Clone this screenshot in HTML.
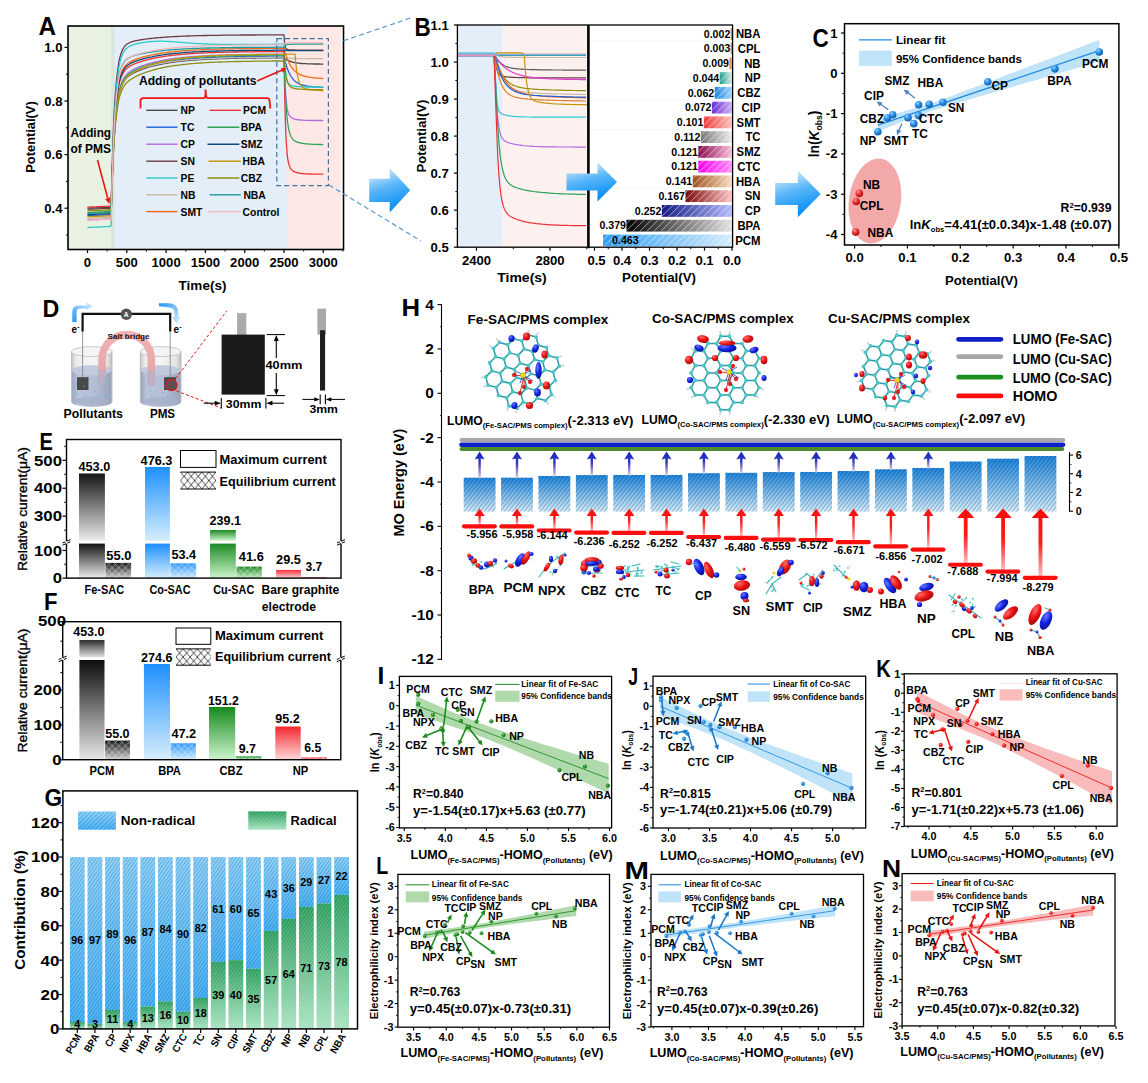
<!DOCTYPE html>
<html><head><meta charset="utf-8"><title>Figure</title>
<style>html,body{margin:0;padding:0;background:#fff}svg{display:block}</style></head><body>
<svg width="1148" height="1083" viewBox="0 0 1148 1083" font-family="'Liberation Sans', sans-serif">
<defs>
<linearGradient id="gArrow" x1="0.2" y1="0" x2="0.5" y2="1"><stop offset="0" stop-color="#e4f4fe"/><stop offset="0.45" stop-color="#5ab6f8"/><stop offset="1" stop-color="#008cf6"/></linearGradient>
<pattern id="hatchW" width="5" height="5" patternUnits="userSpaceOnUse" patternTransform="rotate(-45)"><line x1="0" y1="2.5" x2="5" y2="2.5" stroke="#fff" stroke-width="0.7" stroke-opacity="0.75"/></pattern>
<radialGradient id="sphB" cx="0.35" cy="0.3" r="0.7"><stop offset="0" stop-color="#8fd0ff"/><stop offset="0.5" stop-color="#2a8fe6"/><stop offset="1" stop-color="#0f5fb0"/></radialGradient>
<radialGradient id="sphR" cx="0.35" cy="0.3" r="0.7"><stop offset="0" stop-color="#ff9a9a"/><stop offset="0.5" stop-color="#ee3030"/><stop offset="1" stop-color="#b01010"/></radialGradient>
<radialGradient id="sphG" cx="0.35" cy="0.3" r="0.7"><stop offset="0" stop-color="#9fe09f"/><stop offset="0.5" stop-color="#2f9a2f"/><stop offset="1" stop-color="#0f600f"/></radialGradient>
<linearGradient id="gGlass" x1="0" y1="0" x2="1" y2="0"><stop offset="0" stop-color="#c4c4c4"/><stop offset="0.12" stop-color="#ececec"/><stop offset="0.5" stop-color="#f6f6f6"/><stop offset="0.88" stop-color="#e4e4e4"/><stop offset="1" stop-color="#bdbdbd"/></linearGradient>
<linearGradient id="gLiq" x1="0" y1="0" x2="1" y2="0"><stop offset="0" stop-color="#9aa5c0"/><stop offset="0.15" stop-color="#bcc5da"/><stop offset="0.6" stop-color="#b4bdd4"/><stop offset="1" stop-color="#98a3bd"/></linearGradient>
<linearGradient id="gSalt" x1="0" y1="0" x2="0" y2="1"><stop offset="0" stop-color="#f0b4b4"/><stop offset="0.7" stop-color="#e8a6a8"/><stop offset="1" stop-color="#d4a0ac" stop-opacity="0.7"/></linearGradient>
<linearGradient id="gEarL" x1="0" y1="1" x2="1" y2="0"><stop offset="0" stop-color="#1f94f5"/><stop offset="1" stop-color="#dff1fe"/></linearGradient>
<linearGradient id="gEarR" x1="0" y1="0" x2="1" y2="1"><stop offset="0" stop-color="#1f94f5"/><stop offset="1" stop-color="#dff1fe"/></linearGradient>
<pattern id="xhW" width="6.6" height="6.6" patternUnits="userSpaceOnUse"><path d="M0,0 L6.6,6.6 M6.6,0 L0,6.6" stroke="#fff" stroke-width="0.7" stroke-opacity="0.55"/></pattern>
<linearGradient id="gNR" x1="0" y1="0" x2="0" y2="1"><stop offset="0" stop-color="#8cd3ff"/><stop offset="1" stop-color="#4ab5fb"/></linearGradient>
<linearGradient id="gRad" x1="0" y1="0" x2="0" y2="1"><stop offset="0" stop-color="#2b9c5c"/><stop offset="1" stop-color="#a9e4c1"/></linearGradient>
<pattern id="hatchG" width="2.8" height="8" patternUnits="userSpaceOnUse" patternTransform="rotate(35)"><line x1="1.4" y1="0" x2="1.4" y2="8" stroke="#000" stroke-width="0.4" stroke-opacity="0.7"/></pattern>
<pattern id="hatchGL" width="3.1" height="8" patternUnits="userSpaceOnUse" patternTransform="rotate(45)"><line x1="1.5" y1="0" x2="1.5" y2="8" stroke="#000" stroke-width="0.42" stroke-opacity="0.72"/></pattern>
<pattern id="hatchG2" width="2.8" height="8" patternUnits="userSpaceOnUse" patternTransform="rotate(35)"><line x1="1.4" y1="0" x2="1.4" y2="8" stroke="#d8f4e4" stroke-width="0.45" stroke-opacity="0.6"/></pattern>
<linearGradient id="gHbox" x1="0" y1="0" x2="0" y2="1"><stop offset="0" stop-color="#1f86de"/><stop offset="1" stop-color="#d2ecfb"/></linearGradient>
<pattern id="hatchH" width="3.2" height="8" patternUnits="userSpaceOnUse" patternTransform="rotate(38)"><line x1="1.6" y1="0" x2="1.6" y2="8" stroke="#0a1622" stroke-width="0.5" stroke-opacity="0.62"/></pattern>
<linearGradient id="gBarr" x1="0" y1="0" x2="0" y2="1"><stop offset="0" stop-color="#1226c8"/><stop offset="0.45" stop-color="#3038c0"/><stop offset="1" stop-color="#e8c8e0"/></linearGradient>
<linearGradient id="gRarr" x1="0" y1="0" x2="0" y2="1"><stop offset="0" stop-color="#fa0a0a"/><stop offset="0.5" stop-color="#fa1e1e"/><stop offset="1" stop-color="#fcc0c4"/></linearGradient>
<radialGradient id="lobR" cx="0.35" cy="0.3" r="0.8"><stop offset="0" stop-color="#ff6a6a"/><stop offset="0.5" stop-color="#e81212"/><stop offset="1" stop-color="#a00808"/></radialGradient>
<radialGradient id="lobB" cx="0.35" cy="0.3" r="0.8"><stop offset="0" stop-color="#6a78ff"/><stop offset="0.5" stop-color="#1222e0"/><stop offset="1" stop-color="#0a0e90"/></radialGradient>
<linearGradient id="gB0" x1="0" y1="0" x2="1" y2="0"><stop offset="0" stop-color="#b5651d"/><stop offset="1" stop-color="#e8b080"/></linearGradient>
<linearGradient id="gB1" x1="0" y1="0" x2="1" y2="0"><stop offset="0" stop-color="#b5651d"/><stop offset="1" stop-color="#e8b080"/></linearGradient>
<linearGradient id="gB2" x1="0" y1="0" x2="1" y2="0"><stop offset="0" stop-color="#d07a28"/><stop offset="1" stop-color="#f0c090"/></linearGradient>
<linearGradient id="gB3" x1="0" y1="0" x2="1" y2="0"><stop offset="0" stop-color="#1f9d8a"/><stop offset="1" stop-color="#d4f0ea"/></linearGradient>
<linearGradient id="gB4" x1="0" y1="0" x2="1" y2="0"><stop offset="0" stop-color="#1f86e0"/><stop offset="1" stop-color="#a8d6fa"/></linearGradient>
<linearGradient id="gB5" x1="0" y1="0" x2="1" y2="0"><stop offset="0" stop-color="#6a2fd6"/><stop offset="1" stop-color="#cdb3f4"/></linearGradient>
<linearGradient id="gB6" x1="0" y1="0" x2="1" y2="0"><stop offset="0" stop-color="#f03c3c"/><stop offset="1" stop-color="#fcc0c0"/></linearGradient>
<linearGradient id="gB7" x1="0" y1="0" x2="1" y2="0"><stop offset="0" stop-color="#7a7a7a"/><stop offset="1" stop-color="#ececec"/></linearGradient>
<linearGradient id="gB8" x1="0" y1="0" x2="1" y2="0"><stop offset="0" stop-color="#8b0a50"/><stop offset="1" stop-color="#f9c0dc"/></linearGradient>
<linearGradient id="gB9" x1="0" y1="0" x2="1" y2="0"><stop offset="0" stop-color="#ff00f0"/><stop offset="1" stop-color="#ff90f8"/></linearGradient>
<linearGradient id="gB10" x1="0" y1="0" x2="1" y2="0"><stop offset="0" stop-color="#a0501e"/><stop offset="1" stop-color="#f8dcc0"/></linearGradient>
<linearGradient id="gB11" x1="0" y1="0" x2="1" y2="0"><stop offset="0" stop-color="#7a0c0c"/><stop offset="1" stop-color="#ffc4c4"/></linearGradient>
<linearGradient id="gB12" x1="0" y1="0" x2="1" y2="0"><stop offset="0" stop-color="#141a80"/><stop offset="1" stop-color="#b4bcff"/></linearGradient>
<linearGradient id="gB13" x1="0" y1="0" x2="1" y2="0"><stop offset="0" stop-color="#000000"/><stop offset="1" stop-color="#e4e4e4"/></linearGradient>
<linearGradient id="gB14" x1="0" y1="0" x2="1" y2="0"><stop offset="0" stop-color="#2f9ff5"/><stop offset="1" stop-color="#d4ecfc"/></linearGradient>
<linearGradient id="gEF1" x1="0" y1="0" x2="0" y2="1"><stop offset="0" stop-color="#151515"/><stop offset="1" stop-color="#ececec"/></linearGradient>
<linearGradient id="gEF2" x1="0" y1="0" x2="0" y2="1"><stop offset="0" stop-color="#151515"/><stop offset="1" stop-color="#ececec"/></linearGradient>
<linearGradient id="gEF3" x1="0" y1="0" x2="0" y2="1"><stop offset="0" stop-color="#1a1a1a"/><stop offset="1" stop-color="#d0d0d0"/></linearGradient>
<linearGradient id="gEF4" x1="0" y1="0" x2="0" y2="1"><stop offset="0" stop-color="#1e90ff"/><stop offset="1" stop-color="#d6eefc"/></linearGradient>
<linearGradient id="gEF5" x1="0" y1="0" x2="0" y2="1"><stop offset="0" stop-color="#1e90ff"/><stop offset="1" stop-color="#d6eefc"/></linearGradient>
<linearGradient id="gEF6" x1="0" y1="0" x2="0" y2="1"><stop offset="0" stop-color="#2e98fb"/><stop offset="1" stop-color="#cfeafc"/></linearGradient>
<linearGradient id="gEF7" x1="0" y1="0" x2="0" y2="1"><stop offset="0" stop-color="#1c8a22"/><stop offset="1" stop-color="#ccf4cc"/></linearGradient>
<linearGradient id="gEF8" x1="0" y1="0" x2="0" y2="1"><stop offset="0" stop-color="#1c8a22"/><stop offset="1" stop-color="#ccf4cc"/></linearGradient>
<linearGradient id="gEF9" x1="0" y1="0" x2="0" y2="1"><stop offset="0" stop-color="#1f8a26"/><stop offset="1" stop-color="#c2ecc2"/></linearGradient>
<linearGradient id="gEF10" x1="0" y1="0" x2="0" y2="1"><stop offset="0" stop-color="#f03038"/><stop offset="1" stop-color="#fcd4d4"/></linearGradient>
<linearGradient id="gEF11" x1="0" y1="0" x2="0" y2="1"><stop offset="0" stop-color="#f03038"/><stop offset="1" stop-color="#fbc8c8"/></linearGradient>
<pattern id="xhK472" x="180.5" y="472.1" width="7.1" height="8.45" patternUnits="userSpaceOnUse"><path d="M0,0 L7.1,8.45 M7.1,0 L0,8.45" stroke="#000" stroke-width="0.7"/></pattern>
<linearGradient id="gEF12" x1="0" y1="0" x2="0" y2="1"><stop offset="0" stop-color="#2a2a2a"/><stop offset="1" stop-color="#e4e4e4"/></linearGradient>
<linearGradient id="gEF13" x1="0" y1="0" x2="0" y2="1"><stop offset="0" stop-color="#0c0c0c"/><stop offset="1" stop-color="#e8e8e8"/></linearGradient>
<linearGradient id="gEF14" x1="0" y1="0" x2="0" y2="1"><stop offset="0" stop-color="#1a1a1a"/><stop offset="1" stop-color="#d0d0d0"/></linearGradient>
<linearGradient id="gEF15" x1="0" y1="0" x2="0" y2="1"><stop offset="0" stop-color="#1e90ff"/><stop offset="1" stop-color="#d6eefc"/></linearGradient>
<linearGradient id="gEF16" x1="0" y1="0" x2="0" y2="1"><stop offset="0" stop-color="#2e98fb"/><stop offset="1" stop-color="#cfeafc"/></linearGradient>
<linearGradient id="gEF17" x1="0" y1="0" x2="0" y2="1"><stop offset="0" stop-color="#158a1c"/><stop offset="1" stop-color="#ccf4cc"/></linearGradient>
<linearGradient id="gEF18" x1="0" y1="0" x2="0" y2="1"><stop offset="0" stop-color="#1f8a26"/><stop offset="1" stop-color="#c2ecc2"/></linearGradient>
<linearGradient id="gEF19" x1="0" y1="0" x2="0" y2="1"><stop offset="0" stop-color="#f42830"/><stop offset="1" stop-color="#fcd8d8"/></linearGradient>
<linearGradient id="gEF20" x1="0" y1="0" x2="0" y2="1"><stop offset="0" stop-color="#f03038"/><stop offset="1" stop-color="#fbc8c8"/></linearGradient>
<pattern id="xhK648" x="176" y="648.9" width="7.1" height="8.15" patternUnits="userSpaceOnUse"><path d="M0,0 L7.1,8.15 M7.1,0 L0,8.15" stroke="#000" stroke-width="0.7"/></pattern>
</defs>
<rect width="1148" height="1083" fill="#fff"/>
<rect x="68.00" y="26.00" width="45.44" height="223.50" fill="#e8f1e2" stroke="none" stroke-width="1" />
<rect x="111.08" y="26.00" width="176.06" height="223.50" fill="#e3eef8" stroke="none" stroke-width="1" />
<rect x="111.08" y="26.00" width="3.54" height="223.50" fill="#d8e6e0" stroke="none" stroke-width="1" />
<rect x="287.14" y="26.00" width="53.86" height="223.50" fill="#fde8e6" stroke="none" stroke-width="1" />
<clipPath id="clipA"><rect x="68" y="26" width="275.5" height="223.5"/></clipPath>
<g clip-path="url(#clipA)">
<path d="M87.5,208.2 L89.1,208.1 L90.6,208.1 L92.2,208.0 L93.8,207.9 L95.4,207.8 L96.9,207.8 L98.5,207.7 L100.1,207.6 L101.6,207.6 L103.2,207.5 L104.8,207.4 L106.4,207.3 L107.9,207.3 L109.5,207.2 L111.1,208.2 L111.5,195.2 L111.9,183.5 L112.3,173.0 L112.7,163.6 L113.0,155.1 L113.4,147.5 L113.8,140.7 L114.2,134.5 L114.6,129.0 L115.0,124.0 L115.4,119.5 L115.8,115.5 L116.2,111.8 L116.6,108.5 L117.0,105.5 L117.4,102.8 L117.8,100.4 L118.2,98.2 L118.5,96.2 L118.9,94.4 L119.3,92.7 L119.7,91.2 L120.1,89.8 L120.5,88.6 L120.9,87.4 L121.3,86.4 L121.7,85.4 L122.1,84.5 L122.5,83.7 L122.9,83.0 L123.3,82.3 L123.7,81.6 L124.0,81.0 L124.4,80.4 L124.8,79.9 L125.2,79.4 L125.6,79.0 L126.0,78.5 L126.4,78.1 L126.8,77.7 L127.2,77.3 L127.6,77.0 L128.0,76.7 L128.4,76.3 L128.8,76.0 L129.2,75.7 L129.6,75.4 L129.9,75.2 L130.3,74.9 L130.7,74.7 L131.1,74.4 L131.5,74.2 L131.9,73.9 L132.3,73.7 L132.7,73.5 L133.1,73.3 L133.5,73.1 L133.9,72.9 L134.3,72.7 L134.7,72.5 L135.1,72.3 L135.4,72.1 L135.8,71.9 L136.2,71.7 L136.6,71.6 L137.0,71.4 L137.4,71.2 L137.8,71.1 L138.2,70.9 L138.6,70.7 L139.0,70.6 L139.4,70.4 L139.8,70.3 L140.2,70.1 L140.6,69.9 L140.9,69.8 L141.3,69.7 L141.7,69.5 L142.1,69.4 L142.5,69.2 L144.1,68.7 L145.7,68.2 L147.2,67.7 L148.8,67.2 L150.4,66.7 L152.0,66.3 L153.5,65.9 L155.1,65.5 L156.7,65.2 L158.2,64.8 L159.8,64.5 L161.4,64.1 L163.0,63.8 L164.5,63.6 L166.1,63.3 L167.7,63.0 L169.2,62.8 L170.8,62.5 L172.4,62.3 L174.0,62.1 L175.5,61.9 L177.1,61.7 L178.7,61.5 L180.2,61.3 L181.8,61.1 L183.4,61.0 L185.0,60.8 L186.5,60.6 L188.1,60.5 L189.7,60.4 L191.3,60.2 L192.8,60.1 L194.4,60.0 L196.0,59.9 L197.5,59.8 L199.1,59.7 L200.7,59.6 L202.3,59.5 L203.8,59.4 L205.4,59.3 L207.0,59.2 L208.5,59.2 L210.1,59.1 L211.7,59.0 L213.3,58.9 L214.8,58.9 L216.4,58.8 L218.0,58.8 L219.5,58.7 L221.1,58.7 L222.7,58.6 L224.3,58.6 L225.8,58.5 L227.4,58.5 L229.0,58.4 L230.6,58.4 L232.1,58.4 L233.7,58.3 L235.3,58.3 L236.8,58.3 L238.4,58.2 L240.0,58.2 L241.6,58.2 L243.1,58.1 L244.7,58.1 L246.3,58.1 L247.8,58.1 L249.4,58.0 L251.0,58.0 L252.6,58.0 L254.1,58.0 L255.7,58.0 L257.3,57.9 L258.8,57.9 L260.4,57.9 L262.0,57.9 L263.6,57.9 L265.1,57.9 L266.7,57.9 L268.3,57.8 L269.9,57.8 L271.4,57.8 L273.0,57.8 L274.6,57.8 L276.1,57.8 L277.7,57.8 L279.3,57.8 L280.9,57.8 L282.4,57.8 L284.0,57.6 L284.4,57.9 L284.8,58.3 L285.2,58.6 L285.6,58.9 L286.0,59.2 L286.4,59.4 L286.8,59.7 L287.1,59.9 L287.5,60.1 L287.9,60.3 L288.3,60.5 L288.7,60.7 L289.1,60.9 L289.5,61.1 L289.9,61.2 L290.3,61.4 L290.7,61.5 L291.1,61.6 L291.5,61.8 L291.9,61.9 L292.3,62.0 L292.6,62.1 L293.0,62.2 L293.4,62.3 L293.8,62.4 L294.2,62.5 L294.6,62.6 L295.0,62.6 L295.4,62.7 L295.8,62.8 L296.2,62.8 L296.6,62.9 L297.0,63.0 L297.4,63.0 L297.8,63.1 L298.1,63.1 L298.5,63.2 L298.9,63.2 L299.3,63.3 L299.7,63.3 L300.1,63.3 L300.5,63.4 L300.9,63.4 L301.3,63.4 L301.7,63.5 L302.1,63.5 L302.5,63.5 L302.9,63.6 L303.3,63.6 L303.6,63.6 L304.0,63.6 L304.4,63.6 L304.8,63.7 L305.2,63.7 L305.6,63.7 L306.0,63.7 L306.4,63.7 L306.8,63.8 L307.2,63.8 L307.6,63.8 L309.2,63.8 L310.7,63.9 L312.3,63.9 L313.9,64.0 L315.4,64.0 L317.0,64.0 L318.6,64.0 L320.2,64.1 L321.7,64.1 L323.3,64.1" stroke="#4a4a4a" stroke-width="1.3" fill="none" stroke-linejoin="round" />
<path d="M87.5,215.7 L89.1,215.6 L90.6,215.6 L92.2,215.5 L93.8,215.4 L95.4,215.3 L96.9,215.3 L98.5,215.2 L100.1,215.1 L101.6,215.1 L103.2,215.0 L104.8,214.9 L106.4,214.8 L107.9,214.8 L109.5,214.7 L111.1,215.7 L111.5,201.9 L111.9,189.5 L112.3,178.4 L112.7,168.4 L113.0,159.4 L113.4,151.3 L113.8,144.1 L114.2,137.6 L114.6,131.7 L115.0,126.4 L115.4,121.6 L115.8,117.4 L116.2,113.5 L116.6,110.0 L117.0,106.8 L117.4,104.0 L117.8,101.4 L118.2,99.1 L118.5,96.9 L118.9,95.0 L119.3,93.2 L119.7,91.6 L120.1,90.2 L120.5,88.9 L120.9,87.6 L121.3,86.5 L121.7,85.5 L122.1,84.6 L122.5,83.7 L122.9,82.9 L123.3,82.1 L123.7,81.5 L124.0,80.8 L124.4,80.2 L124.8,79.7 L125.2,79.1 L125.6,78.6 L126.0,78.2 L126.4,77.7 L126.8,77.3 L127.2,76.9 L127.6,76.6 L128.0,76.2 L128.4,75.9 L128.8,75.5 L129.2,75.2 L129.6,74.9 L129.9,74.6 L130.3,74.4 L130.7,74.1 L131.1,73.8 L131.5,73.6 L131.9,73.3 L132.3,73.1 L132.7,72.9 L133.1,72.6 L133.5,72.4 L133.9,72.2 L134.3,72.0 L134.7,71.8 L135.1,71.6 L135.4,71.4 L135.8,71.2 L136.2,71.0 L136.6,70.8 L137.0,70.6 L137.4,70.4 L137.8,70.3 L138.2,70.1 L138.6,69.9 L139.0,69.7 L139.4,69.6 L139.8,69.4 L140.2,69.2 L140.6,69.1 L140.9,68.9 L141.3,68.8 L141.7,68.6 L142.1,68.5 L142.5,68.3 L144.1,67.7 L145.7,67.2 L147.2,66.7 L148.8,66.2 L150.4,65.7 L152.0,65.2 L153.5,64.8 L155.1,64.4 L156.7,64.0 L158.2,63.6 L159.8,63.3 L161.4,62.9 L163.0,62.6 L164.5,62.3 L166.1,62.0 L167.7,61.7 L169.2,61.5 L170.8,61.2 L172.4,61.0 L174.0,60.7 L175.5,60.5 L177.1,60.3 L178.7,60.1 L180.2,59.9 L181.8,59.7 L183.4,59.5 L185.0,59.4 L186.5,59.2 L188.1,59.1 L189.7,58.9 L191.3,58.8 L192.8,58.7 L194.4,58.5 L196.0,58.4 L197.5,58.3 L199.1,58.2 L200.7,58.1 L202.3,58.0 L203.8,57.9 L205.4,57.8 L207.0,57.7 L208.5,57.6 L210.1,57.6 L211.7,57.5 L213.3,57.4 L214.8,57.4 L216.4,57.3 L218.0,57.2 L219.5,57.2 L221.1,57.1 L222.7,57.1 L224.3,57.0 L225.8,57.0 L227.4,56.9 L229.0,56.9 L230.6,56.8 L232.1,56.8 L233.7,56.8 L235.3,56.7 L236.8,56.7 L238.4,56.7 L240.0,56.6 L241.6,56.6 L243.1,56.6 L244.7,56.5 L246.3,56.5 L247.8,56.5 L249.4,56.5 L251.0,56.4 L252.6,56.4 L254.1,56.4 L255.7,56.4 L257.3,56.4 L258.8,56.3 L260.4,56.3 L262.0,56.3 L263.6,56.3 L265.1,56.3 L266.7,56.3 L268.3,56.2 L269.9,56.2 L271.4,56.2 L273.0,56.2 L274.6,56.2 L276.1,56.2 L277.7,56.2 L279.3,56.2 L280.9,56.2 L282.4,56.2 L284.0,56.0 L284.4,57.8 L284.8,59.5 L285.2,61.2 L285.6,62.7 L286.0,64.1 L286.4,65.5 L286.8,66.7 L287.1,67.9 L287.5,69.0 L287.9,70.1 L288.3,71.1 L288.7,72.0 L289.1,72.8 L289.5,73.7 L289.9,74.4 L290.3,75.1 L290.7,75.8 L291.1,76.5 L291.5,77.1 L291.9,77.6 L292.3,78.2 L292.6,78.7 L293.0,79.1 L293.4,79.6 L293.8,80.0 L294.2,80.4 L294.6,80.7 L295.0,81.1 L295.4,81.4 L295.8,81.7 L296.2,82.0 L296.6,82.3 L297.0,82.6 L297.4,82.8 L297.8,83.0 L298.1,83.3 L298.5,83.5 L298.9,83.7 L299.3,83.8 L299.7,84.0 L300.1,84.2 L300.5,84.3 L300.9,84.5 L301.3,84.6 L301.7,84.8 L302.1,84.9 L302.5,85.0 L302.9,85.1 L303.3,85.2 L303.6,85.3 L304.0,85.4 L304.4,85.5 L304.8,85.6 L305.2,85.7 L305.6,85.8 L306.0,85.8 L306.4,85.9 L306.8,86.0 L307.2,86.0 L307.6,86.1 L309.2,86.3 L310.7,86.5 L312.3,86.7 L313.9,86.8 L315.4,86.9 L317.0,87.0 L318.6,87.1 L320.2,87.2 L321.7,87.3 L323.3,87.3" stroke="#1f62d8" stroke-width="1.3" fill="none" stroke-linejoin="round" />
<path d="M87.5,220.0 L89.1,219.9 L90.6,219.8 L92.2,219.8 L93.8,219.7 L95.4,219.6 L96.9,219.6 L98.5,219.5 L100.1,219.4 L101.6,219.3 L103.2,219.3 L104.8,219.2 L106.4,219.1 L107.9,219.1 L109.5,219.0 L111.1,220.0 L111.5,205.3 L111.9,192.2 L112.3,180.4 L112.7,169.8 L113.0,160.3 L113.4,151.7 L113.8,144.1 L114.2,137.2 L114.6,131.0 L115.0,125.4 L115.4,120.4 L115.8,115.8 L116.2,111.8 L116.6,108.1 L117.0,104.8 L117.4,101.8 L117.8,99.1 L118.2,96.6 L118.5,94.4 L118.9,92.4 L119.3,90.5 L119.7,88.9 L120.1,87.4 L120.5,86.0 L120.9,84.7 L121.3,83.6 L121.7,82.5 L122.1,81.6 L122.5,80.7 L122.9,79.8 L123.3,79.1 L123.7,78.4 L124.0,77.7 L124.4,77.1 L124.8,76.6 L125.2,76.0 L125.6,75.6 L126.0,75.1 L126.4,74.7 L126.8,74.2 L127.2,73.9 L127.6,73.5 L128.0,73.1 L128.4,72.8 L128.8,72.5 L129.2,72.2 L129.6,71.9 L129.9,71.6 L130.3,71.4 L130.7,71.1 L131.1,70.8 L131.5,70.6 L131.9,70.4 L132.3,70.1 L132.7,69.9 L133.1,69.7 L133.5,69.5 L133.9,69.3 L134.3,69.1 L134.7,68.9 L135.1,68.7 L135.4,68.5 L135.8,68.3 L136.2,68.1 L136.6,68.0 L137.0,67.8 L137.4,67.6 L137.8,67.5 L138.2,67.3 L138.6,67.1 L139.0,67.0 L139.4,66.8 L139.8,66.7 L140.2,66.5 L140.6,66.4 L140.9,66.2 L141.3,66.1 L141.7,65.9 L142.1,65.8 L142.5,65.6 L144.1,65.1 L145.7,64.6 L147.2,64.1 L148.8,63.6 L150.4,63.2 L152.0,62.8 L153.5,62.4 L155.1,62.0 L156.7,61.6 L158.2,61.3 L159.8,60.9 L161.4,60.6 L163.0,60.3 L164.5,60.0 L166.1,59.7 L167.7,59.5 L169.2,59.2 L170.8,59.0 L172.4,58.8 L174.0,58.5 L175.5,58.3 L177.1,58.1 L178.7,58.0 L180.2,57.8 L181.8,57.6 L183.4,57.4 L185.0,57.3 L186.5,57.1 L188.1,57.0 L189.7,56.9 L191.3,56.7 L192.8,56.6 L194.4,56.5 L196.0,56.4 L197.5,56.3 L199.1,56.2 L200.7,56.1 L202.3,56.0 L203.8,55.9 L205.4,55.8 L207.0,55.7 L208.5,55.7 L210.1,55.6 L211.7,55.5 L213.3,55.5 L214.8,55.4 L216.4,55.3 L218.0,55.3 L219.5,55.2 L221.1,55.2 L222.7,55.1 L224.3,55.1 L225.8,55.0 L227.4,55.0 L229.0,54.9 L230.6,54.9 L232.1,54.9 L233.7,54.8 L235.3,54.8 L236.8,54.8 L238.4,54.7 L240.0,54.7 L241.6,54.7 L243.1,54.6 L244.7,54.6 L246.3,54.6 L247.8,54.6 L249.4,54.6 L251.0,54.5 L252.6,54.5 L254.1,54.5 L255.7,54.5 L257.3,54.5 L258.8,54.4 L260.4,54.4 L262.0,54.4 L263.6,54.4 L265.1,54.4 L266.7,54.4 L268.3,54.4 L269.9,54.3 L271.4,54.3 L273.0,54.3 L274.6,54.3 L276.1,54.3 L277.7,54.3 L279.3,54.3 L280.9,54.3 L282.4,54.3 L284.0,54.1 L284.4,67.8 L284.8,78.4 L285.2,86.8 L285.6,93.3 L286.0,98.4 L286.4,102.5 L286.8,105.7 L287.1,108.2 L287.5,110.2 L287.9,111.8 L288.3,113.1 L288.7,114.1 L289.1,115.0 L289.5,115.7 L289.9,116.2 L290.3,116.7 L290.7,117.1 L291.1,117.4 L291.5,117.7 L291.9,118.0 L292.3,118.2 L292.6,118.4 L293.0,118.6 L293.4,118.7 L293.8,118.8 L294.2,119.0 L294.6,119.1 L295.0,119.2 L295.4,119.3 L295.8,119.4 L296.2,119.4 L296.6,119.5 L297.0,119.6 L297.4,119.6 L297.8,119.7 L298.1,119.8 L298.5,119.8 L298.9,119.9 L299.3,119.9 L299.7,119.9 L300.1,120.0 L300.5,120.0 L300.9,120.0 L301.3,120.1 L301.7,120.1 L302.1,120.1 L302.5,120.2 L302.9,120.2 L303.3,120.2 L303.6,120.2 L304.0,120.3 L304.4,120.3 L304.8,120.3 L305.2,120.3 L305.6,120.3 L306.0,120.3 L306.4,120.4 L306.8,120.4 L307.2,120.4 L307.6,120.4 L309.2,120.4 L310.7,120.5 L312.3,120.5 L313.9,120.5 L315.4,120.5 L317.0,120.5 L318.6,120.5 L320.2,120.5 L321.7,120.5 L323.3,120.6" stroke="#b36be0" stroke-width="1.3" fill="none" stroke-linejoin="round" />
<path d="M87.5,209.3 L89.1,209.2 L90.6,209.1 L92.2,209.1 L93.8,209.0 L95.4,208.9 L96.9,208.8 L98.5,208.8 L100.1,208.7 L101.6,208.6 L103.2,208.6 L104.8,208.5 L106.4,208.4 L107.9,208.3 L109.5,208.3 L111.1,209.3 L111.5,192.1 L111.9,176.7 L112.3,162.8 L112.7,150.5 L113.0,139.4 L113.4,129.5 L113.8,120.6 L114.2,112.6 L114.6,105.5 L115.0,99.1 L115.4,93.3 L115.8,88.2 L116.2,83.5 L116.6,79.4 L117.0,75.7 L117.4,72.3 L117.8,69.3 L118.2,66.6 L118.5,64.2 L118.9,62.0 L119.3,60.0 L119.7,58.3 L120.1,56.7 L120.5,55.3 L120.9,54.0 L121.3,52.8 L121.7,51.7 L122.1,50.8 L122.5,49.9 L122.9,49.1 L123.3,48.4 L123.7,47.8 L124.0,47.2 L124.4,46.7 L124.8,46.2 L125.2,45.7 L125.6,45.3 L126.0,45.0 L126.4,44.6 L126.8,44.3 L127.2,44.0 L127.6,43.7 L128.0,43.5 L128.4,43.3 L128.8,43.0 L129.2,42.8 L129.6,42.7 L129.9,42.5 L130.3,42.3 L130.7,42.2 L131.1,42.0 L131.5,41.9 L131.9,41.8 L132.3,41.6 L132.7,41.5 L133.1,41.4 L133.5,41.3 L133.9,41.2 L134.3,41.1 L134.7,41.0 L135.1,40.9 L135.4,40.8 L135.8,40.7 L136.2,40.6 L136.6,40.6 L137.0,40.5 L137.4,40.4 L137.8,40.3 L138.2,40.3 L138.6,40.2 L139.0,40.1 L139.4,40.0 L139.8,40.0 L140.2,39.9 L140.6,39.8 L140.9,39.8 L141.3,39.7 L141.7,39.7 L142.1,39.6 L142.5,39.5 L144.1,39.3 L145.7,39.1 L147.2,38.9 L148.8,38.7 L150.4,38.5 L152.0,38.3 L153.5,38.2 L155.1,38.0 L156.7,37.9 L158.2,37.7 L159.8,37.6 L161.4,37.5 L163.0,37.3 L164.5,37.2 L166.1,37.1 L167.7,37.0 L169.2,36.9 L170.8,36.8 L172.4,36.7 L174.0,36.6 L175.5,36.5 L177.1,36.5 L178.7,36.4 L180.2,36.3 L181.8,36.2 L183.4,36.2 L185.0,36.1 L186.5,36.0 L188.1,36.0 L189.7,35.9 L191.3,35.9 L192.8,35.8 L194.4,35.8 L196.0,35.7 L197.5,35.7 L199.1,35.7 L200.7,35.6 L202.3,35.6 L203.8,35.5 L205.4,35.5 L207.0,35.5 L208.5,35.4 L210.1,35.4 L211.7,35.4 L213.3,35.4 L214.8,35.3 L216.4,35.3 L218.0,35.3 L219.5,35.3 L221.1,35.2 L222.7,35.2 L224.3,35.2 L225.8,35.2 L227.4,35.2 L229.0,35.1 L230.6,35.1 L232.1,35.1 L233.7,35.1 L235.3,35.1 L236.8,35.1 L238.4,35.1 L240.0,35.1 L241.6,35.0 L243.1,35.0 L244.7,35.0 L246.3,35.0 L247.8,35.0 L249.4,35.0 L251.0,35.0 L252.6,35.0 L254.1,35.0 L255.7,35.0 L257.3,34.9 L258.8,34.9 L260.4,34.9 L262.0,34.9 L263.6,34.9 L265.1,34.9 L266.7,34.9 L268.3,34.9 L269.9,34.9 L271.4,34.9 L273.0,34.9 L274.6,34.9 L276.1,34.9 L277.7,34.9 L279.3,34.9 L280.9,34.9 L282.4,34.9 L284.0,34.8 L284.4,41.1 L284.8,44.6 L285.2,46.7 L285.6,47.8 L286.0,48.5 L286.4,49.0 L286.8,49.2 L287.1,49.4 L287.5,49.5 L287.9,49.6 L288.3,49.7 L288.7,49.8 L289.1,49.8 L289.5,49.8 L289.9,49.9 L290.3,49.9 L290.7,49.9 L291.1,50.0 L291.5,50.0 L291.9,50.0 L292.3,50.0 L292.6,50.0 L293.0,50.0 L293.4,50.0 L293.8,50.0 L294.2,50.0 L294.6,50.0 L295.0,50.1 L295.4,50.1 L295.8,50.1 L296.2,50.1 L296.6,50.1 L297.0,50.1 L297.4,50.1 L297.8,50.1 L298.1,50.1 L298.5,50.1 L298.9,50.1 L299.3,50.1 L299.7,50.1 L300.1,50.1 L300.5,50.1 L300.9,50.1 L301.3,50.1 L301.7,50.1 L302.1,50.1 L302.5,50.1 L302.9,50.1 L303.3,50.1 L303.6,50.1 L304.0,50.1 L304.4,50.1 L304.8,50.1 L305.2,50.1 L305.6,50.1 L306.0,50.1 L306.4,50.1 L306.8,50.1 L307.2,50.1 L307.6,50.1 L309.2,50.1 L310.7,50.1 L312.3,50.1 L313.9,50.1 L315.4,50.1 L317.0,50.1 L318.6,50.1 L320.2,50.1 L321.7,50.1 L323.3,50.1" stroke="#6e3b44" stroke-width="1.3" fill="none" stroke-linejoin="round" />
<path d="M87.5,227.5 L89.1,227.4 L90.6,227.4 L92.2,227.3 L93.8,227.2 L95.4,227.1 L96.9,227.1 L98.5,227.0 L100.1,226.9 L101.6,226.9 L103.2,226.8 L104.8,226.7 L106.4,226.6 L107.9,226.6 L109.5,226.5 L111.1,225.5 L111.5,207.1 L111.9,190.5 L112.3,175.7 L112.7,162.4 L113.0,150.6 L113.4,139.9 L113.8,130.4 L114.2,121.8 L114.6,114.1 L115.0,107.3 L115.4,101.1 L115.8,95.6 L116.2,90.6 L116.6,86.1 L117.0,82.1 L117.4,78.5 L117.8,75.3 L118.2,72.4 L118.5,69.8 L118.9,67.5 L119.3,65.3 L119.7,63.4 L120.1,61.7 L120.5,60.2 L120.9,58.8 L121.3,57.5 L121.7,56.4 L122.1,55.3 L122.5,54.4 L122.9,53.5 L123.3,52.8 L123.7,52.0 L124.0,51.4 L124.4,50.8 L124.8,50.3 L125.2,49.8 L125.6,49.3 L126.0,48.9 L126.4,48.5 L126.8,48.2 L127.2,47.9 L127.6,47.6 L128.0,47.3 L128.4,47.0 L128.8,46.8 L129.2,46.5 L129.6,46.3 L129.9,46.1 L130.3,45.9 L130.7,45.7 L131.1,45.6 L131.5,45.4 L131.9,45.2 L132.3,45.1 L132.7,45.0 L133.1,44.8 L133.5,44.7 L133.9,44.6 L134.3,44.4 L134.7,44.3 L135.1,44.2 L135.4,44.1 L135.8,44.0 L136.2,43.9 L136.6,43.8 L137.0,43.7 L137.4,43.6 L137.8,43.5 L138.2,43.4 L138.6,43.3 L139.0,43.3 L139.4,43.2 L139.8,43.1 L140.2,43.0 L140.6,42.9 L140.9,42.9 L141.3,42.8 L141.7,42.7 L142.1,42.7 L142.5,42.6 L144.1,42.3 L145.7,42.1 L147.2,41.9 L148.8,41.8 L150.4,41.6 L152.0,41.5 L153.5,41.4 L155.1,41.3 L156.7,41.3 L158.2,41.2 L159.8,41.2 L161.4,41.2 L163.0,41.2 L164.5,41.3 L166.1,41.3 L167.7,41.4 L169.2,41.5 L170.8,41.6 L172.4,41.7 L174.0,41.8 L175.5,41.9 L177.1,42.0 L178.7,42.2 L180.2,42.3 L181.8,42.4 L183.4,42.6 L185.0,42.7 L186.5,42.8 L188.1,42.9 L189.7,43.1 L191.3,43.2 L192.8,43.3 L194.4,43.4 L196.0,43.5 L197.5,43.6 L199.1,43.7 L200.7,43.7 L202.3,43.8 L203.8,43.9 L205.4,44.0 L207.0,44.0 L208.5,44.1 L210.1,44.1 L211.7,44.1 L213.3,44.2 L214.8,44.2 L216.4,44.2 L218.0,44.3 L219.5,44.3 L221.1,44.3 L222.7,44.3 L224.3,44.3 L225.8,44.3 L227.4,44.3 L229.0,44.3 L230.6,44.3 L232.1,44.3 L233.7,44.3 L235.3,44.3 L236.8,44.3 L238.4,44.3 L240.0,44.3 L241.6,44.3 L243.1,44.3 L244.7,44.3 L246.3,44.3 L247.8,44.3 L249.4,44.3 L251.0,44.3 L252.6,44.3 L254.1,44.3 L255.7,44.3 L257.3,44.3 L258.8,44.3 L260.4,44.3 L262.0,44.3 L263.6,44.3 L265.1,44.3 L266.7,44.3 L268.3,44.3 L269.9,44.3 L271.4,44.3 L273.0,44.3 L274.6,44.2 L276.1,44.2 L277.7,44.2 L279.3,44.2 L280.9,44.2 L282.4,44.2 L284.0,44.2 L284.4,53.9 L284.8,61.3 L285.2,66.9 L285.6,71.2 L286.0,74.4 L286.4,76.9 L286.8,78.8 L287.1,80.3 L287.5,81.5 L287.9,82.4 L288.3,83.1 L288.7,83.7 L289.1,84.1 L289.5,84.5 L289.9,84.8 L290.3,85.0 L290.7,85.2 L291.1,85.4 L291.5,85.6 L291.9,85.7 L292.3,85.8 L292.6,85.9 L293.0,86.0 L293.4,86.1 L293.8,86.2 L294.2,86.2 L294.6,86.3 L295.0,86.4 L295.4,86.4 L295.8,86.5 L296.2,86.5 L296.6,86.5 L297.0,86.6 L297.4,86.6 L297.8,86.6 L298.1,86.7 L298.5,86.7 L298.9,86.7 L299.3,86.7 L299.7,86.8 L300.1,86.8 L300.5,86.8 L300.9,86.8 L301.3,86.8 L301.7,86.9 L302.1,86.9 L302.5,86.9 L302.9,86.9 L303.3,86.9 L303.6,86.9 L304.0,86.9 L304.4,86.9 L304.8,86.9 L305.2,87.0 L305.6,87.0 L306.0,87.0 L306.4,87.0 L306.8,87.0 L307.2,87.0 L307.6,87.0 L309.2,87.0 L310.7,87.0 L312.3,87.0 L313.9,87.0 L315.4,87.0 L317.0,87.1 L318.6,87.1 L320.2,87.1 L321.7,87.1 L323.3,87.1" stroke="#2cc9c9" stroke-width="1.3" fill="none" stroke-linejoin="round" />
<path d="M87.5,218.4 L89.1,218.3 L90.6,218.2 L92.2,218.2 L93.8,218.1 L95.4,218.0 L96.9,218.0 L98.5,217.9 L100.1,217.8 L101.6,217.7 L103.2,217.7 L104.8,217.6 L106.4,217.5 L107.9,217.5 L109.5,217.4 L111.1,218.4 L111.5,204.1 L111.9,191.3 L112.3,179.9 L112.7,169.6 L113.0,160.3 L113.4,152.0 L113.8,144.5 L114.2,137.8 L114.6,131.8 L115.0,126.4 L115.4,121.5 L115.8,117.1 L116.2,113.1 L116.6,109.6 L117.0,106.3 L117.4,103.4 L117.8,100.8 L118.2,98.4 L118.5,96.2 L118.9,94.3 L119.3,92.5 L119.7,90.9 L120.1,89.4 L120.5,88.1 L120.9,86.8 L121.3,85.7 L121.7,84.7 L122.1,83.8 L122.5,82.9 L122.9,82.1 L123.3,81.3 L123.7,80.7 L124.0,80.0 L124.4,79.4 L124.8,78.9 L125.2,78.4 L125.6,77.9 L126.0,77.5 L126.4,77.0 L126.8,76.6 L127.2,76.3 L127.6,75.9 L128.0,75.6 L128.4,75.2 L128.8,74.9 L129.2,74.6 L129.6,74.4 L129.9,74.1 L130.3,73.8 L130.7,73.6 L131.1,73.3 L131.5,73.1 L131.9,72.9 L132.3,72.6 L132.7,72.4 L133.1,72.2 L133.5,72.0 L133.9,71.8 L134.3,71.6 L134.7,71.4 L135.1,71.2 L135.4,71.1 L135.8,70.9 L136.2,70.7 L136.6,70.5 L137.0,70.4 L137.4,70.2 L137.8,70.0 L138.2,69.9 L138.6,69.7 L139.0,69.6 L139.4,69.4 L139.8,69.3 L140.2,69.1 L140.6,69.0 L140.9,68.8 L141.3,68.7 L141.7,68.5 L142.1,68.4 L142.5,68.3 L144.1,67.7 L145.7,67.2 L147.2,66.8 L148.8,66.3 L150.4,65.9 L152.0,65.5 L153.5,65.1 L155.1,64.7 L156.7,64.3 L158.2,64.0 L159.8,63.7 L161.4,63.4 L163.0,63.1 L164.5,62.8 L166.1,62.5 L167.7,62.3 L169.2,62.0 L170.8,61.8 L172.4,61.6 L174.0,61.4 L175.5,61.2 L177.1,61.0 L178.7,60.8 L180.2,60.6 L181.8,60.5 L183.4,60.3 L185.0,60.1 L186.5,60.0 L188.1,59.9 L189.7,59.7 L191.3,59.6 L192.8,59.5 L194.4,59.4 L196.0,59.3 L197.5,59.2 L199.1,59.1 L200.7,59.0 L202.3,58.9 L203.8,58.8 L205.4,58.7 L207.0,58.6 L208.5,58.6 L210.1,58.5 L211.7,58.4 L213.3,58.4 L214.8,58.3 L216.4,58.2 L218.0,58.2 L219.5,58.1 L221.1,58.1 L222.7,58.0 L224.3,58.0 L225.8,57.9 L227.4,57.9 L229.0,57.9 L230.6,57.8 L232.1,57.8 L233.7,57.8 L235.3,57.7 L236.8,57.7 L238.4,57.7 L240.0,57.6 L241.6,57.6 L243.1,57.6 L244.7,57.6 L246.3,57.5 L247.8,57.5 L249.4,57.5 L251.0,57.5 L252.6,57.4 L254.1,57.4 L255.7,57.4 L257.3,57.4 L258.8,57.4 L260.4,57.4 L262.0,57.3 L263.6,57.3 L265.1,57.3 L266.7,57.3 L268.3,57.3 L269.9,57.3 L271.4,57.3 L273.0,57.3 L274.6,57.3 L276.1,57.2 L277.7,57.2 L279.3,57.2 L280.9,57.2 L282.4,57.2 L284.0,57.0 L284.4,57.2 L284.8,57.4 L285.2,57.5 L285.6,57.6 L286.0,57.7 L286.4,57.8 L286.8,57.9 L287.1,58.0 L287.5,58.0 L287.9,58.1 L288.3,58.1 L288.7,58.2 L289.1,58.2 L289.5,58.3 L289.9,58.3 L290.3,58.3 L290.7,58.4 L291.1,58.4 L291.5,58.4 L291.9,58.4 L292.3,58.4 L292.6,58.5 L293.0,58.5 L293.4,58.5 L293.8,58.5 L294.2,58.5 L294.6,58.5 L295.0,58.5 L295.4,58.5 L295.8,58.5 L296.2,58.5 L296.6,58.6 L297.0,58.6 L297.4,58.6 L297.8,58.6 L298.1,58.6 L298.5,58.6 L298.9,58.6 L299.3,58.6 L299.7,58.6 L300.1,58.6 L300.5,58.6 L300.9,58.6 L301.3,58.6 L301.7,58.6 L302.1,58.6 L302.5,58.6 L302.9,58.6 L303.3,58.6 L303.6,58.6 L304.0,58.6 L304.4,58.6 L304.8,58.6 L305.2,58.6 L305.6,58.6 L306.0,58.6 L306.4,58.6 L306.8,58.6 L307.2,58.6 L307.6,58.6 L309.2,58.6 L310.7,58.6 L312.3,58.6 L313.9,58.6 L315.4,58.6 L317.0,58.6 L318.6,58.6 L320.2,58.6 L321.7,58.6 L323.3,58.6" stroke="#c9b9a2" stroke-width="1.3" fill="none" stroke-linejoin="round" />
<path d="M87.5,213.6 L89.1,213.5 L90.6,213.4 L92.2,213.3 L93.8,213.3 L95.4,213.2 L96.9,213.1 L98.5,213.1 L100.1,213.0 L101.6,212.9 L103.2,212.8 L104.8,212.8 L106.4,212.7 L107.9,212.6 L109.5,212.6 L111.1,213.6 L111.5,198.3 L111.9,184.7 L112.3,172.4 L112.7,161.5 L113.0,151.6 L113.4,142.8 L113.8,134.8 L114.2,127.7 L114.6,121.3 L115.0,115.6 L115.4,110.4 L115.8,105.8 L116.2,101.6 L116.6,97.8 L117.0,94.4 L117.4,91.4 L117.8,88.6 L118.2,86.1 L118.5,83.9 L118.9,81.9 L119.3,80.0 L119.7,78.4 L120.1,76.9 L120.5,75.5 L120.9,74.2 L121.3,73.1 L121.7,72.1 L122.1,71.1 L122.5,70.3 L122.9,69.5 L123.3,68.7 L123.7,68.1 L124.0,67.5 L124.4,66.9 L124.8,66.4 L125.2,65.9 L125.6,65.4 L126.0,65.0 L126.4,64.6 L126.8,64.3 L127.2,63.9 L127.6,63.6 L128.0,63.3 L128.4,63.0 L128.8,62.7 L129.2,62.4 L129.6,62.2 L129.9,62.0 L130.3,61.7 L130.7,61.5 L131.1,61.3 L131.5,61.1 L131.9,60.9 L132.3,60.7 L132.7,60.5 L133.1,60.4 L133.5,60.2 L133.9,60.0 L134.3,59.9 L134.7,59.7 L135.1,59.6 L135.4,59.4 L135.8,59.3 L136.2,59.1 L136.6,59.0 L137.0,58.8 L137.4,58.7 L137.8,58.6 L138.2,58.5 L138.6,58.3 L139.0,58.2 L139.4,58.1 L139.8,58.0 L140.2,57.8 L140.6,57.7 L140.9,57.6 L141.3,57.5 L141.7,57.4 L142.1,57.3 L142.5,57.2 L144.1,56.7 L145.7,56.3 L147.2,56.0 L148.8,55.6 L150.4,55.2 L152.0,54.9 L153.5,54.6 L155.1,54.3 L156.7,54.0 L158.2,53.8 L159.8,53.5 L161.4,53.2 L163.0,53.0 L164.5,52.8 L166.1,52.6 L167.7,52.4 L169.2,52.2 L170.8,52.0 L172.4,51.8 L174.0,51.7 L175.5,51.5 L177.1,51.3 L178.7,51.2 L180.2,51.1 L181.8,50.9 L183.4,50.8 L185.0,50.7 L186.5,50.6 L188.1,50.4 L189.7,50.3 L191.3,50.2 L192.8,50.2 L194.4,50.1 L196.0,50.0 L197.5,49.9 L199.1,49.8 L200.7,49.7 L202.3,49.7 L203.8,49.6 L205.4,49.5 L207.0,49.5 L208.5,49.4 L210.1,49.4 L211.7,49.3 L213.3,49.3 L214.8,49.2 L216.4,49.2 L218.0,49.1 L219.5,49.1 L221.1,49.0 L222.7,49.0 L224.3,49.0 L225.8,48.9 L227.4,48.9 L229.0,48.9 L230.6,48.8 L232.1,48.8 L233.7,48.8 L235.3,48.7 L236.8,48.7 L238.4,48.7 L240.0,48.7 L241.6,48.6 L243.1,48.6 L244.7,48.6 L246.3,48.6 L247.8,48.6 L249.4,48.6 L251.0,48.5 L252.6,48.5 L254.1,48.5 L255.7,48.5 L257.3,48.5 L258.8,48.5 L260.4,48.5 L262.0,48.4 L263.6,48.4 L265.1,48.4 L266.7,48.4 L268.3,48.4 L269.9,48.4 L271.4,48.4 L273.0,48.4 L274.6,48.4 L276.1,48.4 L277.7,48.4 L279.3,48.3 L280.9,48.3 L282.4,48.3 L284.0,48.2 L284.4,49.7 L284.8,51.2 L285.2,52.5 L285.6,53.8 L286.0,55.1 L286.4,56.3 L286.8,57.4 L287.1,58.4 L287.5,59.4 L287.9,60.4 L288.3,61.2 L288.7,62.1 L289.1,62.9 L289.5,63.7 L289.9,64.4 L290.3,65.1 L290.7,65.7 L291.1,66.4 L291.5,66.9 L291.9,67.5 L292.3,68.0 L292.6,68.5 L293.0,69.0 L293.4,69.5 L293.8,69.9 L294.2,70.3 L294.6,70.7 L295.0,71.1 L295.4,71.4 L295.8,71.8 L296.2,72.1 L296.6,72.4 L297.0,72.7 L297.4,72.9 L297.8,73.2 L298.1,73.4 L298.5,73.7 L298.9,73.9 L299.3,74.1 L299.7,74.3 L300.1,74.5 L300.5,74.7 L300.9,74.9 L301.3,75.0 L301.7,75.2 L302.1,75.4 L302.5,75.5 L302.9,75.6 L303.3,75.8 L303.6,75.9 L304.0,76.0 L304.4,76.1 L304.8,76.2 L305.2,76.3 L305.6,76.4 L306.0,76.5 L306.4,76.6 L306.8,76.7 L307.2,76.8 L307.6,76.9 L309.2,77.2 L310.7,77.4 L312.3,77.6 L313.9,77.8 L315.4,78.0 L317.0,78.1 L318.6,78.2 L320.2,78.3 L321.7,78.4 L323.3,78.5" stroke="#f26a1b" stroke-width="1.3" fill="none" stroke-linejoin="round" />
<path d="M87.5,207.1 L89.1,207.1 L90.6,207.0 L92.2,206.9 L93.8,206.8 L95.4,206.8 L96.9,206.7 L98.5,206.6 L100.1,206.6 L101.6,206.5 L103.2,206.4 L104.8,206.3 L106.4,206.3 L107.9,206.2 L109.5,206.1 L111.1,207.1 L111.5,193.1 L111.9,180.5 L112.3,169.2 L112.7,159.0 L113.0,149.9 L113.4,141.8 L113.8,134.4 L114.2,127.8 L114.6,121.9 L115.0,116.6 L115.4,111.8 L115.8,107.5 L116.2,103.6 L116.6,100.1 L117.0,97.0 L117.4,94.1 L117.8,91.6 L118.2,89.2 L118.5,87.1 L118.9,85.2 L119.3,83.5 L119.7,81.9 L120.1,80.5 L120.5,79.2 L120.9,78.1 L121.3,77.0 L121.7,76.0 L122.1,75.1 L122.5,74.3 L122.9,73.5 L123.3,72.8 L123.7,72.2 L124.0,71.6 L124.4,71.0 L124.8,70.5 L125.2,70.0 L125.6,69.6 L126.0,69.2 L126.4,68.8 L126.8,68.4 L127.2,68.1 L127.6,67.8 L128.0,67.5 L128.4,67.2 L128.8,66.9 L129.2,66.6 L129.6,66.4 L129.9,66.1 L130.3,65.9 L130.7,65.7 L131.1,65.4 L131.5,65.2 L131.9,65.0 L132.3,64.8 L132.7,64.7 L133.1,64.5 L133.5,64.3 L133.9,64.1 L134.3,63.9 L134.7,63.8 L135.1,63.6 L135.4,63.5 L135.8,63.3 L136.2,63.2 L136.6,63.0 L137.0,62.9 L137.4,62.7 L137.8,62.6 L138.2,62.4 L138.6,62.3 L139.0,62.2 L139.4,62.0 L139.8,61.9 L140.2,61.8 L140.6,61.7 L140.9,61.5 L141.3,61.4 L141.7,61.3 L142.1,61.2 L142.5,61.1 L144.1,60.6 L145.7,60.2 L147.2,59.8 L148.8,59.4 L150.4,59.0 L152.0,58.6 L153.5,58.3 L155.1,58.0 L156.7,57.7 L158.2,57.4 L159.8,57.1 L161.4,56.8 L163.0,56.6 L164.5,56.4 L166.1,56.1 L167.7,55.9 L169.2,55.7 L170.8,55.5 L172.4,55.3 L174.0,55.1 L175.5,55.0 L177.1,54.8 L178.7,54.6 L180.2,54.5 L181.8,54.3 L183.4,54.2 L185.0,54.1 L186.5,54.0 L188.1,53.8 L189.7,53.7 L191.3,53.6 L192.8,53.5 L194.4,53.4 L196.0,53.3 L197.5,53.2 L199.1,53.2 L200.7,53.1 L202.3,53.0 L203.8,52.9 L205.4,52.9 L207.0,52.8 L208.5,52.7 L210.1,52.7 L211.7,52.6 L213.3,52.5 L214.8,52.5 L216.4,52.4 L218.0,52.4 L219.5,52.4 L221.1,52.3 L222.7,52.3 L224.3,52.2 L225.8,52.2 L227.4,52.2 L229.0,52.1 L230.6,52.1 L232.1,52.1 L233.7,52.0 L235.3,52.0 L236.8,52.0 L238.4,51.9 L240.0,51.9 L241.6,51.9 L243.1,51.9 L244.7,51.9 L246.3,51.8 L247.8,51.8 L249.4,51.8 L251.0,51.8 L252.6,51.8 L254.1,51.7 L255.7,51.7 L257.3,51.7 L258.8,51.7 L260.4,51.7 L262.0,51.7 L263.6,51.7 L265.1,51.7 L266.7,51.6 L268.3,51.6 L269.9,51.6 L271.4,51.6 L273.0,51.6 L274.6,51.6 L276.1,51.6 L277.7,51.6 L279.3,51.6 L280.9,51.6 L282.4,51.6 L284.0,51.4 L284.4,78.3 L284.8,99.0 L285.2,114.8 L285.6,127.0 L286.0,136.4 L286.4,143.6 L286.8,149.3 L287.1,153.7 L287.5,157.1 L287.9,159.8 L288.3,162.0 L288.7,163.7 L289.1,165.1 L289.5,166.2 L289.9,167.2 L290.3,167.9 L290.7,168.6 L291.1,169.1 L291.5,169.6 L291.9,170.0 L292.3,170.3 L292.6,170.7 L293.0,170.9 L293.4,171.2 L293.8,171.4 L294.2,171.6 L294.6,171.8 L295.0,172.0 L295.4,172.1 L295.8,172.3 L296.2,172.4 L296.6,172.5 L297.0,172.6 L297.4,172.7 L297.8,172.8 L298.1,172.9 L298.5,173.0 L298.9,173.1 L299.3,173.2 L299.7,173.2 L300.1,173.3 L300.5,173.3 L300.9,173.4 L301.3,173.4 L301.7,173.5 L302.1,173.5 L302.5,173.6 L302.9,173.6 L303.3,173.7 L303.6,173.7 L304.0,173.7 L304.4,173.7 L304.8,173.8 L305.2,173.8 L305.6,173.8 L306.0,173.8 L306.4,173.9 L306.8,173.9 L307.2,173.9 L307.6,173.9 L309.2,174.0 L310.7,174.0 L312.3,174.1 L313.9,174.1 L315.4,174.1 L317.0,174.1 L318.6,174.1 L320.2,174.1 L321.7,174.1 L323.3,174.1" stroke="#ee3338" stroke-width="1.3" fill="none" stroke-linejoin="round" />
<path d="M87.5,212.5 L89.1,212.4 L90.6,212.3 L92.2,212.3 L93.8,212.2 L95.4,212.1 L96.9,212.1 L98.5,212.0 L100.1,211.9 L101.6,211.8 L103.2,211.8 L104.8,211.7 L106.4,211.6 L107.9,211.6 L109.5,211.5 L111.1,212.5 L111.5,198.9 L111.9,186.6 L112.3,175.6 L112.7,165.8 L113.0,156.9 L113.4,149.0 L113.8,141.8 L114.2,135.4 L114.6,129.6 L115.0,124.4 L115.4,119.7 L115.8,115.5 L116.2,111.6 L116.6,108.2 L117.0,105.1 L117.4,102.3 L117.8,99.7 L118.2,97.4 L118.5,95.3 L118.9,93.4 L119.3,91.7 L119.7,90.1 L120.1,88.7 L120.5,87.3 L120.9,86.1 L121.3,85.0 L121.7,84.0 L122.1,83.1 L122.5,82.2 L122.9,81.5 L123.3,80.7 L123.7,80.0 L124.0,79.4 L124.4,78.8 L124.8,78.3 L125.2,77.7 L125.6,77.3 L126.0,76.8 L126.4,76.4 L126.8,76.0 L127.2,75.6 L127.6,75.2 L128.0,74.9 L128.4,74.5 L128.8,74.2 L129.2,73.9 L129.6,73.6 L129.9,73.3 L130.3,73.0 L130.7,72.8 L131.1,72.5 L131.5,72.3 L131.9,72.0 L132.3,71.8 L132.7,71.6 L133.1,71.3 L133.5,71.1 L133.9,70.9 L134.3,70.7 L134.7,70.5 L135.1,70.3 L135.4,70.1 L135.8,69.9 L136.2,69.7 L136.6,69.5 L137.0,69.4 L137.4,69.2 L137.8,69.0 L138.2,68.8 L138.6,68.7 L139.0,68.5 L139.4,68.3 L139.8,68.2 L140.2,68.0 L140.6,67.8 L140.9,67.7 L141.3,67.5 L141.7,67.4 L142.1,67.2 L142.5,67.1 L144.1,66.5 L145.7,66.0 L147.2,65.4 L148.8,65.0 L150.4,64.5 L152.0,64.0 L153.5,63.6 L155.1,63.2 L156.7,62.8 L158.2,62.5 L159.8,62.1 L161.4,61.8 L163.0,61.5 L164.5,61.1 L166.1,60.9 L167.7,60.6 L169.2,60.3 L170.8,60.1 L172.4,59.8 L174.0,59.6 L175.5,59.4 L177.1,59.2 L178.7,59.0 L180.2,58.8 L181.8,58.6 L183.4,58.4 L185.0,58.3 L186.5,58.1 L188.1,58.0 L189.7,57.8 L191.3,57.7 L192.8,57.6 L194.4,57.4 L196.0,57.3 L197.5,57.2 L199.1,57.1 L200.7,57.0 L202.3,56.9 L203.8,56.8 L205.4,56.7 L207.0,56.6 L208.5,56.5 L210.1,56.5 L211.7,56.4 L213.3,56.3 L214.8,56.3 L216.4,56.2 L218.0,56.1 L219.5,56.1 L221.1,56.0 L222.7,56.0 L224.3,55.9 L225.8,55.9 L227.4,55.8 L229.0,55.8 L230.6,55.7 L232.1,55.7 L233.7,55.7 L235.3,55.6 L236.8,55.6 L238.4,55.6 L240.0,55.5 L241.6,55.5 L243.1,55.5 L244.7,55.5 L246.3,55.4 L247.8,55.4 L249.4,55.4 L251.0,55.4 L252.6,55.3 L254.1,55.3 L255.7,55.3 L257.3,55.3 L258.8,55.3 L260.4,55.2 L262.0,55.2 L263.6,55.2 L265.1,55.2 L266.7,55.2 L268.3,55.2 L269.9,55.2 L271.4,55.1 L273.0,55.1 L274.6,55.1 L276.1,55.1 L277.7,55.1 L279.3,55.1 L280.9,55.1 L282.4,55.1 L284.0,54.9 L284.4,68.3 L284.8,79.6 L285.2,89.0 L285.6,97.0 L286.0,103.7 L286.4,109.4 L286.8,114.2 L287.1,118.2 L287.5,121.6 L287.9,124.5 L288.3,127.0 L288.7,129.1 L289.1,130.9 L289.5,132.4 L289.9,133.7 L290.3,134.9 L290.7,135.8 L291.1,136.7 L291.5,137.4 L291.9,138.1 L292.3,138.6 L292.6,139.1 L293.0,139.5 L293.4,139.9 L293.8,140.2 L294.2,140.5 L294.6,140.8 L295.0,141.1 L295.4,141.3 L295.8,141.5 L296.2,141.7 L296.6,141.8 L297.0,142.0 L297.4,142.1 L297.8,142.3 L298.1,142.4 L298.5,142.5 L298.9,142.6 L299.3,142.7 L299.7,142.8 L300.1,142.9 L300.5,143.0 L300.9,143.1 L301.3,143.1 L301.7,143.2 L302.1,143.3 L302.5,143.3 L302.9,143.4 L303.3,143.5 L303.6,143.5 L304.0,143.6 L304.4,143.6 L304.8,143.7 L305.2,143.7 L305.6,143.8 L306.0,143.8 L306.4,143.8 L306.8,143.9 L307.2,143.9 L307.6,143.9 L309.2,144.1 L310.7,144.2 L312.3,144.3 L313.9,144.3 L315.4,144.4 L317.0,144.4 L318.6,144.5 L320.2,144.5 L321.7,144.5 L323.3,144.6" stroke="#2ca35a" stroke-width="1.3" fill="none" stroke-linejoin="round" />
<path d="M87.5,214.6 L89.1,214.6 L90.6,214.5 L92.2,214.4 L93.8,214.3 L95.4,214.3 L96.9,214.2 L98.5,214.1 L100.1,214.1 L101.6,214.0 L103.2,213.9 L104.8,213.8 L106.4,213.8 L107.9,213.7 L109.5,213.6 L111.1,214.6 L111.5,199.5 L111.9,185.9 L112.3,173.7 L112.7,162.8 L113.0,153.0 L113.4,144.2 L113.8,136.3 L114.2,129.2 L114.6,122.8 L115.0,117.1 L115.4,112.0 L115.8,107.4 L116.2,103.2 L116.6,99.5 L117.0,96.1 L117.4,93.0 L117.8,90.3 L118.2,87.8 L118.5,85.6 L118.9,83.6 L119.3,81.7 L119.7,80.1 L120.1,78.6 L120.5,77.2 L120.9,76.0 L121.3,74.9 L121.7,73.8 L122.1,72.9 L122.5,72.0 L122.9,71.2 L123.3,70.5 L123.7,69.9 L124.0,69.3 L124.4,68.7 L124.8,68.2 L125.2,67.7 L125.6,67.2 L126.0,66.8 L126.4,66.4 L126.8,66.1 L127.2,65.7 L127.6,65.4 L128.0,65.1 L128.4,64.8 L128.8,64.5 L129.2,64.3 L129.6,64.0 L129.9,63.8 L130.3,63.5 L130.7,63.3 L131.1,63.1 L131.5,62.9 L131.9,62.7 L132.3,62.5 L132.7,62.4 L133.1,62.2 L133.5,62.0 L133.9,61.9 L134.3,61.7 L134.7,61.5 L135.1,61.4 L135.4,61.2 L135.8,61.1 L136.2,60.9 L136.6,60.8 L137.0,60.7 L137.4,60.5 L137.8,60.4 L138.2,60.3 L138.6,60.2 L139.0,60.0 L139.4,59.9 L139.8,59.8 L140.2,59.7 L140.6,59.5 L140.9,59.4 L141.3,59.3 L141.7,59.2 L142.1,59.1 L142.5,59.0 L144.1,58.6 L145.7,58.2 L147.2,57.8 L148.8,57.4 L150.4,57.1 L152.0,56.8 L153.5,56.4 L155.1,56.2 L156.7,55.9 L158.2,55.6 L159.8,55.3 L161.4,55.1 L163.0,54.9 L164.5,54.6 L166.1,54.4 L167.7,54.2 L169.2,54.0 L170.8,53.9 L172.4,53.7 L174.0,53.5 L175.5,53.3 L177.1,53.2 L178.7,53.1 L180.2,52.9 L181.8,52.8 L183.4,52.7 L185.0,52.5 L186.5,52.4 L188.1,52.3 L189.7,52.2 L191.3,52.1 L192.8,52.0 L194.4,51.9 L196.0,51.8 L197.5,51.8 L199.1,51.7 L200.7,51.6 L202.3,51.5 L203.8,51.5 L205.4,51.4 L207.0,51.3 L208.5,51.3 L210.1,51.2 L211.7,51.2 L213.3,51.1 L214.8,51.1 L216.4,51.0 L218.0,51.0 L219.5,50.9 L221.1,50.9 L222.7,50.9 L224.3,50.8 L225.8,50.8 L227.4,50.8 L229.0,50.7 L230.6,50.7 L232.1,50.7 L233.7,50.6 L235.3,50.6 L236.8,50.6 L238.4,50.6 L240.0,50.5 L241.6,50.5 L243.1,50.5 L244.7,50.5 L246.3,50.5 L247.8,50.4 L249.4,50.4 L251.0,50.4 L252.6,50.4 L254.1,50.4 L255.7,50.4 L257.3,50.4 L258.8,50.3 L260.4,50.3 L262.0,50.3 L263.6,50.3 L265.1,50.3 L266.7,50.3 L268.3,50.3 L269.9,50.3 L271.4,50.3 L273.0,50.3 L274.6,50.2 L276.1,50.2 L277.7,50.2 L279.3,50.2 L280.9,50.2 L282.4,50.2 L284.0,50.1 L284.4,50.2 L284.8,50.3 L285.2,50.3 L285.6,50.4 L286.0,50.4 L286.4,50.5 L286.8,50.5 L287.1,50.5 L287.5,50.5 L287.9,50.5 L288.3,50.5 L288.7,50.6 L289.1,50.6 L289.5,50.6 L289.9,50.6 L290.3,50.6 L290.7,50.6 L291.1,50.6 L291.5,50.6 L291.9,50.6 L292.3,50.6 L292.6,50.6 L293.0,50.6 L293.4,50.6 L293.8,50.6 L294.2,50.6 L294.6,50.6 L295.0,50.6 L295.4,50.6 L295.8,50.6 L296.2,50.6 L296.6,50.6 L297.0,50.6 L297.4,50.6 L297.8,50.6 L298.1,50.6 L298.5,50.6 L298.9,50.6 L299.3,50.6 L299.7,50.6 L300.1,50.6 L300.5,50.6 L300.9,50.6 L301.3,50.6 L301.7,50.6 L302.1,50.6 L302.5,50.6 L302.9,50.6 L303.3,50.6 L303.6,50.6 L304.0,50.6 L304.4,50.6 L304.8,50.6 L305.2,50.6 L305.6,50.6 L306.0,50.6 L306.4,50.6 L306.8,50.6 L307.2,50.6 L307.6,50.6 L309.2,50.6 L310.7,50.6 L312.3,50.6 L313.9,50.6 L315.4,50.6 L317.0,50.6 L318.6,50.6 L320.2,50.6 L321.7,50.6 L323.3,50.6" stroke="#134a78" stroke-width="1.3" fill="none" stroke-linejoin="round" />
<path d="M87.5,216.8 L89.1,216.7 L90.6,216.6 L92.2,216.6 L93.8,216.5 L95.4,216.4 L96.9,216.3 L98.5,216.3 L100.1,216.2 L101.6,216.1 L103.2,216.1 L104.8,216.0 L106.4,215.9 L107.9,215.8 L109.5,215.8 L111.1,216.8 L111.5,203.0 L111.9,190.7 L112.3,179.6 L112.7,169.6 L113.0,160.6 L113.4,152.6 L113.8,145.3 L114.2,138.8 L114.6,132.9 L115.0,127.6 L115.4,122.9 L115.8,118.6 L116.2,114.7 L116.6,111.2 L117.0,108.0 L117.4,105.1 L117.8,102.5 L118.2,100.2 L118.5,98.0 L118.9,96.1 L119.3,94.3 L119.7,92.7 L120.1,91.2 L120.5,89.8 L120.9,88.6 L121.3,87.4 L121.7,86.4 L122.1,85.4 L122.5,84.5 L122.9,83.7 L123.3,82.9 L123.7,82.2 L124.0,81.5 L124.4,80.9 L124.8,80.3 L125.2,79.7 L125.6,79.2 L126.0,78.7 L126.4,78.3 L126.8,77.8 L127.2,77.4 L127.6,77.0 L128.0,76.6 L128.4,76.3 L128.8,75.9 L129.2,75.6 L129.6,75.2 L129.9,74.9 L130.3,74.6 L130.7,74.3 L131.1,74.0 L131.5,73.8 L131.9,73.5 L132.3,73.2 L132.7,73.0 L133.1,72.7 L133.5,72.5 L133.9,72.2 L134.3,72.0 L134.7,71.8 L135.1,71.6 L135.4,71.3 L135.8,71.1 L136.2,70.9 L136.6,70.7 L137.0,70.5 L137.4,70.3 L137.8,70.1 L138.2,69.9 L138.6,69.7 L139.0,69.5 L139.4,69.3 L139.8,69.1 L140.2,69.0 L140.6,68.8 L140.9,68.6 L141.3,68.4 L141.7,68.3 L142.1,68.1 L142.5,67.9 L144.1,67.3 L145.7,66.7 L147.2,66.1 L148.8,65.5 L150.4,65.0 L152.0,64.5 L153.5,64.0 L155.1,63.5 L156.7,63.1 L158.2,62.7 L159.8,62.3 L161.4,61.9 L163.0,61.5 L164.5,61.2 L166.1,60.9 L167.7,60.5 L169.2,60.2 L170.8,60.0 L172.4,59.7 L174.0,59.4 L175.5,59.2 L177.1,58.9 L178.7,58.7 L180.2,58.5 L181.8,58.3 L183.4,58.1 L185.0,57.9 L186.5,57.7 L188.1,57.6 L189.7,57.4 L191.3,57.3 L192.8,57.1 L194.4,57.0 L196.0,56.8 L197.5,56.7 L199.1,56.6 L200.7,56.5 L202.3,56.4 L203.8,56.3 L205.4,56.2 L207.0,56.1 L208.5,56.0 L210.1,55.9 L211.7,55.8 L213.3,55.7 L214.8,55.6 L216.4,55.6 L218.0,55.5 L219.5,55.4 L221.1,55.4 L222.7,55.3 L224.3,55.3 L225.8,55.2 L227.4,55.2 L229.0,55.1 L230.6,55.1 L232.1,55.0 L233.7,55.0 L235.3,54.9 L236.8,54.9 L238.4,54.9 L240.0,54.8 L241.6,54.8 L243.1,54.8 L244.7,54.7 L246.3,54.7 L247.8,54.7 L249.4,54.6 L251.0,54.6 L252.6,54.6 L254.1,54.6 L255.7,54.5 L257.3,54.5 L258.8,54.5 L260.4,54.5 L262.0,54.5 L263.6,54.5 L265.1,54.4 L266.7,54.4 L268.3,54.4 L269.9,54.4 L271.4,54.4 L273.0,54.4 L274.6,54.4 L276.1,54.3 L277.7,54.3 L279.3,54.3 L280.9,54.3 L282.4,54.3 L284.0,54.1 L284.4,54.1 L284.8,54.1 L285.2,54.1 L285.6,54.1 L286.0,54.1 L286.4,54.1 L286.8,54.1 L287.1,54.1 L287.5,54.1 L287.9,54.1 L288.3,54.1 L288.7,54.1 L289.1,54.1 L289.5,54.1 L289.9,54.1 L290.3,54.1 L290.7,54.1 L291.1,54.1 L291.5,54.1 L291.9,54.1 L292.3,54.1 L292.6,54.1 L293.0,54.1 L293.4,54.1 L293.8,54.1 L294.2,54.1 L294.6,54.1 L295.0,54.1 L295.4,59.0 L295.8,63.2 L296.2,66.8 L296.6,69.9 L297.0,72.6 L297.4,74.9 L297.8,76.8 L298.1,78.5 L298.5,80.0 L298.9,81.2 L299.3,82.3 L299.7,83.3 L300.1,84.1 L300.5,84.8 L300.9,85.4 L301.3,85.9 L301.7,86.4 L302.1,86.8 L302.5,87.2 L302.9,87.5 L303.3,87.7 L303.6,88.0 L304.0,88.2 L304.4,88.4 L304.8,88.6 L305.2,88.7 L305.6,88.9 L306.0,89.0 L306.4,89.1 L306.8,89.2 L307.2,89.3 L307.6,89.4 L309.2,89.7 L310.7,89.9 L312.3,90.0 L313.9,90.1 L315.4,90.2 L317.0,90.3 L318.6,90.4 L320.2,90.5 L321.7,90.5 L323.3,90.6" stroke="#c8960f" stroke-width="1.3" fill="none" stroke-linejoin="round" />
<path d="M87.5,210.9 L89.1,210.8 L90.6,210.7 L92.2,210.7 L93.8,210.6 L95.4,210.5 L96.9,210.5 L98.5,210.4 L100.1,210.3 L101.6,210.2 L103.2,210.2 L104.8,210.1 L106.4,210.0 L107.9,210.0 L109.5,209.9 L111.1,210.9 L111.5,198.2 L111.9,186.8 L112.3,176.5 L112.7,167.3 L113.0,159.1 L113.4,151.6 L113.8,145.0 L114.2,138.9 L114.6,133.5 L115.0,128.6 L115.4,124.2 L115.8,120.3 L116.2,116.7 L116.6,113.5 L117.0,110.5 L117.4,107.9 L117.8,105.5 L118.2,103.3 L118.5,101.3 L118.9,99.5 L119.3,97.9 L119.7,96.4 L120.1,95.0 L120.5,93.7 L120.9,92.6 L121.3,91.5 L121.7,90.6 L122.1,89.7 L122.5,88.8 L122.9,88.1 L123.3,87.4 L123.7,86.7 L124.0,86.1 L124.4,85.5 L124.8,85.0 L125.2,84.5 L125.6,84.0 L126.0,83.5 L126.4,83.1 L126.8,82.7 L127.2,82.3 L127.6,81.9 L128.0,81.6 L128.4,81.2 L128.8,80.9 L129.2,80.6 L129.6,80.3 L129.9,80.0 L130.3,79.7 L130.7,79.5 L131.1,79.2 L131.5,78.9 L131.9,78.7 L132.3,78.5 L132.7,78.2 L133.1,78.0 L133.5,77.8 L133.9,77.5 L134.3,77.3 L134.7,77.1 L135.1,76.9 L135.4,76.7 L135.8,76.5 L136.2,76.3 L136.6,76.1 L137.0,75.9 L137.4,75.7 L137.8,75.6 L138.2,75.4 L138.6,75.2 L139.0,75.0 L139.4,74.9 L139.8,74.7 L140.2,74.5 L140.6,74.3 L140.9,74.2 L141.3,74.0 L141.7,73.9 L142.1,73.7 L142.5,73.6 L144.1,73.0 L145.7,72.4 L147.2,71.8 L148.8,71.3 L150.4,70.8 L152.0,70.4 L153.5,69.9 L155.1,69.5 L156.7,69.1 L158.2,68.7 L159.8,68.3 L161.4,68.0 L163.0,67.7 L164.5,67.3 L166.1,67.0 L167.7,66.7 L169.2,66.5 L170.8,66.2 L172.4,66.0 L174.0,65.7 L175.5,65.5 L177.1,65.3 L178.7,65.1 L180.2,64.9 L181.8,64.7 L183.4,64.5 L185.0,64.3 L186.5,64.2 L188.1,64.0 L189.7,63.9 L191.3,63.7 L192.8,63.6 L194.4,63.4 L196.0,63.3 L197.5,63.2 L199.1,63.1 L200.7,63.0 L202.3,62.9 L203.8,62.8 L205.4,62.7 L207.0,62.6 L208.5,62.5 L210.1,62.4 L211.7,62.4 L213.3,62.3 L214.8,62.2 L216.4,62.2 L218.0,62.1 L219.5,62.0 L221.1,62.0 L222.7,61.9 L224.3,61.9 L225.8,61.8 L227.4,61.8 L229.0,61.7 L230.6,61.7 L232.1,61.6 L233.7,61.6 L235.3,61.6 L236.8,61.5 L238.4,61.5 L240.0,61.5 L241.6,61.4 L243.1,61.4 L244.7,61.4 L246.3,61.3 L247.8,61.3 L249.4,61.3 L251.0,61.3 L252.6,61.3 L254.1,61.2 L255.7,61.2 L257.3,61.2 L258.8,61.2 L260.4,61.2 L262.0,61.1 L263.6,61.1 L265.1,61.1 L266.7,61.1 L268.3,61.1 L269.9,61.1 L271.4,61.1 L273.0,61.0 L274.6,61.0 L276.1,61.0 L277.7,61.0 L279.3,61.0 L280.9,61.0 L282.4,61.0 L284.0,60.8 L284.4,65.1 L284.8,68.7 L285.2,71.8 L285.6,74.4 L286.0,76.5 L286.4,78.4 L286.8,79.9 L287.1,81.2 L287.5,82.3 L287.9,83.3 L288.3,84.0 L288.7,84.7 L289.1,85.3 L289.5,85.8 L289.9,86.2 L290.3,86.6 L290.7,86.9 L291.1,87.2 L291.5,87.4 L291.9,87.6 L292.3,87.8 L292.6,87.9 L293.0,88.1 L293.4,88.2 L293.8,88.3 L294.2,88.4 L294.6,88.5 L295.0,88.6 L295.4,88.6 L295.8,88.7 L296.2,88.8 L296.6,88.8 L297.0,88.9 L297.4,88.9 L297.8,89.0 L298.1,89.0 L298.5,89.0 L298.9,89.1 L299.3,89.1 L299.7,89.1 L300.1,89.2 L300.5,89.2 L300.9,89.2 L301.3,89.2 L301.7,89.3 L302.1,89.3 L302.5,89.3 L302.9,89.3 L303.3,89.4 L303.6,89.4 L304.0,89.4 L304.4,89.4 L304.8,89.4 L305.2,89.4 L305.6,89.4 L306.0,89.5 L306.4,89.5 L306.8,89.5 L307.2,89.5 L307.6,89.5 L309.2,89.5 L310.7,89.6 L312.3,89.6 L313.9,89.6 L315.4,89.6 L317.0,89.7 L318.6,89.7 L320.2,89.7 L321.7,89.7 L323.3,89.7" stroke="#8f8e10" stroke-width="1.3" fill="none" stroke-linejoin="round" />
<path d="M87.5,213.6 L89.1,213.5 L90.6,213.4 L92.2,213.3 L93.8,213.3 L95.4,213.2 L96.9,213.1 L98.5,213.1 L100.1,213.0 L101.6,212.9 L103.2,212.8 L104.8,212.8 L106.4,212.7 L107.9,212.6 L109.5,212.6 L111.1,213.6 L111.5,197.6 L111.9,183.3 L112.3,170.5 L112.7,159.0 L113.0,148.8 L113.4,139.5 L113.8,131.3 L114.2,123.8 L114.6,117.2 L115.0,111.2 L115.4,105.9 L115.8,101.0 L116.2,96.7 L116.6,92.8 L117.0,89.3 L117.4,86.2 L117.8,83.4 L118.2,80.8 L118.5,78.5 L118.9,76.5 L119.3,74.6 L119.7,72.9 L120.1,71.4 L120.5,70.0 L120.9,68.8 L121.3,67.7 L121.7,66.7 L122.1,65.7 L122.5,64.9 L122.9,64.1 L123.3,63.4 L123.7,62.8 L124.0,62.2 L124.4,61.7 L124.8,61.2 L125.2,60.7 L125.6,60.3 L126.0,59.9 L126.4,59.6 L126.8,59.2 L127.2,58.9 L127.6,58.6 L128.0,58.4 L128.4,58.1 L128.8,57.9 L129.2,57.7 L129.6,57.5 L129.9,57.3 L130.3,57.1 L130.7,56.9 L131.1,56.7 L131.5,56.6 L131.9,56.4 L132.3,56.3 L132.7,56.1 L133.1,56.0 L133.5,55.8 L133.9,55.7 L134.3,55.6 L134.7,55.5 L135.1,55.4 L135.4,55.2 L135.8,55.1 L136.2,55.0 L136.6,54.9 L137.0,54.8 L137.4,54.7 L137.8,54.6 L138.2,54.5 L138.6,54.4 L139.0,54.3 L139.4,54.2 L139.8,54.2 L140.2,54.1 L140.6,54.0 L140.9,53.9 L141.3,53.8 L141.7,53.7 L142.1,53.7 L142.5,53.6 L144.1,53.3 L145.7,53.0 L147.2,52.7 L148.8,52.4 L150.4,52.2 L152.0,52.0 L153.5,51.7 L155.1,51.5 L156.7,51.3 L158.2,51.1 L159.8,50.9 L161.4,50.8 L163.0,50.6 L164.5,50.4 L166.1,50.3 L167.7,50.1 L169.2,50.0 L170.8,49.9 L172.4,49.7 L174.0,49.6 L175.5,49.5 L177.1,49.4 L178.7,49.3 L180.2,49.2 L181.8,49.1 L183.4,49.0 L185.0,48.9 L186.5,48.8 L188.1,48.7 L189.7,48.7 L191.3,48.6 L192.8,48.5 L194.4,48.5 L196.0,48.4 L197.5,48.3 L199.1,48.3 L200.7,48.2 L202.3,48.2 L203.8,48.1 L205.4,48.1 L207.0,48.0 L208.5,48.0 L210.1,48.0 L211.7,47.9 L213.3,47.9 L214.8,47.9 L216.4,47.8 L218.0,47.8 L219.5,47.8 L221.1,47.7 L222.7,47.7 L224.3,47.7 L225.8,47.6 L227.4,47.6 L229.0,47.6 L230.6,47.6 L232.1,47.6 L233.7,47.5 L235.3,47.5 L236.8,47.5 L238.4,47.5 L240.0,47.5 L241.6,47.5 L243.1,47.4 L244.7,47.4 L246.3,47.4 L247.8,47.4 L249.4,47.4 L251.0,47.4 L252.6,47.4 L254.1,47.4 L255.7,47.3 L257.3,47.3 L258.8,47.3 L260.4,47.3 L262.0,47.3 L263.6,47.3 L265.1,47.3 L266.7,47.3 L268.3,47.3 L269.9,47.3 L271.4,47.3 L273.0,47.3 L274.6,47.2 L276.1,47.2 L277.7,47.2 L279.3,47.2 L280.9,47.2 L282.4,47.2 L284.0,47.1 L284.4,46.3 L284.8,45.7 L285.2,45.3 L285.6,45.1 L286.0,44.8 L286.4,44.7 L286.8,44.6 L287.1,44.5 L287.5,44.4 L287.9,44.4 L288.3,44.4 L288.7,44.3 L289.1,44.3 L289.5,44.3 L289.9,44.3 L290.3,44.3 L290.7,44.3 L291.1,44.3 L291.5,44.3 L291.9,44.2 L292.3,44.2 L292.6,44.2 L293.0,44.2 L293.4,44.2 L293.8,44.2 L294.2,44.2 L294.6,44.2 L295.0,44.2 L295.4,44.2 L295.8,44.2 L296.2,44.2 L296.6,44.2 L297.0,44.2 L297.4,44.2 L297.8,44.2 L298.1,44.2 L298.5,44.2 L298.9,44.2 L299.3,44.2 L299.7,44.2 L300.1,44.2 L300.5,44.2 L300.9,44.2 L301.3,44.2 L301.7,44.2 L302.1,44.2 L302.5,44.2 L302.9,44.2 L303.3,44.2 L303.6,44.2 L304.0,44.2 L304.4,44.2 L304.8,44.2 L305.2,44.2 L305.6,44.2 L306.0,44.2 L306.4,44.2 L306.8,44.2 L307.2,44.2 L307.6,44.2 L309.2,44.2 L310.7,44.2 L312.3,44.2 L313.9,44.2 L315.4,44.2 L317.0,44.2 L318.6,44.2 L320.2,44.2 L321.7,44.2 L323.3,44.2" stroke="#1f9d9a" stroke-width="1.3" fill="none" stroke-linejoin="round" />
<path d="M87.5,220.3 L89.1,220.2 L90.6,220.1 L92.2,220.0 L93.8,220.0 L95.4,219.9 L96.9,219.8 L98.5,219.8 L100.1,219.7 L101.6,219.6 L103.2,219.5 L104.8,219.5 L106.4,219.4 L107.9,219.3 L109.5,219.3 L111.1,220.3 L111.5,203.8 L111.9,189.0 L112.3,175.7 L112.7,163.9 L113.0,153.2 L113.4,143.6 L113.8,135.1 L114.2,127.4 L114.6,120.5 L115.0,114.3 L115.4,108.7 L115.8,103.7 L116.2,99.2 L116.6,95.2 L117.0,91.5 L117.4,88.2 L117.8,85.3 L118.2,82.6 L118.5,80.2 L118.9,78.1 L119.3,76.1 L119.7,74.3 L120.1,72.7 L120.5,71.3 L120.9,70.0 L121.3,68.8 L121.7,67.7 L122.1,66.7 L122.5,65.8 L122.9,65.0 L123.3,64.2 L123.7,63.5 L124.0,62.9 L124.4,62.3 L124.8,61.8 L125.2,61.3 L125.6,60.8 L126.0,60.4 L126.4,60.0 L126.8,59.6 L127.2,59.3 L127.6,58.9 L128.0,58.6 L128.4,58.4 L128.8,58.1 L129.2,57.8 L129.6,57.6 L129.9,57.4 L130.3,57.1 L130.7,56.9 L131.1,56.7 L131.5,56.5 L131.9,56.4 L132.3,56.2 L132.7,56.0 L133.1,55.8 L133.5,55.7 L133.9,55.5 L134.3,55.4 L134.7,55.2 L135.1,55.1 L135.4,54.9 L135.8,54.8 L136.2,54.7 L136.6,54.5 L137.0,54.4 L137.4,54.3 L137.8,54.2 L138.2,54.1 L138.6,53.9 L139.0,53.8 L139.4,53.7 L139.8,53.6 L140.2,53.5 L140.6,53.4 L140.9,53.3 L141.3,53.2 L141.7,53.1 L142.1,53.0 L142.5,52.9 L144.1,52.5 L145.7,52.1 L147.2,51.8 L148.8,51.4 L150.4,51.1 L152.0,50.8 L153.5,50.5 L155.1,50.3 L156.7,50.0 L158.2,49.8 L159.8,49.5 L161.4,49.3 L163.0,49.1 L164.5,48.9 L166.1,48.7 L167.7,48.5 L169.2,48.3 L170.8,48.2 L172.4,48.0 L174.0,47.9 L175.5,47.7 L177.1,47.6 L178.7,47.4 L180.2,47.3 L181.8,47.2 L183.4,47.1 L185.0,47.0 L186.5,46.9 L188.1,46.8 L189.7,46.7 L191.3,46.6 L192.8,46.5 L194.4,46.4 L196.0,46.3 L197.5,46.3 L199.1,46.2 L200.7,46.1 L202.3,46.1 L203.8,46.0 L205.4,45.9 L207.0,45.9 L208.5,45.8 L210.1,45.8 L211.7,45.7 L213.3,45.7 L214.8,45.6 L216.4,45.6 L218.0,45.5 L219.5,45.5 L221.1,45.5 L222.7,45.4 L224.3,45.4 L225.8,45.4 L227.4,45.3 L229.0,45.3 L230.6,45.3 L232.1,45.3 L233.7,45.2 L235.3,45.2 L236.8,45.2 L238.4,45.2 L240.0,45.1 L241.6,45.1 L243.1,45.1 L244.7,45.1 L246.3,45.1 L247.8,45.1 L249.4,45.0 L251.0,45.0 L252.6,45.0 L254.1,45.0 L255.7,45.0 L257.3,45.0 L258.8,45.0 L260.4,44.9 L262.0,44.9 L263.6,44.9 L265.1,44.9 L266.7,44.9 L268.3,44.9 L269.9,44.9 L271.4,44.9 L273.0,44.9 L274.6,44.9 L276.1,44.9 L277.7,44.9 L279.3,44.8 L280.9,44.8 L282.4,44.8 L284.0,44.7 L284.4,44.1 L284.8,43.7 L285.2,43.4 L285.6,43.2 L286.0,43.1 L286.4,42.9 L286.8,42.9 L287.1,42.8 L287.5,42.8 L287.9,42.7 L288.3,42.7 L288.7,42.7 L289.1,42.7 L289.5,42.7 L289.9,42.7 L290.3,42.6 L290.7,42.6 L291.1,42.6 L291.5,42.6 L291.9,42.6 L292.3,42.6 L292.6,42.6 L293.0,42.6 L293.4,42.6 L293.8,42.6 L294.2,42.6 L294.6,42.6 L295.0,42.6 L295.4,42.6 L295.8,42.6 L296.2,42.6 L296.6,42.6 L297.0,42.6 L297.4,42.6 L297.8,42.6 L298.1,42.6 L298.5,42.6 L298.9,42.6 L299.3,42.6 L299.7,42.6 L300.1,42.6 L300.5,42.6 L300.9,42.6 L301.3,42.6 L301.7,42.6 L302.1,42.6 L302.5,42.6 L302.9,42.6 L303.3,42.6 L303.6,42.6 L304.0,42.6 L304.4,42.6 L304.8,42.6 L305.2,42.6 L305.6,42.6 L306.0,42.6 L306.4,42.6 L306.8,42.6 L307.2,42.6 L307.6,42.6 L309.2,42.6 L310.7,42.6 L312.3,42.6 L313.9,42.6 L315.4,42.6 L317.0,42.6 L318.6,42.6 L320.2,42.6 L321.7,42.6 L323.3,42.6" stroke="#f7b6bd" stroke-width="1.3" fill="none" stroke-linejoin="round" />
</g>
<rect x="68.00" y="26.00" width="275.50" height="223.50" fill="none" stroke="#000" stroke-width="1.6" />
<line x1="87.50" y1="249.50" x2="87.50" y2="253.00" stroke="#000" stroke-width="1.2" />
<text transform="translate(87.50,267.00) scale(0.98,1)" font-size="13.4" font-weight="bold" text-anchor="middle" fill="#000" >0</text>
<line x1="126.80" y1="249.50" x2="126.80" y2="253.00" stroke="#000" stroke-width="1.2" />
<text transform="translate(126.80,267.00) scale(0.98,1)" font-size="13.4" font-weight="bold" text-anchor="middle" fill="#000" >500</text>
<line x1="166.10" y1="249.50" x2="166.10" y2="253.00" stroke="#000" stroke-width="1.2" />
<text transform="translate(166.10,267.00) scale(0.98,1)" font-size="13.4" font-weight="bold" text-anchor="middle" fill="#000" >1000</text>
<line x1="205.40" y1="249.50" x2="205.40" y2="253.00" stroke="#000" stroke-width="1.2" />
<text transform="translate(205.40,267.00) scale(0.98,1)" font-size="13.4" font-weight="bold" text-anchor="middle" fill="#000" >1500</text>
<line x1="244.70" y1="249.50" x2="244.70" y2="253.00" stroke="#000" stroke-width="1.2" />
<text transform="translate(244.70,267.00) scale(0.98,1)" font-size="13.4" font-weight="bold" text-anchor="middle" fill="#000" >2000</text>
<line x1="284.00" y1="249.50" x2="284.00" y2="253.00" stroke="#000" stroke-width="1.2" />
<text transform="translate(284.00,267.00) scale(0.98,1)" font-size="13.4" font-weight="bold" text-anchor="middle" fill="#000" >2500</text>
<line x1="323.30" y1="249.50" x2="323.30" y2="253.00" stroke="#000" stroke-width="1.2" />
<text transform="translate(323.30,267.00) scale(0.98,1)" font-size="13.4" font-weight="bold" text-anchor="middle" fill="#000" >3000</text>
<line x1="107.15" y1="249.50" x2="107.15" y2="251.50" stroke="#000" stroke-width="1" />
<line x1="146.45" y1="249.50" x2="146.45" y2="251.50" stroke="#000" stroke-width="1" />
<line x1="185.75" y1="249.50" x2="185.75" y2="251.50" stroke="#000" stroke-width="1" />
<line x1="225.05" y1="249.50" x2="225.05" y2="251.50" stroke="#000" stroke-width="1" />
<line x1="264.35" y1="249.50" x2="264.35" y2="251.50" stroke="#000" stroke-width="1" />
<line x1="303.65" y1="249.50" x2="303.65" y2="251.50" stroke="#000" stroke-width="1" />
<line x1="342.95" y1="249.50" x2="342.95" y2="251.50" stroke="#000" stroke-width="1" />
<line x1="64.50" y1="208.20" x2="68.00" y2="208.20" stroke="#000" stroke-width="1.2" />
<text transform="translate(62.50,212.70) scale(0.98,1)" font-size="13.4" font-weight="bold" text-anchor="end" fill="#000" >0.4</text>
<line x1="64.50" y1="154.60" x2="68.00" y2="154.60" stroke="#000" stroke-width="1.2" />
<text transform="translate(62.50,159.10) scale(0.98,1)" font-size="13.4" font-weight="bold" text-anchor="end" fill="#000" >0.6</text>
<line x1="64.50" y1="101.00" x2="68.00" y2="101.00" stroke="#000" stroke-width="1.2" />
<text transform="translate(62.50,105.50) scale(0.98,1)" font-size="13.4" font-weight="bold" text-anchor="end" fill="#000" >0.8</text>
<line x1="64.50" y1="47.40" x2="68.00" y2="47.40" stroke="#000" stroke-width="1.2" />
<text transform="translate(62.50,51.90) scale(0.98,1)" font-size="13.4" font-weight="bold" text-anchor="end" fill="#000" >1.0</text>
<line x1="66.00" y1="235.00" x2="68.00" y2="235.00" stroke="#000" stroke-width="1" />
<line x1="66.00" y1="181.40" x2="68.00" y2="181.40" stroke="#000" stroke-width="1" />
<line x1="66.00" y1="127.80" x2="68.00" y2="127.80" stroke="#000" stroke-width="1" />
<line x1="66.00" y1="74.20" x2="68.00" y2="74.20" stroke="#000" stroke-width="1" />
<text transform="translate(202.50,290.30)" font-size="13.6" font-weight="bold" text-anchor="middle" fill="#000" textLength="47.8" lengthAdjust="spacingAndGlyphs" >Time(s)</text>
<text transform="translate(35.00,137.00) rotate(-90)" font-size="13" font-weight="bold" text-anchor="middle" fill="#000" textLength="71.5" lengthAdjust="spacingAndGlyphs" >Potential(V)</text>
<text transform="translate(38.50,34.80) scale(0.97,1)" font-size="25" font-weight="bold" text-anchor="start" fill="#000" >A</text>
<rect x="276.80" y="38.60" width="51.60" height="147.00" fill="none" stroke="#41719c" stroke-width="1.2" stroke-dasharray="5 3.2"/>
<line x1="343.50" y1="40.80" x2="410.50" y2="18.00" stroke="#5b9bd5" stroke-width="1.2" stroke-dasharray="5 3.2"/>
<line x1="329.00" y1="185.00" x2="421.00" y2="241.00" stroke="#5b9bd5" stroke-width="1.2" stroke-dasharray="5 3.2"/>
<text transform="translate(139.00,85.00)" font-size="12.7" font-weight="bold" text-anchor="start" fill="#000" textLength="117.5" lengthAdjust="spacingAndGlyphs" >Adding of pollutants</text>
<line x1="257.00" y1="81.00" x2="282.37" y2="70.08" stroke="#f01414" stroke-width="1.6" />
<polygon points="286.5,68.3 282.9,72.7 280.9,67.9" fill="#f01414"/>
<text transform="translate(70.50,136.80)" font-size="12.4" font-weight="bold" text-anchor="start" fill="#000" textLength="40.5" lengthAdjust="spacingAndGlyphs" >Adding</text>
<text transform="translate(70.50,153.00)" font-size="12.4" font-weight="bold" text-anchor="start" fill="#000" textLength="40.5" lengthAdjust="spacingAndGlyphs" >of PMS</text>
<line x1="97.50" y1="160.00" x2="107.88" y2="198.69" stroke="#f01414" stroke-width="1.6" />
<polygon points="109.3,204.0 105.2,198.9 110.3,197.5" fill="#f01414"/>
<path d="M140.5,108.5 L140.5,101 Q140.5,98.2 143.5,98.2 L203,98.2 Q205.5,98.2 205.5,95 L205.5,89.5 L206,95 Q206,98.2 208.5,98.2 L267,98.2 Q269.5,98.2 269.6,101 L270.3,108.5" stroke="#f01414" stroke-width="1.8" fill="none" />
<line x1="146.30" y1="110.30" x2="177.50" y2="110.30" stroke="#4a4a4a" stroke-width="1.4" />
<text transform="translate(180.60,114.20) scale(0.95,1)" font-size="10.9" font-weight="bold" text-anchor="start" fill="#000" >NP</text>
<line x1="146.30" y1="127.20" x2="177.50" y2="127.20" stroke="#1f62d8" stroke-width="1.4" />
<text transform="translate(180.60,131.10) scale(0.95,1)" font-size="10.9" font-weight="bold" text-anchor="start" fill="#000" >TC</text>
<line x1="146.30" y1="144.20" x2="177.50" y2="144.20" stroke="#b36be0" stroke-width="1.4" />
<text transform="translate(180.60,148.10) scale(0.95,1)" font-size="10.9" font-weight="bold" text-anchor="start" fill="#000" >CP</text>
<line x1="146.30" y1="161.20" x2="177.50" y2="161.20" stroke="#6e3b44" stroke-width="1.4" />
<text transform="translate(180.60,165.10) scale(0.95,1)" font-size="10.9" font-weight="bold" text-anchor="start" fill="#000" >SN</text>
<line x1="146.30" y1="178.00" x2="177.50" y2="178.00" stroke="#2cc9c9" stroke-width="1.4" />
<text transform="translate(180.60,181.90) scale(0.95,1)" font-size="10.9" font-weight="bold" text-anchor="start" fill="#000" >PE</text>
<line x1="146.30" y1="194.80" x2="177.50" y2="194.80" stroke="#c9b9a2" stroke-width="1.4" />
<text transform="translate(180.60,198.70) scale(0.95,1)" font-size="10.9" font-weight="bold" text-anchor="start" fill="#000" >NB</text>
<line x1="146.30" y1="211.60" x2="177.50" y2="211.60" stroke="#f26a1b" stroke-width="1.4" />
<text transform="translate(180.60,215.50) scale(0.95,1)" font-size="10.9" font-weight="bold" text-anchor="start" fill="#000" >SMT</text>
<line x1="209.50" y1="110.30" x2="240.80" y2="110.30" stroke="#ee3338" stroke-width="1.4" />
<text transform="translate(243.00,114.20) scale(0.95,1)" font-size="10.9" font-weight="bold" text-anchor="start" fill="#000" >PCM</text>
<line x1="207.50" y1="127.20" x2="239.40" y2="127.20" stroke="#2ca35a" stroke-width="1.4" />
<text transform="translate(240.80,131.10) scale(0.95,1)" font-size="10.9" font-weight="bold" text-anchor="start" fill="#000" >BPA</text>
<line x1="207.50" y1="144.20" x2="239.40" y2="144.20" stroke="#134a78" stroke-width="1.4" />
<text transform="translate(240.80,148.10) scale(0.95,1)" font-size="10.9" font-weight="bold" text-anchor="start" fill="#000" >SMZ</text>
<line x1="208.50" y1="161.20" x2="240.80" y2="161.20" stroke="#c8960f" stroke-width="1.4" />
<text transform="translate(242.60,165.10) scale(0.95,1)" font-size="10.9" font-weight="bold" text-anchor="start" fill="#000" >HBA</text>
<line x1="207.50" y1="178.00" x2="239.40" y2="178.00" stroke="#8f8e10" stroke-width="1.4" />
<text transform="translate(240.80,181.90) scale(0.95,1)" font-size="10.9" font-weight="bold" text-anchor="start" fill="#000" >CBZ</text>
<line x1="209.50" y1="194.80" x2="240.80" y2="194.80" stroke="#1f9d9a" stroke-width="1.4" />
<text transform="translate(243.40,198.70) scale(0.95,1)" font-size="10.9" font-weight="bold" text-anchor="start" fill="#000" >NBA</text>
<line x1="208.50" y1="211.60" x2="240.80" y2="211.60" stroke="#f7b6bd" stroke-width="1.4" />
<text transform="translate(242.60,215.50) scale(0.95,1)" font-size="10.9" font-weight="bold" text-anchor="start" fill="#000" >Control</text>
<polygon points="369.2,178.70000000000002 389.7,178.70000000000002 389.7,168.10000000000002 410.2,190.3 389.7,212.5 389.7,201.9 369.2,201.9" fill="url(#gArrow)"/>
<rect x="457.40" y="25.00" width="44.60" height="222.20" fill="#e3eef8" stroke="none" stroke-width="1" />
<rect x="502.00" y="25.00" width="86.40" height="222.20" fill="#fdf1ef" stroke="none" stroke-width="1" />
<clipPath id="clipB"><rect x="457.4" y="25" width="131.0" height="222.2"/></clipPath>
<g clip-path="url(#clipB)">
<path d="M458.1,55.9 L460.9,55.9 L463.6,55.9 L466.4,55.9 L469.1,55.9 L471.9,55.9 L474.7,55.9 L477.4,55.9 L480.2,55.9 L482.9,55.9 L485.7,55.9 L488.4,55.9 L491.2,55.9 L494.0,55.9 L496.7,55.6 L497.3,55.6 L497.8,55.5 L498.4,55.5 L498.9,55.5 L499.5,55.5 L500.0,55.4 L500.6,55.4 L501.1,55.4 L501.7,55.4 L502.2,55.4 L502.8,55.4 L503.3,55.4 L503.9,55.4 L504.4,55.4 L505.0,55.4 L505.5,55.4 L506.1,55.4 L506.6,55.4 L507.2,55.4 L507.7,55.4 L508.3,55.4 L508.8,55.4 L509.4,55.4 L509.9,55.4 L510.5,55.4 L511.0,55.4 L511.6,55.4 L512.1,55.4 L512.7,55.4 L513.2,55.4 L513.8,55.4 L514.4,55.4 L514.9,55.4 L515.5,55.4 L516.0,55.4 L516.6,55.4 L517.1,55.4 L517.7,55.4 L518.2,55.4 L518.8,55.4 L519.3,55.4 L519.9,55.4 L520.4,55.4 L521.0,55.4 L521.5,55.4 L522.1,55.4 L522.6,55.4 L525.4,55.3 L528.1,55.3 L530.9,55.3 L533.6,55.3 L536.4,55.3 L539.2,55.3 L541.9,55.3 L544.7,55.3 L547.4,55.3 L550.2,55.3 L552.9,55.3 L555.7,55.3 L558.5,55.3 L561.2,55.3 L564.0,55.3 L566.7,55.3 L569.5,55.3 L572.2,55.3 L575.0,55.3 L577.7,55.3 L580.5,55.3 L583.3,55.3 L586.0,55.3" stroke="#1f9d9a" stroke-width="1.2" fill="none" stroke-linejoin="round" />
<path d="M458.1,54.7 L460.9,54.7 L463.6,54.7 L466.4,54.7 L469.1,54.7 L471.9,54.7 L474.7,54.7 L477.4,54.7 L480.2,54.7 L482.9,54.7 L485.7,54.7 L488.4,54.7 L491.2,54.7 L494.0,54.7 L496.7,54.3 L497.3,54.2 L497.8,54.1 L498.4,54.1 L498.9,54.1 L499.5,54.0 L500.0,54.0 L500.6,54.0 L501.1,54.0 L501.7,54.0 L502.2,54.0 L502.8,53.9 L503.3,53.9 L503.9,53.9 L504.4,53.9 L505.0,53.9 L505.5,53.9 L506.1,53.9 L506.6,53.9 L507.2,53.9 L507.7,53.9 L508.3,53.9 L508.8,53.9 L509.4,53.9 L509.9,53.9 L510.5,53.9 L511.0,53.9 L511.6,53.9 L512.1,53.9 L512.7,53.9 L513.2,53.9 L513.8,53.9 L514.4,53.9 L514.9,53.9 L515.5,53.9 L516.0,53.9 L516.6,53.9 L517.1,53.9 L517.7,53.9 L518.2,53.9 L518.8,53.9 L519.3,53.9 L519.9,53.9 L520.4,53.9 L521.0,53.9 L521.5,53.9 L522.1,53.9 L522.6,53.9 L525.4,53.9 L528.1,53.9 L530.9,53.9 L533.6,53.9 L536.4,53.9 L539.2,53.9 L541.9,53.9 L544.7,53.9 L547.4,53.9 L550.2,53.9 L552.9,53.9 L555.7,53.9 L558.5,53.9 L561.2,53.9 L564.0,53.9 L566.7,53.9 L569.5,53.9 L572.2,53.9 L575.0,53.9 L577.7,53.9 L580.5,53.9 L583.3,53.9 L586.0,53.9" stroke="#f7b6bd" stroke-width="1.2" fill="none" stroke-linejoin="round" />
<path d="M458.1,53.5 L460.9,53.5 L463.6,53.5 L466.4,53.5 L469.1,53.5 L471.9,53.5 L474.7,53.5 L477.4,53.5 L480.2,53.5 L482.9,53.5 L485.7,53.5 L488.4,53.5 L491.2,53.5 L494.0,53.5 L496.7,55.0 L497.3,55.3 L497.8,55.6 L498.4,55.8 L498.9,56.0 L499.5,56.2 L500.0,56.4 L500.6,56.5 L501.1,56.6 L501.7,56.7 L502.2,56.8 L502.8,56.9 L503.3,56.9 L503.9,57.0 L504.4,57.0 L505.0,57.1 L505.5,57.1 L506.1,57.1 L506.6,57.1 L507.2,57.2 L507.7,57.2 L508.3,57.2 L508.8,57.2 L509.4,57.2 L509.9,57.3 L510.5,57.3 L511.0,57.3 L511.6,57.3 L512.1,57.3 L512.7,57.3 L513.2,57.3 L513.8,57.3 L514.4,57.3 L514.9,57.3 L515.5,57.3 L516.0,57.3 L516.6,57.4 L517.1,57.4 L517.7,57.4 L518.2,57.4 L518.8,57.4 L519.3,57.4 L519.9,57.4 L520.4,57.4 L521.0,57.4 L521.5,57.4 L522.1,57.4 L522.6,57.4 L525.4,57.4 L528.1,57.4 L530.9,57.5 L533.6,57.5 L536.4,57.5 L539.2,57.5 L541.9,57.5 L544.7,57.5 L547.4,57.5 L550.2,57.5 L552.9,57.5 L555.7,57.5 L558.5,57.5 L561.2,57.5 L564.0,57.5 L566.7,57.5 L569.5,57.5 L572.2,57.5 L575.0,57.5 L577.7,57.5 L580.5,57.5 L583.3,57.5 L586.0,57.5" stroke="#c9b9a2" stroke-width="1.2" fill="none" stroke-linejoin="round" />
<path d="M458.1,55.2 L460.9,55.2 L463.6,55.2 L466.4,55.2 L469.1,55.2 L471.9,55.2 L474.7,55.2 L477.4,55.2 L480.2,55.2 L482.9,55.2 L485.7,55.2 L488.4,55.2 L491.2,55.2 L494.0,55.2 L496.7,58.4 L497.3,59.3 L497.8,60.0 L498.4,60.7 L498.9,61.4 L499.5,62.0 L500.0,62.5 L500.6,63.0 L501.1,63.5 L501.7,63.9 L502.2,64.3 L502.8,64.7 L503.3,65.1 L503.9,65.4 L504.4,65.7 L505.0,66.0 L505.5,66.2 L506.1,66.4 L506.6,66.7 L507.2,66.9 L507.7,67.1 L508.3,67.2 L508.8,67.4 L509.4,67.5 L509.9,67.7 L510.5,67.8 L511.0,67.9 L511.6,68.0 L512.1,68.2 L512.7,68.3 L513.2,68.3 L513.8,68.4 L514.4,68.5 L514.9,68.6 L515.5,68.7 L516.0,68.7 L516.6,68.8 L517.1,68.8 L517.7,68.9 L518.2,68.9 L518.8,69.0 L519.3,69.0 L519.9,69.1 L520.4,69.1 L521.0,69.1 L521.5,69.2 L522.1,69.2 L522.6,69.2 L525.4,69.4 L528.1,69.5 L530.9,69.6 L533.6,69.6 L536.4,69.7 L539.2,69.8 L541.9,69.8 L544.7,69.9 L547.4,69.9 L550.2,69.9 L552.9,70.0 L555.7,70.0 L558.5,70.0 L561.2,70.0 L564.0,70.1 L566.7,70.1 L569.5,70.1 L572.2,70.1 L575.0,70.2 L577.7,70.2 L580.5,70.2 L583.3,70.2 L586.0,70.2" stroke="#5a5a5a" stroke-width="1.2" fill="none" stroke-linejoin="round" />
<path d="M458.1,54.0 L460.9,54.0 L463.6,54.0 L466.4,54.0 L469.1,54.0 L471.9,54.0 L474.7,54.0 L477.4,54.0 L480.2,54.0 L482.9,54.0 L485.7,54.0 L488.4,54.0 L491.2,54.0 L494.0,54.0 L496.7,68.8 L497.3,70.9 L497.8,72.4 L498.4,73.5 L498.9,74.2 L499.5,74.8 L500.0,75.3 L500.6,75.6 L501.1,75.9 L501.7,76.1 L502.2,76.2 L502.8,76.3 L503.3,76.5 L503.9,76.6 L504.4,76.6 L505.0,76.7 L505.5,76.8 L506.1,76.8 L506.6,76.9 L507.2,76.9 L507.7,77.0 L508.3,77.0 L508.8,77.1 L509.4,77.1 L509.9,77.2 L510.5,77.2 L511.0,77.2 L511.6,77.3 L512.1,77.3 L512.7,77.3 L513.2,77.4 L513.8,77.4 L514.4,77.4 L514.9,77.4 L515.5,77.5 L516.0,77.5 L516.6,77.5 L517.1,77.5 L517.7,77.5 L518.2,77.6 L518.8,77.6 L519.3,77.6 L519.9,77.6 L520.4,77.6 L521.0,77.6 L521.5,77.6 L522.1,77.7 L522.6,77.7 L525.4,77.7 L528.1,77.8 L530.9,77.8 L533.6,77.8 L536.4,77.8 L539.2,77.9 L541.9,77.9 L544.7,77.9 L547.4,77.9 L550.2,77.9 L552.9,77.9 L555.7,77.9 L558.5,77.9 L561.2,77.9 L564.0,77.9 L566.7,77.9 L569.5,77.9 L572.2,77.9 L575.0,77.9 L577.7,77.9 L580.5,77.9 L583.3,77.9 L586.0,77.9" stroke="#6e3b44" stroke-width="1.2" fill="none" stroke-linejoin="round" />
<path d="M458.1,55.7 L460.9,55.7 L463.6,55.7 L466.4,55.7 L469.1,55.7 L471.9,55.7 L474.7,55.7 L477.4,55.7 L480.2,55.7 L482.9,55.7 L485.7,55.7 L488.4,55.7 L491.2,55.7 L494.0,55.7 L496.7,58.6 L497.3,59.3 L497.8,60.1 L498.4,60.8 L498.9,61.5 L499.5,62.2 L500.0,62.8 L500.6,63.4 L501.1,64.0 L501.7,64.6 L502.2,65.1 L502.8,65.7 L503.3,66.2 L503.9,66.7 L504.4,67.1 L505.0,67.6 L505.5,68.0 L506.1,68.4 L506.6,68.8 L507.2,69.2 L507.7,69.6 L508.3,70.0 L508.8,70.3 L509.4,70.6 L509.9,70.9 L510.5,71.2 L511.0,71.5 L511.6,71.8 L512.1,72.1 L512.7,72.4 L513.2,72.6 L513.8,72.9 L514.4,73.1 L514.9,73.3 L515.5,73.5 L516.0,73.7 L516.6,73.9 L517.1,74.1 L517.7,74.3 L518.2,74.5 L518.8,74.7 L519.3,74.8 L519.9,75.0 L520.4,75.1 L521.0,75.3 L521.5,75.4 L522.1,75.6 L522.6,75.7 L525.4,76.3 L528.1,76.8 L530.9,77.2 L533.6,77.6 L536.4,77.9 L539.2,78.1 L541.9,78.3 L544.7,78.5 L547.4,78.7 L550.2,78.8 L552.9,78.9 L555.7,79.0 L558.5,79.1 L561.2,79.2 L564.0,79.3 L566.7,79.3 L569.5,79.4 L572.2,79.4 L575.0,79.5 L577.7,79.5 L580.5,79.6 L583.3,79.6 L586.0,79.7" stroke="#e23bd0" stroke-width="1.2" fill="none" stroke-linejoin="round" />
<path d="M458.1,54.5 L460.9,54.5 L463.6,54.5 L466.4,54.5 L469.1,54.5 L471.9,54.5 L474.7,54.5 L477.4,54.5 L480.2,54.5 L482.9,54.5 L485.7,54.5 L488.4,54.5 L491.2,54.5 L494.0,54.5 L496.7,61.4 L497.3,63.1 L497.8,64.8 L498.4,66.3 L498.9,67.8 L499.5,69.2 L500.0,70.4 L500.6,71.6 L501.1,72.7 L501.7,73.7 L502.2,74.7 L502.8,75.6 L503.3,76.5 L503.9,77.3 L504.4,78.0 L505.0,78.7 L505.5,79.3 L506.1,80.0 L506.6,80.5 L507.2,81.1 L507.7,81.6 L508.3,82.0 L508.8,82.5 L509.4,82.9 L509.9,83.3 L510.5,83.6 L511.0,84.0 L511.6,84.3 L512.1,84.6 L512.7,84.9 L513.2,85.1 L513.8,85.4 L514.4,85.6 L514.9,85.8 L515.5,86.0 L516.0,86.2 L516.6,86.4 L517.1,86.6 L517.7,86.8 L518.2,86.9 L518.8,87.1 L519.3,87.2 L519.9,87.3 L520.4,87.5 L521.0,87.6 L521.5,87.7 L522.1,87.8 L522.6,87.9 L525.4,88.3 L528.1,88.6 L530.9,88.9 L533.6,89.1 L536.4,89.3 L539.2,89.5 L541.9,89.6 L544.7,89.7 L547.4,89.8 L550.2,89.9 L552.9,90.0 L555.7,90.1 L558.5,90.2 L561.2,90.2 L564.0,90.3 L566.7,90.4 L569.5,90.4 L572.2,90.5 L575.0,90.5 L577.7,90.6 L580.5,90.6 L583.3,90.7 L586.0,90.7" stroke="#8f8e10" stroke-width="1.2" fill="none" stroke-linejoin="round" />
<path d="M458.1,53.3 L460.9,53.3 L463.6,53.3 L466.4,53.3 L469.1,53.3 L471.9,53.3 L474.7,53.3 L477.4,53.3 L480.2,53.3 L482.9,53.3 L485.7,53.3 L488.4,53.3 L491.2,53.3 L494.0,53.3 L496.7,62.2 L497.3,64.4 L497.8,66.5 L498.4,68.4 L498.9,70.2 L499.5,71.8 L500.0,73.4 L500.6,74.8 L501.1,76.1 L501.7,77.3 L502.2,78.4 L502.8,79.4 L503.3,80.3 L503.9,81.2 L504.4,82.0 L505.0,82.8 L505.5,83.5 L506.1,84.1 L506.6,84.7 L507.2,85.3 L507.7,85.8 L508.3,86.3 L508.8,86.7 L509.4,87.2 L509.9,87.5 L510.5,87.9 L511.0,88.2 L511.6,88.5 L512.1,88.8 L512.7,89.1 L513.2,89.4 L513.8,89.6 L514.4,89.8 L514.9,90.0 L515.5,90.2 L516.0,90.4 L516.6,90.5 L517.1,90.7 L517.7,90.9 L518.2,91.0 L518.8,91.1 L519.3,91.2 L519.9,91.4 L520.4,91.5 L521.0,91.6 L521.5,91.7 L522.1,91.8 L522.6,91.8 L525.4,92.2 L528.1,92.5 L530.9,92.7 L533.6,92.9 L536.4,93.1 L539.2,93.2 L541.9,93.4 L544.7,93.5 L547.4,93.6 L550.2,93.7 L552.9,93.8 L555.7,93.9 L558.5,94.0 L561.2,94.0 L564.0,94.1 L566.7,94.2 L569.5,94.2 L572.2,94.3 L575.0,94.4 L577.7,94.4 L580.5,94.5 L583.3,94.5 L586.0,94.5" stroke="#c9b9a2" stroke-width="1.2" fill="none" stroke-linejoin="round" />
<path d="M458.1,55.0 L460.9,55.0 L463.6,55.0 L466.4,55.0 L469.1,55.0 L471.9,55.0 L474.7,55.0 L477.4,55.0 L480.2,55.0 L482.9,55.0 L485.7,55.0 L488.4,55.0 L491.2,55.0 L494.0,55.0 L496.7,61.6 L497.3,63.3 L497.8,65.0 L498.4,66.5 L498.9,68.0 L499.5,69.4 L500.0,70.8 L500.6,72.1 L501.1,73.3 L501.7,74.4 L502.2,75.5 L502.8,76.5 L503.3,77.5 L503.9,78.5 L504.4,79.3 L505.0,80.2 L505.5,81.0 L506.1,81.7 L506.6,82.5 L507.2,83.1 L507.7,83.8 L508.3,84.4 L508.8,85.0 L509.4,85.6 L509.9,86.1 L510.5,86.6 L511.0,87.1 L511.6,87.5 L512.1,87.9 L512.7,88.4 L513.2,88.7 L513.8,89.1 L514.4,89.5 L514.9,89.8 L515.5,90.1 L516.0,90.4 L516.6,90.7 L517.1,91.0 L517.7,91.3 L518.2,91.5 L518.8,91.8 L519.3,92.0 L519.9,92.2 L520.4,92.4 L521.0,92.6 L521.5,92.8 L522.1,93.0 L522.6,93.1 L525.4,93.9 L528.1,94.5 L530.9,95.0 L533.6,95.4 L536.4,95.7 L539.2,96.0 L541.9,96.2 L544.7,96.4 L547.4,96.6 L550.2,96.7 L552.9,96.9 L555.7,97.0 L558.5,97.1 L561.2,97.2 L564.0,97.3 L566.7,97.4 L569.5,97.5 L572.2,97.5 L575.0,97.6 L577.7,97.7 L580.5,97.7 L583.3,97.8 L586.0,97.9" stroke="#f26a1b" stroke-width="1.2" fill="none" stroke-linejoin="round" />
<path d="M458.1,53.8 L460.9,53.8 L463.6,53.8 L466.4,53.8 L469.1,53.8 L471.9,53.8 L474.7,53.8 L477.4,53.8 L480.2,53.8 L482.9,53.8 L485.7,53.8 L488.4,53.8 L491.2,53.8 L494.0,53.8 L496.7,62.0 L497.3,64.2 L497.8,66.1 L498.4,68.0 L498.9,69.7 L499.5,71.4 L500.0,72.9 L500.6,74.3 L501.1,75.6 L501.7,76.9 L502.2,78.0 L502.8,79.1 L503.3,80.1 L503.9,81.1 L504.4,82.0 L505.0,82.8 L505.5,83.6 L506.1,84.3 L506.6,85.0 L507.2,85.6 L507.7,86.2 L508.3,86.8 L508.8,87.3 L509.4,87.8 L509.9,88.3 L510.5,88.7 L511.0,89.1 L511.6,89.5 L512.1,89.9 L512.7,90.2 L513.2,90.5 L513.8,90.8 L514.4,91.1 L514.9,91.4 L515.5,91.6 L516.0,91.8 L516.6,92.1 L517.1,92.3 L517.7,92.5 L518.2,92.7 L518.8,92.8 L519.3,93.0 L519.9,93.1 L520.4,93.3 L521.0,93.4 L521.5,93.6 L522.1,93.7 L522.6,93.8 L525.4,94.3 L528.1,94.7 L530.9,95.0 L533.6,95.3 L536.4,95.5 L539.2,95.7 L541.9,95.9 L544.7,96.0 L547.4,96.1 L550.2,96.2 L552.9,96.3 L555.7,96.4 L558.5,96.5 L561.2,96.6 L564.0,96.7 L566.7,96.8 L569.5,96.9 L572.2,96.9 L575.0,97.0 L577.7,97.1 L580.5,97.1 L583.3,97.2 L586.0,97.2" stroke="#1f62d8" stroke-width="1.2" fill="none" stroke-linejoin="round" />
<path d="M458.1,55.5 L460.9,55.5 L463.6,55.5 L466.4,55.5 L469.1,55.5 L471.9,55.5 L474.7,55.5 L477.4,55.5 L480.2,55.5 L482.9,55.5 L485.7,55.5 L488.4,55.5 L491.2,55.5 L494.0,55.5 L496.7,67.0 L497.3,69.7 L497.8,72.3 L498.4,74.6 L498.9,76.7 L499.5,78.6 L500.0,80.3 L500.6,81.9 L501.1,83.3 L501.7,84.6 L502.2,85.8 L502.8,86.9 L503.3,87.9 L503.9,88.8 L504.4,89.7 L505.0,90.4 L505.5,91.1 L506.1,91.8 L506.6,92.3 L507.2,92.9 L507.7,93.4 L508.3,93.8 L508.8,94.2 L509.4,94.6 L509.9,94.9 L510.5,95.2 L511.0,95.5 L511.6,95.8 L512.1,96.1 L512.7,96.3 L513.2,96.5 L513.8,96.7 L514.4,96.9 L514.9,97.0 L515.5,97.2 L516.0,97.3 L516.6,97.5 L517.1,97.6 L517.7,97.7 L518.2,97.8 L518.8,97.9 L519.3,98.0 L519.9,98.1 L520.4,98.2 L521.0,98.3 L521.5,98.4 L522.1,98.5 L522.6,98.5 L525.4,98.8 L528.1,99.1 L530.9,99.3 L533.6,99.5 L536.4,99.6 L539.2,99.8 L541.9,99.9 L544.7,100.0 L547.4,100.1 L550.2,100.2 L552.9,100.3 L555.7,100.4 L558.5,100.5 L561.2,100.5 L564.0,100.6 L566.7,100.7 L569.5,100.7 L572.2,100.8 L575.0,100.8 L577.7,100.9 L580.5,100.9 L583.3,101.0 L586.0,101.0" stroke="#d9822b" stroke-width="1.2" fill="none" stroke-linejoin="round" />
<path d="M458.1,54.3 L460.9,54.3 L463.6,54.3 L466.4,54.3 L469.1,54.3 L471.9,54.3 L474.7,54.3 L477.4,54.3 L480.2,54.3 L482.9,54.3 L485.7,54.3 L488.4,54.3 L491.2,54.3 L494.0,54.3 L496.7,52.9 L499.5,52.9 L502.2,52.9 L505.0,52.9 L507.7,52.9 L510.5,52.9 L513.2,52.9 L516.0,52.9 L518.8,52.9 L521.5,52.9 L524.3,54.3 L524.8,63.3 L525.4,70.5 L525.9,76.4 L526.5,81.1 L527.0,84.9 L527.6,88.0 L528.1,90.5 L528.7,92.5 L529.2,94.2 L529.8,95.6 L530.3,96.7 L530.9,97.6 L531.4,98.3 L532.0,99.0 L532.5,99.5 L533.1,99.9 L533.6,100.3 L534.2,100.6 L534.7,100.9 L535.3,101.1 L535.9,101.3 L536.4,101.5 L537.0,101.7 L537.5,101.8 L538.1,102.0 L538.6,102.1 L539.2,102.2 L539.7,102.3 L540.3,102.4 L540.8,102.5 L541.4,102.6 L541.9,102.7 L542.5,102.7 L543.0,102.8 L543.6,102.9 L544.1,102.9 L544.7,103.0 L545.2,103.1 L545.8,103.1 L546.3,103.2 L546.9,103.2 L547.4,103.3 L548.0,103.3 L548.5,103.4 L549.1,103.4 L549.6,103.5 L550.2,103.5 L550.7,103.6 L551.3,103.6 L551.8,103.7 L554.6,103.8 L557.4,104.0 L560.1,104.1 L562.9,104.2 L565.6,104.3 L568.4,104.4 L571.1,104.5 L573.9,104.6 L576.6,104.6 L579.4,104.7 L582.2,104.7 L584.9,104.7 L587.7,104.8" stroke="#c8960f" stroke-width="1.2" fill="none" stroke-linejoin="round" />
<path d="M458.1,53.1 L460.9,53.1 L463.6,53.1 L466.4,53.1 L469.1,53.1 L471.9,53.1 L474.7,53.1 L477.4,53.1 L480.2,53.1 L482.9,53.1 L485.7,53.1 L488.4,53.1 L491.2,53.1 L494.0,53.1 L496.7,99.8 L497.3,104.5 L497.8,107.6 L498.4,109.5 L498.9,110.9 L499.5,111.8 L500.0,112.5 L500.6,113.0 L501.1,113.4 L501.7,113.7 L502.2,114.0 L502.8,114.2 L503.3,114.4 L503.9,114.6 L504.4,114.8 L505.0,115.0 L505.5,115.1 L506.1,115.2 L506.6,115.4 L507.2,115.5 L507.7,115.6 L508.3,115.7 L508.8,115.8 L509.4,115.9 L509.9,116.0 L510.5,116.0 L511.0,116.1 L511.6,116.2 L512.1,116.2 L512.7,116.3 L513.2,116.4 L513.8,116.4 L514.4,116.5 L514.9,116.5 L515.5,116.5 L516.0,116.6 L516.6,116.6 L517.1,116.7 L517.7,116.7 L518.2,116.7 L518.8,116.7 L519.3,116.8 L519.9,116.8 L520.4,116.8 L521.0,116.8 L521.5,116.9 L522.1,116.9 L522.6,116.9 L525.4,117.0 L528.1,117.0 L530.9,117.0 L533.6,117.1 L536.4,117.1 L539.2,117.1 L541.9,117.1 L544.7,117.1 L547.4,117.1 L550.2,117.1 L552.9,117.1 L555.7,117.1 L558.5,117.1 L561.2,117.1 L564.0,117.1 L566.7,117.1 L569.5,117.1 L572.2,117.1 L575.0,117.1 L577.7,117.1 L580.5,117.1 L583.3,117.1 L586.0,117.1" stroke="#2cc9c9" stroke-width="1.2" fill="none" stroke-linejoin="round" />
<path d="M458.1,54.9 L460.9,54.9 L463.6,54.9 L466.4,54.9 L469.1,54.9 L471.9,54.9 L474.7,54.9 L477.4,54.9 L480.2,54.9 L482.9,54.9 L485.7,54.9 L488.4,54.9 L491.2,54.9 L494.0,54.9 L496.7,104.2 L497.3,112.4 L497.8,118.7 L498.4,123.6 L498.9,127.4 L499.5,130.4 L500.0,132.8 L500.6,134.6 L501.1,136.1 L501.7,137.3 L502.2,138.2 L502.8,139.0 L503.3,139.6 L503.9,140.2 L504.4,140.6 L505.0,141.0 L505.5,141.4 L506.1,141.7 L506.6,142.0 L507.2,142.2 L507.7,142.4 L508.3,142.6 L508.8,142.8 L509.4,143.0 L509.9,143.2 L510.5,143.3 L511.0,143.5 L511.6,143.6 L512.1,143.8 L512.7,143.9 L513.2,144.0 L513.8,144.1 L514.4,144.2 L514.9,144.4 L515.5,144.5 L516.0,144.6 L516.6,144.7 L517.1,144.7 L517.7,144.8 L518.2,144.9 L518.8,145.0 L519.3,145.1 L519.9,145.2 L520.4,145.2 L521.0,145.3 L521.5,145.4 L522.1,145.4 L522.6,145.5 L525.4,145.8 L528.1,146.0 L530.9,146.2 L533.6,146.4 L536.4,146.5 L539.2,146.6 L541.9,146.7 L544.7,146.8 L547.4,146.8 L550.2,146.9 L552.9,146.9 L555.7,146.9 L558.5,147.0 L561.2,147.0 L564.0,147.0 L566.7,147.0 L569.5,147.0 L572.2,147.0 L575.0,147.1 L577.7,147.1 L580.5,147.1 L583.3,147.1 L586.0,147.1" stroke="#b36be0" stroke-width="1.2" fill="none" stroke-linejoin="round" />
<path d="M458.1,53.6 L460.9,53.6 L463.6,53.6 L466.4,53.6 L469.1,53.6 L471.9,53.6 L474.7,53.6 L477.4,53.6 L480.2,53.6 L482.9,53.6 L485.7,53.6 L488.4,53.6 L491.2,53.6 L494.0,53.6 L496.7,106.6 L497.3,117.7 L497.8,127.3 L498.4,135.5 L498.9,142.4 L499.5,148.4 L500.0,153.6 L500.6,158.0 L501.1,161.8 L501.7,165.1 L502.2,167.9 L502.8,170.3 L503.3,172.5 L503.9,174.3 L504.4,175.9 L505.0,177.3 L505.5,178.5 L506.1,179.5 L506.6,180.5 L507.2,181.3 L507.7,182.1 L508.3,182.7 L508.8,183.3 L509.4,183.8 L509.9,184.3 L510.5,184.7 L511.0,185.1 L511.6,185.5 L512.1,185.8 L512.7,186.1 L513.2,186.4 L513.8,186.7 L514.4,186.9 L514.9,187.1 L515.5,187.4 L516.0,187.6 L516.6,187.8 L517.1,188.0 L517.7,188.1 L518.2,188.3 L518.8,188.5 L519.3,188.6 L519.9,188.8 L520.4,188.9 L521.0,189.1 L521.5,189.2 L522.1,189.4 L522.6,189.5 L525.4,190.1 L528.1,190.6 L530.9,191.1 L533.6,191.5 L536.4,191.8 L539.2,192.2 L541.9,192.5 L544.7,192.7 L547.4,192.9 L550.2,193.2 L552.9,193.3 L555.7,193.5 L558.5,193.6 L561.2,193.8 L564.0,193.9 L566.7,194.0 L569.5,194.1 L572.2,194.2 L575.0,194.2 L577.7,194.3 L580.5,194.4 L583.3,194.4 L586.0,194.5" stroke="#2ca35a" stroke-width="1.2" fill="none" stroke-linejoin="round" />
<path d="M458.1,55.4 L460.9,55.4 L463.6,55.4 L466.4,55.4 L469.1,55.4 L471.9,55.4 L474.7,55.4 L477.4,55.4 L480.2,55.4 L482.9,55.4 L485.7,55.4 L488.4,55.4 L491.2,55.4 L494.0,55.4 L496.7,130.7 L497.3,145.2 L497.8,157.2 L498.4,167.0 L498.9,175.1 L499.5,181.8 L500.0,187.4 L500.6,192.0 L501.1,195.9 L501.7,199.1 L502.2,201.8 L502.8,204.0 L503.3,205.9 L503.9,207.6 L504.4,208.9 L505.0,210.1 L505.5,211.1 L506.1,212.0 L506.6,212.8 L507.2,213.5 L507.7,214.1 L508.3,214.6 L508.8,215.1 L509.4,215.6 L509.9,216.0 L510.5,216.4 L511.0,216.7 L511.6,217.0 L512.1,217.3 L512.7,217.6 L513.2,217.9 L513.8,218.1 L514.4,218.4 L514.9,218.6 L515.5,218.8 L516.0,219.1 L516.6,219.3 L517.1,219.5 L517.7,219.7 L518.2,219.8 L518.8,220.0 L519.3,220.2 L519.9,220.3 L520.4,220.5 L521.0,220.7 L521.5,220.8 L522.1,221.0 L522.6,221.1 L525.4,221.8 L528.1,222.3 L530.9,222.8 L533.6,223.2 L536.4,223.6 L539.2,223.9 L541.9,224.2 L544.7,224.4 L547.4,224.6 L550.2,224.8 L552.9,224.9 L555.7,225.1 L558.5,225.2 L561.2,225.3 L564.0,225.4 L566.7,225.4 L569.5,225.5 L572.2,225.6 L575.0,225.6 L577.7,225.6 L580.5,225.7 L583.3,225.7 L586.0,225.7" stroke="#ee3338" stroke-width="1.2" fill="none" stroke-linejoin="round" />
<path d="M458.1,54.2 L460.9,54.2 L463.6,54.2 L466.4,54.2 L469.1,54.2 L471.9,54.2 L474.7,54.2 L477.4,54.2 L480.2,54.2 L482.9,54.2 L485.7,54.2 L488.4,54.2 L491.2,54.2 L494.0,54.2 L496.7,54.4 L497.3,54.4 L497.8,54.4 L498.4,54.5 L498.9,54.5 L499.5,54.5 L500.0,54.5 L500.6,54.5 L501.1,54.5 L501.7,54.5 L502.2,54.6 L502.8,54.6 L503.3,54.6 L503.9,54.6 L504.4,54.6 L505.0,54.6 L505.5,54.6 L506.1,54.6 L506.6,54.6 L507.2,54.6 L507.7,54.6 L508.3,54.6 L508.8,54.6 L509.4,54.6 L509.9,54.6 L510.5,54.6 L511.0,54.6 L511.6,54.6 L512.1,54.6 L512.7,54.6 L513.2,54.6 L513.8,54.6 L514.4,54.6 L514.9,54.6 L515.5,54.6 L516.0,54.6 L516.6,54.6 L517.1,54.6 L517.7,54.6 L518.2,54.6 L518.8,54.6 L519.3,54.6 L519.9,54.6 L520.4,54.6 L521.0,54.6 L521.5,54.6 L522.1,54.6 L522.6,54.6 L525.4,54.6 L528.1,54.6 L530.9,54.6 L533.6,54.6 L536.4,54.6 L539.2,54.6 L541.9,54.6 L544.7,54.6 L547.4,54.6 L550.2,54.6 L552.9,54.6 L555.7,54.6 L558.5,54.6 L561.2,54.6 L564.0,54.6 L566.7,54.6 L569.5,54.6 L572.2,54.6 L575.0,54.6 L577.7,54.6 L580.5,54.6 L583.3,54.6 L586.0,54.6" stroke="#7fb2e8" stroke-width="1.2" fill="none" stroke-linejoin="round" />
<line x1="457.40" y1="55.02" x2="495.24" y2="55.02" stroke="#f3a8d0" stroke-width="1.6" />
<line x1="457.40" y1="53.86" x2="495.24" y2="53.86" stroke="#7fb2e8" stroke-width="1.6" />
</g>
<line x1="588.40" y1="41.00" x2="732.60" y2="41.00" stroke="#d8d8d8" stroke-width="0.6" stroke-dasharray="1 1.5"/>
<rect x="730.80" y="27.90" width="1.20" height="11.80" fill="url(#gB0)" stroke="none" stroke-width="1" />
<text transform="translate(760.50,38.10) scale(0.93,1)" font-size="12.2" font-weight="bold" text-anchor="end" fill="#000" >NBA</text>
<text transform="translate(730.30,37.60)" font-size="10.6" font-weight="bold" text-anchor="end" fill="#000" >0.002</text>
<rect x="730.80" y="42.66" width="1.20" height="11.80" fill="url(#gB1)" stroke="none" stroke-width="1" />
<text transform="translate(760.50,52.86) scale(0.93,1)" font-size="12.2" font-weight="bold" text-anchor="end" fill="#000" >CPL</text>
<text transform="translate(730.30,52.36)" font-size="10.6" font-weight="bold" text-anchor="end" fill="#000" >0.003</text>
<rect x="729.49" y="57.42" width="2.51" height="11.80" fill="url(#gB2)" stroke="none" stroke-width="1" />
<text transform="translate(760.50,67.62) scale(0.93,1)" font-size="12.2" font-weight="bold" text-anchor="end" fill="#000" >NB</text>
<text transform="translate(728.99,67.12)" font-size="10.6" font-weight="bold" text-anchor="end" fill="#000" >0.009</text>
<rect x="719.75" y="72.18" width="12.25" height="11.80" fill="url(#gB3)" stroke="none" stroke-width="1" />
<text transform="translate(760.50,82.38) scale(0.93,1)" font-size="12.2" font-weight="bold" text-anchor="end" fill="#000" >NP</text>
<text transform="translate(719.25,81.88)" font-size="10.6" font-weight="bold" text-anchor="end" fill="#000" >0.044</text>
<line x1="588.40" y1="100.04" x2="732.60" y2="100.04" stroke="#d8d8d8" stroke-width="0.6" stroke-dasharray="1 1.5"/>
<rect x="714.73" y="86.94" width="17.27" height="11.80" fill="url(#gB4)" stroke="none" stroke-width="1" />
<text transform="translate(760.50,97.14) scale(0.93,1)" font-size="12.2" font-weight="bold" text-anchor="end" fill="#000" >CBZ</text>
<text transform="translate(714.23,96.64)" font-size="10.6" font-weight="bold" text-anchor="end" fill="#000" >0.062</text>
<rect x="711.95" y="101.70" width="20.05" height="11.80" fill="url(#gB5)" stroke="none" stroke-width="1" />
<text transform="translate(760.50,111.90) scale(0.93,1)" font-size="12.2" font-weight="bold" text-anchor="end" fill="#000" >CIP</text>
<text transform="translate(711.45,111.40)" font-size="10.6" font-weight="bold" text-anchor="end" fill="#000" >0.072</text>
<line x1="588.40" y1="129.56" x2="732.60" y2="129.56" stroke="#d8d8d8" stroke-width="0.6" stroke-dasharray="1 1.5"/>
<rect x="703.87" y="116.46" width="28.13" height="11.80" fill="url(#gB6)" stroke="none" stroke-width="1" />
<text transform="translate(760.50,126.66) scale(0.93,1)" font-size="12.2" font-weight="bold" text-anchor="end" fill="#000" >SMT</text>
<text transform="translate(703.37,126.16)" font-size="10.6" font-weight="bold" text-anchor="end" fill="#000" >0.101</text>
<rect x="700.81" y="131.22" width="31.19" height="11.80" fill="url(#gB7)" stroke="none" stroke-width="1" />
<text transform="translate(760.50,141.42) scale(0.93,1)" font-size="12.2" font-weight="bold" text-anchor="end" fill="#000" >TC</text>
<text transform="translate(700.31,140.92)" font-size="10.6" font-weight="bold" text-anchor="end" fill="#000" >0.112</text>
<rect x="698.30" y="145.98" width="33.70" height="11.80" fill="url(#gB8)" stroke="none" stroke-width="1" />
<text transform="translate(760.50,156.18) scale(0.93,1)" font-size="12.2" font-weight="bold" text-anchor="end" fill="#000" >SMZ</text>
<text transform="translate(697.80,155.68)" font-size="10.6" font-weight="bold" text-anchor="end" fill="#000" >0.121</text>
<rect x="698.30" y="160.74" width="33.70" height="11.80" fill="url(#gB9)" stroke="none" stroke-width="1" />
<text transform="translate(760.50,170.94) scale(0.93,1)" font-size="12.2" font-weight="bold" text-anchor="end" fill="#000" >CTC</text>
<text transform="translate(697.80,170.44)" font-size="10.6" font-weight="bold" text-anchor="end" fill="#000" >0.121</text>
<line x1="588.40" y1="188.60" x2="732.60" y2="188.60" stroke="#d8d8d8" stroke-width="0.6" stroke-dasharray="1 1.5"/>
<rect x="692.73" y="175.50" width="39.27" height="11.80" fill="url(#gB10)" stroke="none" stroke-width="1" />
<text transform="translate(760.50,185.70) scale(0.93,1)" font-size="12.2" font-weight="bold" text-anchor="end" fill="#000" >HBA</text>
<text transform="translate(692.23,185.20)" font-size="10.6" font-weight="bold" text-anchor="end" fill="#000" >0.141</text>
<rect x="685.49" y="190.26" width="46.51" height="11.80" fill="url(#gB11)" stroke="none" stroke-width="1" />
<text transform="translate(760.50,200.46) scale(0.93,1)" font-size="12.2" font-weight="bold" text-anchor="end" fill="#000" >SN</text>
<text transform="translate(684.99,199.96)" font-size="10.6" font-weight="bold" text-anchor="end" fill="#000" >0.167</text>
<rect x="661.82" y="205.02" width="70.18" height="11.80" fill="url(#gB12)" stroke="none" stroke-width="1" />
<text transform="translate(760.50,215.22) scale(0.93,1)" font-size="12.2" font-weight="bold" text-anchor="end" fill="#000" >CP</text>
<text transform="translate(661.32,214.72)" font-size="10.6" font-weight="bold" text-anchor="end" fill="#000" >0.252</text>
<rect x="626.45" y="219.78" width="105.55" height="11.80" fill="url(#gB13)" stroke="none" stroke-width="1" />
<text transform="translate(760.50,229.98) scale(0.93,1)" font-size="12.2" font-weight="bold" text-anchor="end" fill="#000" >BPA</text>
<text transform="translate(625.95,229.48)" font-size="10.6" font-weight="bold" text-anchor="end" fill="#000" >0.379</text>
<rect x="603.05" y="234.54" width="128.95" height="11.80" fill="url(#gB14)" stroke="none" stroke-width="1" />
<text transform="translate(760.50,244.74) scale(0.93,1)" font-size="12.2" font-weight="bold" text-anchor="end" fill="#000" >PCM</text>
<clipPath id="hc1"><rect x="719.75" y="72.18" width="12.25" height="11.80"/><rect x="714.73" y="86.94" width="17.27" height="11.80"/><rect x="711.95" y="101.70" width="20.05" height="11.80"/><rect x="703.87" y="116.46" width="28.13" height="11.80"/><rect x="700.81" y="131.22" width="31.19" height="11.80"/><rect x="698.30" y="145.98" width="33.70" height="11.80"/><rect x="698.30" y="160.74" width="33.70" height="11.80"/><rect x="692.73" y="175.50" width="39.27" height="11.80"/><rect x="685.49" y="190.26" width="46.51" height="11.80"/><rect x="661.82" y="205.02" width="70.18" height="11.80"/><rect x="626.45" y="219.78" width="105.55" height="11.80"/><rect x="603.05" y="234.54" width="128.95" height="11.80"/></clipPath>
<path clip-path="url(#hc1)" d="M428.9,246.3L603.1,72.2M435.9,246.3L610.1,72.2M442.9,246.3L617.1,72.2M449.9,246.3L624.1,72.2M456.9,246.3L631.1,72.2M463.9,246.3L638.1,72.2M470.9,246.3L645.1,72.2M477.9,246.3L652.1,72.2M484.9,246.3L659.1,72.2M491.9,246.3L666.1,72.2M498.9,246.3L673.1,72.2M505.9,246.3L680.1,72.2M512.9,246.3L687.1,72.2M519.9,246.3L694.1,72.2M526.9,246.3L701.1,72.2M533.9,246.3L708.1,72.2M540.9,246.3L715.1,72.2M547.9,246.3L722.1,72.2M554.9,246.3L729.1,72.2M561.9,246.3L736.1,72.2M568.9,246.3L743.1,72.2M575.9,246.3L750.1,72.2M582.9,246.3L757.1,72.2M589.9,246.3L764.1,72.2M596.9,246.3L771.1,72.2M603.9,246.3L778.1,72.2M610.9,246.3L785.1,72.2M617.9,246.3L792.1,72.2M624.9,246.3L799.1,72.2M631.9,246.3L806.1,72.2M638.9,246.3L813.1,72.2M645.9,246.3L820.1,72.2M652.9,246.3L827.1,72.2M659.9,246.3L834.1,72.2M666.9,246.3L841.1,72.2M673.9,246.3L848.1,72.2M680.9,246.3L855.1,72.2M687.9,246.3L862.1,72.2M694.9,246.3L869.1,72.2M701.9,246.3L876.1,72.2M708.9,246.3L883.1,72.2M715.9,246.3L890.1,72.2M722.9,246.3L897.1,72.2M729.9,246.3L904.1,72.2" stroke="#fff" stroke-width="0.7" stroke-opacity="0.75" fill="none"/>
<text transform="translate(612.05,244.44)" font-size="10.6" font-weight="bold" text-anchor="start" fill="#000" >0.463</text>
<rect x="457.40" y="25.00" width="275.20" height="222.20" fill="none" stroke="#000" stroke-width="1.3" />
<line x1="588.40" y1="25.00" x2="588.40" y2="248.20" stroke="#000" stroke-width="2.6" />
<line x1="453.90" y1="25.00" x2="457.40" y2="25.00" stroke="#000" stroke-width="1.2" />
<text transform="translate(448.80,29.50) scale(0.98,1)" font-size="13.4" font-weight="bold" text-anchor="end" fill="#000" >1.1</text>
<line x1="455.40" y1="43.50" x2="457.40" y2="43.50" stroke="#000" stroke-width="1" />
<line x1="453.90" y1="62.03" x2="457.40" y2="62.03" stroke="#000" stroke-width="1.2" />
<text transform="translate(448.80,66.53) scale(0.98,1)" font-size="13.4" font-weight="bold" text-anchor="end" fill="#000" >1.0</text>
<line x1="455.40" y1="80.53" x2="457.40" y2="80.53" stroke="#000" stroke-width="1" />
<line x1="453.90" y1="99.06" x2="457.40" y2="99.06" stroke="#000" stroke-width="1.2" />
<text transform="translate(448.80,103.56) scale(0.98,1)" font-size="13.4" font-weight="bold" text-anchor="end" fill="#000" >0.9</text>
<line x1="455.40" y1="117.56" x2="457.40" y2="117.56" stroke="#000" stroke-width="1" />
<line x1="453.90" y1="136.09" x2="457.40" y2="136.09" stroke="#000" stroke-width="1.2" />
<text transform="translate(448.80,140.59) scale(0.98,1)" font-size="13.4" font-weight="bold" text-anchor="end" fill="#000" >0.8</text>
<line x1="455.40" y1="154.59" x2="457.40" y2="154.59" stroke="#000" stroke-width="1" />
<line x1="453.90" y1="173.12" x2="457.40" y2="173.12" stroke="#000" stroke-width="1.2" />
<text transform="translate(448.80,177.62) scale(0.98,1)" font-size="13.4" font-weight="bold" text-anchor="end" fill="#000" >0.7</text>
<line x1="455.40" y1="191.62" x2="457.40" y2="191.62" stroke="#000" stroke-width="1" />
<line x1="453.90" y1="210.15" x2="457.40" y2="210.15" stroke="#000" stroke-width="1.2" />
<text transform="translate(448.80,214.65) scale(0.98,1)" font-size="13.4" font-weight="bold" text-anchor="end" fill="#000" >0.6</text>
<line x1="455.40" y1="228.65" x2="457.40" y2="228.65" stroke="#000" stroke-width="1" />
<line x1="453.90" y1="247.18" x2="457.40" y2="247.18" stroke="#000" stroke-width="1.2" />
<text transform="translate(448.80,251.68) scale(0.98,1)" font-size="13.4" font-weight="bold" text-anchor="end" fill="#000" >0.5</text>
<line x1="476.50" y1="247.20" x2="476.50" y2="250.70" stroke="#000" stroke-width="1.2" />
<text transform="translate(476.50,265.00) scale(0.98,1)" font-size="13.4" font-weight="bold" text-anchor="middle" fill="#000" >2400</text>
<line x1="550.00" y1="247.20" x2="550.00" y2="250.70" stroke="#000" stroke-width="1.2" />
<text transform="translate(550.00,265.00) scale(0.98,1)" font-size="13.4" font-weight="bold" text-anchor="middle" fill="#000" >2800</text>
<line x1="513.25" y1="247.20" x2="513.25" y2="249.20" stroke="#000" stroke-width="1" />
<line x1="586.75" y1="247.20" x2="586.75" y2="249.20" stroke="#000" stroke-width="1" />
<line x1="732.00" y1="247.20" x2="732.00" y2="250.70" stroke="#000" stroke-width="1.2" />
<text transform="translate(732.00,265.00) scale(0.98,1)" font-size="13.4" font-weight="bold" text-anchor="middle" fill="#000" >0.0</text>
<line x1="718.25" y1="247.20" x2="718.25" y2="249.20" stroke="#000" stroke-width="1" />
<line x1="704.50" y1="247.20" x2="704.50" y2="250.70" stroke="#000" stroke-width="1.2" />
<text transform="translate(704.50,265.00) scale(0.98,1)" font-size="13.4" font-weight="bold" text-anchor="middle" fill="#000" >0.1</text>
<line x1="690.75" y1="247.20" x2="690.75" y2="249.20" stroke="#000" stroke-width="1" />
<line x1="677.00" y1="247.20" x2="677.00" y2="250.70" stroke="#000" stroke-width="1.2" />
<text transform="translate(677.00,265.00) scale(0.98,1)" font-size="13.4" font-weight="bold" text-anchor="middle" fill="#000" >0.2</text>
<line x1="663.25" y1="247.20" x2="663.25" y2="249.20" stroke="#000" stroke-width="1" />
<line x1="649.50" y1="247.20" x2="649.50" y2="250.70" stroke="#000" stroke-width="1.2" />
<text transform="translate(649.50,265.00) scale(0.98,1)" font-size="13.4" font-weight="bold" text-anchor="middle" fill="#000" >0.3</text>
<line x1="635.75" y1="247.20" x2="635.75" y2="249.20" stroke="#000" stroke-width="1" />
<line x1="622.00" y1="247.20" x2="622.00" y2="250.70" stroke="#000" stroke-width="1.2" />
<text transform="translate(622.00,265.00) scale(0.98,1)" font-size="13.4" font-weight="bold" text-anchor="middle" fill="#000" >0.4</text>
<line x1="608.25" y1="247.20" x2="608.25" y2="249.20" stroke="#000" stroke-width="1" />
<line x1="594.50" y1="247.20" x2="594.50" y2="250.70" stroke="#000" stroke-width="1.2" />
<text transform="translate(596.50,265.00) scale(0.98,1)" font-size="13.4" font-weight="bold" text-anchor="middle" fill="#000" >0.5</text>
<text transform="translate(522.00,282.00)" font-size="13.6" font-weight="bold" text-anchor="middle" fill="#000" textLength="49.5" lengthAdjust="spacingAndGlyphs" >Time(s)</text>
<text transform="translate(659.00,282.00)" font-size="13" font-weight="bold" text-anchor="middle" fill="#000" textLength="74.0" lengthAdjust="spacingAndGlyphs" >Potential(V)</text>
<text transform="translate(425.50,136.00) rotate(-90)" font-size="13" font-weight="bold" text-anchor="middle" fill="#000" textLength="73.0" lengthAdjust="spacingAndGlyphs" >Potential(V)</text>
<text transform="translate(414.50,36.30) scale(0.9,1)" font-size="25" font-weight="bold" text-anchor="start" fill="#000" >B</text>
<polygon points="566.5,173.5 597.5,173.5 597.5,162.5 617,182 597.5,201.5 597.5,190.5 566.5,190.5" fill="url(#gArrow)"/>
<path d="M877.9,119.1 L888.9,115.8 L900.0,112.6 L911.1,109.3 L922.1,106.1 L933.2,102.9 L944.3,98.7 L955.4,94.5 L966.4,90.3 L977.5,86.1 L988.6,81.9 L999.6,77.7 L1010.7,73.5 L1021.8,69.3 L1032.9,65.1 L1043.9,60.9 L1055.0,56.7 L1066.1,52.5 L1077.2,48.3 L1088.2,44.1 L1099.3,39.9 L1099.3,61.4 L1088.2,64.7 L1077.2,67.9 L1066.1,71.2 L1055.0,74.4 L1043.9,77.7 L1032.9,80.9 L1021.8,84.1 L1010.7,87.4 L999.6,90.6 L988.6,93.9 L977.5,97.1 L966.4,100.4 L955.4,103.6 L944.3,106.9 L933.2,110.2 L922.1,114.4 L911.1,118.6 L900.0,122.8 L888.9,127.0 L877.9,131.2" stroke="none" stroke-width="0" fill="#bfe4f9" stroke-linejoin="round" />
<line x1="877.85" y1="125.12" x2="1099.30" y2="50.66" stroke="#1f8ae0" stroke-width="1.2" />
<ellipse cx="874.9" cy="201" rx="26" ry="42.8" fill="#f3a9a9" transform="rotate(8 874.9 201)"/>
<line x1="888.40" y1="109.80" x2="880.67" y2="104.30" stroke="#4f81bd" stroke-width="1.3" />
<polygon points="876.6,101.4 882.5,102.6 879.6,106.6" fill="#4f81bd"/>
<line x1="914.80" y1="98.00" x2="907.60" y2="92.60" stroke="#4f81bd" stroke-width="1.3" />
<polygon points="903.6,89.6 909.5,90.9 906.5,94.9" fill="#4f81bd"/>
<line x1="901.90" y1="123.40" x2="898.85" y2="130.60" stroke="#4f81bd" stroke-width="1.3" />
<polygon points="896.9,135.2 896.7,129.2 901.3,131.1" fill="#4f81bd"/>
<circle cx="1099.30" cy="51.94" r="3.8" fill="url(#sphB)" stroke="none" stroke-width="1" />
<circle cx="1054.90" cy="68.87" r="3.8" fill="url(#sphB)" stroke="none" stroke-width="1" />
<circle cx="987.78" cy="81.76" r="3.8" fill="url(#sphB)" stroke="none" stroke-width="1" />
<circle cx="942.86" cy="102.32" r="3.8" fill="url(#sphB)" stroke="none" stroke-width="1" />
<circle cx="929.12" cy="104.33" r="3.8" fill="url(#sphB)" stroke="none" stroke-width="1" />
<circle cx="918.55" cy="104.73" r="3.8" fill="url(#sphB)" stroke="none" stroke-width="1" />
<circle cx="918.55" cy="115.61" r="3.8" fill="url(#sphB)" stroke="none" stroke-width="1" />
<circle cx="913.79" cy="123.67" r="3.8" fill="url(#sphB)" stroke="none" stroke-width="1" />
<circle cx="907.98" cy="117.63" r="3.8" fill="url(#sphB)" stroke="none" stroke-width="1" />
<circle cx="892.65" cy="114.81" r="3.8" fill="url(#sphB)" stroke="none" stroke-width="1" />
<circle cx="887.37" cy="118.03" r="3.8" fill="url(#sphB)" stroke="none" stroke-width="1" />
<circle cx="877.85" cy="131.73" r="3.8" fill="url(#sphB)" stroke="none" stroke-width="1" />
<circle cx="859.36" cy="193.39" r="3.8" fill="url(#sphR)" stroke="none" stroke-width="1" />
<circle cx="856.19" cy="201.45" r="3.8" fill="url(#sphR)" stroke="none" stroke-width="1" />
<circle cx="855.66" cy="232.08" r="3.8" fill="url(#sphR)" stroke="none" stroke-width="1" />
<text transform="translate(1082.00,67.60) scale(0.95,1)" font-size="12.5" font-weight="bold" text-anchor="start" fill="#000" >PCM</text>
<text transform="translate(1047.30,85.20) scale(0.95,1)" font-size="12.5" font-weight="bold" text-anchor="start" fill="#000" >BPA</text>
<text transform="translate(991.50,89.60) scale(0.95,1)" font-size="12.5" font-weight="bold" text-anchor="start" fill="#000" >CP</text>
<text transform="translate(947.90,111.50) scale(0.95,1)" font-size="12.5" font-weight="bold" text-anchor="start" fill="#000" >SN</text>
<text transform="translate(917.50,87.20) scale(0.95,1)" font-size="12.5" font-weight="bold" text-anchor="start" fill="#000" >HBA</text>
<text transform="translate(884.40,85.20) scale(0.95,1)" font-size="12.5" font-weight="bold" text-anchor="start" fill="#000" >SMZ</text>
<text transform="translate(864.10,99.70) scale(0.95,1)" font-size="12.5" font-weight="bold" text-anchor="start" fill="#000" >CIP</text>
<text transform="translate(859.70,123.40) scale(0.95,1)" font-size="12.5" font-weight="bold" text-anchor="start" fill="#000" >CBZ</text>
<text transform="translate(918.80,123.40) scale(0.95,1)" font-size="12.5" font-weight="bold" text-anchor="start" fill="#000" >CTC</text>
<text transform="translate(912.10,137.50) scale(0.95,1)" font-size="12.5" font-weight="bold" text-anchor="start" fill="#000" >TC</text>
<text transform="translate(883.40,145.30) scale(0.95,1)" font-size="12.5" font-weight="bold" text-anchor="start" fill="#000" >SMT</text>
<text transform="translate(859.70,144.60) scale(0.95,1)" font-size="12.5" font-weight="bold" text-anchor="start" fill="#000" >NP</text>
<text transform="translate(863.00,189.30) scale(0.95,1)" font-size="12.5" font-weight="bold" text-anchor="start" fill="#000" >NB</text>
<text transform="translate(859.70,209.50) scale(0.95,1)" font-size="12.5" font-weight="bold" text-anchor="start" fill="#000" >CPL</text>
<text transform="translate(867.50,236.60) scale(0.95,1)" font-size="12.5" font-weight="bold" text-anchor="start" fill="#000" >NBA</text>
<line x1="859.00" y1="39.90" x2="891.80" y2="39.90" stroke="#1f8ae0" stroke-width="1.2" />
<text transform="translate(895.90,43.90)" font-size="11.4" font-weight="bold" text-anchor="start" fill="#000" textLength="49.5" lengthAdjust="spacingAndGlyphs" >Linear fit</text>
<rect x="859.00" y="50.70" width="32.80" height="15.20" fill="#bfe4f9" stroke="none" stroke-width="1" />
<text transform="translate(895.90,62.60)" font-size="11.4" font-weight="bold" text-anchor="start" fill="#000" textLength="126.0" lengthAdjust="spacingAndGlyphs" >95% Confidence bands</text>
<text transform="translate(1111.50,212.40) scale(0.95,1)" font-size="12.9" font-weight="bold" text-anchor="end" fill="#000" >R<tspan font-size="8" dy="-4.5">2</tspan><tspan dy="4.5">=0.939</tspan></text>
<text transform="translate(1111.50,229.00)" font-size="12.9" font-weight="bold" text-anchor="end" fill="#000" textLength="201.8" lengthAdjust="spacingAndGlyphs" >ln<tspan font-style="italic">K</tspan><tspan font-size="7.5" dy="2.5">obs</tspan><tspan dy="-2.5">=4.41(±0.0.34)x-1.48 (±0.07)</tspan></text>
<rect x="844.50" y="23.70" width="274.40" height="221.30" fill="none" stroke="#000" stroke-width="1.5" />
<line x1="854.60" y1="245.00" x2="854.60" y2="248.50" stroke="#000" stroke-width="1.2" />
<text transform="translate(854.60,262.00) scale(0.98,1)" font-size="13.4" font-weight="bold" text-anchor="middle" fill="#000" >0.0</text>
<line x1="881.00" y1="245.00" x2="881.00" y2="247.00" stroke="#000" stroke-width="1" />
<line x1="907.45" y1="245.00" x2="907.45" y2="248.50" stroke="#000" stroke-width="1.2" />
<text transform="translate(907.45,262.00) scale(0.98,1)" font-size="13.4" font-weight="bold" text-anchor="middle" fill="#000" >0.1</text>
<line x1="933.85" y1="245.00" x2="933.85" y2="247.00" stroke="#000" stroke-width="1" />
<line x1="960.30" y1="245.00" x2="960.30" y2="248.50" stroke="#000" stroke-width="1.2" />
<text transform="translate(960.30,262.00) scale(0.98,1)" font-size="13.4" font-weight="bold" text-anchor="middle" fill="#000" >0.2</text>
<line x1="986.70" y1="245.00" x2="986.70" y2="247.00" stroke="#000" stroke-width="1" />
<line x1="1013.15" y1="245.00" x2="1013.15" y2="248.50" stroke="#000" stroke-width="1.2" />
<text transform="translate(1013.15,262.00) scale(0.98,1)" font-size="13.4" font-weight="bold" text-anchor="middle" fill="#000" >0.3</text>
<line x1="1039.55" y1="245.00" x2="1039.55" y2="247.00" stroke="#000" stroke-width="1" />
<line x1="1066.00" y1="245.00" x2="1066.00" y2="248.50" stroke="#000" stroke-width="1.2" />
<text transform="translate(1066.00,262.00) scale(0.98,1)" font-size="13.4" font-weight="bold" text-anchor="middle" fill="#000" >0.4</text>
<line x1="1092.40" y1="245.00" x2="1092.40" y2="247.00" stroke="#000" stroke-width="1" />
<line x1="1118.85" y1="245.00" x2="1118.85" y2="248.50" stroke="#000" stroke-width="1.2" />
<text transform="translate(1118.85,262.00) scale(0.98,1)" font-size="13.4" font-weight="bold" text-anchor="middle" fill="#000" >0.5</text>
<line x1="841.00" y1="33.00" x2="844.50" y2="33.00" stroke="#000" stroke-width="1.2" />
<text transform="translate(837.50,37.50) scale(0.98,1)" font-size="13.4" font-weight="bold" text-anchor="end" fill="#000" >1</text>
<line x1="842.50" y1="53.15" x2="844.50" y2="53.15" stroke="#000" stroke-width="1" />
<line x1="841.00" y1="73.30" x2="844.50" y2="73.30" stroke="#000" stroke-width="1.2" />
<text transform="translate(837.50,77.80) scale(0.98,1)" font-size="13.4" font-weight="bold" text-anchor="end" fill="#000" >0</text>
<line x1="842.50" y1="93.45" x2="844.50" y2="93.45" stroke="#000" stroke-width="1" />
<line x1="841.00" y1="113.60" x2="844.50" y2="113.60" stroke="#000" stroke-width="1.2" />
<text transform="translate(837.50,118.10) scale(0.98,1)" font-size="13.4" font-weight="bold" text-anchor="end" fill="#000" >-1</text>
<line x1="842.50" y1="133.75" x2="844.50" y2="133.75" stroke="#000" stroke-width="1" />
<line x1="841.00" y1="153.90" x2="844.50" y2="153.90" stroke="#000" stroke-width="1.2" />
<text transform="translate(837.50,158.40) scale(0.98,1)" font-size="13.4" font-weight="bold" text-anchor="end" fill="#000" >-2</text>
<line x1="842.50" y1="174.05" x2="844.50" y2="174.05" stroke="#000" stroke-width="1" />
<line x1="841.00" y1="194.20" x2="844.50" y2="194.20" stroke="#000" stroke-width="1.2" />
<text transform="translate(837.50,198.70) scale(0.98,1)" font-size="13.4" font-weight="bold" text-anchor="end" fill="#000" >-3</text>
<line x1="842.50" y1="214.35" x2="844.50" y2="214.35" stroke="#000" stroke-width="1" />
<line x1="841.00" y1="234.50" x2="844.50" y2="234.50" stroke="#000" stroke-width="1.2" />
<text transform="translate(837.50,239.00) scale(0.98,1)" font-size="13.4" font-weight="bold" text-anchor="end" fill="#000" >-4</text>
<text transform="translate(981.50,285.00)" font-size="13" font-weight="bold" text-anchor="middle" fill="#000" textLength="73.0" lengthAdjust="spacingAndGlyphs" >Potential(V)</text>
<text transform="translate(818.50,134.00) rotate(-90) scale(0.95,1)" font-size="14.5" font-weight="bold" text-anchor="middle" fill="#000" >ln(<tspan font-style="italic">K</tspan><tspan font-size="9" dy="3">obs</tspan><tspan dy="-3">)</tspan></text>
<text transform="translate(812.40,46.60) scale(0.9,1)" font-size="25" font-weight="bold" text-anchor="start" fill="#000" >C</text>
<polygon points="775.2,183 797.8,183 797.8,170.8 820.8,194 797.8,217.2 797.8,205 775.2,205" fill="url(#gArrow)"/>
<text transform="translate(42.50,317.30) scale(0.95,1)" font-size="24.5" font-weight="bold" text-anchor="start" fill="#000" >D</text>
<path d="M71.3,351.6 L71.3,402 A20.450000000000003,5 0 0 0 112.2,402 L112.2,351.6 A20.450000000000003,5 0 0 1 71.3,351.6 Z" stroke="none" stroke-width="0" fill="url(#gGlass)" />
<path d="M72.1,370.5 L72.1,402 A19.650000000000002,5 0 0 0 111.4,402 L111.4,370.5 A19.650000000000002,5 0 0 0 72.1,370.5 Z" stroke="none" stroke-width="0" fill="url(#gLiq)" />
<ellipse cx="91.75" cy="370.5" rx="19.650000000000002" ry="5" fill="#c2cadd"/>
<ellipse cx="91.75" cy="401" rx="17.450000000000003" ry="4.2" fill="#a6b0c8" opacity="0.8"/>
<ellipse cx="91.75" cy="351.6" rx="20.450000000000003" ry="5" fill="#f4f4f4" stroke="#c6c6c6" stroke-width="0.9"/>
<line x1="71.60" y1="351.60" x2="71.60" y2="402.00" stroke="#b8b8b8" stroke-width="0.8" />
<line x1="111.90" y1="351.60" x2="111.90" y2="402.00" stroke="#b8b8b8" stroke-width="0.8" />
<path d="M140.1,351.6 L140.1,402 A20.549999999999997,5 0 0 0 181.2,402 L181.2,351.6 A20.549999999999997,5 0 0 1 140.1,351.6 Z" stroke="none" stroke-width="0" fill="url(#gGlass)" />
<path d="M140.9,370.5 L140.9,402 A19.749999999999996,5 0 0 0 180.39999999999998,402 L180.39999999999998,370.5 A19.749999999999996,5 0 0 0 140.9,370.5 Z" stroke="none" stroke-width="0" fill="url(#gLiq)" />
<ellipse cx="160.64999999999998" cy="370.5" rx="19.749999999999996" ry="5" fill="#c2cadd"/>
<ellipse cx="160.64999999999998" cy="401" rx="17.549999999999997" ry="4.2" fill="#a6b0c8" opacity="0.8"/>
<ellipse cx="160.64999999999998" cy="351.6" rx="20.549999999999997" ry="5" fill="#f4f4f4" stroke="#c6c6c6" stroke-width="0.9"/>
<line x1="140.40" y1="351.60" x2="140.40" y2="402.00" stroke="#b8b8b8" stroke-width="0.8" />
<line x1="180.90" y1="351.60" x2="180.90" y2="402.00" stroke="#b8b8b8" stroke-width="0.8" />
<path d="M98.30000000000001,385.6 L98.30000000000001,359.1 A28.4,28.4 0 0 1 155.1,359.1 L155.1,385.6 L147.6,385.6 L147.6,359.1 A20.9,20.9 0 0 0 105.80000000000001,359.1 L105.80000000000001,385.6 Z" stroke="none" stroke-width="0" fill="url(#gSalt)" />
<rect x="98.10" y="370.00" width="7.90" height="15.80" fill="#aab5cf" stroke="none" stroke-width="0" opacity="0.55"/>
<rect x="147.40" y="370.00" width="7.90" height="15.80" fill="#aab5cf" stroke="none" stroke-width="0" opacity="0.55"/>
<text transform="translate(107.60,338.60)" font-size="7.6" font-weight="bold" text-anchor="start" fill="#111" textLength="42.0" lengthAdjust="spacingAndGlyphs" >Salt bridge</text>
<line x1="82.60" y1="331.00" x2="82.60" y2="378.00" stroke="#8a8a8a" stroke-width="0.9" />
<line x1="170.20" y1="331.00" x2="170.20" y2="378.00" stroke="#8a8a8a" stroke-width="0.9" />
<path d="M82.6,331.6 L82.6,313.8 L170.2,313.8 L170.2,331.6" stroke="#111" stroke-width="2.2" fill="none" />
<circle cx="126.30" cy="314.30" r="5.7" fill="#555" stroke="none" stroke-width="1" />
<text transform="translate(126.30,317.20) scale(0.9,1)" font-size="7.5" font-weight="bold" text-anchor="middle" fill="#fff" >A</text>
<rect x="77.00" y="377.20" width="11.50" height="12.80" fill="#484848" stroke="none" stroke-width="1" />
<rect x="164.10" y="377.20" width="11.90" height="12.80" fill="#484848" stroke="none" stroke-width="1" />
<circle cx="171.50" cy="385.20" r="5.6" fill="#5a5252" stroke="#e81818" stroke-width="1.1" />
<circle cx="76.00" cy="384.00" r="0.7" fill="#2ec8d8" stroke="none" stroke-width="1" />
<circle cx="84.00" cy="386.00" r="0.7" fill="#2ec8d8" stroke="none" stroke-width="1" />
<circle cx="98.00" cy="382.00" r="0.7" fill="#2ec8d8" stroke="none" stroke-width="1" />
<circle cx="105.00" cy="381.00" r="0.7" fill="#2ec8d8" stroke="none" stroke-width="1" />
<circle cx="104.00" cy="386.00" r="0.7" fill="#2ec8d8" stroke="none" stroke-width="1" />
<circle cx="95.00" cy="391.00" r="0.7" fill="#2ec8d8" stroke="none" stroke-width="1" />
<circle cx="85.00" cy="395.00" r="0.7" fill="#2ec8d8" stroke="none" stroke-width="1" />
<circle cx="77.00" cy="394.00" r="0.7" fill="#2ec8d8" stroke="none" stroke-width="1" />
<circle cx="96.00" cy="397.00" r="0.7" fill="#2ec8d8" stroke="none" stroke-width="1" />
<circle cx="105.00" cy="396.00" r="0.7" fill="#2ec8d8" stroke="none" stroke-width="1" />
<circle cx="150.00" cy="391.00" r="0.7" fill="#2ec8d8" stroke="none" stroke-width="1" />
<circle cx="152.00" cy="395.00" r="0.7" fill="#2ec8d8" stroke="none" stroke-width="1" />
<circle cx="163.00" cy="393.00" r="0.7" fill="#2ec8d8" stroke="none" stroke-width="1" />
<circle cx="168.00" cy="396.00" r="0.7" fill="#2ec8d8" stroke="none" stroke-width="1" />
<circle cx="155.00" cy="392.00" r="0.7" fill="#2ec8d8" stroke="none" stroke-width="1" />
<line x1="175.50" y1="378.60" x2="226.90" y2="310.70" stroke="#f01414" stroke-width="1" stroke-dasharray="3 2.2"/>
<line x1="176.30" y1="390.80" x2="221.60" y2="408.20" stroke="#f01414" stroke-width="1" stroke-dasharray="3 2.2"/>
<path d="M72.3,322 L72.3,312 Q72.3,305.6 79.5,305.6 L86.5,305.6 L86.5,302.6 L92.9,306.2 L86.5,309.6 L86.5,308.6 L80,308.6 Q76.7,308.6 76.7,312.5 L76.7,322 Z" stroke="none" stroke-width="0" fill="url(#gEarL)" />
<path d="M158.9,303.2 L168,303.2 Q178.4,303.2 178.4,313 L178.4,317 L180.6,317 L176.6,323.9 L172.4,317 L174.6,317 L174.6,313.5 Q174.6,307.2 167.5,307.2 L158.9,306.2 Z" stroke="none" stroke-width="0" fill="url(#gEarR)" />
<text transform="translate(71.60,332.60) scale(0.95,1)" font-size="10.5" font-weight="bold" text-anchor="start" fill="#000" >e<tspan font-size="7" dy="-4">-</tspan></text>
<text transform="translate(173.60,332.60) scale(0.95,1)" font-size="10.5" font-weight="bold" text-anchor="start" fill="#000" >e<tspan font-size="7" dy="-4">-</tspan></text>
<text transform="translate(63.60,418.30)" font-size="12.4" font-weight="bold" text-anchor="start" fill="#000" textLength="59.3" lengthAdjust="spacingAndGlyphs" >Pollutants</text>
<text transform="translate(149.90,418.30)" font-size="12.4" font-weight="bold" text-anchor="start" fill="#000" textLength="25.2" lengthAdjust="spacingAndGlyphs" >PMS</text>
<rect x="237.10" y="313.10" width="9.20" height="22.00" fill="#ababab" stroke="none" stroke-width="1" />
<rect x="221.60" y="334.60" width="43.20" height="60.00" fill="#1b1b1b" stroke="none" stroke-width="1" />
<line x1="266.60" y1="334.60" x2="285.00" y2="334.60" stroke="#000" stroke-width="1" />
<line x1="266.60" y1="395.60" x2="285.00" y2="395.60" stroke="#000" stroke-width="1" />
<line x1="276.30" y1="358.00" x2="276.30" y2="340.50" stroke="#000" stroke-width="1.1" />
<polygon points="276.3,335.0 278.7,341.0 273.9,341.0" fill="#000"/>
<line x1="276.30" y1="373.00" x2="276.30" y2="389.70" stroke="#000" stroke-width="1.1" />
<polygon points="276.3,395.2 273.9,389.2 278.7,389.2" fill="#000"/>
<text transform="translate(265.50,369.20)" font-size="11.6" font-weight="bold" text-anchor="start" fill="#000" textLength="36.9" lengthAdjust="spacingAndGlyphs" >40mm</text>
<line x1="221.30" y1="398.00" x2="221.30" y2="408.50" stroke="#000" stroke-width="1.1" />
<line x1="265.90" y1="398.00" x2="265.90" y2="408.50" stroke="#000" stroke-width="1.1" />
<line x1="203.80" y1="403.20" x2="215.30" y2="403.20" stroke="#000" stroke-width="1.1" />
<polygon points="220.8,403.2 214.8,405.6 214.8,400.8" fill="#000"/>
<line x1="284.00" y1="403.20" x2="271.90" y2="403.20" stroke="#000" stroke-width="1.1" />
<polygon points="266.4,403.2 272.4,400.8 272.4,405.6" fill="#000"/>
<text transform="translate(225.80,408.00)" font-size="11.6" font-weight="bold" text-anchor="start" fill="#000" textLength="35.5" lengthAdjust="spacingAndGlyphs" >30mm</text>
<rect x="317.40" y="308.60" width="8.60" height="26.00" fill="#a9a9a9" stroke="none" stroke-width="1" />
<rect x="320.00" y="330.20" width="5.10" height="60.30" fill="#1e1e22" stroke="none" stroke-width="1" />
<line x1="320.20" y1="394.50" x2="320.20" y2="404.30" stroke="#000" stroke-width="1.1" />
<line x1="325.40" y1="394.50" x2="325.40" y2="404.30" stroke="#000" stroke-width="1.1" />
<line x1="302.40" y1="399.40" x2="314.80" y2="399.40" stroke="#000" stroke-width="1" />
<polygon points="319.8,399.4 314.3,401.6 314.3,397.2" fill="#000"/>
<line x1="345.00" y1="399.40" x2="330.80" y2="399.40" stroke="#000" stroke-width="1" />
<polygon points="325.8,399.4 331.3,397.2 331.3,401.6" fill="#000"/>
<text transform="translate(309.40,413.20)" font-size="11.6" font-weight="bold" text-anchor="start" fill="#000" textLength="28.6" lengthAdjust="spacingAndGlyphs" >3mm</text>
<rect x="79.00" y="473.44" width="25.90" height="67.26" fill="url(#gEF1)" stroke="none" stroke-width="1" />
<rect x="79.00" y="543.60" width="25.90" height="34.50" fill="url(#gEF2)" stroke="none" stroke-width="1" />
<rect x="105.50" y="562.89" width="25.60" height="15.21" fill="url(#gEF3)" stroke="none" stroke-width="1" />
<rect x="105.50" y="562.89" width="25.60" height="15.21" fill="url(#xhW)" stroke="none" stroke-width="1" />
<rect x="145.00" y="466.92" width="24.90" height="73.78" fill="url(#gEF4)" stroke="none" stroke-width="1" />
<rect x="145.00" y="543.60" width="24.90" height="34.50" fill="url(#gEF5)" stroke="none" stroke-width="1" />
<rect x="170.50" y="563.33" width="25.60" height="14.77" fill="url(#gEF6)" stroke="none" stroke-width="1" />
<rect x="170.50" y="563.33" width="25.60" height="14.77" fill="url(#xhW)" stroke="none" stroke-width="1" />
<rect x="210.00" y="530.00" width="25.80" height="10.70" fill="url(#gEF7)" stroke="none" stroke-width="1" />
<rect x="210.00" y="543.60" width="25.80" height="34.50" fill="url(#gEF8)" stroke="none" stroke-width="1" />
<rect x="236.40" y="566.60" width="25.40" height="11.50" fill="url(#gEF9)" stroke="none" stroke-width="1" />
<rect x="236.40" y="566.60" width="25.40" height="11.50" fill="url(#xhW)" stroke="none" stroke-width="1" />
<rect x="276.10" y="569.94" width="24.90" height="8.16" fill="url(#gEF10)" stroke="none" stroke-width="1" />
<rect x="301.60" y="577.08" width="25.10" height="1.02" fill="url(#gEF11)" stroke="none" stroke-width="1" />
<rect x="301.60" y="577.08" width="25.10" height="1.02" fill="url(#xhW)" stroke="none" stroke-width="1" />
<text transform="translate(78.50,470.80)" font-size="12" font-weight="bold" text-anchor="start" fill="#000" textLength="31.7" lengthAdjust="spacingAndGlyphs" >453.0</text>
<text transform="translate(106.30,560.00)" font-size="12" font-weight="bold" text-anchor="start" fill="#000" textLength="25.2" lengthAdjust="spacingAndGlyphs" >55.0</text>
<text transform="translate(140.60,465.00)" font-size="12" font-weight="bold" text-anchor="start" fill="#000" textLength="31.8" lengthAdjust="spacingAndGlyphs" >476.3</text>
<text transform="translate(171.40,559.20)" font-size="12" font-weight="bold" text-anchor="start" fill="#000" textLength="24.8" lengthAdjust="spacingAndGlyphs" >53.4</text>
<text transform="translate(209.50,524.70)" font-size="12" font-weight="bold" text-anchor="start" fill="#000" textLength="31.5" lengthAdjust="spacingAndGlyphs" >239.1</text>
<text transform="translate(238.80,561.00)" font-size="12" font-weight="bold" text-anchor="start" fill="#000" textLength="25.0" lengthAdjust="spacingAndGlyphs" >41.6</text>
<text transform="translate(276.10,564.30)" font-size="12" font-weight="bold" text-anchor="start" fill="#000" textLength="24.7" lengthAdjust="spacingAndGlyphs" >29.5</text>
<text transform="translate(305.60,570.60)" font-size="12" font-weight="bold" text-anchor="start" fill="#000" textLength="16.7" lengthAdjust="spacingAndGlyphs" >3.7</text>
<rect x="180.50" y="450.50" width="35.50" height="16.90" fill="#fff" stroke="#000" stroke-width="1" />
<rect x="180.50" y="472.10" width="35.50" height="16.90" fill="#fff" stroke="none" stroke-width="1" />
<rect x="180.50" y="472.10" width="35.50" height="16.90" fill="url(#xhK472)" stroke="none" stroke-width="1" />
<line x1="180.50" y1="472.10" x2="216.00" y2="472.10" stroke="#000" stroke-width="1" />
<line x1="180.50" y1="489.00" x2="216.00" y2="489.00" stroke="#000" stroke-width="1" />
<text transform="translate(219.60,463.90)" font-size="12.2" font-weight="bold" text-anchor="start" fill="#000" textLength="107.1" lengthAdjust="spacingAndGlyphs" >Maximum current</text>
<text transform="translate(219.60,485.80)" font-size="12.2" font-weight="bold" text-anchor="start" fill="#000" textLength="116.2" lengthAdjust="spacingAndGlyphs" >Equilibrium current</text>
<rect x="66.50" y="439.50" width="274.50" height="138.60" fill="none" stroke="#000" stroke-width="1.4" />
<line x1="62.50" y1="516.20" x2="66.50" y2="516.20" stroke="#000" stroke-width="1.2" />
<text transform="translate(62.00,521.40)" font-size="14.6" font-weight="bold" text-anchor="end" fill="#000" textLength="28.0" lengthAdjust="spacingAndGlyphs" >300</text>
<line x1="62.50" y1="488.25" x2="66.50" y2="488.25" stroke="#000" stroke-width="1.2" />
<text transform="translate(62.00,493.45)" font-size="14.6" font-weight="bold" text-anchor="end" fill="#000" textLength="28.0" lengthAdjust="spacingAndGlyphs" >400</text>
<line x1="62.50" y1="460.30" x2="66.50" y2="460.30" stroke="#000" stroke-width="1.2" />
<text transform="translate(62.00,465.50)" font-size="14.6" font-weight="bold" text-anchor="end" fill="#000" textLength="28.0" lengthAdjust="spacingAndGlyphs" >500</text>
<line x1="64.20" y1="530.17" x2="66.50" y2="530.17" stroke="#000" stroke-width="1" />
<line x1="64.20" y1="502.23" x2="66.50" y2="502.23" stroke="#000" stroke-width="1" />
<line x1="64.20" y1="474.28" x2="66.50" y2="474.28" stroke="#000" stroke-width="1" />
<line x1="64.20" y1="446.32" x2="66.50" y2="446.32" stroke="#000" stroke-width="1" />
<line x1="62.50" y1="578.10" x2="66.50" y2="578.10" stroke="#000" stroke-width="1.2" />
<text transform="translate(62.00,583.30)" font-size="14.6" font-weight="bold" text-anchor="end" fill="#000" textLength="9.3" lengthAdjust="spacingAndGlyphs" >0</text>
<line x1="62.50" y1="550.45" x2="66.50" y2="550.45" stroke="#000" stroke-width="1.2" />
<text transform="translate(62.00,555.65)" font-size="14.6" font-weight="bold" text-anchor="end" fill="#000" textLength="28.0" lengthAdjust="spacingAndGlyphs" >100</text>
<line x1="64.20" y1="564.27" x2="66.50" y2="564.27" stroke="#000" stroke-width="1" />
<line x1="62.50" y1="543.00" x2="70.50" y2="539.60" stroke="#000" stroke-width="1" />
<line x1="62.50" y1="545.20" x2="70.50" y2="541.80" stroke="#000" stroke-width="1" />
<line x1="65.60" y1="541.10" x2="67.40" y2="543.60" stroke="#fff" stroke-width="1.6" />
<line x1="337.00" y1="543.00" x2="345.00" y2="539.60" stroke="#000" stroke-width="1" />
<line x1="337.00" y1="545.20" x2="345.00" y2="541.80" stroke="#000" stroke-width="1" />
<line x1="340.10" y1="541.10" x2="341.90" y2="543.60" stroke="#fff" stroke-width="1.6" />
<text transform="translate(27.30,509.00) rotate(-90)" font-size="13.2" font-weight="normal" text-anchor="middle" fill="#000" textLength="124.0" lengthAdjust="spacingAndGlyphs" stroke="#000" stroke-width="0.35">Relative current(μA)</text>
<text transform="translate(39.50,449.50) scale(0.82,1)" font-size="24.5" font-weight="bold" text-anchor="start" fill="#000" >E</text>
<text transform="translate(84.60,594.40)" font-size="12" font-weight="bold" text-anchor="start" fill="#000" textLength="39.5" lengthAdjust="spacingAndGlyphs" >Fe-SAC</text>
<text transform="translate(149.50,594.40)" font-size="12" font-weight="bold" text-anchor="start" fill="#000" textLength="41.0" lengthAdjust="spacingAndGlyphs" >Co-SAC</text>
<text transform="translate(213.30,594.40)" font-size="12" font-weight="bold" text-anchor="start" fill="#000" textLength="40.9" lengthAdjust="spacingAndGlyphs" >Cu-SAC</text>
<text transform="translate(261.60,594.20)" font-size="12" font-weight="bold" text-anchor="start" fill="#000" textLength="77.7" lengthAdjust="spacingAndGlyphs" >Bare graphite</text>
<text transform="translate(261.80,610.50)" font-size="12" font-weight="bold" text-anchor="start" fill="#000" textLength="54.2" lengthAdjust="spacingAndGlyphs" >electrode</text>
<rect x="79.40" y="640.03" width="25.10" height="17.37" fill="url(#gEF12)" stroke="none" stroke-width="1" />
<rect x="79.40" y="660.00" width="25.10" height="99.70" fill="url(#gEF13)" stroke="none" stroke-width="1" />
<rect x="105.10" y="740.53" width="24.90" height="19.17" fill="url(#gEF14)" stroke="none" stroke-width="1" />
<rect x="105.10" y="740.53" width="24.90" height="19.17" fill="url(#xhW)" stroke="none" stroke-width="1" />
<rect x="143.90" y="664.00" width="26.10" height="95.70" fill="url(#gEF15)" stroke="none" stroke-width="1" />
<rect x="170.60" y="743.25" width="25.20" height="16.45" fill="url(#gEF16)" stroke="none" stroke-width="1" />
<rect x="170.60" y="743.25" width="25.20" height="16.45" fill="url(#xhW)" stroke="none" stroke-width="1" />
<rect x="209.00" y="707.01" width="26.20" height="52.69" fill="url(#gEF17)" stroke="none" stroke-width="1" />
<rect x="235.80" y="756.32" width="25.50" height="3.38" fill="url(#gEF18)" stroke="none" stroke-width="1" />
<rect x="235.80" y="756.32" width="25.50" height="3.38" fill="url(#xhW)" stroke="none" stroke-width="1" />
<rect x="275.30" y="726.52" width="25.40" height="33.18" fill="url(#gEF19)" stroke="none" stroke-width="1" />
<rect x="301.30" y="757.43" width="25.50" height="2.27" fill="url(#gEF20)" stroke="none" stroke-width="1" />
<rect x="301.30" y="757.43" width="25.50" height="2.27" fill="url(#xhW)" stroke="none" stroke-width="1" />
<text transform="translate(73.20,636.00)" font-size="12" font-weight="bold" text-anchor="start" fill="#000" textLength="31.3" lengthAdjust="spacingAndGlyphs" >453.0</text>
<text transform="translate(105.20,737.70)" font-size="12" font-weight="bold" text-anchor="start" fill="#000" textLength="24.4" lengthAdjust="spacingAndGlyphs" >55.0</text>
<text transform="translate(141.10,662.10)" font-size="12" font-weight="bold" text-anchor="start" fill="#000" textLength="31.4" lengthAdjust="spacingAndGlyphs" >274.6</text>
<text transform="translate(171.40,737.70)" font-size="12" font-weight="bold" text-anchor="start" fill="#000" textLength="24.8" lengthAdjust="spacingAndGlyphs" >47.2</text>
<text transform="translate(208.00,704.60)" font-size="12" font-weight="bold" text-anchor="start" fill="#000" textLength="30.7" lengthAdjust="spacingAndGlyphs" >151.2</text>
<text transform="translate(238.70,752.70)" font-size="12" font-weight="bold" text-anchor="start" fill="#000" textLength="17.3" lengthAdjust="spacingAndGlyphs" >9.7</text>
<text transform="translate(275.30,722.70)" font-size="12" font-weight="bold" text-anchor="start" fill="#000" textLength="24.4" lengthAdjust="spacingAndGlyphs" >95.2</text>
<text transform="translate(304.20,752.30)" font-size="12" font-weight="bold" text-anchor="start" fill="#000" textLength="17.1" lengthAdjust="spacingAndGlyphs" >6.5</text>
<rect x="176.00" y="628.00" width="34.80" height="16.30" fill="#fff" stroke="#000" stroke-width="1" />
<rect x="176.00" y="648.90" width="34.80" height="16.30" fill="#fff" stroke="none" stroke-width="1" />
<rect x="176.00" y="648.90" width="34.80" height="16.30" fill="url(#xhK648)" stroke="none" stroke-width="1" />
<line x1="176.00" y1="648.90" x2="210.80" y2="648.90" stroke="#000" stroke-width="1" />
<line x1="176.00" y1="665.20" x2="210.80" y2="665.20" stroke="#000" stroke-width="1" />
<text transform="translate(215.00,640.10)" font-size="12.2" font-weight="bold" text-anchor="start" fill="#000" textLength="108.3" lengthAdjust="spacingAndGlyphs" >Maximum current</text>
<text transform="translate(215.00,661.00)" font-size="12.2" font-weight="bold" text-anchor="start" fill="#000" textLength="116.0" lengthAdjust="spacingAndGlyphs" >Equilibrium current</text>
<rect x="62.70" y="621.70" width="278.10" height="138.00" fill="none" stroke="#000" stroke-width="1.4" />
<line x1="58.70" y1="621.70" x2="62.70" y2="621.70" stroke="#000" stroke-width="1.2" />
<text transform="translate(66.00,626.30)" font-size="14.6" font-weight="bold" text-anchor="end" fill="#000" textLength="28.0" lengthAdjust="spacingAndGlyphs" >500</text>
<line x1="60.40" y1="641.20" x2="62.70" y2="641.20" stroke="#000" stroke-width="1" />
<line x1="58.70" y1="759.70" x2="62.70" y2="759.70" stroke="#000" stroke-width="1.2" />
<text transform="translate(61.50,764.90)" font-size="14.6" font-weight="bold" text-anchor="end" fill="#000" textLength="9.3" lengthAdjust="spacingAndGlyphs" >0</text>
<line x1="58.70" y1="724.85" x2="62.70" y2="724.85" stroke="#000" stroke-width="1.2" />
<text transform="translate(61.50,730.05)" font-size="14.6" font-weight="bold" text-anchor="end" fill="#000" textLength="28.0" lengthAdjust="spacingAndGlyphs" >100</text>
<line x1="58.70" y1="690.00" x2="62.70" y2="690.00" stroke="#000" stroke-width="1.2" />
<text transform="translate(61.50,695.20)" font-size="14.6" font-weight="bold" text-anchor="end" fill="#000" textLength="28.0" lengthAdjust="spacingAndGlyphs" >200</text>
<line x1="60.40" y1="742.28" x2="62.70" y2="742.28" stroke="#000" stroke-width="1" />
<line x1="60.40" y1="707.43" x2="62.70" y2="707.43" stroke="#000" stroke-width="1" />
<line x1="60.40" y1="672.58" x2="62.70" y2="672.58" stroke="#000" stroke-width="1" />
<line x1="58.70" y1="659.50" x2="66.70" y2="656.10" stroke="#000" stroke-width="1" />
<line x1="58.70" y1="661.70" x2="66.70" y2="658.30" stroke="#000" stroke-width="1" />
<line x1="61.80" y1="657.60" x2="63.60" y2="660.10" stroke="#fff" stroke-width="1.6" />
<line x1="336.80" y1="659.50" x2="344.80" y2="656.10" stroke="#000" stroke-width="1" />
<line x1="336.80" y1="661.70" x2="344.80" y2="658.30" stroke="#000" stroke-width="1" />
<line x1="339.90" y1="657.60" x2="341.70" y2="660.10" stroke="#fff" stroke-width="1.6" />
<text transform="translate(26.50,690.50) rotate(-90)" font-size="13.2" font-weight="normal" text-anchor="middle" fill="#000" textLength="124.0" lengthAdjust="spacingAndGlyphs" stroke="#000" stroke-width="0.35">Relative current(μA)</text>
<text transform="translate(44.00,609.50) scale(0.9,1)" font-size="24.5" font-weight="bold" text-anchor="start" fill="#000" >F</text>
<text transform="translate(102.00,775.20) scale(0.93,1)" font-size="12" font-weight="bold" text-anchor="middle" fill="#000" >PCM</text>
<text transform="translate(169.50,775.20) scale(0.93,1)" font-size="12" font-weight="bold" text-anchor="middle" fill="#000" >BPA</text>
<text transform="translate(231.00,775.20) scale(0.93,1)" font-size="12" font-weight="bold" text-anchor="middle" fill="#000" >CBZ</text>
<text transform="translate(300.50,775.20) scale(0.93,1)" font-size="12" font-weight="bold" text-anchor="middle" fill="#000" >NP</text>
<rect x="69.90" y="857.05" width="14.80" height="164.98" fill="url(#gNR)" stroke="none" stroke-width="1" />
<rect x="69.90" y="1022.03" width="14.80" height="6.87" fill="url(#gRad)" stroke="none" stroke-width="1" />
<rect x="87.52" y="857.05" width="14.80" height="166.69" fill="url(#gNR)" stroke="none" stroke-width="1" />
<rect x="87.52" y="1023.74" width="14.80" height="5.16" fill="url(#gRad)" stroke="none" stroke-width="1" />
<rect x="105.14" y="857.05" width="14.80" height="152.95" fill="url(#gNR)" stroke="none" stroke-width="1" />
<rect x="105.14" y="1010.00" width="14.80" height="18.90" fill="url(#gRad)" stroke="none" stroke-width="1" />
<rect x="122.76" y="857.05" width="14.80" height="164.98" fill="url(#gNR)" stroke="none" stroke-width="1" />
<rect x="122.76" y="1022.03" width="14.80" height="6.87" fill="url(#gRad)" stroke="none" stroke-width="1" />
<rect x="140.38" y="857.05" width="14.80" height="149.51" fill="url(#gNR)" stroke="none" stroke-width="1" />
<rect x="140.38" y="1006.56" width="14.80" height="22.34" fill="url(#gRad)" stroke="none" stroke-width="1" />
<rect x="158.00" y="857.05" width="14.80" height="144.35" fill="url(#gNR)" stroke="none" stroke-width="1" />
<rect x="158.00" y="1001.40" width="14.80" height="27.50" fill="url(#gRad)" stroke="none" stroke-width="1" />
<rect x="175.62" y="857.05" width="14.80" height="154.67" fill="url(#gNR)" stroke="none" stroke-width="1" />
<rect x="175.62" y="1011.72" width="14.80" height="17.18" fill="url(#gRad)" stroke="none" stroke-width="1" />
<rect x="193.24" y="857.05" width="14.80" height="140.92" fill="url(#gNR)" stroke="none" stroke-width="1" />
<rect x="193.24" y="997.97" width="14.80" height="30.93" fill="url(#gRad)" stroke="none" stroke-width="1" />
<rect x="210.86" y="857.05" width="14.80" height="104.83" fill="url(#gNR)" stroke="none" stroke-width="1" />
<rect x="210.86" y="961.88" width="14.80" height="67.02" fill="url(#gRad)" stroke="none" stroke-width="1" />
<rect x="228.48" y="857.05" width="14.80" height="103.11" fill="url(#gNR)" stroke="none" stroke-width="1" />
<rect x="228.48" y="960.16" width="14.80" height="68.74" fill="url(#gRad)" stroke="none" stroke-width="1" />
<rect x="246.10" y="857.05" width="14.80" height="111.70" fill="url(#gNR)" stroke="none" stroke-width="1" />
<rect x="246.10" y="968.75" width="14.80" height="60.15" fill="url(#gRad)" stroke="none" stroke-width="1" />
<rect x="263.72" y="857.05" width="14.80" height="73.90" fill="url(#gNR)" stroke="none" stroke-width="1" />
<rect x="263.72" y="930.95" width="14.80" height="97.95" fill="url(#gRad)" stroke="none" stroke-width="1" />
<rect x="281.34" y="857.05" width="14.80" height="61.87" fill="url(#gNR)" stroke="none" stroke-width="1" />
<rect x="281.34" y="918.92" width="14.80" height="109.98" fill="url(#gRad)" stroke="none" stroke-width="1" />
<rect x="298.96" y="857.05" width="14.80" height="49.84" fill="url(#gNR)" stroke="none" stroke-width="1" />
<rect x="298.96" y="906.89" width="14.80" height="122.01" fill="url(#gRad)" stroke="none" stroke-width="1" />
<rect x="316.58" y="857.05" width="14.80" height="46.40" fill="url(#gNR)" stroke="none" stroke-width="1" />
<rect x="316.58" y="903.45" width="14.80" height="125.45" fill="url(#gRad)" stroke="none" stroke-width="1" />
<rect x="334.20" y="857.05" width="14.80" height="37.81" fill="url(#gNR)" stroke="none" stroke-width="1" />
<rect x="334.20" y="894.86" width="14.80" height="134.04" fill="url(#gRad)" stroke="none" stroke-width="1" />
<clipPath id="hc2"><rect x="69.90" y="857.05" width="14.80" height="164.98"/><rect x="87.52" y="857.05" width="14.80" height="166.69"/><rect x="105.14" y="857.05" width="14.80" height="152.95"/><rect x="122.76" y="857.05" width="14.80" height="164.98"/><rect x="140.38" y="857.05" width="14.80" height="149.51"/><rect x="158.00" y="857.05" width="14.80" height="144.35"/><rect x="175.62" y="857.05" width="14.80" height="154.67"/><rect x="193.24" y="857.05" width="14.80" height="140.92"/><rect x="210.86" y="857.05" width="14.80" height="104.83"/><rect x="228.48" y="857.05" width="14.80" height="103.11"/><rect x="246.10" y="857.05" width="14.80" height="111.70"/><rect x="263.72" y="857.05" width="14.80" height="73.90"/><rect x="281.34" y="857.05" width="14.80" height="61.87"/><rect x="298.96" y="857.05" width="14.80" height="49.84"/><rect x="316.58" y="857.05" width="14.80" height="46.40"/><rect x="334.20" y="857.05" width="14.80" height="37.81"/></clipPath>
<path clip-path="url(#hc2)" d="M-46.8,1023.7L69.9,857.1M-43.4,1023.7L73.3,857.1M-40.0,1023.7L76.7,857.1M-36.6,1023.7L80.1,857.1M-33.2,1023.7L83.5,857.1M-29.8,1023.7L86.9,857.1M-26.4,1023.7L90.3,857.1M-23.0,1023.7L93.7,857.1M-19.6,1023.7L97.1,857.1M-16.2,1023.7L100.5,857.1M-12.8,1023.7L103.9,857.1M-9.4,1023.7L107.3,857.1M-6.0,1023.7L110.7,857.1M-2.6,1023.7L114.1,857.1M0.8,1023.7L117.5,857.1M4.2,1023.7L120.9,857.1M7.6,1023.7L124.3,857.1M11.0,1023.7L127.7,857.1M14.4,1023.7L131.1,857.1M17.8,1023.7L134.5,857.1M21.2,1023.7L137.9,857.1M24.6,1023.7L141.3,857.1M28.0,1023.7L144.7,857.1M31.4,1023.7L148.1,857.1M34.8,1023.7L151.5,857.1M38.2,1023.7L154.9,857.1M41.6,1023.7L158.3,857.1M45.0,1023.7L161.7,857.1M48.4,1023.7L165.1,857.1M51.8,1023.7L168.5,857.1M55.2,1023.7L171.9,857.1M58.6,1023.7L175.3,857.1M62.0,1023.7L178.7,857.1M65.4,1023.7L182.1,857.1M68.8,1023.7L185.5,857.1M72.2,1023.7L188.9,857.1M75.6,1023.7L192.3,857.1M79.0,1023.7L195.7,857.1M82.4,1023.7L199.1,857.1M85.8,1023.7L202.5,857.1M89.2,1023.7L205.9,857.1M92.6,1023.7L209.3,857.1M96.0,1023.7L212.7,857.1M99.4,1023.7L216.1,857.1M102.8,1023.7L219.5,857.1M106.2,1023.7L222.9,857.1M109.6,1023.7L226.3,857.1M113.0,1023.7L229.7,857.1M116.4,1023.7L233.1,857.1M119.8,1023.7L236.5,857.1M123.2,1023.7L239.9,857.1M126.6,1023.7L243.3,857.1M130.0,1023.7L246.7,857.1M133.4,1023.7L250.1,857.1M136.8,1023.7L253.5,857.1M140.2,1023.7L256.9,857.1M143.6,1023.7L260.3,857.1M147.0,1023.7L263.7,857.1M150.4,1023.7L267.1,857.1M153.8,1023.7L270.5,857.1M157.2,1023.7L273.9,857.1M160.6,1023.7L277.3,857.1M164.0,1023.7L280.7,857.1M167.4,1023.7L284.1,857.1M170.8,1023.7L287.5,857.1M174.2,1023.7L290.9,857.1M177.6,1023.7L294.3,857.1M181.0,1023.7L297.7,857.1M184.4,1023.7L301.1,857.1M187.8,1023.7L304.5,857.1M191.2,1023.7L307.9,857.1M194.6,1023.7L311.3,857.1M198.0,1023.7L314.7,857.1M201.4,1023.7L318.1,857.1M204.8,1023.7L321.5,857.1M208.2,1023.7L324.9,857.1M211.6,1023.7L328.3,857.1M215.0,1023.7L331.7,857.1M218.4,1023.7L335.1,857.1M221.8,1023.7L338.5,857.1M225.2,1023.7L341.9,857.1M228.6,1023.7L345.3,857.1M232.0,1023.7L348.7,857.1M235.4,1023.7L352.1,857.1M238.8,1023.7L355.5,857.1M242.2,1023.7L358.9,857.1M245.6,1023.7L362.3,857.1M249.0,1023.7L365.7,857.1M252.4,1023.7L369.1,857.1M255.8,1023.7L372.5,857.1M259.2,1023.7L375.9,857.1M262.6,1023.7L379.3,857.1M266.0,1023.7L382.7,857.1M269.4,1023.7L386.1,857.1M272.8,1023.7L389.5,857.1M276.2,1023.7L392.9,857.1M279.6,1023.7L396.3,857.1M283.0,1023.7L399.7,857.1M286.4,1023.7L403.1,857.1M289.8,1023.7L406.5,857.1M293.2,1023.7L409.9,857.1M296.6,1023.7L413.3,857.1M300.0,1023.7L416.7,857.1M303.4,1023.7L420.1,857.1M306.8,1023.7L423.5,857.1M310.2,1023.7L426.9,857.1M313.6,1023.7L430.3,857.1M317.0,1023.7L433.7,857.1M320.4,1023.7L437.1,857.1M323.8,1023.7L440.5,857.1M327.2,1023.7L443.9,857.1M330.6,1023.7L447.3,857.1M334.0,1023.7L450.7,857.1M337.4,1023.7L454.1,857.1M340.8,1023.7L457.5,857.1M344.2,1023.7L460.9,857.1M347.6,1023.7L464.3,857.1" stroke="#000" stroke-width="0.4" stroke-opacity="0.55" fill="none"/>
<clipPath id="hc3"><rect x="69.90" y="1022.03" width="14.80" height="6.87"/><rect x="87.52" y="1023.74" width="14.80" height="5.16"/><rect x="105.14" y="1010.00" width="14.80" height="18.90"/><rect x="122.76" y="1022.03" width="14.80" height="6.87"/><rect x="140.38" y="1006.56" width="14.80" height="22.34"/><rect x="158.00" y="1001.40" width="14.80" height="27.50"/><rect x="175.62" y="1011.72" width="14.80" height="17.18"/><rect x="193.24" y="997.97" width="14.80" height="30.93"/><rect x="210.86" y="961.88" width="14.80" height="67.02"/><rect x="228.48" y="960.16" width="14.80" height="68.74"/><rect x="246.10" y="968.75" width="14.80" height="60.15"/><rect x="263.72" y="930.95" width="14.80" height="97.95"/><rect x="281.34" y="918.92" width="14.80" height="109.98"/><rect x="298.96" y="906.89" width="14.80" height="122.01"/><rect x="316.58" y="903.45" width="14.80" height="125.45"/><rect x="334.20" y="894.86" width="14.80" height="134.04"/></clipPath>
<path clip-path="url(#hc3)" d="M-24.0,1028.9L69.9,894.9M-20.6,1028.9L73.3,894.9M-17.2,1028.9L76.7,894.9M-13.8,1028.9L80.1,894.9M-10.4,1028.9L83.5,894.9M-7.0,1028.9L86.9,894.9M-3.6,1028.9L90.3,894.9M-0.2,1028.9L93.7,894.9M3.2,1028.9L97.1,894.9M6.6,1028.9L100.5,894.9M10.0,1028.9L103.9,894.9M13.4,1028.9L107.3,894.9M16.8,1028.9L110.7,894.9M20.2,1028.9L114.1,894.9M23.6,1028.9L117.5,894.9M27.0,1028.9L120.9,894.9M30.4,1028.9L124.3,894.9M33.8,1028.9L127.7,894.9M37.2,1028.9L131.1,894.9M40.6,1028.9L134.5,894.9M44.0,1028.9L137.9,894.9M47.4,1028.9L141.3,894.9M50.8,1028.9L144.7,894.9M54.2,1028.9L148.1,894.9M57.6,1028.9L151.5,894.9M61.0,1028.9L154.9,894.9M64.4,1028.9L158.3,894.9M67.8,1028.9L161.7,894.9M71.2,1028.9L165.1,894.9M74.6,1028.9L168.5,894.9M78.0,1028.9L171.9,894.9M81.4,1028.9L175.3,894.9M84.8,1028.9L178.7,894.9M88.2,1028.9L182.1,894.9M91.6,1028.9L185.5,894.9M95.0,1028.9L188.9,894.9M98.4,1028.9L192.3,894.9M101.8,1028.9L195.7,894.9M105.2,1028.9L199.1,894.9M108.6,1028.9L202.5,894.9M112.0,1028.9L205.9,894.9M115.4,1028.9L209.3,894.9M118.8,1028.9L212.7,894.9M122.2,1028.9L216.1,894.9M125.6,1028.9L219.5,894.9M129.0,1028.9L222.9,894.9M132.4,1028.9L226.3,894.9M135.8,1028.9L229.7,894.9M139.2,1028.9L233.1,894.9M142.6,1028.9L236.5,894.9M146.0,1028.9L239.9,894.9M149.4,1028.9L243.3,894.9M152.8,1028.9L246.7,894.9M156.2,1028.9L250.1,894.9M159.6,1028.9L253.5,894.9M163.0,1028.9L256.9,894.9M166.4,1028.9L260.3,894.9M169.8,1028.9L263.7,894.9M173.2,1028.9L267.1,894.9M176.6,1028.9L270.5,894.9M180.0,1028.9L273.9,894.9M183.4,1028.9L277.3,894.9M186.8,1028.9L280.7,894.9M190.2,1028.9L284.1,894.9M193.6,1028.9L287.5,894.9M197.0,1028.9L290.9,894.9M200.4,1028.9L294.3,894.9M203.8,1028.9L297.7,894.9M207.2,1028.9L301.1,894.9M210.6,1028.9L304.5,894.9M214.0,1028.9L307.9,894.9M217.4,1028.9L311.3,894.9M220.8,1028.9L314.7,894.9M224.2,1028.9L318.1,894.9M227.6,1028.9L321.5,894.9M231.0,1028.9L324.9,894.9M234.4,1028.9L328.3,894.9M237.8,1028.9L331.7,894.9M241.2,1028.9L335.1,894.9M244.6,1028.9L338.5,894.9M248.0,1028.9L341.9,894.9M251.4,1028.9L345.3,894.9M254.8,1028.9L348.7,894.9M258.2,1028.9L352.1,894.9M261.6,1028.9L355.5,894.9M265.0,1028.9L358.9,894.9M268.4,1028.9L362.3,894.9M271.8,1028.9L365.7,894.9M275.2,1028.9L369.1,894.9M278.6,1028.9L372.5,894.9M282.0,1028.9L375.9,894.9M285.4,1028.9L379.3,894.9M288.8,1028.9L382.7,894.9M292.2,1028.9L386.1,894.9M295.6,1028.9L389.5,894.9M299.0,1028.9L392.9,894.9M302.4,1028.9L396.3,894.9M305.8,1028.9L399.7,894.9M309.2,1028.9L403.1,894.9M312.6,1028.9L406.5,894.9M316.0,1028.9L409.9,894.9M319.4,1028.9L413.3,894.9M322.8,1028.9L416.7,894.9M326.2,1028.9L420.1,894.9M329.6,1028.9L423.5,894.9M333.0,1028.9L426.9,894.9M336.4,1028.9L430.3,894.9M339.8,1028.9L433.7,894.9M343.2,1028.9L437.1,894.9M346.6,1028.9L440.5,894.9" stroke="#d8f4e4" stroke-width="0.45" stroke-opacity="0.6" fill="none"/>
<text transform="translate(77.30,943.54) scale(0.95,1)" font-size="11.4" font-weight="bold" text-anchor="middle" fill="#000" >96</text>
<text transform="translate(77.30,1027.60) scale(0.95,1)" font-size="11.4" font-weight="bold" text-anchor="middle" fill="#000" >4</text>
<line x1="77.30" y1="1028.90" x2="77.30" y2="1032.90" stroke="#000" stroke-width="1.2" />
<text transform="translate(81.80,1036.40) rotate(-60) scale(0.92,1)" font-size="10.3" font-weight="bold" text-anchor="end" fill="#000" >PCM</text>
<text transform="translate(94.92,944.40) scale(0.95,1)" font-size="11.4" font-weight="bold" text-anchor="middle" fill="#000" >97</text>
<text transform="translate(94.92,1027.60) scale(0.95,1)" font-size="11.4" font-weight="bold" text-anchor="middle" fill="#000" >3</text>
<line x1="94.92" y1="1028.90" x2="94.92" y2="1032.90" stroke="#000" stroke-width="1.2" />
<text transform="translate(99.42,1036.40) rotate(-60) scale(0.92,1)" font-size="10.3" font-weight="bold" text-anchor="end" fill="#000" >BPA</text>
<text transform="translate(112.54,937.52) scale(0.95,1)" font-size="11.4" font-weight="bold" text-anchor="middle" fill="#000" >89</text>
<text transform="translate(112.54,1023.45) scale(0.95,1)" font-size="11.4" font-weight="bold" text-anchor="middle" fill="#000" >11</text>
<line x1="112.54" y1="1028.90" x2="112.54" y2="1032.90" stroke="#000" stroke-width="1.2" />
<text transform="translate(117.04,1036.40) rotate(-60) scale(0.92,1)" font-size="10.3" font-weight="bold" text-anchor="end" fill="#000" >CP</text>
<text transform="translate(130.16,943.54) scale(0.95,1)" font-size="11.4" font-weight="bold" text-anchor="middle" fill="#000" >96</text>
<text transform="translate(130.16,1027.60) scale(0.95,1)" font-size="11.4" font-weight="bold" text-anchor="middle" fill="#000" >4</text>
<line x1="130.16" y1="1028.90" x2="130.16" y2="1032.90" stroke="#000" stroke-width="1.2" />
<text transform="translate(134.66,1036.40) rotate(-60) scale(0.92,1)" font-size="10.3" font-weight="bold" text-anchor="end" fill="#000" >NPX</text>
<text transform="translate(147.78,935.80) scale(0.95,1)" font-size="11.4" font-weight="bold" text-anchor="middle" fill="#000" >87</text>
<text transform="translate(147.78,1021.73) scale(0.95,1)" font-size="11.4" font-weight="bold" text-anchor="middle" fill="#000" >13</text>
<line x1="147.78" y1="1028.90" x2="147.78" y2="1032.90" stroke="#000" stroke-width="1.2" />
<text transform="translate(152.28,1036.40) rotate(-60) scale(0.92,1)" font-size="10.3" font-weight="bold" text-anchor="end" fill="#000" >HBA</text>
<text transform="translate(165.40,933.23) scale(0.95,1)" font-size="11.4" font-weight="bold" text-anchor="middle" fill="#000" >84</text>
<text transform="translate(165.40,1019.15) scale(0.95,1)" font-size="11.4" font-weight="bold" text-anchor="middle" fill="#000" >16</text>
<line x1="165.40" y1="1028.90" x2="165.40" y2="1032.90" stroke="#000" stroke-width="1.2" />
<text transform="translate(169.90,1036.40) rotate(-60) scale(0.92,1)" font-size="10.3" font-weight="bold" text-anchor="end" fill="#000" >SMZ</text>
<text transform="translate(183.02,938.38) scale(0.95,1)" font-size="11.4" font-weight="bold" text-anchor="middle" fill="#000" >90</text>
<text transform="translate(183.02,1024.31) scale(0.95,1)" font-size="11.4" font-weight="bold" text-anchor="middle" fill="#000" >10</text>
<line x1="183.02" y1="1028.90" x2="183.02" y2="1032.90" stroke="#000" stroke-width="1.2" />
<text transform="translate(187.52,1036.40) rotate(-60) scale(0.92,1)" font-size="10.3" font-weight="bold" text-anchor="end" fill="#000" >CTC</text>
<text transform="translate(200.64,931.51) scale(0.95,1)" font-size="11.4" font-weight="bold" text-anchor="middle" fill="#000" >82</text>
<text transform="translate(200.64,1017.43) scale(0.95,1)" font-size="11.4" font-weight="bold" text-anchor="middle" fill="#000" >18</text>
<line x1="200.64" y1="1028.90" x2="200.64" y2="1032.90" stroke="#000" stroke-width="1.2" />
<text transform="translate(205.14,1036.40) rotate(-60) scale(0.92,1)" font-size="10.3" font-weight="bold" text-anchor="end" fill="#000" >TC</text>
<text transform="translate(218.26,913.46) scale(0.95,1)" font-size="11.4" font-weight="bold" text-anchor="middle" fill="#000" >61</text>
<text transform="translate(218.26,999.39) scale(0.95,1)" font-size="11.4" font-weight="bold" text-anchor="middle" fill="#000" >39</text>
<line x1="218.26" y1="1028.90" x2="218.26" y2="1032.90" stroke="#000" stroke-width="1.2" />
<text transform="translate(222.76,1036.40) rotate(-60) scale(0.92,1)" font-size="10.3" font-weight="bold" text-anchor="end" fill="#000" >SN</text>
<text transform="translate(235.88,912.61) scale(0.95,1)" font-size="11.4" font-weight="bold" text-anchor="middle" fill="#000" >60</text>
<text transform="translate(235.88,998.53) scale(0.95,1)" font-size="11.4" font-weight="bold" text-anchor="middle" fill="#000" >40</text>
<line x1="235.88" y1="1028.90" x2="235.88" y2="1032.90" stroke="#000" stroke-width="1.2" />
<text transform="translate(240.38,1036.40) rotate(-60) scale(0.92,1)" font-size="10.3" font-weight="bold" text-anchor="end" fill="#000" >CIP</text>
<text transform="translate(253.50,916.90) scale(0.95,1)" font-size="11.4" font-weight="bold" text-anchor="middle" fill="#000" >65</text>
<text transform="translate(253.50,1002.83) scale(0.95,1)" font-size="11.4" font-weight="bold" text-anchor="middle" fill="#000" >35</text>
<line x1="253.50" y1="1028.90" x2="253.50" y2="1032.90" stroke="#000" stroke-width="1.2" />
<text transform="translate(258.00,1036.40) rotate(-60) scale(0.92,1)" font-size="10.3" font-weight="bold" text-anchor="end" fill="#000" >SMT</text>
<text transform="translate(271.12,898.00) scale(0.95,1)" font-size="11.4" font-weight="bold" text-anchor="middle" fill="#000" >43</text>
<text transform="translate(271.12,983.92) scale(0.95,1)" font-size="11.4" font-weight="bold" text-anchor="middle" fill="#000" >57</text>
<line x1="271.12" y1="1028.90" x2="271.12" y2="1032.90" stroke="#000" stroke-width="1.2" />
<text transform="translate(275.62,1036.40) rotate(-60) scale(0.92,1)" font-size="10.3" font-weight="bold" text-anchor="end" fill="#000" >CBZ</text>
<text transform="translate(288.74,891.98) scale(0.95,1)" font-size="11.4" font-weight="bold" text-anchor="middle" fill="#000" >36</text>
<text transform="translate(288.74,977.91) scale(0.95,1)" font-size="11.4" font-weight="bold" text-anchor="middle" fill="#000" >64</text>
<line x1="288.74" y1="1028.90" x2="288.74" y2="1032.90" stroke="#000" stroke-width="1.2" />
<text transform="translate(293.24,1036.40) rotate(-60) scale(0.92,1)" font-size="10.3" font-weight="bold" text-anchor="end" fill="#000" >NP</text>
<text transform="translate(306.36,885.97) scale(0.95,1)" font-size="11.4" font-weight="bold" text-anchor="middle" fill="#000" >29</text>
<text transform="translate(306.36,971.89) scale(0.95,1)" font-size="11.4" font-weight="bold" text-anchor="middle" fill="#000" >71</text>
<line x1="306.36" y1="1028.90" x2="306.36" y2="1032.90" stroke="#000" stroke-width="1.2" />
<text transform="translate(310.86,1036.40) rotate(-60) scale(0.92,1)" font-size="10.3" font-weight="bold" text-anchor="end" fill="#000" >NB</text>
<text transform="translate(323.98,884.25) scale(0.95,1)" font-size="11.4" font-weight="bold" text-anchor="middle" fill="#000" >27</text>
<text transform="translate(323.98,970.17) scale(0.95,1)" font-size="11.4" font-weight="bold" text-anchor="middle" fill="#000" >73</text>
<line x1="323.98" y1="1028.90" x2="323.98" y2="1032.90" stroke="#000" stroke-width="1.2" />
<text transform="translate(328.48,1036.40) rotate(-60) scale(0.92,1)" font-size="10.3" font-weight="bold" text-anchor="end" fill="#000" >CPL</text>
<text transform="translate(341.60,879.95) scale(0.95,1)" font-size="11.4" font-weight="bold" text-anchor="middle" fill="#000" >22</text>
<text transform="translate(341.60,965.88) scale(0.95,1)" font-size="11.4" font-weight="bold" text-anchor="middle" fill="#000" >78</text>
<line x1="341.60" y1="1028.90" x2="341.60" y2="1032.90" stroke="#000" stroke-width="1.2" />
<text transform="translate(346.10,1036.40) rotate(-60) scale(0.92,1)" font-size="10.3" font-weight="bold" text-anchor="end" fill="#000" >NBA</text>
<rect x="62.90" y="790.90" width="294.60" height="238.00" fill="none" stroke="#000" stroke-width="1.5" />
<line x1="58.90" y1="1028.90" x2="62.90" y2="1028.90" stroke="#000" stroke-width="1.2" />
<text transform="translate(59.30,1034.30)" font-size="15.3" font-weight="bold" text-anchor="end" fill="#000" textLength="9.4" lengthAdjust="spacingAndGlyphs" >0</text>
<line x1="60.60" y1="1011.72" x2="62.90" y2="1011.72" stroke="#000" stroke-width="1" />
<line x1="58.90" y1="994.53" x2="62.90" y2="994.53" stroke="#000" stroke-width="1.2" />
<text transform="translate(59.30,999.93)" font-size="15.3" font-weight="bold" text-anchor="end" fill="#000" textLength="18.8" lengthAdjust="spacingAndGlyphs" >20</text>
<line x1="60.60" y1="977.35" x2="62.90" y2="977.35" stroke="#000" stroke-width="1" />
<line x1="58.90" y1="960.16" x2="62.90" y2="960.16" stroke="#000" stroke-width="1.2" />
<text transform="translate(59.30,965.56)" font-size="15.3" font-weight="bold" text-anchor="end" fill="#000" textLength="18.8" lengthAdjust="spacingAndGlyphs" >40</text>
<line x1="60.60" y1="942.98" x2="62.90" y2="942.98" stroke="#000" stroke-width="1" />
<line x1="58.90" y1="925.79" x2="62.90" y2="925.79" stroke="#000" stroke-width="1.2" />
<text transform="translate(59.30,931.19)" font-size="15.3" font-weight="bold" text-anchor="end" fill="#000" textLength="18.8" lengthAdjust="spacingAndGlyphs" >60</text>
<line x1="60.60" y1="908.61" x2="62.90" y2="908.61" stroke="#000" stroke-width="1" />
<line x1="58.90" y1="891.42" x2="62.90" y2="891.42" stroke="#000" stroke-width="1.2" />
<text transform="translate(59.30,896.82)" font-size="15.3" font-weight="bold" text-anchor="end" fill="#000" textLength="18.8" lengthAdjust="spacingAndGlyphs" >80</text>
<line x1="60.60" y1="874.24" x2="62.90" y2="874.24" stroke="#000" stroke-width="1" />
<line x1="58.90" y1="857.05" x2="62.90" y2="857.05" stroke="#000" stroke-width="1.2" />
<text transform="translate(59.30,862.45)" font-size="15.3" font-weight="bold" text-anchor="end" fill="#000" textLength="28.2" lengthAdjust="spacingAndGlyphs" >100</text>
<line x1="60.60" y1="839.87" x2="62.90" y2="839.87" stroke="#000" stroke-width="1" />
<line x1="58.90" y1="822.68" x2="62.90" y2="822.68" stroke="#000" stroke-width="1.2" />
<text transform="translate(59.30,828.08)" font-size="15.3" font-weight="bold" text-anchor="end" fill="#000" textLength="28.2" lengthAdjust="spacingAndGlyphs" >120</text>
<line x1="60.60" y1="805.50" x2="62.90" y2="805.50" stroke="#000" stroke-width="1" />
<rect x="78.10" y="811.40" width="37.80" height="18.30" fill="url(#gNR)" stroke="none" stroke-width="1" />
<clipPath id="hc4"><rect x="78.10" y="811.40" width="37.80" height="18.30"/></clipPath>
<path clip-path="url(#hc4)" d="M59.8,829.7L78.1,811.4M64.2,829.7L82.5,811.4M68.6,829.7L86.9,811.4M73.0,829.7L91.3,811.4M77.4,829.7L95.7,811.4M81.8,829.7L100.1,811.4M86.2,829.7L104.5,811.4M90.6,829.7L108.9,811.4M95.0,829.7L113.3,811.4M99.4,829.7L117.7,811.4M103.8,829.7L122.1,811.4M108.2,829.7L126.5,811.4M112.6,829.7L130.9,811.4" stroke="#000" stroke-width="0.4" stroke-opacity="0.6" fill="none"/>
<text transform="translate(120.80,825.30)" font-size="13.4" font-weight="bold" text-anchor="start" fill="#000" textLength="74.5" lengthAdjust="spacingAndGlyphs" >Non-radical</text>
<rect x="248.30" y="811.40" width="38.00" height="18.30" fill="url(#gRad)" stroke="none" stroke-width="1" />
<clipPath id="hc5"><rect x="248.30" y="811.40" width="38.00" height="18.30"/></clipPath>
<path clip-path="url(#hc5)" d="M230.0,829.7L248.3,811.4M234.4,829.7L252.7,811.4M238.8,829.7L257.1,811.4M243.2,829.7L261.5,811.4M247.6,829.7L265.9,811.4M252.0,829.7L270.3,811.4M256.4,829.7L274.7,811.4M260.8,829.7L279.1,811.4M265.2,829.7L283.5,811.4M269.6,829.7L287.9,811.4M274.0,829.7L292.3,811.4M278.4,829.7L296.7,811.4M282.8,829.7L301.1,811.4" stroke="#d8f4e4" stroke-width="0.45" stroke-opacity="0.6" fill="none"/>
<text transform="translate(290.60,825.30)" font-size="13.4" font-weight="bold" text-anchor="start" fill="#000" textLength="46.0" lengthAdjust="spacingAndGlyphs" >Radical</text>
<text transform="translate(24.50,910.00) rotate(-90)" font-size="15.4" font-weight="bold" text-anchor="middle" fill="#000" textLength="119.5" lengthAdjust="spacingAndGlyphs" >Contribution (%)</text>
<text transform="translate(44.50,805.50) scale(0.93,1)" font-size="24.5" font-weight="bold" text-anchor="start" fill="#000" >G</text>
<line x1="441.50" y1="304.20" x2="441.50" y2="660.00" stroke="#000" stroke-width="1.1" />
<line x1="437.50" y1="304.62" x2="442.10" y2="304.62" stroke="#000" stroke-width="1.1" />
<text transform="translate(433.80,309.72) scale(1.08,1)" font-size="14.3" font-weight="bold" text-anchor="end" fill="#000" >4</text>
<line x1="437.50" y1="348.96" x2="442.10" y2="348.96" stroke="#000" stroke-width="1.1" />
<text transform="translate(433.80,354.06) scale(1.08,1)" font-size="14.3" font-weight="bold" text-anchor="end" fill="#000" >2</text>
<line x1="437.50" y1="393.30" x2="442.10" y2="393.30" stroke="#000" stroke-width="1.1" />
<text transform="translate(433.80,398.40) scale(1.08,1)" font-size="14.3" font-weight="bold" text-anchor="end" fill="#000" >0</text>
<line x1="437.50" y1="437.64" x2="442.10" y2="437.64" stroke="#000" stroke-width="1.1" />
<text transform="translate(433.80,442.74) scale(1.08,1)" font-size="14.3" font-weight="bold" text-anchor="end" fill="#000" >-2</text>
<line x1="437.50" y1="481.98" x2="442.10" y2="481.98" stroke="#000" stroke-width="1.1" />
<text transform="translate(433.80,487.08) scale(1.08,1)" font-size="14.3" font-weight="bold" text-anchor="end" fill="#000" >-4</text>
<line x1="437.50" y1="526.32" x2="442.10" y2="526.32" stroke="#000" stroke-width="1.1" />
<text transform="translate(433.80,531.42) scale(1.08,1)" font-size="14.3" font-weight="bold" text-anchor="end" fill="#000" >-6</text>
<line x1="437.50" y1="570.66" x2="442.10" y2="570.66" stroke="#000" stroke-width="1.1" />
<text transform="translate(433.80,575.76) scale(1.08,1)" font-size="14.3" font-weight="bold" text-anchor="end" fill="#000" >-8</text>
<line x1="437.50" y1="615.00" x2="442.10" y2="615.00" stroke="#000" stroke-width="1.1" />
<text transform="translate(433.80,620.10) scale(1.08,1)" font-size="14.3" font-weight="bold" text-anchor="end" fill="#000" >-10</text>
<line x1="437.50" y1="659.34" x2="442.10" y2="659.34" stroke="#000" stroke-width="1.1" />
<text transform="translate(433.80,664.44) scale(1.08,1)" font-size="14.3" font-weight="bold" text-anchor="end" fill="#000" >-12</text>
<line x1="440.10" y1="326.79" x2="442.10" y2="326.79" stroke="#000" stroke-width="0.9" />
<line x1="440.10" y1="371.13" x2="442.10" y2="371.13" stroke="#000" stroke-width="0.9" />
<line x1="440.10" y1="415.47" x2="442.10" y2="415.47" stroke="#000" stroke-width="0.9" />
<line x1="440.10" y1="459.81" x2="442.10" y2="459.81" stroke="#000" stroke-width="0.9" />
<line x1="440.10" y1="504.15" x2="442.10" y2="504.15" stroke="#000" stroke-width="0.9" />
<line x1="440.10" y1="548.49" x2="442.10" y2="548.49" stroke="#000" stroke-width="0.9" />
<line x1="440.10" y1="592.83" x2="442.10" y2="592.83" stroke="#000" stroke-width="0.9" />
<line x1="440.10" y1="637.17" x2="442.10" y2="637.17" stroke="#000" stroke-width="0.9" />
<text transform="translate(403.50,482.60) rotate(-90)" font-size="14.6" font-weight="bold" text-anchor="middle" fill="#000" textLength="108.0" lengthAdjust="spacingAndGlyphs" >MO Energy (eV)</text>
<text transform="translate(401.50,316.30) scale(1.05,1)" font-size="24.5" font-weight="bold" text-anchor="start" fill="#000" >H</text>
<polygon points="479.6,508.4 484.6,516.0 480.8,515.2 480.8,525.3 478.4,525.3 478.4,515.2 474.6,516.0" fill="url(#gRarr)"/>
<rect x="463.70" y="477.71" width="31.80" height="33.99" fill="url(#gHbox)" stroke="none" stroke-width="1" />
<polygon points="479.6,451.6 484.6,459.4 480.8,458.6 480.8,478.2 478.4,478.2 478.4,458.6 474.6,459.4" fill="url(#gBarr)"/>
<line x1="464.00" y1="526.34" x2="494.80" y2="526.34" stroke="#fa0f0f" stroke-width="4.2" stroke-linecap="round"/>
<text transform="translate(482.00,538.00)" font-size="10" font-weight="bold" text-anchor="middle" fill="#000" textLength="31.0" lengthAdjust="spacingAndGlyphs" >-5.956</text>
<polygon points="517.0,508.4 522.0,516.0 518.2,515.2 518.2,525.4 515.8,525.4 515.8,515.2 512.0,516.0" fill="url(#gRarr)"/>
<rect x="501.09" y="477.69" width="31.80" height="34.01" fill="url(#gHbox)" stroke="none" stroke-width="1" />
<polygon points="517.0,451.6 522.0,459.4 518.2,458.6 518.2,478.2 515.8,478.2 515.8,458.6 512.0,459.4" fill="url(#gBarr)"/>
<line x1="501.39" y1="526.39" x2="532.19" y2="526.39" stroke="#fa0f0f" stroke-width="4.2" stroke-linecap="round"/>
<text transform="translate(517.80,538.00)" font-size="10" font-weight="bold" text-anchor="middle" fill="#000" textLength="31.0" lengthAdjust="spacingAndGlyphs" >-5.958</text>
<polygon points="554.4,508.4 559.4,516.0 555.6,515.2 555.6,529.5 553.2,529.5 553.2,515.2 549.4,516.0" fill="url(#gRarr)"/>
<rect x="538.48" y="475.96" width="31.80" height="35.74" fill="url(#gHbox)" stroke="none" stroke-width="1" />
<polygon points="554.4,451.6 559.4,459.4 555.6,458.6 555.6,476.5 553.2,476.5 553.2,458.6 549.4,459.4" fill="url(#gBarr)"/>
<line x1="538.78" y1="530.51" x2="569.58" y2="530.51" stroke="#fa0f0f" stroke-width="4.2" stroke-linecap="round"/>
<text transform="translate(552.20,539.40)" font-size="10" font-weight="bold" text-anchor="middle" fill="#000" textLength="31.0" lengthAdjust="spacingAndGlyphs" >-6.144</text>
<polygon points="591.8,508.4 596.8,516.0 593.0,515.2 593.0,531.6 590.6,531.6 590.6,515.2 586.8,516.0" fill="url(#gRarr)"/>
<rect x="575.87" y="475.10" width="31.80" height="36.60" fill="url(#gHbox)" stroke="none" stroke-width="1" />
<polygon points="591.8,451.6 596.8,459.4 593.0,458.6 593.0,475.6 590.6,475.6 590.6,458.6 586.8,459.4" fill="url(#gBarr)"/>
<line x1="576.17" y1="532.55" x2="606.97" y2="532.55" stroke="#fa0f0f" stroke-width="4.2" stroke-linecap="round"/>
<text transform="translate(589.20,544.80)" font-size="10" font-weight="bold" text-anchor="middle" fill="#000" textLength="31.0" lengthAdjust="spacingAndGlyphs" >-6.236</text>
<polygon points="629.2,508.4 634.2,516.0 630.4,515.2 630.4,531.9 628.0,531.9 628.0,515.2 624.2,516.0" fill="url(#gRarr)"/>
<rect x="613.26" y="474.95" width="31.80" height="36.75" fill="url(#gHbox)" stroke="none" stroke-width="1" />
<polygon points="629.2,451.6 634.2,459.4 630.4,458.6 630.4,475.4 628.0,475.4 628.0,458.6 624.2,459.4" fill="url(#gBarr)"/>
<line x1="613.56" y1="532.91" x2="644.36" y2="532.91" stroke="#fa0f0f" stroke-width="4.2" stroke-linecap="round"/>
<text transform="translate(624.30,547.50)" font-size="10" font-weight="bold" text-anchor="middle" fill="#000" textLength="31.0" lengthAdjust="spacingAndGlyphs" >-6.252</text>
<polygon points="666.5,508.4 671.5,516.0 667.8,515.2 667.8,531.9 665.3,531.9 665.3,515.2 661.5,516.0" fill="url(#gRarr)"/>
<rect x="650.65" y="474.95" width="31.80" height="36.75" fill="url(#gHbox)" stroke="none" stroke-width="1" />
<polygon points="666.5,451.6 671.5,459.4 667.8,458.6 667.8,475.4 665.3,475.4 665.3,458.6 661.5,459.4" fill="url(#gBarr)"/>
<line x1="650.95" y1="532.91" x2="681.75" y2="532.91" stroke="#fa0f0f" stroke-width="4.2" stroke-linecap="round"/>
<text transform="translate(662.10,546.70)" font-size="10" font-weight="bold" text-anchor="middle" fill="#000" textLength="31.0" lengthAdjust="spacingAndGlyphs" >-6.252</text>
<polygon points="703.9,508.4 708.9,516.0 705.1,515.2 705.1,536.0 702.7,536.0 702.7,515.2 698.9,516.0" fill="url(#gRarr)"/>
<rect x="688.04" y="473.22" width="31.80" height="38.48" fill="url(#gHbox)" stroke="none" stroke-width="1" />
<polygon points="703.9,451.6 708.9,459.4 705.1,458.6 705.1,473.7 702.7,473.7 702.7,458.6 698.9,459.4" fill="url(#gBarr)"/>
<line x1="688.34" y1="537.01" x2="719.14" y2="537.01" stroke="#fa0f0f" stroke-width="4.2" stroke-linecap="round"/>
<text transform="translate(701.60,546.90)" font-size="10" font-weight="bold" text-anchor="middle" fill="#000" textLength="31.0" lengthAdjust="spacingAndGlyphs" >-6.437</text>
<polygon points="741.3,508.4 746.3,516.0 742.5,515.2 742.5,537.0 740.1,537.0 740.1,515.2 736.3,516.0" fill="url(#gRarr)"/>
<rect x="725.43" y="472.82" width="31.80" height="38.88" fill="url(#gHbox)" stroke="none" stroke-width="1" />
<polygon points="741.3,451.6 746.3,459.4 742.5,458.6 742.5,473.3 740.1,473.3 740.1,458.6 736.3,459.4" fill="url(#gBarr)"/>
<line x1="725.73" y1="537.96" x2="756.53" y2="537.96" stroke="#fa0f0f" stroke-width="4.2" stroke-linecap="round"/>
<text transform="translate(739.90,550.70)" font-size="10" font-weight="bold" text-anchor="middle" fill="#000" textLength="31.0" lengthAdjust="spacingAndGlyphs" >-6.480</text>
<polygon points="778.7,508.4 783.7,516.0 779.9,515.2 779.9,538.7 777.5,538.7 777.5,515.2 773.7,516.0" fill="url(#gRarr)"/>
<rect x="762.82" y="472.08" width="31.80" height="39.62" fill="url(#gHbox)" stroke="none" stroke-width="1" />
<polygon points="778.7,451.6 783.7,459.4 779.9,458.6 779.9,472.6 777.5,472.6 777.5,458.6 773.7,459.4" fill="url(#gBarr)"/>
<line x1="763.12" y1="539.71" x2="793.92" y2="539.71" stroke="#fa0f0f" stroke-width="4.2" stroke-linecap="round"/>
<text transform="translate(775.00,549.80)" font-size="10" font-weight="bold" text-anchor="middle" fill="#000" textLength="31.0" lengthAdjust="spacingAndGlyphs" >-6.559</text>
<polygon points="816.1,508.4 821.1,516.0 817.3,515.2 817.3,539.0 814.9,539.0 814.9,515.2 811.1,516.0" fill="url(#gRarr)"/>
<rect x="800.21" y="471.96" width="31.80" height="39.74" fill="url(#gHbox)" stroke="none" stroke-width="1" />
<polygon points="816.1,451.6 821.1,459.4 817.3,458.6 817.3,472.5 814.9,472.5 814.9,458.6 811.1,459.4" fill="url(#gBarr)"/>
<line x1="800.51" y1="540.00" x2="831.31" y2="540.00" stroke="#fa0f0f" stroke-width="4.2" stroke-linecap="round"/>
<text transform="translate(812.20,548.90)" font-size="10" font-weight="bold" text-anchor="middle" fill="#000" textLength="31.0" lengthAdjust="spacingAndGlyphs" >-6.572</text>
<polygon points="853.5,508.4 858.5,516.0 854.7,515.2 854.7,541.2 852.3,541.2 852.3,515.2 848.5,516.0" fill="url(#gRarr)"/>
<rect x="837.60" y="471.04" width="31.80" height="40.66" fill="url(#gHbox)" stroke="none" stroke-width="1" />
<polygon points="853.5,451.6 858.5,459.4 854.7,458.6 854.7,471.5 852.3,471.5 852.3,458.6 848.5,459.4" fill="url(#gBarr)"/>
<line x1="837.90" y1="542.20" x2="868.70" y2="542.20" stroke="#fa0f0f" stroke-width="4.2" stroke-linecap="round"/>
<text transform="translate(849.10,553.50)" font-size="10" font-weight="bold" text-anchor="middle" fill="#000" textLength="31.0" lengthAdjust="spacingAndGlyphs" >-6.671</text>
<polygon points="890.9,508.4 895.9,516.0 892.1,515.2 892.1,545.3 889.7,545.3 889.7,515.2 885.9,516.0" fill="url(#gRarr)"/>
<rect x="874.99" y="469.31" width="31.80" height="42.39" fill="url(#gHbox)" stroke="none" stroke-width="1" />
<polygon points="890.9,451.6 895.9,459.4 892.1,458.6 892.1,469.8 889.7,469.8 889.7,458.6 885.9,459.4" fill="url(#gBarr)"/>
<line x1="875.29" y1="546.30" x2="906.09" y2="546.30" stroke="#fa0f0f" stroke-width="4.2" stroke-linecap="round"/>
<text transform="translate(890.90,559.60)" font-size="10" font-weight="bold" text-anchor="middle" fill="#000" textLength="31.0" lengthAdjust="spacingAndGlyphs" >-6.856</text>
<polygon points="928.3,508.4 933.3,516.0 929.5,515.2 929.5,548.5 927.1,548.5 927.1,515.2 923.3,516.0" fill="url(#gRarr)"/>
<rect x="912.38" y="467.95" width="31.80" height="43.75" fill="url(#gHbox)" stroke="none" stroke-width="1" />
<polygon points="928.3,451.6 933.3,459.4 929.5,458.6 929.5,468.5 927.1,468.5 927.1,458.6 923.3,459.4" fill="url(#gBarr)"/>
<line x1="912.68" y1="549.53" x2="943.48" y2="549.53" stroke="#fa0f0f" stroke-width="4.2" stroke-linecap="round"/>
<text transform="translate(927.10,563.20)" font-size="10" font-weight="bold" text-anchor="middle" fill="#000" textLength="31.0" lengthAdjust="spacingAndGlyphs" >-7.002</text>
<polygon points="965.7,508.4 974.1,517.9 967.6,517.1 967.6,563.7 963.8,563.7 963.8,517.1 957.3,517.9" fill="url(#gRarr)"/>
<rect x="949.77" y="461.55" width="31.80" height="50.15" fill="url(#gHbox)" stroke="none" stroke-width="1" />
<line x1="950.07" y1="564.74" x2="980.87" y2="564.74" stroke="#fa0f0f" stroke-width="4.2" stroke-linecap="round"/>
<text transform="translate(962.80,575.40)" font-size="10" font-weight="bold" text-anchor="middle" fill="#000" textLength="31.0" lengthAdjust="spacingAndGlyphs" >-7.688</text>
<polygon points="1003.1,508.4 1011.5,517.9 1005.0,517.1 1005.0,570.5 1001.2,570.5 1001.2,517.1 994.7,517.9" fill="url(#gRarr)"/>
<rect x="987.16" y="458.70" width="31.80" height="53.00" fill="url(#gHbox)" stroke="none" stroke-width="1" />
<line x1="987.46" y1="571.53" x2="1018.26" y2="571.53" stroke="#fa0f0f" stroke-width="4.2" stroke-linecap="round"/>
<text transform="translate(1002.10,582.40)" font-size="10" font-weight="bold" text-anchor="middle" fill="#000" textLength="31.0" lengthAdjust="spacingAndGlyphs" >-7.994</text>
<polygon points="1040.5,508.4 1048.9,517.9 1042.4,517.1 1042.4,576.8 1038.5,576.8 1038.5,517.1 1032.0,517.9" fill="url(#gRarr)"/>
<rect x="1024.55" y="456.04" width="31.80" height="55.66" fill="url(#gHbox)" stroke="none" stroke-width="1" />
<line x1="1024.85" y1="577.85" x2="1055.65" y2="577.85" stroke="#fa0f0f" stroke-width="4.2" stroke-linecap="round"/>
<text transform="translate(1038.10,590.70)" font-size="10" font-weight="bold" text-anchor="middle" fill="#000" textLength="31.0" lengthAdjust="spacingAndGlyphs" >-8.279</text>
<clipPath id="hc6"><rect x="463.70" y="477.71" width="31.80" height="33.99"/><rect x="501.09" y="477.69" width="31.80" height="34.01"/><rect x="538.48" y="475.96" width="31.80" height="35.74"/><rect x="575.87" y="475.10" width="31.80" height="36.60"/><rect x="613.26" y="474.95" width="31.80" height="36.75"/><rect x="650.65" y="474.95" width="31.80" height="36.75"/><rect x="688.04" y="473.22" width="31.80" height="38.48"/><rect x="725.43" y="472.82" width="31.80" height="38.88"/><rect x="762.82" y="472.08" width="31.80" height="39.62"/><rect x="800.21" y="471.96" width="31.80" height="39.74"/><rect x="837.60" y="471.04" width="31.80" height="40.66"/><rect x="874.99" y="469.31" width="31.80" height="42.39"/><rect x="912.38" y="467.95" width="31.80" height="43.75"/><rect x="949.77" y="461.55" width="31.80" height="50.15"/><rect x="987.16" y="458.70" width="31.80" height="53.00"/><rect x="1024.55" y="456.04" width="31.80" height="55.66"/></clipPath>
<path clip-path="url(#hc6)" d="M420.2,511.7L463.7,456.0M424.2,511.7L467.7,456.0M428.2,511.7L471.7,456.0M432.2,511.7L475.7,456.0M436.2,511.7L479.7,456.0M440.2,511.7L483.7,456.0M444.2,511.7L487.7,456.0M448.2,511.7L491.7,456.0M452.2,511.7L495.7,456.0M456.2,511.7L499.7,456.0M460.2,511.7L503.7,456.0M464.2,511.7L507.7,456.0M468.2,511.7L511.7,456.0M472.2,511.7L515.7,456.0M476.2,511.7L519.7,456.0M480.2,511.7L523.7,456.0M484.2,511.7L527.7,456.0M488.2,511.7L531.7,456.0M492.2,511.7L535.7,456.0M496.2,511.7L539.7,456.0M500.2,511.7L543.7,456.0M504.2,511.7L547.7,456.0M508.2,511.7L551.7,456.0M512.2,511.7L555.7,456.0M516.2,511.7L559.7,456.0M520.2,511.7L563.7,456.0M524.2,511.7L567.7,456.0M528.2,511.7L571.7,456.0M532.2,511.7L575.7,456.0M536.2,511.7L579.7,456.0M540.2,511.7L583.7,456.0M544.2,511.7L587.7,456.0M548.2,511.7L591.7,456.0M552.2,511.7L595.7,456.0M556.2,511.7L599.7,456.0M560.2,511.7L603.7,456.0M564.2,511.7L607.7,456.0M568.2,511.7L611.7,456.0M572.2,511.7L615.7,456.0M576.2,511.7L619.7,456.0M580.2,511.7L623.7,456.0M584.2,511.7L627.7,456.0M588.2,511.7L631.7,456.0M592.2,511.7L635.7,456.0M596.2,511.7L639.7,456.0M600.2,511.7L643.7,456.0M604.2,511.7L647.7,456.0M608.2,511.7L651.7,456.0M612.2,511.7L655.7,456.0M616.2,511.7L659.7,456.0M620.2,511.7L663.7,456.0M624.2,511.7L667.7,456.0M628.2,511.7L671.7,456.0M632.2,511.7L675.7,456.0M636.2,511.7L679.7,456.0M640.2,511.7L683.7,456.0M644.2,511.7L687.7,456.0M648.2,511.7L691.7,456.0M652.2,511.7L695.7,456.0M656.2,511.7L699.7,456.0M660.2,511.7L703.7,456.0M664.2,511.7L707.7,456.0M668.2,511.7L711.7,456.0M672.2,511.7L715.7,456.0M676.2,511.7L719.7,456.0M680.2,511.7L723.7,456.0M684.2,511.7L727.7,456.0M688.2,511.7L731.7,456.0M692.2,511.7L735.7,456.0M696.2,511.7L739.7,456.0M700.2,511.7L743.7,456.0M704.2,511.7L747.7,456.0M708.2,511.7L751.7,456.0M712.2,511.7L755.7,456.0M716.2,511.7L759.7,456.0M720.2,511.7L763.7,456.0M724.2,511.7L767.7,456.0M728.2,511.7L771.7,456.0M732.2,511.7L775.7,456.0M736.2,511.7L779.7,456.0M740.2,511.7L783.7,456.0M744.2,511.7L787.7,456.0M748.2,511.7L791.7,456.0M752.2,511.7L795.7,456.0M756.2,511.7L799.7,456.0M760.2,511.7L803.7,456.0M764.2,511.7L807.7,456.0M768.2,511.7L811.7,456.0M772.2,511.7L815.7,456.0M776.2,511.7L819.7,456.0M780.2,511.7L823.7,456.0M784.2,511.7L827.7,456.0M788.2,511.7L831.7,456.0M792.2,511.7L835.7,456.0M796.2,511.7L839.7,456.0M800.2,511.7L843.7,456.0M804.2,511.7L847.7,456.0M808.2,511.7L851.7,456.0M812.2,511.7L855.7,456.0M816.2,511.7L859.7,456.0M820.2,511.7L863.7,456.0M824.2,511.7L867.7,456.0M828.2,511.7L871.7,456.0M832.2,511.7L875.7,456.0M836.2,511.7L879.7,456.0M840.2,511.7L883.7,456.0M844.2,511.7L887.7,456.0M848.2,511.7L891.7,456.0M852.2,511.7L895.7,456.0M856.2,511.7L899.7,456.0M860.2,511.7L903.7,456.0M864.2,511.7L907.7,456.0M868.2,511.7L911.7,456.0M872.2,511.7L915.7,456.0M876.2,511.7L919.7,456.0M880.2,511.7L923.7,456.0M884.2,511.7L927.7,456.0M888.2,511.7L931.7,456.0M892.2,511.7L935.7,456.0M896.2,511.7L939.7,456.0M900.2,511.7L943.7,456.0M904.2,511.7L947.7,456.0M908.2,511.7L951.7,456.0M912.2,511.7L955.7,456.0M916.2,511.7L959.7,456.0M920.2,511.7L963.7,456.0M924.2,511.7L967.7,456.0M928.2,511.7L971.7,456.0M932.2,511.7L975.7,456.0M936.2,511.7L979.7,456.0M940.2,511.7L983.7,456.0M944.2,511.7L987.7,456.0M948.2,511.7L991.7,456.0M952.2,511.7L995.7,456.0M956.2,511.7L999.7,456.0M960.2,511.7L1003.7,456.0M964.2,511.7L1007.7,456.0M968.2,511.7L1011.7,456.0M972.2,511.7L1015.7,456.0M976.2,511.7L1019.7,456.0M980.2,511.7L1023.7,456.0M984.2,511.7L1027.7,456.0M988.2,511.7L1031.7,456.0M992.2,511.7L1035.7,456.0M996.2,511.7L1039.7,456.0M1000.2,511.7L1043.7,456.0M1004.2,511.7L1047.7,456.0M1008.2,511.7L1051.7,456.0M1012.2,511.7L1055.7,456.0M1016.2,511.7L1059.7,456.0M1020.2,511.7L1063.7,456.0M1024.2,511.7L1067.7,456.0M1028.2,511.7L1071.7,456.0M1032.2,511.7L1075.7,456.0M1036.2,511.7L1079.7,456.0M1040.2,511.7L1083.7,456.0M1044.2,511.7L1087.7,456.0M1048.2,511.7L1091.7,456.0M1052.2,511.7L1095.7,456.0M1056.2,511.7L1099.7,456.0" stroke="#0a1622" stroke-width="0.5" stroke-opacity="0.62" fill="none"/>
<polygon points="479.6,508.4 484.6,516 474.6,516" fill="#fa1414"/>
<polygon points="517.0,508.4 522.0,516 512.0,516" fill="#fa1414"/>
<polygon points="554.4,508.4 559.4,516 549.4,516" fill="#fa1414"/>
<polygon points="591.8,508.4 596.8,516 586.8,516" fill="#fa1414"/>
<polygon points="629.2,508.4 634.2,516 624.2,516" fill="#fa1414"/>
<polygon points="666.5,508.4 671.5,516 661.5,516" fill="#fa1414"/>
<polygon points="703.9,508.4 708.9,516 698.9,516" fill="#fa1414"/>
<polygon points="741.3,508.4 746.3,516 736.3,516" fill="#fa1414"/>
<polygon points="778.7,508.4 783.7,516 773.7,516" fill="#fa1414"/>
<polygon points="816.1,508.4 821.1,516 811.1,516" fill="#fa1414"/>
<polygon points="853.5,508.4 858.5,516 848.5,516" fill="#fa1414"/>
<polygon points="890.9,508.4 895.9,516 885.9,516" fill="#fa1414"/>
<polygon points="928.3,508.4 933.3,516 923.3,516" fill="#fa1414"/>
<polygon points="965.7,508.4 974.1,517.9 957.3,517.9" fill="#fa0f0f"/>
<polygon points="1003.1,508.4 1011.5,517.9 994.7,517.9" fill="#fa0f0f"/>
<polygon points="1040.5,508.4 1048.9,517.9 1032.0,517.9" fill="#fa0f0f"/>
<line x1="461.50" y1="440.00" x2="1063.30" y2="440.00" stroke="#a8a8a8" stroke-width="4" stroke-linecap="round"/>
<line x1="461.50" y1="449.10" x2="1062.30" y2="449.10" stroke="#4f8a2c" stroke-width="4" stroke-linecap="round"/>
<line x1="461.50" y1="444.70" x2="1063.00" y2="444.70" stroke="#1020c8" stroke-width="4.6" stroke-linecap="round"/>
<line x1="1069.50" y1="452.00" x2="1069.50" y2="511.70" stroke="#000" stroke-width="1.1" />
<line x1="1069.50" y1="511.20" x2="1073.00" y2="511.20" stroke="#000" stroke-width="1.1" />
<text transform="translate(1075.80,515.10) scale(0.98,1)" font-size="11" font-weight="bold" text-anchor="start" fill="#000" >0</text>
<line x1="1069.50" y1="501.84" x2="1071.50" y2="501.84" stroke="#000" stroke-width="0.8" />
<line x1="1069.50" y1="492.48" x2="1073.00" y2="492.48" stroke="#000" stroke-width="1.1" />
<text transform="translate(1075.80,496.38) scale(0.98,1)" font-size="11" font-weight="bold" text-anchor="start" fill="#000" >2</text>
<line x1="1069.50" y1="483.12" x2="1071.50" y2="483.12" stroke="#000" stroke-width="0.8" />
<line x1="1069.50" y1="473.76" x2="1073.00" y2="473.76" stroke="#000" stroke-width="1.1" />
<text transform="translate(1075.80,477.66) scale(0.98,1)" font-size="11" font-weight="bold" text-anchor="start" fill="#000" >4</text>
<line x1="1069.50" y1="464.40" x2="1071.50" y2="464.40" stroke="#000" stroke-width="0.8" />
<line x1="1069.50" y1="455.04" x2="1073.00" y2="455.04" stroke="#000" stroke-width="1.1" />
<text transform="translate(1075.80,458.94) scale(0.98,1)" font-size="11" font-weight="bold" text-anchor="start" fill="#000" >6</text>
<text transform="translate(468.80,593.50)" font-size="13.2" font-weight="bold" text-anchor="start" fill="#000" textLength="25.2" lengthAdjust="spacingAndGlyphs" >BPA</text>
<text transform="translate(503.50,591.80)" font-size="13.2" font-weight="bold" text-anchor="start" fill="#000" textLength="30.2" lengthAdjust="spacingAndGlyphs" >PCM</text>
<text transform="translate(537.90,594.60)" font-size="13.2" font-weight="bold" text-anchor="start" fill="#000" textLength="27.4" lengthAdjust="spacingAndGlyphs" >NPX</text>
<text transform="translate(581.00,594.60)" font-size="13.2" font-weight="bold" text-anchor="start" fill="#000" textLength="25.3" lengthAdjust="spacingAndGlyphs" >CBZ</text>
<text transform="translate(615.00,597.00)" font-size="13.2" font-weight="bold" text-anchor="start" fill="#000" textLength="24.6" lengthAdjust="spacingAndGlyphs" >CTC</text>
<text transform="translate(655.40,594.60)" font-size="13.2" font-weight="bold" text-anchor="start" fill="#000" textLength="15.8" lengthAdjust="spacingAndGlyphs" >TC</text>
<text transform="translate(695.00,599.50)" font-size="13.2" font-weight="bold" text-anchor="start" fill="#000" textLength="16.6" lengthAdjust="spacingAndGlyphs" >CP</text>
<text transform="translate(732.60,614.60)" font-size="13.2" font-weight="bold" text-anchor="start" fill="#000" textLength="17.6" lengthAdjust="spacingAndGlyphs" >SN</text>
<text transform="translate(765.50,611.00)" font-size="13.2" font-weight="bold" text-anchor="start" fill="#000" textLength="28.1" lengthAdjust="spacingAndGlyphs" >SMT</text>
<text transform="translate(803.00,611.80)" font-size="13.2" font-weight="bold" text-anchor="start" fill="#000" textLength="19.7" lengthAdjust="spacingAndGlyphs" >CIP</text>
<text transform="translate(842.70,615.60)" font-size="13.2" font-weight="bold" text-anchor="start" fill="#000" textLength="28.8" lengthAdjust="spacingAndGlyphs" >SMZ</text>
<text transform="translate(879.60,607.50)" font-size="13.2" font-weight="bold" text-anchor="start" fill="#000" textLength="27.0" lengthAdjust="spacingAndGlyphs" >HBA</text>
<text transform="translate(917.00,623.30)" font-size="13.2" font-weight="bold" text-anchor="start" fill="#000" textLength="18.7" lengthAdjust="spacingAndGlyphs" >NP</text>
<text transform="translate(951.50,638.00)" font-size="13.2" font-weight="bold" text-anchor="start" fill="#000" textLength="23.5" lengthAdjust="spacingAndGlyphs" >CPL</text>
<text transform="translate(994.70,640.90)" font-size="13.2" font-weight="bold" text-anchor="start" fill="#000" textLength="18.9" lengthAdjust="spacingAndGlyphs" >NB</text>
<text transform="translate(1027.00,654.90)" font-size="13.2" font-weight="bold" text-anchor="start" fill="#000" textLength="27.3" lengthAdjust="spacingAndGlyphs" >NBA</text>
<text transform="translate(467.60,323.60)" font-size="13.2" font-weight="bold" text-anchor="start" fill="#000" textLength="140.6" lengthAdjust="spacingAndGlyphs" >Fe-SAC/PMS complex</text>
<text transform="translate(652.00,322.60)" font-size="13.2" font-weight="bold" text-anchor="start" fill="#000" textLength="141.6" lengthAdjust="spacingAndGlyphs" >Co-SAC/PMS complex</text>
<text transform="translate(828.00,322.60)" font-size="13.2" font-weight="bold" text-anchor="start" fill="#000" textLength="142.0" lengthAdjust="spacingAndGlyphs" >Cu-SAC/PMS complex</text>
<text transform="translate(447.00,424.70)" font-size="12" font-weight="bold" text-anchor="start" fill="#000" textLength="186.4" lengthAdjust="spacingAndGlyphs" >LUMO<tspan font-size="7.6" dy="3.4">(Fe-SAC/PMS complex)</tspan><tspan font-size="13" dy="-3.4">(-2.313 eV)</tspan></text>
<text transform="translate(641.60,423.50)" font-size="12" font-weight="bold" text-anchor="start" fill="#000" textLength="188.0" lengthAdjust="spacingAndGlyphs" >LUMO<tspan font-size="7.6" dy="3.4">(Co-SAC/PMS complex)</tspan><tspan font-size="13" dy="-3.4">(-2.330 eV)</tspan></text>
<text transform="translate(836.80,423.30)" font-size="12" font-weight="bold" text-anchor="start" fill="#000" textLength="188.4" lengthAdjust="spacingAndGlyphs" >LUMO<tspan font-size="7.6" dy="3.4">(Cu-SAC/PMS complex)</tspan><tspan font-size="13" dy="-3.4">(-2.097 eV)</tspan></text>
<line x1="958.60" y1="339.30" x2="1000.90" y2="339.30" stroke="#1020c8" stroke-width="4.8" stroke-linecap="round"/>
<text transform="translate(1012.80,343.70)" font-size="13.8" font-weight="bold" text-anchor="start" fill="#000" textLength="99.0" lengthAdjust="spacingAndGlyphs" >LUMO (Fe-SAC)</text>
<line x1="958.60" y1="356.60" x2="1000.90" y2="356.60" stroke="#a8a8a8" stroke-width="4.8" stroke-linecap="round"/>
<text transform="translate(1012.80,363.50)" font-size="13.8" font-weight="bold" text-anchor="start" fill="#000" textLength="99.0" lengthAdjust="spacingAndGlyphs" >LUMO (Cu-SAC)</text>
<line x1="958.60" y1="377.10" x2="1000.90" y2="377.10" stroke="#1c901c" stroke-width="4.8" stroke-linecap="round"/>
<text transform="translate(1012.80,382.90)" font-size="13.8" font-weight="bold" text-anchor="start" fill="#000" textLength="99.0" lengthAdjust="spacingAndGlyphs" >LUMO (Co-SAC)</text>
<line x1="958.60" y1="395.90" x2="1000.90" y2="395.90" stroke="#fa0f0f" stroke-width="4.8" stroke-linecap="round"/>
<text transform="translate(1012.80,400.60)" font-size="13.8" font-weight="bold" text-anchor="start" fill="#000" textLength="44.5" lengthAdjust="spacingAndGlyphs" >HOMO</text>
<g stroke="#2b9a9e" stroke-width="1.5" stroke-linecap="round">
<line x1="493.5" y1="348.5" x2="499.5" y2="342.5"/>
<line x1="493.5" y1="348.5" x2="495.7" y2="356.7"/>
<line x1="499.5" y1="342.5" x2="507.7" y2="344.7"/>
<line x1="507.7" y1="344.7" x2="513.7" y2="338.7"/>
<line x1="507.7" y1="344.7" x2="509.9" y2="352.9"/>
<line x1="513.7" y1="338.7" x2="521.9" y2="340.9"/>
<line x1="521.9" y1="340.9" x2="527.9" y2="334.8"/>
<line x1="521.9" y1="340.9" x2="524.1" y2="349.1"/>
<line x1="527.9" y1="334.8" x2="536.1" y2="337.0"/>
<line x1="536.1" y1="337.0" x2="538.3" y2="345.3"/>
<line x1="489.7" y1="362.7" x2="495.7" y2="356.7"/>
<line x1="489.7" y1="362.7" x2="491.9" y2="370.9"/>
<line x1="495.7" y1="356.7" x2="503.9" y2="358.9"/>
<line x1="503.9" y1="358.9" x2="509.9" y2="352.9"/>
<line x1="503.9" y1="358.9" x2="506.1" y2="367.1"/>
<line x1="509.9" y1="352.9" x2="518.1" y2="355.1"/>
<line x1="518.1" y1="355.1" x2="524.1" y2="349.1"/>
<line x1="518.1" y1="355.1" x2="520.3" y2="363.3"/>
<line x1="524.1" y1="349.1" x2="532.3" y2="351.3"/>
<line x1="532.3" y1="351.3" x2="538.3" y2="345.3"/>
<line x1="532.3" y1="351.3" x2="534.5" y2="359.5"/>
<line x1="538.3" y1="345.3" x2="546.5" y2="347.5"/>
<line x1="546.5" y1="347.5" x2="548.7" y2="355.7"/>
<line x1="485.8" y1="376.9" x2="491.9" y2="370.9"/>
<line x1="485.8" y1="376.9" x2="488.0" y2="385.1"/>
<line x1="491.9" y1="370.9" x2="500.1" y2="373.1"/>
<line x1="500.1" y1="373.1" x2="506.1" y2="367.1"/>
<line x1="500.1" y1="373.1" x2="502.3" y2="381.3"/>
<line x1="506.1" y1="367.1" x2="514.3" y2="369.3"/>
<line x1="514.3" y1="369.3" x2="520.3" y2="363.3"/>
<line x1="514.3" y1="369.3" x2="516.5" y2="377.5"/>
<line x1="520.3" y1="363.3" x2="528.5" y2="365.5"/>
<line x1="528.5" y1="365.5" x2="534.5" y2="359.5"/>
<line x1="528.5" y1="365.5" x2="530.7" y2="373.7"/>
<line x1="534.5" y1="359.5" x2="542.7" y2="361.7"/>
<line x1="542.7" y1="361.7" x2="548.7" y2="355.7"/>
<line x1="542.7" y1="361.7" x2="544.9" y2="369.9"/>
<line x1="548.7" y1="355.7" x2="557.0" y2="357.9"/>
<line x1="557.0" y1="357.9" x2="559.2" y2="366.1"/>
<line x1="488.0" y1="385.1" x2="496.3" y2="387.3"/>
<line x1="496.3" y1="387.3" x2="502.3" y2="381.3"/>
<line x1="496.3" y1="387.3" x2="498.5" y2="395.5"/>
<line x1="502.3" y1="381.3" x2="510.5" y2="383.5"/>
<line x1="510.5" y1="383.5" x2="516.5" y2="377.5"/>
<line x1="510.5" y1="383.5" x2="512.7" y2="391.7"/>
<line x1="516.5" y1="377.5" x2="524.7" y2="379.7"/>
<line x1="524.7" y1="379.7" x2="530.7" y2="373.7"/>
<line x1="524.7" y1="379.7" x2="526.9" y2="387.9"/>
<line x1="530.7" y1="373.7" x2="538.9" y2="375.9"/>
<line x1="538.9" y1="375.9" x2="544.9" y2="369.9"/>
<line x1="538.9" y1="375.9" x2="541.1" y2="384.1"/>
<line x1="544.9" y1="369.9" x2="553.1" y2="372.1"/>
<line x1="553.1" y1="372.1" x2="559.2" y2="366.1"/>
<line x1="553.1" y1="372.1" x2="555.3" y2="380.3"/>
<line x1="498.5" y1="395.5" x2="506.7" y2="397.7"/>
<line x1="506.7" y1="397.7" x2="512.7" y2="391.7"/>
<line x1="506.7" y1="397.7" x2="508.9" y2="406.0"/>
<line x1="512.7" y1="391.7" x2="520.9" y2="393.9"/>
<line x1="520.9" y1="393.9" x2="526.9" y2="387.9"/>
<line x1="520.9" y1="393.9" x2="523.1" y2="402.1"/>
<line x1="526.9" y1="387.9" x2="535.1" y2="390.1"/>
<line x1="535.1" y1="390.1" x2="541.1" y2="384.1"/>
<line x1="535.1" y1="390.1" x2="537.3" y2="398.3"/>
<line x1="541.1" y1="384.1" x2="549.3" y2="386.3"/>
<line x1="549.3" y1="386.3" x2="555.3" y2="380.3"/>
<line x1="549.3" y1="386.3" x2="551.5" y2="394.5"/>
<line x1="508.9" y1="406.0" x2="517.1" y2="408.2"/>
<line x1="517.1" y1="408.2" x2="523.1" y2="402.1"/>
<line x1="523.1" y1="402.1" x2="531.3" y2="404.3"/>
<line x1="531.3" y1="404.3" x2="537.3" y2="398.3"/>
<line x1="537.3" y1="398.3" x2="545.5" y2="400.5"/>
<line x1="545.5" y1="400.5" x2="551.5" y2="394.5"/>
</g>
<line x1="493.5" y1="348.5" x2="490.7" y2="346.3" stroke="#9ab" stroke-width="0.7"/>
<circle cx="490.33" cy="345.99" r="0.9" fill="#e4e4e4" stroke="#aaa" stroke-width="0.3" />
<line x1="499.5" y1="342.5" x2="497.3" y2="339.7" stroke="#9ab" stroke-width="0.7"/>
<circle cx="496.99" cy="339.33" r="0.9" fill="#e4e4e4" stroke="#aaa" stroke-width="0.3" />
<line x1="527.9" y1="334.8" x2="528.4" y2="331.4" stroke="#9ab" stroke-width="0.7"/>
<circle cx="528.51" cy="330.89" r="0.9" fill="#e4e4e4" stroke="#aaa" stroke-width="0.3" />
<line x1="536.1" y1="337.0" x2="537.4" y2="333.8" stroke="#9ab" stroke-width="0.7"/>
<circle cx="537.60" cy="333.33" r="0.9" fill="#e4e4e4" stroke="#aaa" stroke-width="0.3" />
<line x1="485.8" y1="376.9" x2="482.4" y2="377.4" stroke="#9ab" stroke-width="0.7"/>
<circle cx="481.89" cy="377.51" r="0.9" fill="#e4e4e4" stroke="#aaa" stroke-width="0.3" />
<line x1="557.0" y1="357.9" x2="560.2" y2="356.6" stroke="#9ab" stroke-width="0.7"/>
<circle cx="560.67" cy="356.40" r="0.9" fill="#e4e4e4" stroke="#aaa" stroke-width="0.3" />
<line x1="488.0" y1="385.1" x2="484.8" y2="386.4" stroke="#9ab" stroke-width="0.7"/>
<circle cx="484.33" cy="386.60" r="0.9" fill="#e4e4e4" stroke="#aaa" stroke-width="0.3" />
<line x1="559.2" y1="366.1" x2="562.6" y2="365.6" stroke="#9ab" stroke-width="0.7"/>
<circle cx="563.11" cy="365.49" r="0.9" fill="#e4e4e4" stroke="#aaa" stroke-width="0.3" />
<line x1="508.9" y1="406.0" x2="507.6" y2="409.2" stroke="#9ab" stroke-width="0.7"/>
<circle cx="507.40" cy="409.67" r="0.9" fill="#e4e4e4" stroke="#aaa" stroke-width="0.3" />
<line x1="517.1" y1="408.2" x2="516.6" y2="411.6" stroke="#9ab" stroke-width="0.7"/>
<circle cx="516.49" cy="412.11" r="0.9" fill="#e4e4e4" stroke="#aaa" stroke-width="0.3" />
<line x1="545.5" y1="400.5" x2="547.7" y2="403.3" stroke="#9ab" stroke-width="0.7"/>
<circle cx="548.01" cy="403.67" r="0.9" fill="#e4e4e4" stroke="#aaa" stroke-width="0.3" />
<line x1="551.5" y1="394.5" x2="554.3" y2="396.7" stroke="#9ab" stroke-width="0.7"/>
<circle cx="554.67" cy="397.01" r="0.9" fill="#e4e4e4" stroke="#aaa" stroke-width="0.3" />
<circle cx="493.47" cy="348.48" r="1.9" fill="#4ac6ca" stroke="none" stroke-width="1" />
<circle cx="499.48" cy="342.47" r="1.9" fill="#4ac6ca" stroke="none" stroke-width="1" />
<circle cx="507.69" cy="344.67" r="1.9" fill="#4ac6ca" stroke="none" stroke-width="1" />
<circle cx="513.70" cy="338.66" r="1.9" fill="#4ac6ca" stroke="none" stroke-width="1" />
<circle cx="521.91" cy="340.86" r="1.9" fill="#4ac6ca" stroke="none" stroke-width="1" />
<circle cx="527.92" cy="334.85" r="1.9" fill="#4ac6ca" stroke="none" stroke-width="1" />
<circle cx="536.13" cy="337.05" r="1.9" fill="#4ac6ca" stroke="none" stroke-width="1" />
<circle cx="489.66" cy="362.70" r="1.9" fill="#4ac6ca" stroke="none" stroke-width="1" />
<circle cx="495.67" cy="356.69" r="1.9" fill="#4ac6ca" stroke="none" stroke-width="1" />
<circle cx="503.88" cy="358.89" r="1.9" fill="#4ac6ca" stroke="none" stroke-width="1" />
<circle cx="509.89" cy="352.88" r="1.9" fill="#4ac6ca" stroke="none" stroke-width="1" />
<circle cx="518.10" cy="355.08" r="1.9" fill="#4ac6ca" stroke="none" stroke-width="1" />
<circle cx="524.11" cy="349.07" r="1.9" fill="#4ac6ca" stroke="none" stroke-width="1" />
<circle cx="532.32" cy="351.27" r="1.9" fill="#4ac6ca" stroke="none" stroke-width="1" />
<circle cx="538.33" cy="345.26" r="1.9" fill="#4ac6ca" stroke="none" stroke-width="1" />
<circle cx="546.54" cy="347.46" r="1.9" fill="#4ac6ca" stroke="none" stroke-width="1" />
<circle cx="485.85" cy="376.92" r="1.9" fill="#4ac6ca" stroke="none" stroke-width="1" />
<circle cx="491.86" cy="370.91" r="1.9" fill="#4ac6ca" stroke="none" stroke-width="1" />
<circle cx="500.07" cy="373.11" r="1.9" fill="#4ac6ca" stroke="none" stroke-width="1" />
<circle cx="506.08" cy="367.10" r="1.9" fill="#4ac6ca" stroke="none" stroke-width="1" />
<circle cx="514.29" cy="369.30" r="1.9" fill="#4ac6ca" stroke="none" stroke-width="1" />
<circle cx="520.30" cy="363.29" r="1.9" fill="#4ac6ca" stroke="none" stroke-width="1" />
<circle cx="528.51" cy="365.49" r="1.9" fill="#4ac6ca" stroke="none" stroke-width="1" />
<circle cx="534.52" cy="359.48" r="1.9" fill="#4ac6ca" stroke="none" stroke-width="1" />
<circle cx="542.73" cy="361.68" r="1.9" fill="#4ac6ca" stroke="none" stroke-width="1" />
<circle cx="548.74" cy="355.67" r="1.9" fill="#4ac6ca" stroke="none" stroke-width="1" />
<circle cx="556.95" cy="357.87" r="1.9" fill="#4ac6ca" stroke="none" stroke-width="1" />
<circle cx="488.05" cy="385.13" r="1.9" fill="#4ac6ca" stroke="none" stroke-width="1" />
<circle cx="496.26" cy="387.33" r="1.9" fill="#4ac6ca" stroke="none" stroke-width="1" />
<circle cx="502.27" cy="381.32" r="1.9" fill="#4ac6ca" stroke="none" stroke-width="1" />
<circle cx="510.48" cy="383.52" r="1.9" fill="#4ac6ca" stroke="none" stroke-width="1" />
<circle cx="516.49" cy="377.51" r="1.9" fill="#4ac6ca" stroke="none" stroke-width="1" />
<circle cx="524.70" cy="379.71" r="1.9" fill="#4ac6ca" stroke="none" stroke-width="1" />
<circle cx="530.71" cy="373.70" r="1.9" fill="#4ac6ca" stroke="none" stroke-width="1" />
<circle cx="538.92" cy="375.90" r="1.9" fill="#4ac6ca" stroke="none" stroke-width="1" />
<circle cx="544.93" cy="369.89" r="1.9" fill="#4ac6ca" stroke="none" stroke-width="1" />
<circle cx="553.14" cy="372.09" r="1.9" fill="#4ac6ca" stroke="none" stroke-width="1" />
<circle cx="559.15" cy="366.08" r="1.9" fill="#4ac6ca" stroke="none" stroke-width="1" />
<circle cx="498.46" cy="395.54" r="1.9" fill="#4ac6ca" stroke="none" stroke-width="1" />
<circle cx="506.67" cy="397.74" r="1.9" fill="#4ac6ca" stroke="none" stroke-width="1" />
<circle cx="512.68" cy="391.73" r="1.9" fill="#4ac6ca" stroke="none" stroke-width="1" />
<circle cx="520.89" cy="393.93" r="1.9" fill="#4ac6ca" stroke="none" stroke-width="1" />
<circle cx="526.90" cy="387.92" r="1.9" fill="#4ac6ca" stroke="none" stroke-width="1" />
<circle cx="535.11" cy="390.12" r="1.9" fill="#4ac6ca" stroke="none" stroke-width="1" />
<circle cx="541.12" cy="384.11" r="1.9" fill="#4ac6ca" stroke="none" stroke-width="1" />
<circle cx="549.33" cy="386.31" r="1.9" fill="#4ac6ca" stroke="none" stroke-width="1" />
<circle cx="555.34" cy="380.30" r="1.9" fill="#4ac6ca" stroke="none" stroke-width="1" />
<circle cx="508.87" cy="405.95" r="1.9" fill="#4ac6ca" stroke="none" stroke-width="1" />
<circle cx="517.08" cy="408.15" r="1.9" fill="#4ac6ca" stroke="none" stroke-width="1" />
<circle cx="523.09" cy="402.14" r="1.9" fill="#4ac6ca" stroke="none" stroke-width="1" />
<circle cx="531.30" cy="404.34" r="1.9" fill="#4ac6ca" stroke="none" stroke-width="1" />
<circle cx="537.31" cy="398.33" r="1.9" fill="#4ac6ca" stroke="none" stroke-width="1" />
<circle cx="545.52" cy="400.53" r="1.9" fill="#4ac6ca" stroke="none" stroke-width="1" />
<circle cx="551.53" cy="394.52" r="1.9" fill="#4ac6ca" stroke="none" stroke-width="1" />
<ellipse cx="511.5" cy="338.5" rx="3.1" ry="3.6" fill="url(#lobB)" transform="rotate(0 511.5 338.5)"/>
<ellipse cx="526.5" cy="336.5" rx="3.6" ry="4.1" fill="url(#lobR)" transform="rotate(0 526.5 336.5)"/>
<ellipse cx="535.5" cy="348.5" rx="3.1" ry="4.3" fill="url(#lobB)" transform="rotate(20 535.5 348.5)"/>
<ellipse cx="544.5" cy="354.5" rx="3.1" ry="4.1" fill="url(#lobR)" transform="rotate(0 544.5 354.5)"/>
<ellipse cx="538.5" cy="370.5" rx="3.2" ry="8.4" fill="url(#lobB)" transform="rotate(0 538.5 370.5)"/>
<ellipse cx="546.5" cy="385.5" rx="3.6" ry="4.1" fill="url(#lobR)" transform="rotate(0 546.5 385.5)"/>
<ellipse cx="537.5" cy="392.5" rx="3.4" ry="4.1" fill="url(#lobB)" transform="rotate(0 537.5 392.5)"/>
<ellipse cx="529.5" cy="405.5" rx="3.6" ry="3.6" fill="url(#lobR)" transform="rotate(0 529.5 405.5)"/>
<ellipse cx="514.5" cy="405.5" rx="3.1" ry="3.6" fill="url(#lobB)" transform="rotate(0 514.5 405.5)"/>
<line x1="523.00" y1="375.00" x2="516.00" y2="371.00" stroke="#2030d0" stroke-width="0.8" />
<line x1="523.00" y1="375.00" x2="531.00" y2="370.00" stroke="#2030d0" stroke-width="0.8" />
<line x1="523.00" y1="375.00" x2="520.00" y2="383.00" stroke="#2030d0" stroke-width="0.8" />
<line x1="523.00" y1="375.00" x2="533.00" y2="381.00" stroke="#2030d0" stroke-width="0.8" />
<line x1="524.00" y1="376.00" x2="514.00" y2="375.00" stroke="#e01818" stroke-width="0.9" />
<circle cx="514.00" cy="375.00" r="1.9" fill="#e81818" stroke="#900" stroke-width="0.3" />
<line x1="524.00" y1="376.00" x2="527.00" y2="369.00" stroke="#e01818" stroke-width="0.9" />
<circle cx="527.00" cy="369.00" r="1.9" fill="#e81818" stroke="#900" stroke-width="0.3" />
<line x1="524.00" y1="376.00" x2="530.00" y2="382.00" stroke="#e01818" stroke-width="0.9" />
<circle cx="530.00" cy="382.00" r="1.9" fill="#e81818" stroke="#900" stroke-width="0.3" />
<line x1="524.00" y1="376.00" x2="524.00" y2="387.00" stroke="#e01818" stroke-width="0.9" />
<circle cx="524.00" cy="387.00" r="1.9" fill="#e81818" stroke="#900" stroke-width="0.3" />
<line x1="524.00" y1="376.00" x2="520.00" y2="393.00" stroke="#e01818" stroke-width="0.9" />
<circle cx="520.00" cy="393.00" r="1.9" fill="#e81818" stroke="#900" stroke-width="0.3" />
<circle cx="523.00" cy="375.00" r="2.6" fill="#e8d820" stroke="#a09010" stroke-width="0.3" />
<g stroke="#2b9a9e" stroke-width="1.5" stroke-linecap="round">
<line x1="691.0" y1="358.3" x2="695.2" y2="350.9"/>
<line x1="691.0" y1="358.3" x2="695.2" y2="365.6"/>
<line x1="695.2" y1="350.9" x2="703.8" y2="350.9"/>
<line x1="703.8" y1="350.9" x2="708.0" y2="343.6"/>
<line x1="703.8" y1="350.9" x2="708.0" y2="358.3"/>
<line x1="708.0" y1="343.6" x2="716.5" y2="343.6"/>
<line x1="716.5" y1="343.6" x2="720.8" y2="336.2"/>
<line x1="716.5" y1="343.6" x2="720.8" y2="350.9"/>
<line x1="720.8" y1="336.2" x2="729.2" y2="336.2"/>
<line x1="729.2" y1="336.2" x2="733.5" y2="343.6"/>
<line x1="691.0" y1="373.0" x2="695.2" y2="365.6"/>
<line x1="691.0" y1="373.0" x2="695.2" y2="380.4"/>
<line x1="695.2" y1="365.6" x2="703.8" y2="365.6"/>
<line x1="703.8" y1="365.6" x2="708.0" y2="358.3"/>
<line x1="703.8" y1="365.6" x2="708.0" y2="373.0"/>
<line x1="708.0" y1="358.3" x2="716.5" y2="358.3"/>
<line x1="716.5" y1="358.3" x2="720.8" y2="350.9"/>
<line x1="716.5" y1="358.3" x2="720.8" y2="365.6"/>
<line x1="720.8" y1="350.9" x2="729.2" y2="350.9"/>
<line x1="729.2" y1="350.9" x2="733.5" y2="343.6"/>
<line x1="729.2" y1="350.9" x2="733.5" y2="358.3"/>
<line x1="733.5" y1="343.6" x2="742.0" y2="343.6"/>
<line x1="742.0" y1="343.6" x2="746.2" y2="350.9"/>
<line x1="691.0" y1="387.7" x2="695.2" y2="380.4"/>
<line x1="691.0" y1="387.7" x2="695.2" y2="395.1"/>
<line x1="695.2" y1="380.4" x2="703.8" y2="380.4"/>
<line x1="703.8" y1="380.4" x2="708.0" y2="373.0"/>
<line x1="703.8" y1="380.4" x2="708.0" y2="387.7"/>
<line x1="708.0" y1="373.0" x2="716.5" y2="373.0"/>
<line x1="716.5" y1="373.0" x2="720.8" y2="365.6"/>
<line x1="716.5" y1="373.0" x2="720.8" y2="380.4"/>
<line x1="720.8" y1="365.6" x2="729.2" y2="365.6"/>
<line x1="729.2" y1="365.6" x2="733.5" y2="358.3"/>
<line x1="729.2" y1="365.6" x2="733.5" y2="373.0"/>
<line x1="733.5" y1="358.3" x2="742.0" y2="358.3"/>
<line x1="742.0" y1="358.3" x2="746.2" y2="350.9"/>
<line x1="742.0" y1="358.3" x2="746.2" y2="365.6"/>
<line x1="746.2" y1="350.9" x2="754.8" y2="350.9"/>
<line x1="754.8" y1="350.9" x2="759.0" y2="358.3"/>
<line x1="695.2" y1="395.1" x2="703.8" y2="395.1"/>
<line x1="703.8" y1="395.1" x2="708.0" y2="387.7"/>
<line x1="703.8" y1="395.1" x2="708.0" y2="402.4"/>
<line x1="708.0" y1="387.7" x2="716.5" y2="387.7"/>
<line x1="716.5" y1="387.7" x2="720.8" y2="380.4"/>
<line x1="716.5" y1="387.7" x2="720.8" y2="395.1"/>
<line x1="720.8" y1="380.4" x2="729.2" y2="380.4"/>
<line x1="729.2" y1="380.4" x2="733.5" y2="373.0"/>
<line x1="729.2" y1="380.4" x2="733.5" y2="387.7"/>
<line x1="733.5" y1="373.0" x2="742.0" y2="373.0"/>
<line x1="742.0" y1="373.0" x2="746.2" y2="365.6"/>
<line x1="742.0" y1="373.0" x2="746.2" y2="380.4"/>
<line x1="746.2" y1="365.6" x2="754.8" y2="365.6"/>
<line x1="754.8" y1="365.6" x2="759.0" y2="358.3"/>
<line x1="754.8" y1="365.6" x2="759.0" y2="373.0"/>
<line x1="708.0" y1="402.4" x2="716.5" y2="402.4"/>
<line x1="716.5" y1="402.4" x2="720.8" y2="395.1"/>
<line x1="716.5" y1="402.4" x2="720.8" y2="409.8"/>
<line x1="720.8" y1="395.1" x2="729.2" y2="395.1"/>
<line x1="729.2" y1="395.1" x2="733.5" y2="387.7"/>
<line x1="729.2" y1="395.1" x2="733.5" y2="402.4"/>
<line x1="733.5" y1="387.7" x2="742.0" y2="387.7"/>
<line x1="742.0" y1="387.7" x2="746.2" y2="380.4"/>
<line x1="742.0" y1="387.7" x2="746.2" y2="395.1"/>
<line x1="746.2" y1="380.4" x2="754.8" y2="380.4"/>
<line x1="754.8" y1="380.4" x2="759.0" y2="373.0"/>
<line x1="754.8" y1="380.4" x2="759.0" y2="387.7"/>
<line x1="720.8" y1="409.8" x2="729.2" y2="409.8"/>
<line x1="729.2" y1="409.8" x2="733.5" y2="402.4"/>
<line x1="733.5" y1="402.4" x2="742.0" y2="402.4"/>
<line x1="742.0" y1="402.4" x2="746.2" y2="395.1"/>
<line x1="746.2" y1="395.1" x2="754.8" y2="395.1"/>
<line x1="754.8" y1="395.1" x2="759.0" y2="387.7"/>
</g>
<line x1="691.0" y1="358.3" x2="687.8" y2="356.9" stroke="#9ab" stroke-width="0.7"/>
<circle cx="687.33" cy="356.69" r="0.9" fill="#e4e4e4" stroke="#aaa" stroke-width="0.3" />
<line x1="695.2" y1="350.9" x2="692.4" y2="348.8" stroke="#9ab" stroke-width="0.7"/>
<circle cx="692.04" cy="348.53" r="0.9" fill="#e4e4e4" stroke="#aaa" stroke-width="0.3" />
<line x1="720.8" y1="336.2" x2="720.3" y2="332.7" stroke="#9ab" stroke-width="0.7"/>
<circle cx="720.29" cy="332.22" r="0.9" fill="#e4e4e4" stroke="#aaa" stroke-width="0.3" />
<line x1="729.2" y1="336.2" x2="729.7" y2="332.7" stroke="#9ab" stroke-width="0.7"/>
<circle cx="729.71" cy="332.22" r="0.9" fill="#e4e4e4" stroke="#aaa" stroke-width="0.3" />
<line x1="691.0" y1="387.7" x2="687.8" y2="389.1" stroke="#9ab" stroke-width="0.7"/>
<circle cx="687.33" cy="389.31" r="0.9" fill="#e4e4e4" stroke="#aaa" stroke-width="0.3" />
<line x1="754.8" y1="350.9" x2="757.6" y2="348.8" stroke="#9ab" stroke-width="0.7"/>
<circle cx="757.96" cy="348.53" r="0.9" fill="#e4e4e4" stroke="#aaa" stroke-width="0.3" />
<line x1="695.2" y1="395.1" x2="692.4" y2="397.2" stroke="#9ab" stroke-width="0.7"/>
<circle cx="692.04" cy="397.47" r="0.9" fill="#e4e4e4" stroke="#aaa" stroke-width="0.3" />
<line x1="759.0" y1="358.3" x2="762.2" y2="356.9" stroke="#9ab" stroke-width="0.7"/>
<circle cx="762.67" cy="356.69" r="0.9" fill="#e4e4e4" stroke="#aaa" stroke-width="0.3" />
<line x1="720.8" y1="409.8" x2="720.3" y2="413.3" stroke="#9ab" stroke-width="0.7"/>
<circle cx="720.29" cy="413.78" r="0.9" fill="#e4e4e4" stroke="#aaa" stroke-width="0.3" />
<line x1="729.2" y1="409.8" x2="729.7" y2="413.3" stroke="#9ab" stroke-width="0.7"/>
<circle cx="729.71" cy="413.78" r="0.9" fill="#e4e4e4" stroke="#aaa" stroke-width="0.3" />
<line x1="754.8" y1="395.1" x2="757.6" y2="397.2" stroke="#9ab" stroke-width="0.7"/>
<circle cx="757.96" cy="397.47" r="0.9" fill="#e4e4e4" stroke="#aaa" stroke-width="0.3" />
<line x1="759.0" y1="387.7" x2="762.2" y2="389.1" stroke="#9ab" stroke-width="0.7"/>
<circle cx="762.67" cy="389.31" r="0.9" fill="#e4e4e4" stroke="#aaa" stroke-width="0.3" />
<circle cx="691.00" cy="358.28" r="1.9" fill="#4ac6ca" stroke="none" stroke-width="1" />
<circle cx="695.25" cy="350.92" r="1.9" fill="#4ac6ca" stroke="none" stroke-width="1" />
<circle cx="703.75" cy="350.92" r="1.9" fill="#4ac6ca" stroke="none" stroke-width="1" />
<circle cx="708.00" cy="343.56" r="1.9" fill="#4ac6ca" stroke="none" stroke-width="1" />
<circle cx="716.50" cy="343.56" r="1.9" fill="#4ac6ca" stroke="none" stroke-width="1" />
<circle cx="720.75" cy="336.19" r="1.9" fill="#4ac6ca" stroke="none" stroke-width="1" />
<circle cx="729.25" cy="336.19" r="1.9" fill="#4ac6ca" stroke="none" stroke-width="1" />
<circle cx="691.00" cy="373.00" r="1.9" fill="#4ac6ca" stroke="none" stroke-width="1" />
<circle cx="695.25" cy="365.64" r="1.9" fill="#4ac6ca" stroke="none" stroke-width="1" />
<circle cx="703.75" cy="365.64" r="1.9" fill="#4ac6ca" stroke="none" stroke-width="1" />
<circle cx="708.00" cy="358.28" r="1.9" fill="#4ac6ca" stroke="none" stroke-width="1" />
<circle cx="716.50" cy="358.28" r="1.9" fill="#4ac6ca" stroke="none" stroke-width="1" />
<circle cx="720.75" cy="350.92" r="1.9" fill="#4ac6ca" stroke="none" stroke-width="1" />
<circle cx="729.25" cy="350.92" r="1.9" fill="#4ac6ca" stroke="none" stroke-width="1" />
<circle cx="733.50" cy="343.56" r="1.9" fill="#4ac6ca" stroke="none" stroke-width="1" />
<circle cx="742.00" cy="343.56" r="1.9" fill="#4ac6ca" stroke="none" stroke-width="1" />
<circle cx="691.00" cy="387.72" r="1.9" fill="#4ac6ca" stroke="none" stroke-width="1" />
<circle cx="695.25" cy="380.36" r="1.9" fill="#4ac6ca" stroke="none" stroke-width="1" />
<circle cx="703.75" cy="380.36" r="1.9" fill="#4ac6ca" stroke="none" stroke-width="1" />
<circle cx="708.00" cy="373.00" r="1.9" fill="#4ac6ca" stroke="none" stroke-width="1" />
<circle cx="716.50" cy="373.00" r="1.9" fill="#4ac6ca" stroke="none" stroke-width="1" />
<circle cx="720.75" cy="365.64" r="1.9" fill="#4ac6ca" stroke="none" stroke-width="1" />
<circle cx="729.25" cy="365.64" r="1.9" fill="#4ac6ca" stroke="none" stroke-width="1" />
<circle cx="733.50" cy="358.28" r="1.9" fill="#4ac6ca" stroke="none" stroke-width="1" />
<circle cx="742.00" cy="358.28" r="1.9" fill="#4ac6ca" stroke="none" stroke-width="1" />
<circle cx="746.25" cy="350.92" r="1.9" fill="#4ac6ca" stroke="none" stroke-width="1" />
<circle cx="754.75" cy="350.92" r="1.9" fill="#4ac6ca" stroke="none" stroke-width="1" />
<circle cx="695.25" cy="395.08" r="1.9" fill="#4ac6ca" stroke="none" stroke-width="1" />
<circle cx="703.75" cy="395.08" r="1.9" fill="#4ac6ca" stroke="none" stroke-width="1" />
<circle cx="708.00" cy="387.72" r="1.9" fill="#4ac6ca" stroke="none" stroke-width="1" />
<circle cx="716.50" cy="387.72" r="1.9" fill="#4ac6ca" stroke="none" stroke-width="1" />
<circle cx="720.75" cy="380.36" r="1.9" fill="#4ac6ca" stroke="none" stroke-width="1" />
<circle cx="729.25" cy="380.36" r="1.9" fill="#4ac6ca" stroke="none" stroke-width="1" />
<circle cx="733.50" cy="373.00" r="1.9" fill="#4ac6ca" stroke="none" stroke-width="1" />
<circle cx="742.00" cy="373.00" r="1.9" fill="#4ac6ca" stroke="none" stroke-width="1" />
<circle cx="746.25" cy="365.64" r="1.9" fill="#4ac6ca" stroke="none" stroke-width="1" />
<circle cx="754.75" cy="365.64" r="1.9" fill="#4ac6ca" stroke="none" stroke-width="1" />
<circle cx="759.00" cy="358.28" r="1.9" fill="#4ac6ca" stroke="none" stroke-width="1" />
<circle cx="708.00" cy="402.44" r="1.9" fill="#4ac6ca" stroke="none" stroke-width="1" />
<circle cx="716.50" cy="402.44" r="1.9" fill="#4ac6ca" stroke="none" stroke-width="1" />
<circle cx="720.75" cy="395.08" r="1.9" fill="#4ac6ca" stroke="none" stroke-width="1" />
<circle cx="729.25" cy="395.08" r="1.9" fill="#4ac6ca" stroke="none" stroke-width="1" />
<circle cx="733.50" cy="387.72" r="1.9" fill="#4ac6ca" stroke="none" stroke-width="1" />
<circle cx="742.00" cy="387.72" r="1.9" fill="#4ac6ca" stroke="none" stroke-width="1" />
<circle cx="746.25" cy="380.36" r="1.9" fill="#4ac6ca" stroke="none" stroke-width="1" />
<circle cx="754.75" cy="380.36" r="1.9" fill="#4ac6ca" stroke="none" stroke-width="1" />
<circle cx="759.00" cy="373.00" r="1.9" fill="#4ac6ca" stroke="none" stroke-width="1" />
<circle cx="720.75" cy="409.81" r="1.9" fill="#4ac6ca" stroke="none" stroke-width="1" />
<circle cx="729.25" cy="409.81" r="1.9" fill="#4ac6ca" stroke="none" stroke-width="1" />
<circle cx="733.50" cy="402.44" r="1.9" fill="#4ac6ca" stroke="none" stroke-width="1" />
<circle cx="742.00" cy="402.44" r="1.9" fill="#4ac6ca" stroke="none" stroke-width="1" />
<circle cx="746.25" cy="395.08" r="1.9" fill="#4ac6ca" stroke="none" stroke-width="1" />
<circle cx="754.75" cy="395.08" r="1.9" fill="#4ac6ca" stroke="none" stroke-width="1" />
<circle cx="759.00" cy="387.72" r="1.9" fill="#4ac6ca" stroke="none" stroke-width="1" />
<ellipse cx="703.0" cy="339.0" rx="6.0" ry="3.8" fill="url(#lobR)" transform="rotate(10 703.0 339.0)"/>
<ellipse cx="699.0" cy="348.0" rx="4.8" ry="3.1" fill="url(#lobB)" transform="rotate(20 699.0 348.0)"/>
<ellipse cx="689.0" cy="360.0" rx="4.1" ry="4.3" fill="url(#lobR)" transform="rotate(0 689.0 360.0)"/>
<ellipse cx="690.0" cy="380.0" rx="3.1" ry="3.1" fill="url(#lobB)" transform="rotate(0 690.0 380.0)"/>
<ellipse cx="727.0" cy="348.0" rx="9.6" ry="4.3" fill="url(#lobB)" transform="rotate(0 727.0 348.0)"/>
<ellipse cx="727.0" cy="343.0" rx="8.4" ry="2.6" fill="url(#lobR)" transform="rotate(0 727.0 343.0)"/>
<ellipse cx="748.0" cy="339.0" rx="5.5" ry="3.8" fill="url(#lobR)" transform="rotate(-10 748.0 339.0)"/>
<ellipse cx="754.0" cy="350.0" rx="4.6" ry="2.9" fill="url(#lobB)" transform="rotate(-20 754.0 350.0)"/>
<ellipse cx="764.0" cy="360.0" rx="3.4" ry="4.3" fill="url(#lobR)" transform="rotate(0 764.0 360.0)"/>
<ellipse cx="764.0" cy="378.0" rx="2.6" ry="2.9" fill="url(#lobB)" transform="rotate(0 764.0 378.0)"/>
<ellipse cx="715.0" cy="358.0" rx="3.1" ry="3.1" fill="url(#lobR)" transform="rotate(0 715.0 358.0)"/>
<ellipse cx="736.0" cy="358.0" rx="3.1" ry="3.1" fill="url(#lobR)" transform="rotate(0 736.0 358.0)"/>
<line x1="729.00" y1="372.00" x2="722.00" y2="368.00" stroke="#2030d0" stroke-width="0.8" />
<line x1="729.00" y1="372.00" x2="737.00" y2="367.00" stroke="#2030d0" stroke-width="0.8" />
<line x1="729.00" y1="372.00" x2="726.00" y2="380.00" stroke="#2030d0" stroke-width="0.8" />
<line x1="729.00" y1="372.00" x2="739.00" y2="378.00" stroke="#2030d0" stroke-width="0.8" />
<line x1="730.00" y1="373.00" x2="720.00" y2="372.00" stroke="#e01818" stroke-width="0.9" />
<circle cx="720.00" cy="372.00" r="1.9" fill="#e81818" stroke="#900" stroke-width="0.3" />
<line x1="730.00" y1="373.00" x2="733.00" y2="366.00" stroke="#e01818" stroke-width="0.9" />
<circle cx="733.00" cy="366.00" r="1.9" fill="#e81818" stroke="#900" stroke-width="0.3" />
<line x1="730.00" y1="373.00" x2="736.00" y2="379.00" stroke="#e01818" stroke-width="0.9" />
<circle cx="736.00" cy="379.00" r="1.9" fill="#e81818" stroke="#900" stroke-width="0.3" />
<line x1="730.00" y1="373.00" x2="730.00" y2="384.00" stroke="#e01818" stroke-width="0.9" />
<circle cx="730.00" cy="384.00" r="1.9" fill="#e81818" stroke="#900" stroke-width="0.3" />
<line x1="730.00" y1="373.00" x2="726.00" y2="390.00" stroke="#e01818" stroke-width="0.9" />
<circle cx="726.00" cy="390.00" r="1.9" fill="#e81818" stroke="#900" stroke-width="0.3" />
<circle cx="729.00" cy="372.00" r="2.6" fill="#e8d820" stroke="#a09010" stroke-width="0.3" />
<g stroke="#2b9a9e" stroke-width="1.5" stroke-linecap="round">
<line x1="865.5" y1="352.4" x2="870.5" y2="345.9"/>
<line x1="865.5" y1="352.4" x2="868.6" y2="360.0"/>
<line x1="870.5" y1="345.9" x2="878.7" y2="347.1"/>
<line x1="878.7" y1="347.1" x2="883.7" y2="340.6"/>
<line x1="878.7" y1="347.1" x2="881.7" y2="354.7"/>
<line x1="883.7" y1="340.6" x2="891.8" y2="341.7"/>
<line x1="891.8" y1="341.7" x2="896.9" y2="335.3"/>
<line x1="891.8" y1="341.7" x2="894.9" y2="349.3"/>
<line x1="896.9" y1="335.3" x2="905.0" y2="336.4"/>
<line x1="905.0" y1="336.4" x2="908.1" y2="344.0"/>
<line x1="863.5" y1="366.4" x2="868.6" y2="360.0"/>
<line x1="863.5" y1="366.4" x2="866.6" y2="374.0"/>
<line x1="868.6" y1="360.0" x2="876.7" y2="361.1"/>
<line x1="876.7" y1="361.1" x2="881.7" y2="354.7"/>
<line x1="876.7" y1="361.1" x2="879.8" y2="368.7"/>
<line x1="881.7" y1="354.7" x2="889.9" y2="355.8"/>
<line x1="889.9" y1="355.8" x2="894.9" y2="349.3"/>
<line x1="889.9" y1="355.8" x2="892.9" y2="363.4"/>
<line x1="894.9" y1="349.3" x2="903.0" y2="350.5"/>
<line x1="903.0" y1="350.5" x2="908.1" y2="344.0"/>
<line x1="903.0" y1="350.5" x2="906.1" y2="358.1"/>
<line x1="908.1" y1="344.0" x2="916.2" y2="345.2"/>
<line x1="916.2" y1="345.2" x2="919.3" y2="352.8"/>
<line x1="861.5" y1="380.5" x2="866.6" y2="374.0"/>
<line x1="861.5" y1="380.5" x2="864.6" y2="388.1"/>
<line x1="866.6" y1="374.0" x2="874.7" y2="375.2"/>
<line x1="874.7" y1="375.2" x2="879.8" y2="368.7"/>
<line x1="874.7" y1="375.2" x2="877.8" y2="382.8"/>
<line x1="879.8" y1="368.7" x2="887.9" y2="369.9"/>
<line x1="887.9" y1="369.9" x2="892.9" y2="363.4"/>
<line x1="887.9" y1="369.9" x2="891.0" y2="377.5"/>
<line x1="892.9" y1="363.4" x2="901.0" y2="364.5"/>
<line x1="901.0" y1="364.5" x2="906.1" y2="358.1"/>
<line x1="901.0" y1="364.5" x2="904.1" y2="372.1"/>
<line x1="906.1" y1="358.1" x2="914.2" y2="359.2"/>
<line x1="914.2" y1="359.2" x2="919.3" y2="352.8"/>
<line x1="914.2" y1="359.2" x2="917.3" y2="366.8"/>
<line x1="919.3" y1="352.8" x2="927.4" y2="353.9"/>
<line x1="927.4" y1="353.9" x2="930.5" y2="361.5"/>
<line x1="864.6" y1="388.1" x2="872.7" y2="389.2"/>
<line x1="872.7" y1="389.2" x2="877.8" y2="382.8"/>
<line x1="872.7" y1="389.2" x2="875.8" y2="396.8"/>
<line x1="877.8" y1="382.8" x2="885.9" y2="383.9"/>
<line x1="885.9" y1="383.9" x2="891.0" y2="377.5"/>
<line x1="885.9" y1="383.9" x2="889.0" y2="391.5"/>
<line x1="891.0" y1="377.5" x2="899.1" y2="378.6"/>
<line x1="899.1" y1="378.6" x2="904.1" y2="372.1"/>
<line x1="899.1" y1="378.6" x2="902.1" y2="386.2"/>
<line x1="904.1" y1="372.1" x2="912.2" y2="373.3"/>
<line x1="912.2" y1="373.3" x2="917.3" y2="366.8"/>
<line x1="912.2" y1="373.3" x2="915.3" y2="380.9"/>
<line x1="917.3" y1="366.8" x2="925.4" y2="368.0"/>
<line x1="925.4" y1="368.0" x2="930.5" y2="361.5"/>
<line x1="925.4" y1="368.0" x2="928.5" y2="375.6"/>
<line x1="875.8" y1="396.8" x2="883.9" y2="398.0"/>
<line x1="883.9" y1="398.0" x2="889.0" y2="391.5"/>
<line x1="883.9" y1="398.0" x2="887.0" y2="405.6"/>
<line x1="889.0" y1="391.5" x2="897.1" y2="392.7"/>
<line x1="897.1" y1="392.7" x2="902.1" y2="386.2"/>
<line x1="897.1" y1="392.7" x2="900.2" y2="400.3"/>
<line x1="902.1" y1="386.2" x2="910.3" y2="387.3"/>
<line x1="910.3" y1="387.3" x2="915.3" y2="380.9"/>
<line x1="910.3" y1="387.3" x2="913.3" y2="394.9"/>
<line x1="915.3" y1="380.9" x2="923.4" y2="382.0"/>
<line x1="923.4" y1="382.0" x2="928.5" y2="375.6"/>
<line x1="923.4" y1="382.0" x2="926.5" y2="389.6"/>
<line x1="887.0" y1="405.6" x2="895.1" y2="406.7"/>
<line x1="895.1" y1="406.7" x2="900.2" y2="400.3"/>
<line x1="900.2" y1="400.3" x2="908.3" y2="401.4"/>
<line x1="908.3" y1="401.4" x2="913.3" y2="394.9"/>
<line x1="913.3" y1="394.9" x2="921.5" y2="396.1"/>
<line x1="921.5" y1="396.1" x2="926.5" y2="389.6"/>
</g>
<line x1="865.5" y1="352.4" x2="862.5" y2="350.5" stroke="#9ab" stroke-width="0.7"/>
<circle cx="862.08" cy="350.29" r="0.9" fill="#e4e4e4" stroke="#aaa" stroke-width="0.3" />
<line x1="870.5" y1="345.9" x2="868.1" y2="343.5" stroke="#9ab" stroke-width="0.7"/>
<circle cx="867.70" cy="343.10" r="0.9" fill="#e4e4e4" stroke="#aaa" stroke-width="0.3" />
<line x1="896.9" y1="335.3" x2="897.0" y2="331.8" stroke="#9ab" stroke-width="0.7"/>
<circle cx="896.98" cy="331.27" r="0.9" fill="#e4e4e4" stroke="#aaa" stroke-width="0.3" />
<line x1="905.0" y1="336.4" x2="905.9" y2="333.0" stroke="#9ab" stroke-width="0.7"/>
<circle cx="906.01" cy="332.54" r="0.9" fill="#e4e4e4" stroke="#aaa" stroke-width="0.3" />
<line x1="861.5" y1="380.5" x2="858.2" y2="381.4" stroke="#9ab" stroke-width="0.7"/>
<circle cx="857.69" cy="381.56" r="0.9" fill="#e4e4e4" stroke="#aaa" stroke-width="0.3" />
<line x1="927.4" y1="353.9" x2="930.5" y2="352.2" stroke="#9ab" stroke-width="0.7"/>
<circle cx="930.90" cy="351.98" r="0.9" fill="#e4e4e4" stroke="#aaa" stroke-width="0.3" />
<line x1="864.6" y1="388.1" x2="861.5" y2="389.8" stroke="#9ab" stroke-width="0.7"/>
<circle cx="861.10" cy="390.02" r="0.9" fill="#e4e4e4" stroke="#aaa" stroke-width="0.3" />
<line x1="930.5" y1="361.5" x2="933.8" y2="360.6" stroke="#9ab" stroke-width="0.7"/>
<circle cx="934.31" cy="360.44" r="0.9" fill="#e4e4e4" stroke="#aaa" stroke-width="0.3" />
<line x1="887.0" y1="405.6" x2="886.1" y2="409.0" stroke="#9ab" stroke-width="0.7"/>
<circle cx="885.99" cy="409.46" r="0.9" fill="#e4e4e4" stroke="#aaa" stroke-width="0.3" />
<line x1="895.1" y1="406.7" x2="895.0" y2="410.2" stroke="#9ab" stroke-width="0.7"/>
<circle cx="895.02" cy="410.73" r="0.9" fill="#e4e4e4" stroke="#aaa" stroke-width="0.3" />
<line x1="921.5" y1="396.1" x2="923.9" y2="398.5" stroke="#9ab" stroke-width="0.7"/>
<circle cx="924.30" cy="398.90" r="0.9" fill="#e4e4e4" stroke="#aaa" stroke-width="0.3" />
<line x1="926.5" y1="389.6" x2="929.5" y2="391.5" stroke="#9ab" stroke-width="0.7"/>
<circle cx="929.92" cy="391.71" r="0.9" fill="#e4e4e4" stroke="#aaa" stroke-width="0.3" />
<circle cx="865.50" cy="352.37" r="1.9" fill="#4ac6ca" stroke="none" stroke-width="1" />
<circle cx="870.54" cy="345.91" r="1.9" fill="#4ac6ca" stroke="none" stroke-width="1" />
<circle cx="878.66" cy="347.05" r="1.9" fill="#4ac6ca" stroke="none" stroke-width="1" />
<circle cx="883.71" cy="340.59" r="1.9" fill="#4ac6ca" stroke="none" stroke-width="1" />
<circle cx="891.83" cy="341.73" r="1.9" fill="#4ac6ca" stroke="none" stroke-width="1" />
<circle cx="896.88" cy="335.27" r="1.9" fill="#4ac6ca" stroke="none" stroke-width="1" />
<circle cx="905.00" cy="336.41" r="1.9" fill="#4ac6ca" stroke="none" stroke-width="1" />
<circle cx="863.52" cy="366.44" r="1.9" fill="#4ac6ca" stroke="none" stroke-width="1" />
<circle cx="868.57" cy="359.97" r="1.9" fill="#4ac6ca" stroke="none" stroke-width="1" />
<circle cx="876.69" cy="361.11" r="1.9" fill="#4ac6ca" stroke="none" stroke-width="1" />
<circle cx="881.74" cy="354.65" r="1.9" fill="#4ac6ca" stroke="none" stroke-width="1" />
<circle cx="889.86" cy="355.79" r="1.9" fill="#4ac6ca" stroke="none" stroke-width="1" />
<circle cx="894.90" cy="349.33" r="1.9" fill="#4ac6ca" stroke="none" stroke-width="1" />
<circle cx="903.03" cy="350.47" r="1.9" fill="#4ac6ca" stroke="none" stroke-width="1" />
<circle cx="908.07" cy="344.01" r="1.9" fill="#4ac6ca" stroke="none" stroke-width="1" />
<circle cx="916.19" cy="345.15" r="1.9" fill="#4ac6ca" stroke="none" stroke-width="1" />
<circle cx="861.54" cy="380.50" r="1.9" fill="#4ac6ca" stroke="none" stroke-width="1" />
<circle cx="866.59" cy="374.04" r="1.9" fill="#4ac6ca" stroke="none" stroke-width="1" />
<circle cx="874.71" cy="375.18" r="1.9" fill="#4ac6ca" stroke="none" stroke-width="1" />
<circle cx="879.76" cy="368.72" r="1.9" fill="#4ac6ca" stroke="none" stroke-width="1" />
<circle cx="887.88" cy="369.86" r="1.9" fill="#4ac6ca" stroke="none" stroke-width="1" />
<circle cx="892.93" cy="363.40" r="1.9" fill="#4ac6ca" stroke="none" stroke-width="1" />
<circle cx="901.05" cy="364.54" r="1.9" fill="#4ac6ca" stroke="none" stroke-width="1" />
<circle cx="906.10" cy="358.08" r="1.9" fill="#4ac6ca" stroke="none" stroke-width="1" />
<circle cx="914.22" cy="359.22" r="1.9" fill="#4ac6ca" stroke="none" stroke-width="1" />
<circle cx="919.27" cy="352.76" r="1.9" fill="#4ac6ca" stroke="none" stroke-width="1" />
<circle cx="927.39" cy="353.90" r="1.9" fill="#4ac6ca" stroke="none" stroke-width="1" />
<circle cx="864.61" cy="388.10" r="1.9" fill="#4ac6ca" stroke="none" stroke-width="1" />
<circle cx="872.73" cy="389.24" r="1.9" fill="#4ac6ca" stroke="none" stroke-width="1" />
<circle cx="877.78" cy="382.78" r="1.9" fill="#4ac6ca" stroke="none" stroke-width="1" />
<circle cx="885.90" cy="383.92" r="1.9" fill="#4ac6ca" stroke="none" stroke-width="1" />
<circle cx="890.95" cy="377.46" r="1.9" fill="#4ac6ca" stroke="none" stroke-width="1" />
<circle cx="899.07" cy="378.60" r="1.9" fill="#4ac6ca" stroke="none" stroke-width="1" />
<circle cx="904.12" cy="372.14" r="1.9" fill="#4ac6ca" stroke="none" stroke-width="1" />
<circle cx="912.24" cy="373.28" r="1.9" fill="#4ac6ca" stroke="none" stroke-width="1" />
<circle cx="917.29" cy="366.82" r="1.9" fill="#4ac6ca" stroke="none" stroke-width="1" />
<circle cx="925.41" cy="367.96" r="1.9" fill="#4ac6ca" stroke="none" stroke-width="1" />
<circle cx="930.46" cy="361.50" r="1.9" fill="#4ac6ca" stroke="none" stroke-width="1" />
<circle cx="875.81" cy="396.85" r="1.9" fill="#4ac6ca" stroke="none" stroke-width="1" />
<circle cx="883.93" cy="397.99" r="1.9" fill="#4ac6ca" stroke="none" stroke-width="1" />
<circle cx="888.97" cy="391.53" r="1.9" fill="#4ac6ca" stroke="none" stroke-width="1" />
<circle cx="897.10" cy="392.67" r="1.9" fill="#4ac6ca" stroke="none" stroke-width="1" />
<circle cx="902.14" cy="386.21" r="1.9" fill="#4ac6ca" stroke="none" stroke-width="1" />
<circle cx="910.26" cy="387.35" r="1.9" fill="#4ac6ca" stroke="none" stroke-width="1" />
<circle cx="915.31" cy="380.89" r="1.9" fill="#4ac6ca" stroke="none" stroke-width="1" />
<circle cx="923.43" cy="382.03" r="1.9" fill="#4ac6ca" stroke="none" stroke-width="1" />
<circle cx="928.48" cy="375.56" r="1.9" fill="#4ac6ca" stroke="none" stroke-width="1" />
<circle cx="887.00" cy="405.59" r="1.9" fill="#4ac6ca" stroke="none" stroke-width="1" />
<circle cx="895.12" cy="406.73" r="1.9" fill="#4ac6ca" stroke="none" stroke-width="1" />
<circle cx="900.17" cy="400.27" r="1.9" fill="#4ac6ca" stroke="none" stroke-width="1" />
<circle cx="908.29" cy="401.41" r="1.9" fill="#4ac6ca" stroke="none" stroke-width="1" />
<circle cx="913.34" cy="394.95" r="1.9" fill="#4ac6ca" stroke="none" stroke-width="1" />
<circle cx="921.46" cy="396.09" r="1.9" fill="#4ac6ca" stroke="none" stroke-width="1" />
<circle cx="926.50" cy="389.63" r="1.9" fill="#4ac6ca" stroke="none" stroke-width="1" />
<ellipse cx="908.0" cy="338.0" rx="2.9" ry="3.1" fill="url(#lobR)" transform="rotate(0 908.0 338.0)"/>
<ellipse cx="917.0" cy="342.0" rx="2.2" ry="2.4" fill="url(#lobB)" transform="rotate(0 917.0 342.0)"/>
<ellipse cx="923.0" cy="355.0" rx="4.3" ry="3.8" fill="url(#lobR)" transform="rotate(0 923.0 355.0)"/>
<ellipse cx="909.0" cy="357.0" rx="2.9" ry="3.4" fill="url(#lobR)" transform="rotate(0 909.0 357.0)"/>
<ellipse cx="909.0" cy="365.0" rx="3.1" ry="3.4" fill="url(#lobR)" transform="rotate(0 909.0 365.0)"/>
<ellipse cx="862.0" cy="374.0" rx="2.6" ry="3.1" fill="url(#lobR)" transform="rotate(0 862.0 374.0)"/>
<ellipse cx="862.0" cy="388.0" rx="2.9" ry="3.6" fill="url(#lobR)" transform="rotate(0 862.0 388.0)"/>
<ellipse cx="856.0" cy="375.0" rx="1.9" ry="2.2" fill="url(#lobB)" transform="rotate(0 856.0 375.0)"/>
<ellipse cx="916.0" cy="376.0" rx="2.2" ry="2.4" fill="url(#lobB)" transform="rotate(0 916.0 376.0)"/>
<ellipse cx="923.0" cy="381.0" rx="2.4" ry="2.9" fill="url(#lobR)" transform="rotate(0 923.0 381.0)"/>
<ellipse cx="930.0" cy="368.0" rx="2.2" ry="2.2" fill="url(#lobB)" transform="rotate(0 930.0 368.0)"/>
<ellipse cx="885.0" cy="398.0" rx="2.2" ry="2.4" fill="url(#lobR)" transform="rotate(0 885.0 398.0)"/>
<ellipse cx="913.0" cy="392.0" rx="2.2" ry="2.4" fill="url(#lobB)" transform="rotate(0 913.0 392.0)"/>
<line x1="897.00" y1="380.00" x2="890.00" y2="376.00" stroke="#2030d0" stroke-width="0.8" />
<line x1="897.00" y1="380.00" x2="905.00" y2="375.00" stroke="#2030d0" stroke-width="0.8" />
<line x1="897.00" y1="380.00" x2="894.00" y2="388.00" stroke="#2030d0" stroke-width="0.8" />
<line x1="897.00" y1="380.00" x2="907.00" y2="386.00" stroke="#2030d0" stroke-width="0.8" />
<line x1="898.00" y1="381.00" x2="888.00" y2="380.00" stroke="#e01818" stroke-width="0.9" />
<circle cx="888.00" cy="380.00" r="1.9" fill="#e81818" stroke="#900" stroke-width="0.3" />
<line x1="898.00" y1="381.00" x2="901.00" y2="374.00" stroke="#e01818" stroke-width="0.9" />
<circle cx="901.00" cy="374.00" r="1.9" fill="#e81818" stroke="#900" stroke-width="0.3" />
<line x1="898.00" y1="381.00" x2="904.00" y2="387.00" stroke="#e01818" stroke-width="0.9" />
<circle cx="904.00" cy="387.00" r="1.9" fill="#e81818" stroke="#900" stroke-width="0.3" />
<line x1="898.00" y1="381.00" x2="898.00" y2="392.00" stroke="#e01818" stroke-width="0.9" />
<circle cx="898.00" cy="392.00" r="1.9" fill="#e81818" stroke="#900" stroke-width="0.3" />
<line x1="898.00" y1="381.00" x2="894.00" y2="398.00" stroke="#e01818" stroke-width="0.9" />
<circle cx="894.00" cy="398.00" r="1.9" fill="#e81818" stroke="#900" stroke-width="0.3" />
<circle cx="897.00" cy="380.00" r="2.6" fill="#e8d820" stroke="#a09010" stroke-width="0.3" />
<circle cx="473.17" cy="565.17" r="0.9" fill="#49c5c9" stroke="none" stroke-width="1" />
<circle cx="474.87" cy="565.03" r="0.55" fill="#d8d8d8" stroke="#999" stroke-width="0.2" />
<line x1="473.17" y1="565.17" x2="472.54" y2="563.80" stroke="#3fb8ba" stroke-width="0.9" stroke-linecap="round"/>
<circle cx="472.54" cy="563.80" r="0.9" fill="#49c5c9" stroke="none" stroke-width="1" />
<circle cx="486.97" cy="567.51" r="0.9" fill="#49c5c9" stroke="none" stroke-width="1" />
<circle cx="474.91" cy="560.69" r="0.9" fill="#49c5c9" stroke="none" stroke-width="1" />
<circle cx="473.29" cy="559.91" r="0.55" fill="#d8d8d8" stroke="#999" stroke-width="0.2" />
<circle cx="493.02" cy="566.47" r="0.9" fill="#49c5c9" stroke="none" stroke-width="1" />
<circle cx="481.05" cy="561.98" r="0.9" fill="#49c5c9" stroke="none" stroke-width="1" />
<circle cx="495.72" cy="563.45" r="0.9" fill="#49c5c9" stroke="none" stroke-width="1" />
<circle cx="496.34" cy="563.91" r="0.55" fill="#d8d8d8" stroke="#999" stroke-width="0.2" />
<circle cx="485.88" cy="565.69" r="0.9" fill="#49c5c9" stroke="none" stroke-width="1" />
<circle cx="477.27" cy="563.60" r="0.9" fill="#49c5c9" stroke="none" stroke-width="1" />
<line x1="469.00" y1="559.00" x2="476.00" y2="565.00" stroke="#3fb8ba" stroke-width="1.1" stroke-linecap="round"/>
<line x1="476.00" y1="565.00" x2="484.00" y2="569.00" stroke="#3fb8ba" stroke-width="1.1" stroke-linecap="round"/>
<line x1="484.00" y1="569.00" x2="492.00" y2="566.00" stroke="#3fb8ba" stroke-width="1.1" stroke-linecap="round"/>
<line x1="492.00" y1="566.00" x2="497.00" y2="563.00" stroke="#3fb8ba" stroke-width="1.1" stroke-linecap="round"/>
<ellipse cx="471.0" cy="558.0" rx="2.5" ry="2.5" fill="url(#lobB)" transform="rotate(0 471.0 558.0)"/>
<ellipse cx="474.0" cy="561.0" rx="3.2" ry="2.8" fill="url(#lobR)" transform="rotate(0 474.0 561.0)"/>
<ellipse cx="478.0" cy="565.5" rx="2.5" ry="2.2" fill="url(#lobR)" transform="rotate(0 478.0 565.5)"/>
<ellipse cx="481.0" cy="567.5" rx="2.2" ry="2.2" fill="url(#lobB)" transform="rotate(0 481.0 567.5)"/>
<ellipse cx="487.0" cy="564.5" rx="3.0" ry="3.0" fill="url(#lobB)" transform="rotate(0 487.0 564.5)"/>
<ellipse cx="490.5" cy="563.5" rx="2.5" ry="2.8" fill="url(#lobR)" transform="rotate(0 490.5 563.5)"/>
<ellipse cx="495.0" cy="560.5" rx="2.2" ry="2.2" fill="url(#lobB)" transform="rotate(0 495.0 560.5)"/>
<ellipse cx="469.0" cy="555.5" rx="1.9" ry="1.9" fill="url(#lobR)" transform="rotate(0 469.0 555.5)"/>
<line x1="504.00" y1="569.00" x2="510.00" y2="565.00" stroke="#3fb8ba" stroke-width="1.1" stroke-linecap="round"/>
<line x1="510.00" y1="565.00" x2="516.00" y2="562.00" stroke="#3fb8ba" stroke-width="1.1" stroke-linecap="round"/>
<ellipse cx="520.0" cy="560.0" rx="3.8" ry="7.5" fill="url(#lobB)" transform="rotate(30 520.0 560.0)"/>
<ellipse cx="526.0" cy="558.0" rx="3.2" ry="7.5" fill="url(#lobR)" transform="rotate(30 526.0 558.0)"/>
<ellipse cx="531.5" cy="554.0" rx="2.1" ry="2.1" fill="url(#lobB)" transform="rotate(0 531.5 554.0)"/>
<ellipse cx="511.0" cy="566.0" rx="3.0" ry="2.2" fill="url(#lobR)" transform="rotate(20 511.0 566.0)"/>
<ellipse cx="506.0" cy="561.0" rx="1.5" ry="1.5" fill="url(#lobB)" transform="rotate(0 506.0 561.0)"/>
<circle cx="552.42" cy="573.54" r="0.9" fill="#49c5c9" stroke="none" stroke-width="1" />
<circle cx="553.16" cy="574.94" r="0.55" fill="#d8d8d8" stroke="#999" stroke-width="0.2" />
<line x1="552.42" y1="573.54" x2="555.77" y2="570.41" stroke="#3fb8ba" stroke-width="0.9" stroke-linecap="round"/>
<circle cx="555.77" cy="570.41" r="0.9" fill="#49c5c9" stroke="none" stroke-width="1" />
<line x1="555.77" y1="570.41" x2="557.22" y2="569.66" stroke="#3fb8ba" stroke-width="0.9" stroke-linecap="round"/>
<circle cx="557.22" cy="569.66" r="0.9" fill="#49c5c9" stroke="none" stroke-width="1" />
<circle cx="552.39" cy="559.92" r="0.9" fill="#49c5c9" stroke="none" stroke-width="1" />
<circle cx="552.51" cy="558.78" r="0.55" fill="#d8d8d8" stroke="#999" stroke-width="0.2" />
<circle cx="550.61" cy="571.91" r="0.9" fill="#49c5c9" stroke="none" stroke-width="1" />
<circle cx="558.13" cy="558.04" r="0.9" fill="#49c5c9" stroke="none" stroke-width="1" />
<circle cx="560.41" cy="565.56" r="0.9" fill="#49c5c9" stroke="none" stroke-width="1" />
<circle cx="559.00" cy="567.05" r="0.55" fill="#d8d8d8" stroke="#999" stroke-width="0.2" />
<circle cx="557.02" cy="556.50" r="0.9" fill="#49c5c9" stroke="none" stroke-width="1" />
<line x1="539.00" y1="577.00" x2="545.00" y2="569.00" stroke="#3fb8ba" stroke-width="1.1" stroke-linecap="round"/>
<line x1="545.00" y1="569.00" x2="553.00" y2="561.00" stroke="#3fb8ba" stroke-width="1.1" stroke-linecap="round"/>
<line x1="553.00" y1="561.00" x2="565.00" y2="553.00" stroke="#3fb8ba" stroke-width="1.1" stroke-linecap="round"/>
<ellipse cx="547.0" cy="567.0" rx="2.2" ry="5.0" fill="url(#lobR)" transform="rotate(30 547.0 567.0)"/>
<ellipse cx="551.0" cy="559.0" rx="2.0" ry="3.2" fill="url(#lobB)" transform="rotate(0 551.0 559.0)"/>
<ellipse cx="561.0" cy="560.0" rx="2.5" ry="5.0" fill="url(#lobR)" transform="rotate(10 561.0 560.0)"/>
<ellipse cx="555.0" cy="571.0" rx="2.2" ry="2.2" fill="url(#lobB)" transform="rotate(0 555.0 571.0)"/>
<ellipse cx="565.0" cy="555.0" rx="1.6" ry="1.6" fill="url(#lobB)" transform="rotate(0 565.0 555.0)"/>
<circle cx="585.04" cy="564.69" r="0.9" fill="#49c5c9" stroke="none" stroke-width="1" />
<circle cx="586.22" cy="566.46" r="0.55" fill="#d8d8d8" stroke="#999" stroke-width="0.2" />
<line x1="585.04" y1="564.69" x2="591.32" y2="562.25" stroke="#3fb8ba" stroke-width="0.9" stroke-linecap="round"/>
<circle cx="591.32" cy="562.25" r="0.9" fill="#49c5c9" stroke="none" stroke-width="1" />
<circle cx="599.99" cy="569.94" r="0.9" fill="#49c5c9" stroke="none" stroke-width="1" />
<line x1="599.99" y1="569.94" x2="600.64" y2="566.96" stroke="#3fb8ba" stroke-width="0.9" stroke-linecap="round"/>
<circle cx="600.64" cy="566.96" r="0.9" fill="#49c5c9" stroke="none" stroke-width="1" />
<circle cx="602.24" cy="565.41" r="0.55" fill="#d8d8d8" stroke="#999" stroke-width="0.2" />
<circle cx="585.53" cy="569.81" r="0.9" fill="#49c5c9" stroke="none" stroke-width="1" />
<line x1="585.53" y1="569.81" x2="583.54" y2="567.48" stroke="#3fb8ba" stroke-width="0.9" stroke-linecap="round"/>
<circle cx="583.54" cy="567.48" r="0.9" fill="#49c5c9" stroke="none" stroke-width="1" />
<circle cx="598.34" cy="569.33" r="0.9" fill="#49c5c9" stroke="none" stroke-width="1" />
<circle cx="597.46" cy="571.00" r="0.55" fill="#d8d8d8" stroke="#999" stroke-width="0.2" />
<circle cx="592.58" cy="565.28" r="0.9" fill="#49c5c9" stroke="none" stroke-width="1" />
<line x1="592.58" y1="565.28" x2="593.66" y2="565.53" stroke="#3fb8ba" stroke-width="0.9" stroke-linecap="round"/>
<circle cx="593.66" cy="565.53" r="0.9" fill="#49c5c9" stroke="none" stroke-width="1" />
<line x1="593.66" y1="565.53" x2="587.87" y2="566.61" stroke="#3fb8ba" stroke-width="0.9" stroke-linecap="round"/>
<circle cx="587.87" cy="566.61" r="0.9" fill="#49c5c9" stroke="none" stroke-width="1" />
<circle cx="585.88" cy="568.10" r="0.55" fill="#d8d8d8" stroke="#999" stroke-width="0.2" />
<ellipse cx="585.0" cy="564.0" rx="4.0" ry="3.8" fill="url(#lobR)" transform="rotate(0 585.0 564.0)"/>
<ellipse cx="599.0" cy="563.0" rx="2.8" ry="3.2" fill="url(#lobB)" transform="rotate(0 599.0 563.0)"/>
<ellipse cx="597.0" cy="570.0" rx="3.2" ry="2.8" fill="url(#lobR)" transform="rotate(0 597.0 570.0)"/>
<ellipse cx="584.0" cy="572.0" rx="2.5" ry="2.5" fill="url(#lobB)" transform="rotate(0 584.0 572.0)"/>
<line x1="582.00" y1="573.00" x2="602.00" y2="573.00" stroke="#3fb8ba" stroke-width="1.1" stroke-linecap="round"/>
<line x1="586.00" y1="563.00" x2="598.00" y2="563.00" stroke="#3fb8ba" stroke-width="1.1" stroke-linecap="round"/>
<ellipse cx="592.0" cy="560.0" rx="7.5" ry="3.0" fill="url(#lobR)" transform="rotate(0 592.0 560.0)"/>
<ellipse cx="592.0" cy="563.5" rx="7.0" ry="2.5" fill="url(#lobB)" transform="rotate(0 592.0 563.5)"/>
<ellipse cx="584.0" cy="568.0" rx="3.8" ry="3.2" fill="url(#lobR)" transform="rotate(0 584.0 568.0)"/>
<ellipse cx="596.0" cy="569.0" rx="3.0" ry="2.8" fill="url(#lobB)" transform="rotate(0 596.0 569.0)"/>
<ellipse cx="601.0" cy="566.0" rx="2.8" ry="2.8" fill="url(#lobR)" transform="rotate(0 601.0 566.0)"/>
<ellipse cx="589.0" cy="573.0" rx="2.0" ry="2.0" fill="url(#lobB)" transform="rotate(0 589.0 573.0)"/>
<ellipse cx="594.0" cy="576.0" rx="1.8" ry="1.8" fill="url(#lobR)" transform="rotate(0 594.0 576.0)"/>
<circle cx="630.17" cy="574.30" r="0.9" fill="#49c5c9" stroke="none" stroke-width="1" />
<circle cx="630.77" cy="572.59" r="0.55" fill="#d8d8d8" stroke="#999" stroke-width="0.2" />
<line x1="630.17" y1="574.30" x2="625.06" y2="569.94" stroke="#3fb8ba" stroke-width="0.9" stroke-linecap="round"/>
<circle cx="625.06" cy="569.94" r="0.9" fill="#49c5c9" stroke="none" stroke-width="1" />
<circle cx="641.55" cy="572.90" r="0.9" fill="#49c5c9" stroke="none" stroke-width="1" />
<line x1="641.55" y1="572.90" x2="641.40" y2="572.18" stroke="#3fb8ba" stroke-width="0.9" stroke-linecap="round"/>
<circle cx="641.40" cy="572.18" r="0.9" fill="#49c5c9" stroke="none" stroke-width="1" />
<circle cx="639.68" cy="570.54" r="0.55" fill="#d8d8d8" stroke="#999" stroke-width="0.2" />
<circle cx="623.14" cy="573.95" r="0.9" fill="#49c5c9" stroke="none" stroke-width="1" />
<circle cx="637.98" cy="573.86" r="0.9" fill="#49c5c9" stroke="none" stroke-width="1" />
<circle cx="624.83" cy="566.09" r="0.9" fill="#49c5c9" stroke="none" stroke-width="1" />
<circle cx="625.14" cy="565.68" r="0.55" fill="#d8d8d8" stroke="#999" stroke-width="0.2" />
<circle cx="638.17" cy="570.55" r="0.9" fill="#49c5c9" stroke="none" stroke-width="1" />
<line x1="638.17" y1="570.55" x2="637.76" y2="567.58" stroke="#3fb8ba" stroke-width="0.9" stroke-linecap="round"/>
<circle cx="637.76" cy="567.58" r="0.9" fill="#49c5c9" stroke="none" stroke-width="1" />
<line x1="637.76" y1="567.58" x2="636.70" y2="573.76" stroke="#3fb8ba" stroke-width="0.9" stroke-linecap="round"/>
<circle cx="636.70" cy="573.76" r="0.9" fill="#49c5c9" stroke="none" stroke-width="1" />
<circle cx="635.93" cy="575.02" r="0.55" fill="#d8d8d8" stroke="#999" stroke-width="0.2" />
<line x1="636.70" y1="573.76" x2="637.06" y2="576.10" stroke="#3fb8ba" stroke-width="0.9" stroke-linecap="round"/>
<circle cx="637.06" cy="576.10" r="0.9" fill="#49c5c9" stroke="none" stroke-width="1" />
<circle cx="627.73" cy="567.34" r="0.9" fill="#49c5c9" stroke="none" stroke-width="1" />
<line x1="627.73" y1="567.34" x2="627.83" y2="570.07" stroke="#3fb8ba" stroke-width="0.9" stroke-linecap="round"/>
<circle cx="627.83" cy="570.07" r="0.9" fill="#49c5c9" stroke="none" stroke-width="1" />
<circle cx="626.07" cy="568.89" r="0.55" fill="#d8d8d8" stroke="#999" stroke-width="0.2" />
<line x1="627.83" y1="570.07" x2="629.36" y2="566.46" stroke="#3fb8ba" stroke-width="0.9" stroke-linecap="round"/>
<circle cx="629.36" cy="566.46" r="0.9" fill="#49c5c9" stroke="none" stroke-width="1" />
<circle cx="629.21" cy="576.18" r="0.9" fill="#49c5c9" stroke="none" stroke-width="1" />
<line x1="629.21" y1="576.18" x2="625.69" y2="572.29" stroke="#3fb8ba" stroke-width="0.9" stroke-linecap="round"/>
<circle cx="625.69" cy="572.29" r="0.9" fill="#49c5c9" stroke="none" stroke-width="1" />
<circle cx="626.87" cy="573.09" r="0.55" fill="#d8d8d8" stroke="#999" stroke-width="0.2" />
<line x1="626.00" y1="572.00" x2="644.00" y2="570.00" stroke="#3fb8ba" stroke-width="1.1" stroke-linecap="round"/>
<line x1="634.00" y1="576.00" x2="644.00" y2="576.00" stroke="#3fb8ba" stroke-width="1.1" stroke-linecap="round"/>
<line x1="632.00" y1="566.00" x2="640.00" y2="564.00" stroke="#3fb8ba" stroke-width="1.1" stroke-linecap="round"/>
<ellipse cx="620.0" cy="568.0" rx="4.2" ry="2.2" fill="url(#lobR)" transform="rotate(0 620.0 568.0)"/>
<ellipse cx="620.0" cy="572.0" rx="4.2" ry="2.2" fill="url(#lobB)" transform="rotate(0 620.0 572.0)"/>
<ellipse cx="628.0" cy="575.0" rx="2.2" ry="2.2" fill="url(#lobR)" transform="rotate(0 628.0 575.0)"/>
<ellipse cx="624.0" cy="577.0" rx="1.9" ry="1.9" fill="url(#lobB)" transform="rotate(0 624.0 577.0)"/>
<ellipse cx="621.0" cy="579.0" rx="2.0" ry="1.6" fill="url(#lobR)" transform="rotate(0 621.0 579.0)"/>
<circle cx="658.69" cy="570.02" r="0.9" fill="#49c5c9" stroke="none" stroke-width="1" />
<circle cx="657.24" cy="571.49" r="0.55" fill="#d8d8d8" stroke="#999" stroke-width="0.2" />
<circle cx="678.63" cy="569.20" r="0.9" fill="#49c5c9" stroke="none" stroke-width="1" />
<line x1="678.63" y1="569.20" x2="673.25" y2="567.19" stroke="#3fb8ba" stroke-width="0.9" stroke-linecap="round"/>
<circle cx="673.25" cy="567.19" r="0.9" fill="#49c5c9" stroke="none" stroke-width="1" />
<circle cx="657.17" cy="567.22" r="0.9" fill="#49c5c9" stroke="none" stroke-width="1" />
<circle cx="655.33" cy="566.73" r="0.55" fill="#d8d8d8" stroke="#999" stroke-width="0.2" />
<circle cx="665.05" cy="564.45" r="0.9" fill="#49c5c9" stroke="none" stroke-width="1" />
<line x1="665.05" y1="564.45" x2="666.84" y2="565.58" stroke="#3fb8ba" stroke-width="0.9" stroke-linecap="round"/>
<circle cx="666.84" cy="565.58" r="0.9" fill="#49c5c9" stroke="none" stroke-width="1" />
<line x1="666.84" y1="565.58" x2="668.52" y2="572.20" stroke="#3fb8ba" stroke-width="0.9" stroke-linecap="round"/>
<circle cx="668.52" cy="572.20" r="0.9" fill="#49c5c9" stroke="none" stroke-width="1" />
<circle cx="668.55" cy="573.90" r="0.55" fill="#d8d8d8" stroke="#999" stroke-width="0.2" />
<circle cx="657.39" cy="565.86" r="0.9" fill="#49c5c9" stroke="none" stroke-width="1" />
<circle cx="658.77" cy="572.84" r="0.9" fill="#49c5c9" stroke="none" stroke-width="1" />
<circle cx="675.09" cy="571.44" r="0.9" fill="#49c5c9" stroke="none" stroke-width="1" />
<circle cx="675.78" cy="572.35" r="0.55" fill="#d8d8d8" stroke="#999" stroke-width="0.2" />
<circle cx="662.15" cy="570.45" r="0.9" fill="#49c5c9" stroke="none" stroke-width="1" />
<line x1="662.15" y1="570.45" x2="667.16" y2="572.70" stroke="#3fb8ba" stroke-width="0.9" stroke-linecap="round"/>
<circle cx="667.16" cy="572.70" r="0.9" fill="#49c5c9" stroke="none" stroke-width="1" />
<line x1="667.16" y1="572.70" x2="665.51" y2="574.84" stroke="#3fb8ba" stroke-width="0.9" stroke-linecap="round"/>
<circle cx="665.51" cy="574.84" r="0.9" fill="#49c5c9" stroke="none" stroke-width="1" />
<circle cx="664.30" cy="576.38" r="0.55" fill="#d8d8d8" stroke="#999" stroke-width="0.2" />
<circle cx="672.51" cy="567.02" r="0.9" fill="#49c5c9" stroke="none" stroke-width="1" />
<circle cx="660.36" cy="572.38" r="0.9" fill="#49c5c9" stroke="none" stroke-width="1" />
<circle cx="677.90" cy="569.68" r="0.9" fill="#49c5c9" stroke="none" stroke-width="1" />
<circle cx="679.52" cy="568.13" r="0.55" fill="#d8d8d8" stroke="#999" stroke-width="0.2" />
<circle cx="662.22" cy="567.13" r="0.9" fill="#49c5c9" stroke="none" stroke-width="1" />
<line x1="662.22" y1="567.13" x2="656.24" y2="566.06" stroke="#3fb8ba" stroke-width="0.9" stroke-linecap="round"/>
<circle cx="656.24" cy="566.06" r="0.9" fill="#49c5c9" stroke="none" stroke-width="1" />
<line x1="653.00" y1="570.00" x2="681.00" y2="566.00" stroke="#3fb8ba" stroke-width="1.1" stroke-linecap="round"/>
<line x1="659.00" y1="575.00" x2="679.00" y2="573.00" stroke="#3fb8ba" stroke-width="1.1" stroke-linecap="round"/>
<line x1="671.00" y1="562.00" x2="679.00" y2="564.00" stroke="#3fb8ba" stroke-width="1.1" stroke-linecap="round"/>
<ellipse cx="666.0" cy="570.0" rx="2.5" ry="2.5" fill="url(#lobR)" transform="rotate(0 666.0 570.0)"/>
<ellipse cx="660.0" cy="574.0" rx="2.5" ry="2.5" fill="url(#lobB)" transform="rotate(0 660.0 574.0)"/>
<ellipse cx="667.0" cy="576.0" rx="2.9" ry="2.5" fill="url(#lobR)" transform="rotate(0 667.0 576.0)"/>
<ellipse cx="673.0" cy="570.0" rx="1.6" ry="1.6" fill="url(#lobB)" transform="rotate(0 673.0 570.0)"/>
<ellipse cx="656.0" cy="572.0" rx="1.6" ry="1.6" fill="url(#lobR)" transform="rotate(0 656.0 572.0)"/>
<ellipse cx="689.0" cy="562.0" rx="3.2" ry="3.2" fill="url(#lobR)" transform="rotate(0 689.0 562.0)"/>
<ellipse cx="699.0" cy="567.0" rx="4.5" ry="8.8" fill="url(#lobB)" transform="rotate(-25 699.0 567.0)"/>
<ellipse cx="709.0" cy="570.0" rx="4.0" ry="8.8" fill="url(#lobR)" transform="rotate(-25 709.0 570.0)"/>
<ellipse cx="716.5" cy="575.0" rx="2.8" ry="2.8" fill="url(#lobB)" transform="rotate(0 716.5 575.0)"/>
<line x1="691.00" y1="563.00" x2="697.00" y2="565.00" stroke="#3fb8ba" stroke-width="1.1" stroke-linecap="round"/>
<circle cx="740.00" cy="571.00" r="1.6" fill="#e8d820" stroke="none" stroke-width="1" />
<ellipse cx="744.0" cy="569.0" rx="1.5" ry="1.5" fill="url(#lobR)" transform="rotate(0 744.0 569.0)"/>
<line x1="740.00" y1="571.00" x2="737.00" y2="567.00" stroke="#3fb8ba" stroke-width="1.1" stroke-linecap="round"/>
<ellipse cx="741.0" cy="577.0" rx="5.8" ry="3.2" fill="url(#lobB)" transform="rotate(0 741.0 577.0)"/>
<ellipse cx="742.0" cy="585.5" rx="8.2" ry="5.2" fill="url(#lobR)" transform="rotate(-8 742.0 585.5)"/>
<ellipse cx="744.5" cy="596.0" rx="4.0" ry="4.0" fill="url(#lobB)" transform="rotate(0 744.5 596.0)"/>
<ellipse cx="746.0" cy="600.5" rx="3.2" ry="1.8" fill="url(#lobR)" transform="rotate(0 746.0 600.5)"/>
<circle cx="773.62" cy="589.65" r="0.9" fill="#49c5c9" stroke="none" stroke-width="1" />
<circle cx="774.16" cy="589.56" r="0.55" fill="#d8d8d8" stroke="#999" stroke-width="0.2" />
<line x1="773.62" y1="589.65" x2="772.15" y2="590.98" stroke="#3fb8ba" stroke-width="0.9" stroke-linecap="round"/>
<circle cx="772.15" cy="590.98" r="0.9" fill="#49c5c9" stroke="none" stroke-width="1" />
<circle cx="772.63" cy="576.56" r="0.9" fill="#49c5c9" stroke="none" stroke-width="1" />
<circle cx="767.45" cy="582.83" r="0.9" fill="#49c5c9" stroke="none" stroke-width="1" />
<circle cx="765.46" cy="582.31" r="0.55" fill="#d8d8d8" stroke="#999" stroke-width="0.2" />
<line x1="767.45" y1="582.83" x2="768.64" y2="580.90" stroke="#3fb8ba" stroke-width="0.9" stroke-linecap="round"/>
<circle cx="768.64" cy="580.90" r="0.9" fill="#49c5c9" stroke="none" stroke-width="1" />
<line x1="768.64" y1="580.90" x2="771.96" y2="577.89" stroke="#3fb8ba" stroke-width="0.9" stroke-linecap="round"/>
<circle cx="771.96" cy="577.89" r="0.9" fill="#49c5c9" stroke="none" stroke-width="1" />
<circle cx="771.28" cy="586.86" r="0.9" fill="#49c5c9" stroke="none" stroke-width="1" />
<circle cx="773.27" cy="587.81" r="0.55" fill="#d8d8d8" stroke="#999" stroke-width="0.2" />
<line x1="781.00" y1="577.00" x2="772.00" y2="584.00" stroke="#3fb8ba" stroke-width="1.1" stroke-linecap="round"/>
<line x1="772.00" y1="584.00" x2="766.00" y2="594.00" stroke="#3fb8ba" stroke-width="1.1" stroke-linecap="round"/>
<line x1="772.00" y1="584.00" x2="776.00" y2="592.00" stroke="#3fb8ba" stroke-width="1.1" stroke-linecap="round"/>
<circle cx="774.00" cy="573.00" r="1.6" fill="#e8d820" stroke="none" stroke-width="1" />
<ellipse cx="785.0" cy="567.0" rx="5.2" ry="8.2" fill="url(#lobR)" transform="rotate(30 785.0 567.0)"/>
<ellipse cx="780.5" cy="571.5" rx="3.0" ry="5.2" fill="url(#lobB)" transform="rotate(30 780.5 571.5)"/>
<ellipse cx="791.0" cy="562.5" rx="2.8" ry="2.8" fill="url(#lobB)" transform="rotate(0 791.0 562.5)"/>
<circle cx="806.20" cy="573.51" r="0.9" fill="#49c5c9" stroke="none" stroke-width="1" />
<circle cx="806.29" cy="573.56" r="0.55" fill="#d8d8d8" stroke="#999" stroke-width="0.2" />
<circle cx="801.60" cy="584.95" r="0.9" fill="#49c5c9" stroke="none" stroke-width="1" />
<circle cx="809.46" cy="584.08" r="0.9" fill="#49c5c9" stroke="none" stroke-width="1" />
<line x1="809.46" y1="584.08" x2="810.49" y2="584.86" stroke="#3fb8ba" stroke-width="0.9" stroke-linecap="round"/>
<circle cx="810.49" cy="584.86" r="0.9" fill="#49c5c9" stroke="none" stroke-width="1" />
<circle cx="809.80" cy="583.94" r="0.55" fill="#d8d8d8" stroke="#999" stroke-width="0.2" />
<line x1="810.49" y1="584.86" x2="817.11" y2="583.27" stroke="#3fb8ba" stroke-width="0.9" stroke-linecap="round"/>
<circle cx="817.11" cy="583.27" r="0.9" fill="#49c5c9" stroke="none" stroke-width="1" />
<circle cx="807.42" cy="585.91" r="0.9" fill="#49c5c9" stroke="none" stroke-width="1" />
<line x1="807.42" y1="585.91" x2="812.65" y2="583.50" stroke="#3fb8ba" stroke-width="0.9" stroke-linecap="round"/>
<circle cx="812.65" cy="583.50" r="0.9" fill="#49c5c9" stroke="none" stroke-width="1" />
<circle cx="811.46" cy="583.67" r="0.55" fill="#d8d8d8" stroke="#999" stroke-width="0.2" />
<circle cx="802.93" cy="584.53" r="0.9" fill="#49c5c9" stroke="none" stroke-width="1" />
<circle cx="813.78" cy="574.64" r="0.9" fill="#49c5c9" stroke="none" stroke-width="1" />
<circle cx="819.54" cy="584.10" r="0.9" fill="#49c5c9" stroke="none" stroke-width="1" />
<circle cx="820.56" cy="583.68" r="0.55" fill="#d8d8d8" stroke="#999" stroke-width="0.2" />
<line x1="799.00" y1="580.00" x2="807.00" y2="574.00" stroke="#3fb8ba" stroke-width="1.1" stroke-linecap="round"/>
<line x1="807.00" y1="574.00" x2="815.00" y2="580.00" stroke="#3fb8ba" stroke-width="1.1" stroke-linecap="round"/>
<line x1="815.00" y1="580.00" x2="823.00" y2="570.00" stroke="#3fb8ba" stroke-width="1.1" stroke-linecap="round"/>
<line x1="801.00" y1="586.00" x2="809.00" y2="590.00" stroke="#3fb8ba" stroke-width="1.1" stroke-linecap="round"/>
<ellipse cx="812.0" cy="581.0" rx="3.0" ry="5.2" fill="url(#lobR)" transform="rotate(0 812.0 581.0)"/>
<ellipse cx="817.0" cy="582.5" rx="2.2" ry="4.5" fill="url(#lobB)" transform="rotate(0 817.0 582.5)"/>
<ellipse cx="821.5" cy="576.5" rx="2.2" ry="2.2" fill="url(#lobR)" transform="rotate(0 821.5 576.5)"/>
<ellipse cx="823.0" cy="573.0" rx="1.9" ry="1.9" fill="url(#lobB)" transform="rotate(0 823.0 573.0)"/>
<ellipse cx="809.5" cy="593.0" rx="1.5" ry="1.5" fill="url(#lobB)" transform="rotate(0 809.5 593.0)"/>
<ellipse cx="801.0" cy="583.0" rx="1.5" ry="1.5" fill="url(#lobR)" transform="rotate(0 801.0 583.0)"/>
<circle cx="847.97" cy="567.89" r="0.9" fill="#49c5c9" stroke="none" stroke-width="1" />
<circle cx="849.54" cy="566.22" r="0.55" fill="#d8d8d8" stroke="#999" stroke-width="0.2" />
<circle cx="836.21" cy="568.27" r="0.9" fill="#49c5c9" stroke="none" stroke-width="1" />
<line x1="836.21" y1="568.27" x2="836.99" y2="570.33" stroke="#3fb8ba" stroke-width="0.9" stroke-linecap="round"/>
<circle cx="836.99" cy="570.33" r="0.9" fill="#49c5c9" stroke="none" stroke-width="1" />
<circle cx="843.07" cy="575.75" r="0.9" fill="#49c5c9" stroke="none" stroke-width="1" />
<circle cx="841.96" cy="575.57" r="0.55" fill="#d8d8d8" stroke="#999" stroke-width="0.2" />
<line x1="843.07" y1="575.75" x2="844.73" y2="571.51" stroke="#3fb8ba" stroke-width="0.9" stroke-linecap="round"/>
<circle cx="844.73" cy="571.51" r="0.9" fill="#49c5c9" stroke="none" stroke-width="1" />
<circle cx="839.58" cy="566.17" r="0.9" fill="#49c5c9" stroke="none" stroke-width="1" />
<circle cx="833.98" cy="570.51" r="0.9" fill="#49c5c9" stroke="none" stroke-width="1" />
<circle cx="833.42" cy="568.74" r="0.55" fill="#d8d8d8" stroke="#999" stroke-width="0.2" />
<line x1="834.00" y1="565.00" x2="841.00" y2="572.00" stroke="#3fb8ba" stroke-width="1.1" stroke-linecap="round"/>
<line x1="841.00" y1="572.00" x2="848.00" y2="579.00" stroke="#3fb8ba" stroke-width="1.1" stroke-linecap="round"/>
<circle cx="849.00" cy="579.00" r="1.6" fill="#e8d820" stroke="none" stroke-width="1" />
<ellipse cx="856.5" cy="585.5" rx="3.8" ry="5.2" fill="url(#lobR)" transform="rotate(0 856.5 585.5)"/>
<ellipse cx="864.0" cy="587.0" rx="4.5" ry="5.2" fill="url(#lobB)" transform="rotate(0 864.0 587.0)"/>
<ellipse cx="870.0" cy="590.0" rx="3.0" ry="3.0" fill="url(#lobR)" transform="rotate(0 870.0 590.0)"/>
<ellipse cx="852.0" cy="587.0" rx="1.5" ry="1.5" fill="url(#lobB)" transform="rotate(0 852.0 587.0)"/>
<ellipse cx="846.0" cy="577.0" rx="1.5" ry="1.5" fill="url(#lobR)" transform="rotate(0 846.0 577.0)"/>
<ellipse cx="881.0" cy="591.5" rx="3.0" ry="3.0" fill="url(#lobR)" transform="rotate(0 881.0 591.5)"/>
<ellipse cx="890.0" cy="585.5" rx="4.5" ry="9.0" fill="url(#lobB)" transform="rotate(-35 890.0 585.5)"/>
<ellipse cx="896.0" cy="582.5" rx="4.5" ry="8.2" fill="url(#lobR)" transform="rotate(-35 896.0 582.5)"/>
<ellipse cx="906.0" cy="579.5" rx="1.9" ry="1.9" fill="url(#lobB)" transform="rotate(0 906.0 579.5)"/>
<ellipse cx="899.0" cy="572.0" rx="1.2" ry="1.2" fill="url(#lobR)" transform="rotate(0 899.0 572.0)"/>
<ellipse cx="930.0" cy="576.5" rx="1.5" ry="1.5" fill="url(#lobR)" transform="rotate(0 930.0 576.5)"/>
<ellipse cx="937.5" cy="579.5" rx="1.5" ry="1.5" fill="url(#lobR)" transform="rotate(0 937.5 579.5)"/>
<ellipse cx="934.0" cy="578.0" rx="1.4" ry="1.4" fill="url(#lobB)" transform="rotate(0 934.0 578.0)"/>
<line x1="930.00" y1="576.50" x2="934.00" y2="578.00" stroke="#3fb8ba" stroke-width="1.1" stroke-linecap="round"/>
<line x1="934.00" y1="578.00" x2="937.50" y2="579.50" stroke="#3fb8ba" stroke-width="1.1" stroke-linecap="round"/>
<ellipse cx="926.5" cy="587.0" rx="7.5" ry="3.8" fill="url(#lobB)" transform="rotate(-15 926.5 587.0)"/>
<ellipse cx="924.0" cy="596.0" rx="9.8" ry="5.2" fill="url(#lobR)" transform="rotate(-15 924.0 596.0)"/>
<ellipse cx="919.5" cy="604.5" rx="2.6" ry="2.6" fill="url(#lobB)" transform="rotate(0 919.5 604.5)"/>
<circle cx="952.32" cy="604.87" r="0.9" fill="#49c5c9" stroke="none" stroke-width="1" />
<circle cx="954.17" cy="604.03" r="0.55" fill="#d8d8d8" stroke="#999" stroke-width="0.2" />
<circle cx="966.22" cy="598.25" r="0.9" fill="#49c5c9" stroke="none" stroke-width="1" />
<line x1="966.22" y1="598.25" x2="961.35" y2="602.23" stroke="#3fb8ba" stroke-width="0.9" stroke-linecap="round"/>
<circle cx="961.35" cy="602.23" r="0.9" fill="#49c5c9" stroke="none" stroke-width="1" />
<circle cx="974.53" cy="607.05" r="0.9" fill="#49c5c9" stroke="none" stroke-width="1" />
<circle cx="975.51" cy="606.06" r="0.55" fill="#d8d8d8" stroke="#999" stroke-width="0.2" />
<circle cx="955.93" cy="605.94" r="0.9" fill="#49c5c9" stroke="none" stroke-width="1" />
<circle cx="972.78" cy="598.77" r="0.9" fill="#49c5c9" stroke="none" stroke-width="1" />
<circle cx="953.60" cy="611.21" r="0.9" fill="#49c5c9" stroke="none" stroke-width="1" />
<circle cx="951.85" cy="612.46" r="0.55" fill="#d8d8d8" stroke="#999" stroke-width="0.2" />
<circle cx="970.23" cy="602.65" r="0.9" fill="#49c5c9" stroke="none" stroke-width="1" />
<circle cx="961.95" cy="599.16" r="0.9" fill="#49c5c9" stroke="none" stroke-width="1" />
<circle cx="972.71" cy="604.57" r="0.9" fill="#49c5c9" stroke="none" stroke-width="1" />
<circle cx="972.87" cy="606.10" r="0.55" fill="#d8d8d8" stroke="#999" stroke-width="0.2" />
<line x1="949.00" y1="595.00" x2="957.00" y2="601.00" stroke="#3fb8ba" stroke-width="1.1" stroke-linecap="round"/>
<line x1="957.00" y1="601.00" x2="969.00" y2="609.00" stroke="#3fb8ba" stroke-width="1.1" stroke-linecap="round"/>
<line x1="969.00" y1="609.00" x2="981.00" y2="618.00" stroke="#3fb8ba" stroke-width="1.1" stroke-linecap="round"/>
<line x1="951.00" y1="600.00" x2="955.00" y2="594.00" stroke="#3fb8ba" stroke-width="1.1" stroke-linecap="round"/>
<ellipse cx="955.0" cy="602.0" rx="2.5" ry="2.0" fill="url(#lobR)" transform="rotate(40 955.0 602.0)"/>
<ellipse cx="962.0" cy="605.0" rx="3.0" ry="2.2" fill="url(#lobR)" transform="rotate(40 962.0 605.0)"/>
<ellipse cx="964.0" cy="609.0" rx="2.5" ry="2.0" fill="url(#lobB)" transform="rotate(40 964.0 609.0)"/>
<ellipse cx="969.0" cy="611.0" rx="3.2" ry="2.2" fill="url(#lobR)" transform="rotate(40 969.0 611.0)"/>
<ellipse cx="972.0" cy="608.0" rx="1.9" ry="1.9" fill="url(#lobB)" transform="rotate(0 972.0 608.0)"/>
<ellipse cx="975.0" cy="616.0" rx="2.5" ry="1.9" fill="url(#lobR)" transform="rotate(40 975.0 616.0)"/>
<ellipse cx="959.0" cy="597.0" rx="1.8" ry="1.8" fill="url(#lobR)" transform="rotate(0 959.0 597.0)"/>
<ellipse cx="1001.5" cy="605.5" rx="8.2" ry="4.1" fill="url(#lobB)" transform="rotate(-40 1001.5 605.5)"/>
<ellipse cx="1010.5" cy="613.0" rx="9.0" ry="4.5" fill="url(#lobR)" transform="rotate(-40 1010.5 613.0)"/>
<line x1="995.00" y1="617.00" x2="1000.00" y2="621.00" stroke="#3fb8ba" stroke-width="1.1" stroke-linecap="round"/>
<line x1="1000.00" y1="621.00" x2="1003.00" y2="625.00" stroke="#3fb8ba" stroke-width="1.1" stroke-linecap="round"/>
<ellipse cx="995.0" cy="617.0" rx="1.5" ry="1.5" fill="url(#lobR)" transform="rotate(0 995.0 617.0)"/>
<ellipse cx="1003.0" cy="625.0" rx="1.5" ry="1.5" fill="url(#lobR)" transform="rotate(0 1003.0 625.0)"/>
<ellipse cx="1000.0" cy="621.0" rx="1.4" ry="1.4" fill="url(#lobB)" transform="rotate(0 1000.0 621.0)"/>
<ellipse cx="1035.0" cy="614.5" rx="5.2" ry="11.2" fill="url(#lobR)" transform="rotate(25 1035.0 614.5)"/>
<ellipse cx="1046.0" cy="620.5" rx="5.2" ry="10.0" fill="url(#lobB)" transform="rotate(25 1046.0 620.5)"/>
<line x1="1045.00" y1="608.00" x2="1050.00" y2="610.00" stroke="#3fb8ba" stroke-width="1.1" stroke-linecap="round"/>
<ellipse cx="1050.0" cy="610.0" rx="1.6" ry="1.6" fill="url(#lobR)" transform="rotate(0 1050.0 610.0)"/>
<line x1="1031.00" y1="630.00" x2="1037.00" y2="632.00" stroke="#3fb8ba" stroke-width="1.1" stroke-linecap="round"/>
<line x1="1037.00" y1="632.00" x2="1040.00" y2="637.00" stroke="#3fb8ba" stroke-width="1.1" stroke-linecap="round"/>
<ellipse cx="1031.0" cy="630.0" rx="1.5" ry="1.5" fill="url(#lobR)" transform="rotate(0 1031.0 630.0)"/>
<ellipse cx="1040.0" cy="637.5" rx="1.6" ry="1.6" fill="url(#lobR)" transform="rotate(0 1040.0 637.5)"/>
<ellipse cx="1037.0" cy="632.0" rx="1.4" ry="1.4" fill="url(#lobB)" transform="rotate(0 1037.0 632.0)"/>
<path d="M415.8,695.8 L423.8,699.4 L431.9,702.9 L439.9,706.4 L447.9,709.9 L456.0,713.4 L464.0,716.7 L472.1,720.0 L480.1,723.2 L488.1,726.1 L496.2,728.9 L504.2,731.7 L512.3,734.4 L520.3,737.0 L528.3,739.6 L536.4,742.1 L544.4,744.7 L552.5,747.1 L560.5,749.6 L568.5,752.0 L576.6,754.4 L584.6,756.8 L592.7,759.1 L600.7,761.4 L608.7,763.7 L608.7,793.7 L600.7,789.8 L592.7,786.0 L584.6,782.2 L576.6,778.5 L568.5,774.7 L560.5,771.0 L552.5,767.3 L544.4,763.7 L536.4,760.1 L528.3,756.5 L520.3,753.0 L512.3,749.5 L504.2,746.1 L496.2,742.7 L488.1,739.4 L480.1,736.2 L472.1,733.2 L464.0,730.4 L456.0,727.7 L447.9,725.0 L439.9,722.3 L431.9,719.7 L423.8,717.2 L415.8,714.6" stroke="none" stroke-width="0" fill="#b0daab" stroke-linejoin="round" />
<line x1="415.79" y1="705.20" x2="608.73" y2="778.67" stroke="#1f8a1f" stroke-width="0.85" />
<circle cx="418.26" cy="694.74" r="1.9" fill="#1f8a1f" stroke="#1a8a1a" stroke-width="0.4" />
<circle cx="417.76" cy="694.14" r="0.7" fill="#fff" stroke="none" stroke-width="0" opacity="0.55"/>
<circle cx="418.26" cy="703.67" r="1.9" fill="#1f8a1f" stroke="#1a8a1a" stroke-width="0.4" />
<circle cx="417.76" cy="703.07" r="0.7" fill="#fff" stroke="none" stroke-width="0" opacity="0.55"/>
<circle cx="433.04" cy="714.84" r="1.9" fill="#1f8a1f" stroke="#1a8a1a" stroke-width="0.4" />
<circle cx="432.54" cy="714.24" r="0.7" fill="#fff" stroke="none" stroke-width="0" opacity="0.55"/>
<circle cx="457.67" cy="709.76" r="1.9" fill="#1f8a1f" stroke="#1a8a1a" stroke-width="0.4" />
<circle cx="457.17" cy="709.16" r="0.7" fill="#fff" stroke="none" stroke-width="0" opacity="0.55"/>
<circle cx="460.95" cy="720.93" r="1.9" fill="#1f8a1f" stroke="#1a8a1a" stroke-width="0.4" />
<circle cx="460.45" cy="720.33" r="0.7" fill="#fff" stroke="none" stroke-width="0" opacity="0.55"/>
<circle cx="476.55" cy="721.53" r="1.9" fill="#1f8a1f" stroke="#1a8a1a" stroke-width="0.4" />
<circle cx="476.05" cy="720.93" r="0.7" fill="#fff" stroke="none" stroke-width="0" opacity="0.55"/>
<circle cx="491.33" cy="721.33" r="1.9" fill="#1f8a1f" stroke="#1a8a1a" stroke-width="0.4" />
<circle cx="490.83" cy="720.73" r="0.7" fill="#fff" stroke="none" stroke-width="0" opacity="0.55"/>
<circle cx="442.07" cy="728.03" r="1.9" fill="#1f8a1f" stroke="#1a8a1a" stroke-width="0.4" />
<circle cx="441.57" cy="727.43" r="0.7" fill="#fff" stroke="none" stroke-width="0" opacity="0.55"/>
<circle cx="442.89" cy="730.47" r="1.9" fill="#1f8a1f" stroke="#1a8a1a" stroke-width="0.4" />
<circle cx="442.39" cy="729.87" r="0.7" fill="#fff" stroke="none" stroke-width="0" opacity="0.55"/>
<circle cx="441.25" cy="729.05" r="1.9" fill="#1f8a1f" stroke="#1a8a1a" stroke-width="0.4" />
<circle cx="440.75" cy="728.45" r="0.7" fill="#fff" stroke="none" stroke-width="0" opacity="0.55"/>
<circle cx="467.52" cy="727.02" r="1.9" fill="#1f8a1f" stroke="#1a8a1a" stroke-width="0.4" />
<circle cx="467.02" cy="726.42" r="0.7" fill="#fff" stroke="none" stroke-width="0" opacity="0.55"/>
<circle cx="469.16" cy="727.02" r="1.9" fill="#1f8a1f" stroke="#1a8a1a" stroke-width="0.4" />
<circle cx="468.66" cy="726.42" r="0.7" fill="#fff" stroke="none" stroke-width="0" opacity="0.55"/>
<circle cx="503.64" cy="735.13" r="1.9" fill="#1f8a1f" stroke="#1a8a1a" stroke-width="0.4" />
<circle cx="503.14" cy="734.53" r="0.7" fill="#fff" stroke="none" stroke-width="0" opacity="0.55"/>
<circle cx="584.92" cy="766.60" r="1.9" fill="#1f8a1f" stroke="#1a8a1a" stroke-width="0.4" />
<circle cx="584.42" cy="766.00" r="0.7" fill="#fff" stroke="none" stroke-width="0" opacity="0.55"/>
<circle cx="559.47" cy="770.25" r="1.9" fill="#1f8a1f" stroke="#1a8a1a" stroke-width="0.4" />
<circle cx="558.97" cy="769.65" r="0.7" fill="#fff" stroke="none" stroke-width="0" opacity="0.55"/>
<circle cx="607.91" cy="785.68" r="1.9" fill="#1f8a1f" stroke="#1a8a1a" stroke-width="0.4" />
<circle cx="607.41" cy="785.08" r="0.7" fill="#fff" stroke="none" stroke-width="0" opacity="0.55"/>
<line x1="443.62" y1="726.20" x2="446.56" y2="701.25" stroke="#1a8a1a" stroke-width="1.55" />
<polygon points="447.1,696.6 449.0,702.0 444.0,701.5" fill="#1a8a1a"/>
<line x1="476.72" y1="720.98" x2="483.85" y2="701.01" stroke="#1a8a1a" stroke-width="1.55" />
<polygon points="485.4,696.6 486.0,702.3 481.3,700.6" fill="#1a8a1a"/>
<line x1="440.84" y1="729.69" x2="426.37" y2="735.58" stroke="#1a8a1a" stroke-width="1.55" />
<polygon points="422.0,737.4 425.9,733.1 427.8,737.7" fill="#1a8a1a"/>
<line x1="442.58" y1="729.69" x2="443.34" y2="742.42" stroke="#1a8a1a" stroke-width="1.55" />
<polygon points="443.6,747.1 440.8,742.1 445.8,741.8" fill="#1a8a1a"/>
<line x1="466.27" y1="727.94" x2="460.22" y2="741.10" stroke="#1a8a1a" stroke-width="1.55" />
<polygon points="458.3,745.4 458.2,739.6 462.7,741.7" fill="#1a8a1a"/>
<line x1="468.01" y1="726.90" x2="479.73" y2="741.68" stroke="#1a8a1a" stroke-width="1.55" />
<polygon points="482.6,745.4 477.5,742.8 481.4,739.7" fill="#1a8a1a"/>
<text transform="translate(406.34,693.10) scale(0.93,1)" font-size="11.4" font-weight="bold" text-anchor="start" fill="#000" >PCM</text>
<text transform="translate(440.84,695.54) scale(0.93,1)" font-size="11.4" font-weight="bold" text-anchor="start" fill="#000" >CTC</text>
<text transform="translate(469.76,693.80) scale(0.93,1)" font-size="11.4" font-weight="bold" text-anchor="start" fill="#000" >SMZ</text>
<text transform="translate(451.29,708.78) scale(0.93,1)" font-size="11.4" font-weight="bold" text-anchor="start" fill="#000" >CP</text>
<text transform="translate(460.00,716.45) scale(0.93,1)" font-size="11.4" font-weight="bold" text-anchor="start" fill="#000" >SN</text>
<text transform="translate(402.51,716.79) scale(0.93,1)" font-size="11.4" font-weight="bold" text-anchor="start" fill="#000" >BPA</text>
<text transform="translate(412.96,725.51) scale(0.93,1)" font-size="11.4" font-weight="bold" text-anchor="start" fill="#000" >NPX</text>
<text transform="translate(495.19,721.67) scale(0.93,1)" font-size="11.4" font-weight="bold" text-anchor="start" fill="#000" >HBA</text>
<text transform="translate(509.13,740.14) scale(0.93,1)" font-size="11.4" font-weight="bold" text-anchor="start" fill="#000" >NP</text>
<text transform="translate(405.30,748.85) scale(0.93,1)" font-size="11.4" font-weight="bold" text-anchor="start" fill="#000" >CBZ</text>
<text transform="translate(434.91,755.12) scale(0.93,1)" font-size="11.4" font-weight="bold" text-anchor="start" fill="#000" >TC</text>
<text transform="translate(452.33,755.12) scale(0.93,1)" font-size="11.4" font-weight="bold" text-anchor="start" fill="#000" >SMT</text>
<text transform="translate(481.95,755.82) scale(0.93,1)" font-size="11.4" font-weight="bold" text-anchor="start" fill="#000" >CIP</text>
<text transform="translate(578.82,759.30) scale(0.93,1)" font-size="11.4" font-weight="bold" text-anchor="start" fill="#000" >NB</text>
<text transform="translate(561.39,780.91) scale(0.93,1)" font-size="11.4" font-weight="bold" text-anchor="start" fill="#000" >CPL</text>
<text transform="translate(588.22,799.37) scale(0.93,1)" font-size="11.4" font-weight="bold" text-anchor="start" fill="#000" >NBA</text>
<line x1="495.19" y1="684.39" x2="519.58" y2="684.39" stroke="#1f8a1f" stroke-width="1" />
<rect x="495.19" y="690.66" width="24.39" height="11.15" fill="#b0daab" stroke="none" stroke-width="1" />
<text transform="translate(521.32,687.18)" font-size="8.6" font-weight="bold" text-anchor="start" fill="#000" textLength="77.0" lengthAdjust="spacingAndGlyphs" >Linear fit of Fe-SAC</text>
<text transform="translate(521.32,699.02)" font-size="8.6" font-weight="bold" text-anchor="start" fill="#000" textLength="90.5" lengthAdjust="spacingAndGlyphs" >95% Confidence bands</text>
<text transform="translate(412.96,798.33) scale(0.97,1)" font-size="12.6" font-weight="bold" text-anchor="start" fill="#000" >R<tspan font-size="7.6" dy="-4.6">2</tspan><tspan dy="4.6">=0.840</tspan></text>
<text transform="translate(412.96,815.05)" font-size="13" font-weight="bold" text-anchor="start" fill="#000" textLength="172.8" lengthAdjust="spacingAndGlyphs" >y=-1.54(±0.17)x+5.63 (±0.77)</text>
<rect x="399.40" y="676.40" width="212.20" height="151.50" fill="none" stroke="#000" stroke-width="1.3" />
<line x1="404.30" y1="827.90" x2="404.30" y2="831.10" stroke="#000" stroke-width="1.1" />
<text transform="translate(404.30,842.10) scale(0.98,1)" font-size="11" font-weight="bold" text-anchor="middle" fill="#000" >3.5</text>
<line x1="445.35" y1="827.90" x2="445.35" y2="831.10" stroke="#000" stroke-width="1.1" />
<text transform="translate(445.35,842.10) scale(0.98,1)" font-size="11" font-weight="bold" text-anchor="middle" fill="#000" >4.0</text>
<line x1="486.40" y1="827.90" x2="486.40" y2="831.10" stroke="#000" stroke-width="1.1" />
<text transform="translate(486.40,842.10) scale(0.98,1)" font-size="11" font-weight="bold" text-anchor="middle" fill="#000" >4.5</text>
<line x1="527.45" y1="827.90" x2="527.45" y2="831.10" stroke="#000" stroke-width="1.1" />
<text transform="translate(527.45,842.10) scale(0.98,1)" font-size="11" font-weight="bold" text-anchor="middle" fill="#000" >5.0</text>
<line x1="568.50" y1="827.90" x2="568.50" y2="831.10" stroke="#000" stroke-width="1.1" />
<text transform="translate(568.50,842.10) scale(0.98,1)" font-size="11" font-weight="bold" text-anchor="middle" fill="#000" >5.5</text>
<line x1="609.55" y1="827.90" x2="609.55" y2="831.10" stroke="#000" stroke-width="1.1" />
<text transform="translate(609.55,842.10) scale(0.98,1)" font-size="11" font-weight="bold" text-anchor="middle" fill="#000" >6.0</text>
<line x1="424.82" y1="827.90" x2="424.82" y2="829.70" stroke="#000" stroke-width="0.9" />
<line x1="465.88" y1="827.90" x2="465.88" y2="829.70" stroke="#000" stroke-width="0.9" />
<line x1="506.93" y1="827.90" x2="506.93" y2="829.70" stroke="#000" stroke-width="0.9" />
<line x1="547.98" y1="827.90" x2="547.98" y2="829.70" stroke="#000" stroke-width="0.9" />
<line x1="589.02" y1="827.90" x2="589.02" y2="829.70" stroke="#000" stroke-width="0.9" />
<line x1="396.20" y1="685.40" x2="399.40" y2="685.40" stroke="#000" stroke-width="1.1" />
<text transform="translate(394.80,689.30) scale(0.98,1)" font-size="11" font-weight="bold" text-anchor="end" fill="#000" >1</text>
<line x1="397.60" y1="695.55" x2="399.40" y2="695.55" stroke="#000" stroke-width="0.9" />
<line x1="396.20" y1="705.70" x2="399.40" y2="705.70" stroke="#000" stroke-width="1.1" />
<text transform="translate(394.80,709.60) scale(0.98,1)" font-size="11" font-weight="bold" text-anchor="end" fill="#000" >0</text>
<line x1="397.60" y1="715.85" x2="399.40" y2="715.85" stroke="#000" stroke-width="0.9" />
<line x1="396.20" y1="726.00" x2="399.40" y2="726.00" stroke="#000" stroke-width="1.1" />
<text transform="translate(394.80,729.90) scale(0.98,1)" font-size="11" font-weight="bold" text-anchor="end" fill="#000" >-1</text>
<line x1="397.60" y1="736.15" x2="399.40" y2="736.15" stroke="#000" stroke-width="0.9" />
<line x1="396.20" y1="746.30" x2="399.40" y2="746.30" stroke="#000" stroke-width="1.1" />
<text transform="translate(394.80,750.20) scale(0.98,1)" font-size="11" font-weight="bold" text-anchor="end" fill="#000" >-2</text>
<line x1="397.60" y1="756.45" x2="399.40" y2="756.45" stroke="#000" stroke-width="0.9" />
<line x1="396.20" y1="766.60" x2="399.40" y2="766.60" stroke="#000" stroke-width="1.1" />
<text transform="translate(394.80,770.50) scale(0.98,1)" font-size="11" font-weight="bold" text-anchor="end" fill="#000" >-3</text>
<line x1="397.60" y1="776.75" x2="399.40" y2="776.75" stroke="#000" stroke-width="0.9" />
<line x1="396.20" y1="786.90" x2="399.40" y2="786.90" stroke="#000" stroke-width="1.1" />
<text transform="translate(394.80,790.80) scale(0.98,1)" font-size="11" font-weight="bold" text-anchor="end" fill="#000" >-4</text>
<line x1="397.60" y1="797.05" x2="399.40" y2="797.05" stroke="#000" stroke-width="0.9" />
<line x1="396.20" y1="807.20" x2="399.40" y2="807.20" stroke="#000" stroke-width="1.1" />
<text transform="translate(394.80,811.10) scale(0.98,1)" font-size="11" font-weight="bold" text-anchor="end" fill="#000" >-5</text>
<line x1="397.60" y1="817.35" x2="399.40" y2="817.35" stroke="#000" stroke-width="0.9" />
<line x1="396.20" y1="827.50" x2="399.40" y2="827.50" stroke="#000" stroke-width="1.1" />
<text transform="translate(394.80,831.40) scale(0.98,1)" font-size="11" font-weight="bold" text-anchor="end" fill="#000" >-6</text>
<text transform="translate(410.50,859.30)" font-size="12.6" font-weight="bold" text-anchor="start" fill="#000" textLength="202.1" lengthAdjust="spacingAndGlyphs" >LUMO<tspan font-size="7.8" dy="3.2">(Fe-SAC/PMS)</tspan><tspan dy="-3.2">-HOMO</tspan><tspan font-size="7.8" dy="3.2">(Pollutants)</tspan><tspan dy="-3.2"> (eV)</tspan></text>
<text transform="translate(379.10,752.30) rotate(-90)" font-size="12.4" font-weight="bold" text-anchor="middle" fill="#000" textLength="40.0" lengthAdjust="spacingAndGlyphs" >ln (<tspan font-style="italic">K</tspan><tspan font-size="7.5" dy="2.5">obs</tspan><tspan dy="-2.5">)</tspan></text>
<text transform="translate(377.40,683.70)" font-size="24.5" font-weight="bold" text-anchor="start" fill="#000" >I</text>
<path d="M660.3,696.9 L668.3,700.8 L676.3,704.7 L684.3,708.6 L692.3,712.5 L700.3,716.2 L708.3,720.0 L716.3,723.6 L724.3,727.2 L732.3,730.4 L740.3,733.6 L748.3,736.7 L756.3,739.8 L764.3,742.8 L772.3,745.7 L780.3,748.6 L788.3,751.5 L796.3,754.3 L804.3,757.2 L812.3,759.9 L820.3,762.7 L828.3,765.4 L836.3,768.1 L844.3,770.8 L852.3,773.4 L852.3,803.4 L844.3,799.2 L836.3,795.0 L828.3,790.9 L820.3,786.7 L812.3,782.7 L804.3,778.6 L796.3,774.6 L788.3,770.6 L780.3,766.6 L772.3,762.7 L764.3,758.8 L756.3,754.9 L748.3,751.1 L740.3,747.4 L732.3,743.7 L724.3,740.2 L716.3,736.9 L708.3,733.7 L700.3,730.6 L692.3,727.5 L684.3,724.5 L676.3,721.5 L668.3,718.6 L660.3,715.7" stroke="none" stroke-width="0" fill="#bfe4f9" stroke-linejoin="round" />
<line x1="660.29" y1="706.30" x2="852.29" y2="788.39" stroke="#1f8ae0" stroke-width="0.85" />
<circle cx="661.12" cy="697.18" r="1.9" fill="#1f8ae0" stroke="#1a78c8" stroke-width="0.4" />
<circle cx="660.62" cy="696.58" r="0.7" fill="#fff" stroke="none" stroke-width="0" opacity="0.55"/>
<circle cx="661.12" cy="700.22" r="1.9" fill="#1f8ae0" stroke="#1a78c8" stroke-width="0.4" />
<circle cx="660.62" cy="699.62" r="0.7" fill="#fff" stroke="none" stroke-width="0" opacity="0.55"/>
<circle cx="676.71" cy="707.92" r="1.9" fill="#1f8ae0" stroke="#1a78c8" stroke-width="0.4" />
<circle cx="676.21" cy="707.32" r="0.7" fill="#fff" stroke="none" stroke-width="0" opacity="0.55"/>
<circle cx="700.50" cy="705.89" r="1.9" fill="#1f8ae0" stroke="#1a78c8" stroke-width="0.4" />
<circle cx="700.00" cy="705.29" r="0.7" fill="#fff" stroke="none" stroke-width="0" opacity="0.55"/>
<circle cx="703.78" cy="722.11" r="1.9" fill="#1f8ae0" stroke="#1a78c8" stroke-width="0.4" />
<circle cx="703.28" cy="721.51" r="0.7" fill="#fff" stroke="none" stroke-width="0" opacity="0.55"/>
<circle cx="710.35" cy="724.95" r="1.9" fill="#1f8ae0" stroke="#1a78c8" stroke-width="0.4" />
<circle cx="709.85" cy="724.35" r="0.7" fill="#fff" stroke="none" stroke-width="0" opacity="0.55"/>
<circle cx="711.17" cy="729.61" r="1.9" fill="#1f8ae0" stroke="#1a78c8" stroke-width="0.4" />
<circle cx="710.67" cy="729.01" r="0.7" fill="#fff" stroke="none" stroke-width="0" opacity="0.55"/>
<circle cx="719.37" cy="727.18" r="1.9" fill="#1f8ae0" stroke="#1a78c8" stroke-width="0.4" />
<circle cx="718.87" cy="726.58" r="0.7" fill="#fff" stroke="none" stroke-width="0" opacity="0.55"/>
<circle cx="734.96" cy="727.18" r="1.9" fill="#1f8ae0" stroke="#1a78c8" stroke-width="0.4" />
<circle cx="734.46" cy="726.58" r="0.7" fill="#fff" stroke="none" stroke-width="0" opacity="0.55"/>
<circle cx="746.45" cy="739.75" r="1.9" fill="#1f8ae0" stroke="#1a78c8" stroke-width="0.4" />
<circle cx="745.95" cy="739.15" r="0.7" fill="#fff" stroke="none" stroke-width="0" opacity="0.55"/>
<circle cx="684.91" cy="731.64" r="1.9" fill="#1f8ae0" stroke="#1a78c8" stroke-width="0.4" />
<circle cx="684.41" cy="731.04" r="0.7" fill="#fff" stroke="none" stroke-width="0" opacity="0.55"/>
<circle cx="687.37" cy="733.66" r="1.9" fill="#1f8ae0" stroke="#1a78c8" stroke-width="0.4" />
<circle cx="686.87" cy="733.06" r="0.7" fill="#fff" stroke="none" stroke-width="0" opacity="0.55"/>
<circle cx="684.09" cy="738.73" r="1.9" fill="#1f8ae0" stroke="#1a78c8" stroke-width="0.4" />
<circle cx="683.59" cy="738.13" r="0.7" fill="#fff" stroke="none" stroke-width="0" opacity="0.55"/>
<circle cx="827.68" cy="773.19" r="1.9" fill="#1f8ae0" stroke="#1a78c8" stroke-width="0.4" />
<circle cx="827.18" cy="772.59" r="0.7" fill="#fff" stroke="none" stroke-width="0" opacity="0.55"/>
<circle cx="803.06" cy="783.93" r="1.9" fill="#1f8ae0" stroke="#1a78c8" stroke-width="0.4" />
<circle cx="802.56" cy="783.33" r="0.7" fill="#fff" stroke="none" stroke-width="0" opacity="0.55"/>
<circle cx="851.47" cy="787.99" r="1.9" fill="#1f8ae0" stroke="#1a78c8" stroke-width="0.4" />
<circle cx="850.97" cy="787.39" r="0.7" fill="#fff" stroke="none" stroke-width="0" opacity="0.55"/>
<line x1="661.93" y1="701.81" x2="662.99" y2="711.51" stroke="#1a78c8" stroke-width="1.55" />
<polygon points="663.5,716.2 660.4,711.3 665.4,710.7" fill="#1a78c8"/>
<line x1="713.67" y1="721.41" x2="719.80" y2="705.66" stroke="#1a78c8" stroke-width="1.55" />
<polygon points="721.5,701.3 721.9,707.0 717.3,705.2" fill="#1a78c8"/>
<line x1="687.54" y1="730.55" x2="677.24" y2="732.72" stroke="#1a78c8" stroke-width="1.55" />
<polygon points="672.6,733.7 677.2,730.2 678.2,735.1" fill="#1a78c8"/>
<line x1="687.54" y1="731.86" x2="692.17" y2="746.96" stroke="#1a78c8" stroke-width="1.55" />
<polygon points="693.5,751.5 689.6,747.2 694.4,745.8" fill="#1a78c8"/>
<line x1="711.05" y1="727.94" x2="716.69" y2="745.67" stroke="#1a78c8" stroke-width="1.55" />
<polygon points="718.1,750.1 714.2,745.9 718.9,744.4" fill="#1a78c8"/>
<text transform="translate(655.66,694.75) scale(0.93,1)" font-size="11.4" font-weight="bold" text-anchor="start" fill="#000" >BPA</text>
<text transform="translate(668.46,704.42) scale(0.93,1)" font-size="11.4" font-weight="bold" text-anchor="start" fill="#000" >NPX</text>
<text transform="translate(701.38,705.73) scale(0.93,1)" font-size="11.4" font-weight="bold" text-anchor="start" fill="#000" >CP</text>
<text transform="translate(715.76,701.02) scale(0.93,1)" font-size="11.4" font-weight="bold" text-anchor="start" fill="#000" >SMT</text>
<text transform="translate(655.66,724.54) scale(0.93,1)" font-size="11.4" font-weight="bold" text-anchor="start" fill="#000" >PCM</text>
<text transform="translate(687.01,724.02) scale(0.93,1)" font-size="11.4" font-weight="bold" text-anchor="start" fill="#000" >SN</text>
<text transform="translate(718.37,725.85) scale(0.93,1)" font-size="11.4" font-weight="bold" text-anchor="start" fill="#000" >SMZ</text>
<text transform="translate(741.10,731.86) scale(0.93,1)" font-size="11.4" font-weight="bold" text-anchor="start" fill="#000" >HBA</text>
<text transform="translate(751.55,744.92) scale(0.93,1)" font-size="11.4" font-weight="bold" text-anchor="start" fill="#000" >NP</text>
<text transform="translate(658.79,738.91) scale(0.93,1)" font-size="11.4" font-weight="bold" text-anchor="start" fill="#000" >TC</text>
<text transform="translate(667.94,750.67) scale(0.93,1)" font-size="11.4" font-weight="bold" text-anchor="start" fill="#000" >CBZ</text>
<text transform="translate(687.54,765.83) scale(0.93,1)" font-size="11.4" font-weight="bold" text-anchor="start" fill="#000" >CTC</text>
<text transform="translate(716.28,762.69) scale(0.93,1)" font-size="11.4" font-weight="bold" text-anchor="start" fill="#000" >CIP</text>
<text transform="translate(822.11,771.84) scale(0.93,1)" font-size="11.4" font-weight="bold" text-anchor="start" fill="#000" >NB</text>
<text transform="translate(794.15,798.49) scale(0.93,1)" font-size="11.4" font-weight="bold" text-anchor="start" fill="#000" >CPL</text>
<text transform="translate(832.56,801.10) scale(0.93,1)" font-size="11.4" font-weight="bold" text-anchor="start" fill="#000" >NBA</text>
<line x1="747.64" y1="684.04" x2="769.85" y2="684.04" stroke="#1f8ae0" stroke-width="1" />
<rect x="747.64" y="691.36" width="22.21" height="10.45" fill="#bfe4f9" stroke="none" stroke-width="1" />
<text transform="translate(773.24,686.91)" font-size="8.6" font-weight="bold" text-anchor="start" fill="#000" textLength="77.0" lengthAdjust="spacingAndGlyphs" >Linear fit of Co-SAC</text>
<text transform="translate(773.24,699.72)" font-size="8.6" font-weight="bold" text-anchor="start" fill="#000" textLength="90.5" lengthAdjust="spacingAndGlyphs" >95% Confidence bands</text>
<text transform="translate(660.10,797.71) scale(0.97,1)" font-size="12.6" font-weight="bold" text-anchor="start" fill="#000" >R<tspan font-size="7.6" dy="-4.6">2</tspan><tspan dy="4.6">=0.815</tspan></text>
<text transform="translate(660.10,814.17)" font-size="13" font-weight="bold" text-anchor="start" fill="#000" textLength="172.0" lengthAdjust="spacingAndGlyphs" >y=-1.74(±0.21)x+5.06 (±0.79)</text>
<rect x="653.00" y="676.20" width="212.70" height="151.80" fill="none" stroke="#000" stroke-width="1.3" />
<line x1="668.50" y1="828.00" x2="668.50" y2="831.20" stroke="#000" stroke-width="1.1" />
<text transform="translate(668.50,842.20) scale(0.98,1)" font-size="11" font-weight="bold" text-anchor="middle" fill="#000" >3.0</text>
<line x1="709.52" y1="828.00" x2="709.52" y2="831.20" stroke="#000" stroke-width="1.1" />
<text transform="translate(709.52,842.20) scale(0.98,1)" font-size="11" font-weight="bold" text-anchor="middle" fill="#000" >3.5</text>
<line x1="750.55" y1="828.00" x2="750.55" y2="831.20" stroke="#000" stroke-width="1.1" />
<text transform="translate(750.55,842.20) scale(0.98,1)" font-size="11" font-weight="bold" text-anchor="middle" fill="#000" >4.0</text>
<line x1="791.58" y1="828.00" x2="791.58" y2="831.20" stroke="#000" stroke-width="1.1" />
<text transform="translate(791.58,842.20) scale(0.98,1)" font-size="11" font-weight="bold" text-anchor="middle" fill="#000" >4.5</text>
<line x1="832.60" y1="828.00" x2="832.60" y2="831.20" stroke="#000" stroke-width="1.1" />
<text transform="translate(832.60,842.20) scale(0.98,1)" font-size="11" font-weight="bold" text-anchor="middle" fill="#000" >5.0</text>
<line x1="689.01" y1="828.00" x2="689.01" y2="829.80" stroke="#000" stroke-width="0.9" />
<line x1="730.04" y1="828.00" x2="730.04" y2="829.80" stroke="#000" stroke-width="0.9" />
<line x1="771.06" y1="828.00" x2="771.06" y2="829.80" stroke="#000" stroke-width="0.9" />
<line x1="812.09" y1="828.00" x2="812.09" y2="829.80" stroke="#000" stroke-width="0.9" />
<line x1="853.11" y1="828.00" x2="853.11" y2="829.80" stroke="#000" stroke-width="0.9" />
<line x1="649.80" y1="686.03" x2="653.00" y2="686.03" stroke="#000" stroke-width="1.1" />
<text transform="translate(649.10,689.93) scale(0.98,1)" font-size="11" font-weight="bold" text-anchor="end" fill="#000" >1</text>
<line x1="651.20" y1="696.16" x2="653.00" y2="696.16" stroke="#000" stroke-width="0.9" />
<line x1="649.80" y1="706.30" x2="653.00" y2="706.30" stroke="#000" stroke-width="1.1" />
<text transform="translate(649.10,710.20) scale(0.98,1)" font-size="11" font-weight="bold" text-anchor="end" fill="#000" >0</text>
<line x1="651.20" y1="716.43" x2="653.00" y2="716.43" stroke="#000" stroke-width="0.9" />
<line x1="649.80" y1="726.57" x2="653.00" y2="726.57" stroke="#000" stroke-width="1.1" />
<text transform="translate(649.10,730.47) scale(0.98,1)" font-size="11" font-weight="bold" text-anchor="end" fill="#000" >-1</text>
<line x1="651.20" y1="736.70" x2="653.00" y2="736.70" stroke="#000" stroke-width="0.9" />
<line x1="649.80" y1="746.84" x2="653.00" y2="746.84" stroke="#000" stroke-width="1.1" />
<text transform="translate(649.10,750.74) scale(0.98,1)" font-size="11" font-weight="bold" text-anchor="end" fill="#000" >-2</text>
<line x1="651.20" y1="756.97" x2="653.00" y2="756.97" stroke="#000" stroke-width="0.9" />
<line x1="649.80" y1="767.11" x2="653.00" y2="767.11" stroke="#000" stroke-width="1.1" />
<text transform="translate(649.10,771.01) scale(0.98,1)" font-size="11" font-weight="bold" text-anchor="end" fill="#000" >-3</text>
<line x1="651.20" y1="777.24" x2="653.00" y2="777.24" stroke="#000" stroke-width="0.9" />
<line x1="649.80" y1="787.38" x2="653.00" y2="787.38" stroke="#000" stroke-width="1.1" />
<text transform="translate(649.10,791.28) scale(0.98,1)" font-size="11" font-weight="bold" text-anchor="end" fill="#000" >-4</text>
<line x1="651.20" y1="797.51" x2="653.00" y2="797.51" stroke="#000" stroke-width="0.9" />
<line x1="649.80" y1="807.65" x2="653.00" y2="807.65" stroke="#000" stroke-width="1.1" />
<text transform="translate(649.10,811.55) scale(0.98,1)" font-size="11" font-weight="bold" text-anchor="end" fill="#000" >-5</text>
<line x1="651.20" y1="817.78" x2="653.00" y2="817.78" stroke="#000" stroke-width="0.9" />
<line x1="649.80" y1="827.92" x2="653.00" y2="827.92" stroke="#000" stroke-width="1.1" />
<text transform="translate(649.10,831.82) scale(0.98,1)" font-size="11" font-weight="bold" text-anchor="end" fill="#000" >-6</text>
<text transform="translate(660.10,859.90)" font-size="12.6" font-weight="bold" text-anchor="start" fill="#000" textLength="203.8" lengthAdjust="spacingAndGlyphs" >LUMO<tspan font-size="7.8" dy="3.2">(Co-SAC/PMS)</tspan><tspan dy="-3.2">-HOMO</tspan><tspan font-size="7.8" dy="3.2">(Pollutants)</tspan><tspan dy="-3.2"> (eV)</tspan></text>
<text transform="translate(630.60,750.10) rotate(-90)" font-size="12.4" font-weight="bold" text-anchor="middle" fill="#000" textLength="40.0" lengthAdjust="spacingAndGlyphs" >ln (<tspan font-style="italic">K</tspan><tspan font-size="7.5" dy="2.5">obs</tspan><tspan dy="-2.5">)</tspan></text>
<text transform="translate(628.20,684.80) scale(0.72,1)" font-size="24.5" font-weight="bold" text-anchor="start" fill="#000" >J</text>
<path d="M917.2,690.8 L925.3,695.1 L933.4,699.4 L941.5,703.5 L949.7,707.7 L957.8,711.7 L965.9,715.7 L974.0,719.7 L982.1,723.5 L990.2,727.0 L998.3,730.4 L1006.4,733.6 L1014.6,736.8 L1022.7,739.9 L1030.8,742.9 L1038.9,745.9 L1047.0,748.9 L1055.1,751.8 L1063.2,754.6 L1071.3,757.4 L1079.5,760.2 L1087.6,763.0 L1095.7,765.7 L1103.8,768.4 L1111.9,771.0 L1111.9,805.0 L1103.8,800.5 L1095.7,796.0 L1087.6,791.5 L1079.5,787.0 L1071.3,782.6 L1063.2,778.3 L1055.1,774.0 L1047.0,769.7 L1038.9,765.4 L1030.8,761.2 L1022.7,757.1 L1014.6,753.0 L1006.4,749.0 L998.3,745.0 L990.2,741.2 L982.1,737.6 L974.0,734.2 L965.9,731.0 L957.8,727.8 L949.7,724.7 L941.5,721.6 L933.4,718.6 L925.3,715.7 L917.2,712.8" stroke="none" stroke-width="0" fill="#f9bbbb" stroke-linejoin="round" />
<line x1="917.20" y1="701.80" x2="1111.90" y2="788.00" stroke="#f01414" stroke-width="0.85" />
<circle cx="917.30" cy="698.92" r="1.9" fill="#f01414" stroke="#e81414" stroke-width="0.4" />
<circle cx="916.80" cy="698.32" r="0.7" fill="#fff" stroke="none" stroke-width="0" opacity="0.55"/>
<circle cx="918.13" cy="700.44" r="1.9" fill="#f01414" stroke="#e81414" stroke-width="0.4" />
<circle cx="917.63" cy="699.84" r="0.7" fill="#fff" stroke="none" stroke-width="0" opacity="0.55"/>
<circle cx="933.18" cy="715.11" r="1.9" fill="#f01414" stroke="#e81414" stroke-width="0.4" />
<circle cx="932.68" cy="714.51" r="0.7" fill="#fff" stroke="none" stroke-width="0" opacity="0.55"/>
<circle cx="957.42" cy="708.82" r="1.9" fill="#f01414" stroke="#e81414" stroke-width="0.4" />
<circle cx="956.92" cy="708.22" r="0.7" fill="#fff" stroke="none" stroke-width="0" opacity="0.55"/>
<circle cx="967.46" cy="720.82" r="1.9" fill="#f01414" stroke="#e81414" stroke-width="0.4" />
<circle cx="966.96" cy="720.22" r="0.7" fill="#fff" stroke="none" stroke-width="0" opacity="0.55"/>
<circle cx="960.77" cy="724.63" r="1.9" fill="#f01414" stroke="#e81414" stroke-width="0.4" />
<circle cx="960.27" cy="724.03" r="0.7" fill="#fff" stroke="none" stroke-width="0" opacity="0.55"/>
<circle cx="976.65" cy="724.06" r="1.9" fill="#f01414" stroke="#e81414" stroke-width="0.4" />
<circle cx="976.15" cy="723.46" r="0.7" fill="#fff" stroke="none" stroke-width="0" opacity="0.55"/>
<circle cx="942.38" cy="729.40" r="1.9" fill="#f01414" stroke="#e81414" stroke-width="0.4" />
<circle cx="941.88" cy="728.80" r="0.7" fill="#fff" stroke="none" stroke-width="0" opacity="0.55"/>
<circle cx="944.05" cy="729.78" r="1.9" fill="#f01414" stroke="#e81414" stroke-width="0.4" />
<circle cx="943.55" cy="729.18" r="0.7" fill="#fff" stroke="none" stroke-width="0" opacity="0.55"/>
<circle cx="940.70" cy="745.02" r="1.9" fill="#f01414" stroke="#e81414" stroke-width="0.4" />
<circle cx="940.20" cy="744.42" r="0.7" fill="#fff" stroke="none" stroke-width="0" opacity="0.55"/>
<circle cx="968.29" cy="741.78" r="1.9" fill="#f01414" stroke="#e81414" stroke-width="0.4" />
<circle cx="967.79" cy="741.18" r="0.7" fill="#fff" stroke="none" stroke-width="0" opacity="0.55"/>
<circle cx="992.54" cy="734.16" r="1.9" fill="#f01414" stroke="#e81414" stroke-width="0.4" />
<circle cx="992.04" cy="733.56" r="0.7" fill="#fff" stroke="none" stroke-width="0" opacity="0.55"/>
<circle cx="1004.24" cy="745.59" r="1.9" fill="#f01414" stroke="#e81414" stroke-width="0.4" />
<circle cx="1003.74" cy="744.99" r="0.7" fill="#fff" stroke="none" stroke-width="0" opacity="0.55"/>
<circle cx="1087.84" cy="765.59" r="1.9" fill="#f01414" stroke="#e81414" stroke-width="0.4" />
<circle cx="1087.34" cy="764.99" r="0.7" fill="#fff" stroke="none" stroke-width="0" opacity="0.55"/>
<circle cx="1061.92" cy="776.07" r="1.9" fill="#f01414" stroke="#e81414" stroke-width="0.4" />
<circle cx="1061.42" cy="775.47" r="0.7" fill="#fff" stroke="none" stroke-width="0" opacity="0.55"/>
<circle cx="1111.25" cy="788.07" r="1.9" fill="#f01414" stroke="#e81414" stroke-width="0.4" />
<circle cx="1110.75" cy="787.47" r="0.7" fill="#fff" stroke="none" stroke-width="0" opacity="0.55"/>
<line x1="968.72" y1="718.79" x2="976.63" y2="702.13" stroke="#e81414" stroke-width="1.55" />
<polygon points="978.7,697.9 978.7,703.7 974.2,701.5" fill="#e81414"/>
<line x1="944.68" y1="729.24" x2="933.05" y2="732.06" stroke="#e81414" stroke-width="1.55" />
<polygon points="928.5,733.2 932.9,729.5 934.1,734.4" fill="#e81414"/>
<line x1="945.20" y1="731.86" x2="950.46" y2="747.01" stroke="#e81414" stroke-width="1.55" />
<polygon points="952.0,751.5 947.9,747.4 952.7,745.7" fill="#e81414"/>
<text transform="translate(906.27,693.97) scale(0.93,1)" font-size="11.4" font-weight="bold" text-anchor="start" fill="#000" >BPA</text>
<text transform="translate(955.13,707.03) scale(0.93,1)" font-size="11.4" font-weight="bold" text-anchor="start" fill="#000" >CP</text>
<text transform="translate(972.64,696.58) scale(0.93,1)" font-size="11.4" font-weight="bold" text-anchor="start" fill="#000" >SMT</text>
<text transform="translate(907.58,712.26) scale(0.93,1)" font-size="11.4" font-weight="bold" text-anchor="start" fill="#000" >PCM</text>
<text transform="translate(913.33,725.33) scale(0.93,1)" font-size="11.4" font-weight="bold" text-anchor="start" fill="#000" >NPX</text>
<text transform="translate(946.77,727.42) scale(0.93,1)" font-size="11.4" font-weight="bold" text-anchor="start" fill="#000" >SN</text>
<text transform="translate(980.74,725.33) scale(0.93,1)" font-size="11.4" font-weight="bold" text-anchor="start" fill="#000" >SMZ</text>
<text transform="translate(914.11,738.39) scale(0.93,1)" font-size="11.4" font-weight="bold" text-anchor="start" fill="#000" >TC</text>
<text transform="translate(997.73,737.61) scale(0.93,1)" font-size="11.4" font-weight="bold" text-anchor="start" fill="#000" >HBA</text>
<text transform="translate(1009.48,751.46) scale(0.93,1)" font-size="11.4" font-weight="bold" text-anchor="start" fill="#000" >NP</text>
<text transform="translate(922.99,755.90) scale(0.93,1)" font-size="11.4" font-weight="bold" text-anchor="start" fill="#000" >CBZ</text>
<text transform="translate(965.59,753.28) scale(0.93,1)" font-size="11.4" font-weight="bold" text-anchor="start" fill="#000" >CIP</text>
<text transform="translate(942.59,765.30) scale(0.93,1)" font-size="11.4" font-weight="bold" text-anchor="start" fill="#000" >CTC</text>
<text transform="translate(1082.39,763.74) scale(0.93,1)" font-size="11.4" font-weight="bold" text-anchor="start" fill="#000" >NB</text>
<text transform="translate(1052.60,788.82) scale(0.93,1)" font-size="11.4" font-weight="bold" text-anchor="start" fill="#000" >CPL</text>
<text transform="translate(1089.70,802.41) scale(0.93,1)" font-size="11.4" font-weight="bold" text-anchor="start" fill="#000" >NBA</text>
<line x1="999.55" y1="683.52" x2="1022.55" y2="683.52" stroke="#fbe0e0" stroke-width="1" />
<rect x="999.55" y="689.27" width="22.99" height="11.24" fill="#f9bbbb" stroke="none" stroke-width="1" />
<text transform="translate(1025.68,685.35)" font-size="8.6" font-weight="bold" text-anchor="start" fill="#000" textLength="77.0" lengthAdjust="spacingAndGlyphs" >Linear fit of Cu-SAC</text>
<text transform="translate(1025.68,697.89)" font-size="8.6" font-weight="bold" text-anchor="start" fill="#000" textLength="90.5" lengthAdjust="spacingAndGlyphs" >95% Confidence bands</text>
<text transform="translate(911.50,796.66) scale(0.97,1)" font-size="12.6" font-weight="bold" text-anchor="start" fill="#000" >R<tspan font-size="7.6" dy="-4.6">2</tspan><tspan dy="4.6">=0.801</tspan></text>
<text transform="translate(911.50,813.65)" font-size="13" font-weight="bold" text-anchor="start" fill="#000" textLength="172.5" lengthAdjust="spacingAndGlyphs" >y=-1.71(±0.22)x+5.73 (±1.06)</text>
<rect x="904.20" y="673.80" width="212.90" height="152.40" fill="none" stroke="#000" stroke-width="1.3" />
<line x1="929.00" y1="826.20" x2="929.00" y2="829.40" stroke="#000" stroke-width="1.1" />
<text transform="translate(929.00,840.40) scale(0.98,1)" font-size="11" font-weight="bold" text-anchor="middle" fill="#000" >4.0</text>
<line x1="970.80" y1="826.20" x2="970.80" y2="829.40" stroke="#000" stroke-width="1.1" />
<text transform="translate(970.80,840.40) scale(0.98,1)" font-size="11" font-weight="bold" text-anchor="middle" fill="#000" >4.5</text>
<line x1="1012.60" y1="826.20" x2="1012.60" y2="829.40" stroke="#000" stroke-width="1.1" />
<text transform="translate(1012.60,840.40) scale(0.98,1)" font-size="11" font-weight="bold" text-anchor="middle" fill="#000" >5.0</text>
<line x1="1054.40" y1="826.20" x2="1054.40" y2="829.40" stroke="#000" stroke-width="1.1" />
<text transform="translate(1054.40,840.40) scale(0.98,1)" font-size="11" font-weight="bold" text-anchor="middle" fill="#000" >5.5</text>
<line x1="1096.20" y1="826.20" x2="1096.20" y2="829.40" stroke="#000" stroke-width="1.1" />
<text transform="translate(1096.20,840.40) scale(0.98,1)" font-size="11" font-weight="bold" text-anchor="middle" fill="#000" >6.0</text>
<line x1="908.10" y1="826.20" x2="908.10" y2="828.00" stroke="#000" stroke-width="0.9" />
<line x1="949.90" y1="826.20" x2="949.90" y2="828.00" stroke="#000" stroke-width="0.9" />
<line x1="991.70" y1="826.20" x2="991.70" y2="828.00" stroke="#000" stroke-width="0.9" />
<line x1="1033.50" y1="826.20" x2="1033.50" y2="828.00" stroke="#000" stroke-width="0.9" />
<line x1="1075.30" y1="826.20" x2="1075.30" y2="828.00" stroke="#000" stroke-width="0.9" />
<line x1="901.00" y1="674.15" x2="904.20" y2="674.15" stroke="#000" stroke-width="1.1" />
<text transform="translate(900.30,678.05) scale(0.98,1)" font-size="11" font-weight="bold" text-anchor="end" fill="#000" >1</text>
<line x1="902.40" y1="683.68" x2="904.20" y2="683.68" stroke="#000" stroke-width="0.9" />
<line x1="901.00" y1="693.20" x2="904.20" y2="693.20" stroke="#000" stroke-width="1.1" />
<text transform="translate(900.30,697.10) scale(0.98,1)" font-size="11" font-weight="bold" text-anchor="end" fill="#000" >0</text>
<line x1="902.40" y1="702.73" x2="904.20" y2="702.73" stroke="#000" stroke-width="0.9" />
<line x1="901.00" y1="712.25" x2="904.20" y2="712.25" stroke="#000" stroke-width="1.1" />
<text transform="translate(900.30,716.15) scale(0.98,1)" font-size="11" font-weight="bold" text-anchor="end" fill="#000" >-1</text>
<line x1="902.40" y1="721.78" x2="904.20" y2="721.78" stroke="#000" stroke-width="0.9" />
<line x1="901.00" y1="731.30" x2="904.20" y2="731.30" stroke="#000" stroke-width="1.1" />
<text transform="translate(900.30,735.20) scale(0.98,1)" font-size="11" font-weight="bold" text-anchor="end" fill="#000" >-2</text>
<line x1="902.40" y1="740.83" x2="904.20" y2="740.83" stroke="#000" stroke-width="0.9" />
<line x1="901.00" y1="750.35" x2="904.20" y2="750.35" stroke="#000" stroke-width="1.1" />
<text transform="translate(900.30,754.25) scale(0.98,1)" font-size="11" font-weight="bold" text-anchor="end" fill="#000" >-3</text>
<line x1="902.40" y1="759.88" x2="904.20" y2="759.88" stroke="#000" stroke-width="0.9" />
<line x1="901.00" y1="769.40" x2="904.20" y2="769.40" stroke="#000" stroke-width="1.1" />
<text transform="translate(900.30,773.30) scale(0.98,1)" font-size="11" font-weight="bold" text-anchor="end" fill="#000" >-4</text>
<line x1="902.40" y1="778.93" x2="904.20" y2="778.93" stroke="#000" stroke-width="0.9" />
<line x1="901.00" y1="788.45" x2="904.20" y2="788.45" stroke="#000" stroke-width="1.1" />
<text transform="translate(900.30,792.35) scale(0.98,1)" font-size="11" font-weight="bold" text-anchor="end" fill="#000" >-5</text>
<line x1="902.40" y1="797.98" x2="904.20" y2="797.98" stroke="#000" stroke-width="0.9" />
<line x1="901.00" y1="807.50" x2="904.20" y2="807.50" stroke="#000" stroke-width="1.1" />
<text transform="translate(900.30,811.40) scale(0.98,1)" font-size="11" font-weight="bold" text-anchor="end" fill="#000" >-6</text>
<line x1="902.40" y1="817.03" x2="904.20" y2="817.03" stroke="#000" stroke-width="0.9" />
<line x1="901.00" y1="826.55" x2="904.20" y2="826.55" stroke="#000" stroke-width="1.1" />
<text transform="translate(900.30,830.45) scale(0.98,1)" font-size="11" font-weight="bold" text-anchor="end" fill="#000" >-7</text>
<text transform="translate(910.70,857.80)" font-size="12.6" font-weight="bold" text-anchor="start" fill="#000" textLength="203.3" lengthAdjust="spacingAndGlyphs" >LUMO<tspan font-size="7.8" dy="3.2">(Cu-SAC/PMS)</tspan><tspan dy="-3.2">-HOMO</tspan><tspan font-size="7.8" dy="3.2">(Pollutants)</tspan><tspan dy="-3.2"> (eV)</tspan></text>
<text transform="translate(883.90,750.10) rotate(-90)" font-size="12.4" font-weight="bold" text-anchor="middle" fill="#000" textLength="40.0" lengthAdjust="spacingAndGlyphs" >ln (<tspan font-style="italic">K</tspan><tspan font-size="7.5" dy="2.5">obs</tspan><tspan dy="-2.5">)</tspan></text>
<text transform="translate(876.20,677.00) scale(0.82,1)" font-size="24.5" font-weight="bold" text-anchor="start" fill="#000" >K</text>
<path d="M424.0,931.7 L430.4,930.9 L436.7,930.1 L443.1,929.2 L449.4,928.3 L455.7,927.4 L462.1,926.5 L468.4,925.6 L474.8,924.6 L481.1,923.5 L487.4,922.4 L493.8,921.3 L500.1,920.1 L506.5,918.9 L512.8,917.7 L519.1,916.5 L525.5,915.3 L531.8,914.1 L538.2,912.8 L544.5,911.6 L550.8,910.3 L557.2,909.0 L563.5,907.7 L569.9,906.4 L576.2,905.1 L576.2,916.1 L569.9,916.8 L563.5,917.6 L557.2,918.4 L550.8,919.1 L544.5,919.9 L538.2,920.7 L531.8,921.5 L525.5,922.3 L519.1,923.1 L512.8,924.0 L506.5,924.8 L500.1,925.7 L493.8,926.6 L487.4,927.5 L481.1,928.4 L474.8,929.4 L468.4,930.5 L462.1,931.6 L455.7,932.7 L449.4,933.9 L443.1,935.0 L436.7,936.2 L430.4,937.4 L424.0,938.7" stroke="none" stroke-width="0" fill="#b0daab" stroke-linejoin="round" />
<line x1="424.05" y1="935.20" x2="576.20" y2="910.61" stroke="#1f8a1f" stroke-width="0.85" />
<circle cx="424.70" cy="936.06" r="1.7" fill="#1f8a1f" stroke="#1a8a1a" stroke-width="0.4" />
<circle cx="424.20" cy="935.46" r="0.7" fill="#fff" stroke="none" stroke-width="0" opacity="0.55"/>
<circle cx="437.11" cy="932.55" r="1.7" fill="#1f8a1f" stroke="#1a8a1a" stroke-width="0.4" />
<circle cx="436.61" cy="931.95" r="0.7" fill="#fff" stroke="none" stroke-width="0" opacity="0.55"/>
<circle cx="441.03" cy="931.37" r="1.7" fill="#1f8a1f" stroke="#1a8a1a" stroke-width="0.4" />
<circle cx="440.53" cy="930.77" r="0.7" fill="#fff" stroke="none" stroke-width="0" opacity="0.55"/>
<circle cx="444.94" cy="924.81" r="1.7" fill="#1f8a1f" stroke="#1a8a1a" stroke-width="0.4" />
<circle cx="444.44" cy="924.21" r="0.7" fill="#fff" stroke="none" stroke-width="0" opacity="0.55"/>
<circle cx="455.39" cy="935.13" r="1.7" fill="#1f8a1f" stroke="#1a8a1a" stroke-width="0.4" />
<circle cx="454.89" cy="934.53" r="0.7" fill="#fff" stroke="none" stroke-width="0" opacity="0.55"/>
<circle cx="457.35" cy="934.19" r="1.7" fill="#1f8a1f" stroke="#1a8a1a" stroke-width="0.4" />
<circle cx="456.85" cy="933.59" r="0.7" fill="#fff" stroke="none" stroke-width="0" opacity="0.55"/>
<circle cx="462.58" cy="932.08" r="1.7" fill="#1f8a1f" stroke="#1a8a1a" stroke-width="0.4" />
<circle cx="462.08" cy="931.48" r="0.7" fill="#fff" stroke="none" stroke-width="0" opacity="0.55"/>
<circle cx="463.23" cy="926.22" r="1.7" fill="#1f8a1f" stroke="#1a8a1a" stroke-width="0.4" />
<circle cx="462.73" cy="925.62" r="0.7" fill="#fff" stroke="none" stroke-width="0" opacity="0.55"/>
<circle cx="469.76" cy="932.78" r="1.7" fill="#1f8a1f" stroke="#1a8a1a" stroke-width="0.4" />
<circle cx="469.26" cy="932.18" r="0.7" fill="#fff" stroke="none" stroke-width="0" opacity="0.55"/>
<circle cx="481.51" cy="933.25" r="1.7" fill="#1f8a1f" stroke="#1a8a1a" stroke-width="0.4" />
<circle cx="481.01" cy="932.65" r="0.7" fill="#fff" stroke="none" stroke-width="0" opacity="0.55"/>
<circle cx="491.31" cy="921.53" r="1.7" fill="#1f8a1f" stroke="#1a8a1a" stroke-width="0.4" />
<circle cx="490.81" cy="920.93" r="0.7" fill="#fff" stroke="none" stroke-width="0" opacity="0.55"/>
<circle cx="536.36" cy="913.79" r="1.7" fill="#1f8a1f" stroke="#1a8a1a" stroke-width="0.4" />
<circle cx="535.86" cy="913.19" r="0.7" fill="#fff" stroke="none" stroke-width="0" opacity="0.55"/>
<circle cx="555.95" cy="916.37" r="1.7" fill="#1f8a1f" stroke="#1a8a1a" stroke-width="0.4" />
<circle cx="555.45" cy="915.77" r="0.7" fill="#fff" stroke="none" stroke-width="0" opacity="0.55"/>
<circle cx="574.89" cy="908.39" r="1.7" fill="#1f8a1f" stroke="#1a8a1a" stroke-width="0.4" />
<circle cx="574.39" cy="907.79" r="0.7" fill="#fff" stroke="none" stroke-width="0" opacity="0.55"/>
<line x1="447.54" y1="922.71" x2="449.46" y2="918.61" stroke="#1a8a1a" stroke-width="1.55" />
<polygon points="451.5,914.4 451.5,920.1 447.0,918.0" fill="#1a8a1a"/>
<line x1="464.52" y1="924.02" x2="465.82" y2="916.37" stroke="#1a8a1a" stroke-width="1.55" />
<polygon points="466.6,911.7 468.2,917.3 463.3,916.4" fill="#1a8a1a"/>
<line x1="471.84" y1="930.55" x2="482.86" y2="913.59" stroke="#1a8a1a" stroke-width="1.55" />
<polygon points="485.4,909.6 484.7,915.4 480.5,912.6" fill="#1a8a1a"/>
<line x1="437.08" y1="933.69" x2="431.14" y2="947.16" stroke="#1a8a1a" stroke-width="1.55" />
<polygon points="429.2,951.5 429.1,945.7 433.6,947.7" fill="#1a8a1a"/>
<line x1="443.09" y1="931.86" x2="445.70" y2="937.98" stroke="#1a8a1a" stroke-width="1.55" />
<polygon points="447.5,942.3 443.2,938.5 447.8,936.5" fill="#1a8a1a"/>
<line x1="456.16" y1="937.08" x2="458.47" y2="949.96" stroke="#1a8a1a" stroke-width="1.55" />
<polygon points="459.3,954.6 455.9,949.9 460.8,949.0" fill="#1a8a1a"/>
<line x1="460.60" y1="935.78" x2="470.10" y2="953.08" stroke="#1a8a1a" stroke-width="1.55" />
<polygon points="472.4,957.2 467.7,953.8 472.0,951.4" fill="#1a8a1a"/>
<line x1="465.30" y1="932.64" x2="492.06" y2="951.85" stroke="#1a8a1a" stroke-width="1.55" />
<polygon points="495.9,954.6 490.2,953.6 493.1,949.5" fill="#1a8a1a"/>
<text transform="translate(444.40,912.26) scale(0.93,1)" font-size="11.4" font-weight="bold" text-anchor="start" fill="#000" >TC</text>
<text transform="translate(458.77,910.95) scale(0.93,1)" font-size="11.4" font-weight="bold" text-anchor="start" fill="#000" >CIP</text>
<text transform="translate(478.89,909.65) scale(0.93,1)" font-size="11.4" font-weight="bold" text-anchor="start" fill="#000" >SMZ</text>
<text transform="translate(488.04,919.58) scale(0.93,1)" font-size="11.4" font-weight="bold" text-anchor="start" fill="#000" >NP</text>
<text transform="translate(531.15,910.43) scale(0.93,1)" font-size="11.4" font-weight="bold" text-anchor="start" fill="#000" >CPL</text>
<text transform="translate(574.79,906.51) scale(0.93,1)" font-size="11.4" font-weight="bold" text-anchor="start" fill="#000" >NBA</text>
<text transform="translate(552.06,928.46) scale(0.93,1)" font-size="11.4" font-weight="bold" text-anchor="start" fill="#000" >NB</text>
<text transform="translate(425.85,928.46) scale(0.93,1)" font-size="11.4" font-weight="bold" text-anchor="start" fill="#000" >CTC</text>
<text transform="translate(397.37,934.99) scale(0.93,1)" font-size="11.4" font-weight="bold" text-anchor="start" fill="#000" >PCM</text>
<text transform="translate(487.52,940.22) scale(0.93,1)" font-size="11.4" font-weight="bold" text-anchor="start" fill="#000" >HBA</text>
<text transform="translate(410.17,948.84) scale(0.93,1)" font-size="11.4" font-weight="bold" text-anchor="start" fill="#000" >BPA</text>
<text transform="translate(440.22,951.46) scale(0.93,1)" font-size="11.4" font-weight="bold" text-anchor="start" fill="#000" >CBZ</text>
<text transform="translate(422.19,961.38) scale(0.93,1)" font-size="11.4" font-weight="bold" text-anchor="start" fill="#000" >NPX</text>
<text transform="translate(455.90,965.04) scale(0.93,1)" font-size="11.4" font-weight="bold" text-anchor="start" fill="#000" >CP</text>
<text transform="translate(470.27,968.44) scale(0.93,1)" font-size="11.4" font-weight="bold" text-anchor="start" fill="#000" >SN</text>
<text transform="translate(494.57,966.35) scale(0.93,1)" font-size="11.4" font-weight="bold" text-anchor="start" fill="#000" >SMT</text>
<line x1="405.73" y1="884.82" x2="429.24" y2="884.82" stroke="#1f8a1f" stroke-width="1" />
<rect x="405.73" y="891.36" width="23.52" height="10.97" fill="#b0daab" stroke="none" stroke-width="1" />
<text transform="translate(431.86,887.44)" font-size="8.6" font-weight="bold" text-anchor="start" fill="#000" textLength="77.0" lengthAdjust="spacingAndGlyphs" >Linear fit of Fe-SAC</text>
<text transform="translate(431.86,900.50)" font-size="8.6" font-weight="bold" text-anchor="start" fill="#000" textLength="90.5" lengthAdjust="spacingAndGlyphs" >95% Confidence bands</text>
<text transform="translate(409.65,996.40) scale(0.97,1)" font-size="12.6" font-weight="bold" text-anchor="start" fill="#000" >R<tspan font-size="7.6" dy="-4.6">2</tspan><tspan dy="4.6">=0.763</tspan></text>
<text transform="translate(409.65,1013.38)" font-size="13" font-weight="bold" text-anchor="start" fill="#000" textLength="161.5" lengthAdjust="spacingAndGlyphs" >y=0.45(±0.07)x-0.73(±0.31)</text>
<rect x="397.90" y="874.40" width="211.60" height="152.80" fill="none" stroke="#000" stroke-width="1.3" />
<line x1="413.60" y1="1027.20" x2="413.60" y2="1030.40" stroke="#000" stroke-width="1.1" />
<text transform="translate(413.60,1041.40) scale(0.98,1)" font-size="11" font-weight="bold" text-anchor="middle" fill="#000" >3.5</text>
<line x1="446.25" y1="1027.20" x2="446.25" y2="1030.40" stroke="#000" stroke-width="1.1" />
<text transform="translate(446.25,1041.40) scale(0.98,1)" font-size="11" font-weight="bold" text-anchor="middle" fill="#000" >4.0</text>
<line x1="478.90" y1="1027.20" x2="478.90" y2="1030.40" stroke="#000" stroke-width="1.1" />
<text transform="translate(478.90,1041.40) scale(0.98,1)" font-size="11" font-weight="bold" text-anchor="middle" fill="#000" >4.5</text>
<line x1="511.55" y1="1027.20" x2="511.55" y2="1030.40" stroke="#000" stroke-width="1.1" />
<text transform="translate(511.55,1041.40) scale(0.98,1)" font-size="11" font-weight="bold" text-anchor="middle" fill="#000" >5.0</text>
<line x1="544.20" y1="1027.20" x2="544.20" y2="1030.40" stroke="#000" stroke-width="1.1" />
<text transform="translate(544.20,1041.40) scale(0.98,1)" font-size="11" font-weight="bold" text-anchor="middle" fill="#000" >5.5</text>
<line x1="576.85" y1="1027.20" x2="576.85" y2="1030.40" stroke="#000" stroke-width="1.1" />
<text transform="translate(576.85,1041.40) scale(0.98,1)" font-size="11" font-weight="bold" text-anchor="middle" fill="#000" >6.0</text>
<line x1="609.50" y1="1027.20" x2="609.50" y2="1030.40" stroke="#000" stroke-width="1.1" />
<text transform="translate(609.50,1041.40) scale(0.98,1)" font-size="11" font-weight="bold" text-anchor="middle" fill="#000" >6.5</text>
<line x1="429.93" y1="1027.20" x2="429.93" y2="1029.00" stroke="#000" stroke-width="0.9" />
<line x1="462.58" y1="1027.20" x2="462.58" y2="1029.00" stroke="#000" stroke-width="0.9" />
<line x1="495.23" y1="1027.20" x2="495.23" y2="1029.00" stroke="#000" stroke-width="0.9" />
<line x1="527.88" y1="1027.20" x2="527.88" y2="1029.00" stroke="#000" stroke-width="0.9" />
<line x1="560.52" y1="1027.20" x2="560.52" y2="1029.00" stroke="#000" stroke-width="0.9" />
<line x1="593.17" y1="1027.20" x2="593.17" y2="1029.00" stroke="#000" stroke-width="0.9" />
<line x1="394.70" y1="886.35" x2="397.90" y2="886.35" stroke="#000" stroke-width="1.1" />
<text transform="translate(393.40,890.25) scale(0.98,1)" font-size="11" font-weight="bold" text-anchor="end" fill="#000" >3</text>
<line x1="396.10" y1="898.08" x2="397.90" y2="898.08" stroke="#000" stroke-width="0.9" />
<line x1="394.70" y1="909.80" x2="397.90" y2="909.80" stroke="#000" stroke-width="1.1" />
<text transform="translate(393.40,913.70) scale(0.98,1)" font-size="11" font-weight="bold" text-anchor="end" fill="#000" >2</text>
<line x1="396.10" y1="921.53" x2="397.90" y2="921.53" stroke="#000" stroke-width="0.9" />
<line x1="394.70" y1="933.25" x2="397.90" y2="933.25" stroke="#000" stroke-width="1.1" />
<text transform="translate(393.40,937.15) scale(0.98,1)" font-size="11" font-weight="bold" text-anchor="end" fill="#000" >1</text>
<line x1="396.10" y1="944.98" x2="397.90" y2="944.98" stroke="#000" stroke-width="0.9" />
<line x1="394.70" y1="956.70" x2="397.90" y2="956.70" stroke="#000" stroke-width="1.1" />
<text transform="translate(393.40,960.60) scale(0.98,1)" font-size="11" font-weight="bold" text-anchor="end" fill="#000" >0</text>
<line x1="396.10" y1="968.43" x2="397.90" y2="968.43" stroke="#000" stroke-width="0.9" />
<line x1="394.70" y1="980.15" x2="397.90" y2="980.15" stroke="#000" stroke-width="1.1" />
<text transform="translate(393.40,984.05) scale(0.98,1)" font-size="11" font-weight="bold" text-anchor="end" fill="#000" >-1</text>
<line x1="396.10" y1="991.88" x2="397.90" y2="991.88" stroke="#000" stroke-width="0.9" />
<line x1="394.70" y1="1003.60" x2="397.90" y2="1003.60" stroke="#000" stroke-width="1.1" />
<text transform="translate(393.40,1007.50) scale(0.98,1)" font-size="11" font-weight="bold" text-anchor="end" fill="#000" >-2</text>
<line x1="396.10" y1="1015.33" x2="397.90" y2="1015.33" stroke="#000" stroke-width="0.9" />
<line x1="394.70" y1="1027.05" x2="397.90" y2="1027.05" stroke="#000" stroke-width="1.1" />
<text transform="translate(393.40,1030.95) scale(0.98,1)" font-size="11" font-weight="bold" text-anchor="end" fill="#000" >-3</text>
<text transform="translate(400.50,1057.30)" font-size="12.6" font-weight="bold" text-anchor="start" fill="#000" textLength="203.0" lengthAdjust="spacingAndGlyphs" >LUMO<tspan font-size="7.8" dy="3.2">(Fe-SAC/PMS)</tspan><tspan dy="-3.2">-HOMO</tspan><tspan font-size="7.8" dy="3.2">(Pollutants)</tspan><tspan dy="-3.2"> (eV)</tspan></text>
<text transform="translate(377.90,950.80) rotate(-90)" font-size="11.8" font-weight="bold" text-anchor="middle" fill="#000" textLength="137.0" lengthAdjust="spacingAndGlyphs" >Electrophilicity index (eV)</text>
<text transform="translate(376.20,873.60) scale(0.8,1)" font-size="24.5" font-weight="bold" text-anchor="start" fill="#000" >L</text>
<path d="M664.6,931.8 L671.7,930.9 L678.8,930.1 L685.9,929.2 L693.0,928.4 L700.1,927.5 L707.2,926.6 L714.3,925.6 L721.4,924.6 L728.5,923.6 L735.6,922.5 L742.8,921.3 L749.9,920.2 L757.0,919.0 L764.1,917.8 L771.2,916.6 L778.3,915.3 L785.4,914.1 L792.5,912.9 L799.6,911.6 L806.7,910.3 L813.8,909.1 L820.9,907.8 L828.0,906.5 L835.1,905.2 L835.1,916.2 L828.0,916.9 L820.9,917.6 L813.8,918.4 L806.7,919.2 L799.6,920.0 L792.5,920.7 L785.4,921.5 L778.3,922.4 L771.2,923.2 L764.1,924.0 L757.0,924.9 L749.9,925.7 L742.8,926.6 L735.6,927.5 L728.5,928.5 L721.4,929.4 L714.3,930.5 L707.2,931.6 L700.1,932.8 L693.0,933.9 L685.9,935.1 L678.8,936.3 L671.7,937.5 L664.6,938.7" stroke="none" stroke-width="0" fill="#bfe4f9" stroke-linejoin="round" />
<line x1="664.58" y1="935.24" x2="835.14" y2="910.66" stroke="#1f8ae0" stroke-width="0.85" />
<circle cx="666.41" cy="936.06" r="1.7" fill="#1f8ae0" stroke="#1a78c8" stroke-width="0.4" />
<circle cx="665.91" cy="935.46" r="0.7" fill="#fff" stroke="none" stroke-width="0" opacity="0.55"/>
<circle cx="680.32" cy="932.55" r="1.7" fill="#1f8ae0" stroke="#1a78c8" stroke-width="0.4" />
<circle cx="679.82" cy="931.95" r="0.7" fill="#fff" stroke="none" stroke-width="0" opacity="0.55"/>
<circle cx="684.71" cy="931.37" r="1.7" fill="#1f8ae0" stroke="#1a78c8" stroke-width="0.4" />
<circle cx="684.21" cy="930.77" r="0.7" fill="#fff" stroke="none" stroke-width="0" opacity="0.55"/>
<circle cx="689.10" cy="924.81" r="1.7" fill="#1f8ae0" stroke="#1a78c8" stroke-width="0.4" />
<circle cx="688.60" cy="924.21" r="0.7" fill="#fff" stroke="none" stroke-width="0" opacity="0.55"/>
<circle cx="700.81" cy="935.13" r="1.7" fill="#1f8ae0" stroke="#1a78c8" stroke-width="0.4" />
<circle cx="700.31" cy="934.53" r="0.7" fill="#fff" stroke="none" stroke-width="0" opacity="0.55"/>
<circle cx="703.01" cy="934.19" r="1.7" fill="#1f8ae0" stroke="#1a78c8" stroke-width="0.4" />
<circle cx="702.51" cy="933.59" r="0.7" fill="#fff" stroke="none" stroke-width="0" opacity="0.55"/>
<circle cx="708.87" cy="932.08" r="1.7" fill="#1f8ae0" stroke="#1a78c8" stroke-width="0.4" />
<circle cx="708.37" cy="931.48" r="0.7" fill="#fff" stroke="none" stroke-width="0" opacity="0.55"/>
<circle cx="709.60" cy="926.22" r="1.7" fill="#1f8ae0" stroke="#1a78c8" stroke-width="0.4" />
<circle cx="709.10" cy="925.62" r="0.7" fill="#fff" stroke="none" stroke-width="0" opacity="0.55"/>
<circle cx="716.92" cy="932.78" r="1.7" fill="#1f8ae0" stroke="#1a78c8" stroke-width="0.4" />
<circle cx="716.42" cy="932.18" r="0.7" fill="#fff" stroke="none" stroke-width="0" opacity="0.55"/>
<circle cx="730.09" cy="933.25" r="1.7" fill="#1f8ae0" stroke="#1a78c8" stroke-width="0.4" />
<circle cx="729.59" cy="932.65" r="0.7" fill="#fff" stroke="none" stroke-width="0" opacity="0.55"/>
<circle cx="741.07" cy="921.53" r="1.7" fill="#1f8ae0" stroke="#1a78c8" stroke-width="0.4" />
<circle cx="740.57" cy="920.93" r="0.7" fill="#fff" stroke="none" stroke-width="0" opacity="0.55"/>
<circle cx="791.58" cy="913.79" r="1.7" fill="#1f8ae0" stroke="#1a78c8" stroke-width="0.4" />
<circle cx="791.08" cy="913.19" r="0.7" fill="#fff" stroke="none" stroke-width="0" opacity="0.55"/>
<circle cx="813.54" cy="916.37" r="1.7" fill="#1f8ae0" stroke="#1a78c8" stroke-width="0.4" />
<circle cx="813.04" cy="915.77" r="0.7" fill="#fff" stroke="none" stroke-width="0" opacity="0.55"/>
<circle cx="834.77" cy="908.39" r="1.7" fill="#1f8ae0" stroke="#1a78c8" stroke-width="0.4" />
<circle cx="834.27" cy="907.79" r="0.7" fill="#fff" stroke="none" stroke-width="0" opacity="0.55"/>
<line x1="688.39" y1="924.02" x2="691.38" y2="918.49" stroke="#1a78c8" stroke-width="1.55" />
<polygon points="693.6,914.4 693.3,920.1 688.9,917.7" fill="#1a78c8"/>
<line x1="710.60" y1="926.63" x2="713.17" y2="918.07" stroke="#1a78c8" stroke-width="1.55" />
<polygon points="714.5,913.6 715.4,919.3 710.6,917.8" fill="#1a78c8"/>
<line x1="718.44" y1="930.03" x2="726.63" y2="915.08" stroke="#1a78c8" stroke-width="1.55" />
<polygon points="728.9,911.0 728.6,916.7 724.2,914.3" fill="#1a78c8"/>
<line x1="680.03" y1="933.16" x2="674.09" y2="946.63" stroke="#1a78c8" stroke-width="1.55" />
<polygon points="672.2,950.9 672.0,945.2 676.6,947.2" fill="#1a78c8"/>
<line x1="685.78" y1="931.07" x2="689.44" y2="937.45" stroke="#1a78c8" stroke-width="1.55" />
<polygon points="691.8,941.5 687.0,938.3 691.4,935.8" fill="#1a78c8"/>
<line x1="701.46" y1="937.08" x2="705.74" y2="950.13" stroke="#1a78c8" stroke-width="1.55" />
<polygon points="707.2,954.6 703.2,950.4 708.0,948.9" fill="#1a78c8"/>
<line x1="709.29" y1="935.78" x2="715.48" y2="952.28" stroke="#1a78c8" stroke-width="1.55" />
<polygon points="717.1,956.7 713.0,952.7 717.6,950.9" fill="#1a78c8"/>
<line x1="714.52" y1="933.16" x2="739.00" y2="951.75" stroke="#1a78c8" stroke-width="1.55" />
<polygon points="742.7,954.6 737.1,953.4 740.1,949.5" fill="#1a78c8"/>
<text transform="translate(691.79,912.26) scale(0.93,1)" font-size="11.4" font-weight="bold" text-anchor="start" fill="#000" >TC</text>
<text transform="translate(705.90,910.95) scale(0.93,1)" font-size="11.4" font-weight="bold" text-anchor="start" fill="#000" >CIP</text>
<text transform="translate(725.76,908.86) scale(0.93,1)" font-size="11.4" font-weight="bold" text-anchor="start" fill="#000" >SMZ</text>
<text transform="translate(735.42,918.79) scale(0.93,1)" font-size="11.4" font-weight="bold" text-anchor="start" fill="#000" >NP</text>
<text transform="translate(778.54,910.43) scale(0.93,1)" font-size="11.4" font-weight="bold" text-anchor="start" fill="#000" >CPL</text>
<text transform="translate(821.65,905.73) scale(0.93,1)" font-size="11.4" font-weight="bold" text-anchor="start" fill="#000" >NBA</text>
<text transform="translate(799.44,928.46) scale(0.93,1)" font-size="11.4" font-weight="bold" text-anchor="start" fill="#000" >NB</text>
<text transform="translate(667.49,924.02) scale(0.93,1)" font-size="11.4" font-weight="bold" text-anchor="start" fill="#000" >CTC</text>
<text transform="translate(651.29,933.16) scale(0.93,1)" font-size="11.4" font-weight="bold" text-anchor="start" fill="#000" >PCM</text>
<text transform="translate(734.90,939.70) scale(0.93,1)" font-size="11.4" font-weight="bold" text-anchor="start" fill="#000" >HBA</text>
<text transform="translate(654.42,946.75) scale(0.93,1)" font-size="11.4" font-weight="bold" text-anchor="start" fill="#000" >BPA</text>
<text transform="translate(682.64,951.46) scale(0.93,1)" font-size="11.4" font-weight="bold" text-anchor="start" fill="#000" >CBZ</text>
<text transform="translate(664.35,960.60) scale(0.93,1)" font-size="11.4" font-weight="bold" text-anchor="start" fill="#000" >NPX</text>
<text transform="translate(702.76,964.52) scale(0.93,1)" font-size="11.4" font-weight="bold" text-anchor="start" fill="#000" >CP</text>
<text transform="translate(717.13,967.92) scale(0.93,1)" font-size="11.4" font-weight="bold" text-anchor="start" fill="#000" >SN</text>
<text transform="translate(741.43,965.83) scale(0.93,1)" font-size="11.4" font-weight="bold" text-anchor="start" fill="#000" >SMT</text>
<line x1="658.34" y1="884.82" x2="681.07" y2="884.82" stroke="#1f8ae0" stroke-width="1" />
<rect x="658.34" y="891.36" width="22.73" height="10.97" fill="#bfe4f9" stroke="none" stroke-width="1" />
<text transform="translate(684.47,887.44)" font-size="8.6" font-weight="bold" text-anchor="start" fill="#000" textLength="77.0" lengthAdjust="spacingAndGlyphs" >Linear fit of Co-SAC</text>
<text transform="translate(684.47,900.50)" font-size="8.6" font-weight="bold" text-anchor="start" fill="#000" textLength="90.5" lengthAdjust="spacingAndGlyphs" >95% Confidence bands</text>
<text transform="translate(657.03,995.88) scale(0.97,1)" font-size="12.6" font-weight="bold" text-anchor="start" fill="#000" >R<tspan font-size="7.6" dy="-4.6">2</tspan><tspan dy="4.6">=0.763</tspan></text>
<text transform="translate(657.03,1012.86)" font-size="13" font-weight="bold" text-anchor="start" fill="#000" textLength="161.3" lengthAdjust="spacingAndGlyphs" >y=0.45(±0.07)x-0.39(±0.26)</text>
<rect x="651.00" y="874.40" width="212.50" height="152.30" fill="none" stroke="#000" stroke-width="1.3" />
<line x1="671.90" y1="1026.70" x2="671.90" y2="1029.90" stroke="#000" stroke-width="1.1" />
<text transform="translate(671.90,1040.90) scale(0.98,1)" font-size="11" font-weight="bold" text-anchor="middle" fill="#000" >3.0</text>
<line x1="708.50" y1="1026.70" x2="708.50" y2="1029.90" stroke="#000" stroke-width="1.1" />
<text transform="translate(708.50,1040.90) scale(0.98,1)" font-size="11" font-weight="bold" text-anchor="middle" fill="#000" >3.5</text>
<line x1="745.10" y1="1026.70" x2="745.10" y2="1029.90" stroke="#000" stroke-width="1.1" />
<text transform="translate(745.10,1040.90) scale(0.98,1)" font-size="11" font-weight="bold" text-anchor="middle" fill="#000" >4.0</text>
<line x1="781.70" y1="1026.70" x2="781.70" y2="1029.90" stroke="#000" stroke-width="1.1" />
<text transform="translate(781.70,1040.90) scale(0.98,1)" font-size="11" font-weight="bold" text-anchor="middle" fill="#000" >4.5</text>
<line x1="818.30" y1="1026.70" x2="818.30" y2="1029.90" stroke="#000" stroke-width="1.1" />
<text transform="translate(818.30,1040.90) scale(0.98,1)" font-size="11" font-weight="bold" text-anchor="middle" fill="#000" >5.0</text>
<line x1="854.90" y1="1026.70" x2="854.90" y2="1029.90" stroke="#000" stroke-width="1.1" />
<text transform="translate(854.90,1040.90) scale(0.98,1)" font-size="11" font-weight="bold" text-anchor="middle" fill="#000" >5.5</text>
<line x1="653.60" y1="1026.70" x2="653.60" y2="1028.50" stroke="#000" stroke-width="0.9" />
<line x1="690.20" y1="1026.70" x2="690.20" y2="1028.50" stroke="#000" stroke-width="0.9" />
<line x1="726.80" y1="1026.70" x2="726.80" y2="1028.50" stroke="#000" stroke-width="0.9" />
<line x1="763.40" y1="1026.70" x2="763.40" y2="1028.50" stroke="#000" stroke-width="0.9" />
<line x1="800.00" y1="1026.70" x2="800.00" y2="1028.50" stroke="#000" stroke-width="0.9" />
<line x1="836.60" y1="1026.70" x2="836.60" y2="1028.50" stroke="#000" stroke-width="0.9" />
<line x1="647.80" y1="886.35" x2="651.00" y2="886.35" stroke="#000" stroke-width="1.1" />
<text transform="translate(646.00,890.25) scale(0.98,1)" font-size="11" font-weight="bold" text-anchor="end" fill="#000" >3</text>
<line x1="649.20" y1="898.08" x2="651.00" y2="898.08" stroke="#000" stroke-width="0.9" />
<line x1="647.80" y1="909.80" x2="651.00" y2="909.80" stroke="#000" stroke-width="1.1" />
<text transform="translate(646.00,913.70) scale(0.98,1)" font-size="11" font-weight="bold" text-anchor="end" fill="#000" >2</text>
<line x1="649.20" y1="921.53" x2="651.00" y2="921.53" stroke="#000" stroke-width="0.9" />
<line x1="647.80" y1="933.25" x2="651.00" y2="933.25" stroke="#000" stroke-width="1.1" />
<text transform="translate(646.00,937.15) scale(0.98,1)" font-size="11" font-weight="bold" text-anchor="end" fill="#000" >1</text>
<line x1="649.20" y1="944.98" x2="651.00" y2="944.98" stroke="#000" stroke-width="0.9" />
<line x1="647.80" y1="956.70" x2="651.00" y2="956.70" stroke="#000" stroke-width="1.1" />
<text transform="translate(646.00,960.60) scale(0.98,1)" font-size="11" font-weight="bold" text-anchor="end" fill="#000" >0</text>
<line x1="649.20" y1="968.43" x2="651.00" y2="968.43" stroke="#000" stroke-width="0.9" />
<line x1="647.80" y1="980.15" x2="651.00" y2="980.15" stroke="#000" stroke-width="1.1" />
<text transform="translate(646.00,984.05) scale(0.98,1)" font-size="11" font-weight="bold" text-anchor="end" fill="#000" >-1</text>
<line x1="649.20" y1="991.88" x2="651.00" y2="991.88" stroke="#000" stroke-width="0.9" />
<line x1="647.80" y1="1003.60" x2="651.00" y2="1003.60" stroke="#000" stroke-width="1.1" />
<text transform="translate(646.00,1007.50) scale(0.98,1)" font-size="11" font-weight="bold" text-anchor="end" fill="#000" >-2</text>
<line x1="649.20" y1="1015.33" x2="651.00" y2="1015.33" stroke="#000" stroke-width="0.9" />
<line x1="647.80" y1="1027.05" x2="651.00" y2="1027.05" stroke="#000" stroke-width="1.1" />
<text transform="translate(646.00,1030.95) scale(0.98,1)" font-size="11" font-weight="bold" text-anchor="end" fill="#000" >-3</text>
<text transform="translate(649.70,1057.30)" font-size="12.6" font-weight="bold" text-anchor="start" fill="#000" textLength="203.8" lengthAdjust="spacingAndGlyphs" >LUMO<tspan font-size="7.8" dy="3.2">(Co-SAC/PMS)</tspan><tspan dy="-3.2">-HOMO</tspan><tspan font-size="7.8" dy="3.2">(Pollutants)</tspan><tspan dy="-3.2"> (eV)</tspan></text>
<text transform="translate(630.50,950.80) rotate(-90)" font-size="11.8" font-weight="bold" text-anchor="middle" fill="#000" textLength="137.0" lengthAdjust="spacingAndGlyphs" >Electrophilicity index (eV)</text>
<text transform="translate(624.40,878.80) scale(1.2,1)" font-size="24.5" font-weight="bold" text-anchor="start" fill="#000" >M</text>
<path d="M928.5,930.9 L935.3,930.0 L942.2,929.2 L949.1,928.4 L955.9,927.5 L962.8,926.6 L969.7,925.7 L976.5,924.8 L983.4,923.8 L990.2,922.8 L997.1,921.7 L1004.0,920.5 L1010.8,919.4 L1017.7,918.2 L1024.6,917.0 L1031.4,915.8 L1038.3,914.6 L1045.1,913.4 L1052.0,912.2 L1058.9,910.9 L1065.7,909.6 L1072.6,908.4 L1079.5,907.1 L1086.3,905.8 L1093.2,904.5 L1093.2,915.5 L1086.3,916.2 L1079.5,917.0 L1072.6,917.7 L1065.7,918.5 L1058.9,919.3 L1052.0,920.0 L1045.1,920.8 L1038.3,921.6 L1031.4,922.4 L1024.6,923.3 L1017.7,924.1 L1010.8,925.0 L1004.0,925.8 L997.1,926.7 L990.2,927.7 L983.4,928.6 L976.5,929.7 L969.7,930.8 L962.8,931.9 L955.9,933.1 L949.1,934.2 L942.2,935.4 L935.3,936.6 L928.5,937.8" stroke="none" stroke-width="0" fill="#f9bbbb" stroke-linejoin="round" />
<line x1="928.48" y1="934.34" x2="1093.18" y2="910.01" stroke="#f01414" stroke-width="0.85" />
<circle cx="929.19" cy="935.31" r="1.7" fill="#f01414" stroke="#e81414" stroke-width="0.4" />
<circle cx="928.69" cy="934.71" r="0.7" fill="#fff" stroke="none" stroke-width="0" opacity="0.55"/>
<circle cx="942.74" cy="931.80" r="1.7" fill="#f01414" stroke="#e81414" stroke-width="0.4" />
<circle cx="942.24" cy="931.20" r="0.7" fill="#fff" stroke="none" stroke-width="0" opacity="0.55"/>
<circle cx="947.02" cy="930.63" r="1.7" fill="#f01414" stroke="#e81414" stroke-width="0.4" />
<circle cx="946.52" cy="930.03" r="0.7" fill="#fff" stroke="none" stroke-width="0" opacity="0.55"/>
<circle cx="951.30" cy="924.08" r="1.7" fill="#f01414" stroke="#e81414" stroke-width="0.4" />
<circle cx="950.80" cy="923.48" r="0.7" fill="#fff" stroke="none" stroke-width="0" opacity="0.55"/>
<circle cx="962.71" cy="934.37" r="1.7" fill="#f01414" stroke="#e81414" stroke-width="0.4" />
<circle cx="962.21" cy="933.77" r="0.7" fill="#fff" stroke="none" stroke-width="0" opacity="0.55"/>
<circle cx="964.84" cy="933.44" r="1.7" fill="#f01414" stroke="#e81414" stroke-width="0.4" />
<circle cx="964.34" cy="932.84" r="0.7" fill="#fff" stroke="none" stroke-width="0" opacity="0.55"/>
<circle cx="970.55" cy="931.33" r="1.7" fill="#f01414" stroke="#e81414" stroke-width="0.4" />
<circle cx="970.05" cy="930.73" r="0.7" fill="#fff" stroke="none" stroke-width="0" opacity="0.55"/>
<circle cx="971.26" cy="925.48" r="1.7" fill="#f01414" stroke="#e81414" stroke-width="0.4" />
<circle cx="970.76" cy="924.88" r="0.7" fill="#fff" stroke="none" stroke-width="0" opacity="0.55"/>
<circle cx="978.39" cy="932.03" r="1.7" fill="#f01414" stroke="#e81414" stroke-width="0.4" />
<circle cx="977.89" cy="931.43" r="0.7" fill="#fff" stroke="none" stroke-width="0" opacity="0.55"/>
<circle cx="991.23" cy="932.50" r="1.7" fill="#f01414" stroke="#e81414" stroke-width="0.4" />
<circle cx="990.73" cy="931.90" r="0.7" fill="#fff" stroke="none" stroke-width="0" opacity="0.55"/>
<circle cx="1001.92" cy="920.80" r="1.7" fill="#f01414" stroke="#e81414" stroke-width="0.4" />
<circle cx="1001.42" cy="920.20" r="0.7" fill="#fff" stroke="none" stroke-width="0" opacity="0.55"/>
<circle cx="1051.12" cy="913.08" r="1.7" fill="#f01414" stroke="#e81414" stroke-width="0.4" />
<circle cx="1050.62" cy="912.48" r="0.7" fill="#fff" stroke="none" stroke-width="0" opacity="0.55"/>
<circle cx="1072.51" cy="915.65" r="1.7" fill="#f01414" stroke="#e81414" stroke-width="0.4" />
<circle cx="1072.01" cy="915.05" r="0.7" fill="#fff" stroke="none" stroke-width="0" opacity="0.55"/>
<circle cx="1093.18" cy="907.70" r="1.7" fill="#f01414" stroke="#e81414" stroke-width="0.4" />
<circle cx="1092.68" cy="907.10" r="0.7" fill="#fff" stroke="none" stroke-width="0" opacity="0.55"/>
<line x1="948.60" y1="924.02" x2="951.59" y2="918.49" stroke="#e81414" stroke-width="1.55" />
<polygon points="953.8,914.4 953.6,920.1 949.2,917.7" fill="#e81414"/>
<line x1="970.29" y1="926.63" x2="973.58" y2="917.96" stroke="#e81414" stroke-width="1.55" />
<polygon points="975.3,913.6 975.7,919.3 971.1,917.5" fill="#e81414"/>
<line x1="978.65" y1="930.03" x2="987.16" y2="916.26" stroke="#e81414" stroke-width="1.55" />
<polygon points="989.6,912.3 989.0,918.0 984.8,915.4" fill="#e81414"/>
<line x1="940.76" y1="933.16" x2="934.82" y2="946.63" stroke="#e81414" stroke-width="1.55" />
<polygon points="932.9,950.9 932.7,945.2 937.3,947.2" fill="#e81414"/>
<line x1="947.29" y1="931.07" x2="950.42" y2="937.32" stroke="#e81414" stroke-width="1.55" />
<polygon points="952.5,941.5 948.0,938.0 952.4,935.8" fill="#e81414"/>
<line x1="962.19" y1="936.56" x2="966.31" y2="950.09" stroke="#e81414" stroke-width="1.55" />
<polygon points="967.7,954.6 963.8,950.3 968.6,948.9" fill="#e81414"/>
<line x1="968.20" y1="934.47" x2="975.95" y2="951.87" stroke="#e81414" stroke-width="1.55" />
<polygon points="977.9,956.2 973.5,952.4 978.0,950.4" fill="#e81414"/>
<line x1="970.81" y1="933.16" x2="996.25" y2="951.34" stroke="#e81414" stroke-width="1.55" />
<polygon points="1000.1,954.1 994.4,953.1 997.3,949.0" fill="#e81414"/>
<text transform="translate(952.52,912.26) scale(0.93,1)" font-size="11.4" font-weight="bold" text-anchor="start" fill="#000" >TC</text>
<text transform="translate(966.11,910.95) scale(0.93,1)" font-size="11.4" font-weight="bold" text-anchor="start" fill="#000" >CIP</text>
<text transform="translate(985.97,908.86) scale(0.93,1)" font-size="11.4" font-weight="bold" text-anchor="start" fill="#000" >SMZ</text>
<text transform="translate(995.64,918.01) scale(0.93,1)" font-size="11.4" font-weight="bold" text-anchor="start" fill="#000" >NP</text>
<text transform="translate(1038.75,910.17) scale(0.93,1)" font-size="11.4" font-weight="bold" text-anchor="start" fill="#000" >CPL</text>
<text transform="translate(1081.34,904.42) scale(0.93,1)" font-size="11.4" font-weight="bold" text-anchor="start" fill="#000" >NBA</text>
<text transform="translate(1059.65,927.94) scale(0.93,1)" font-size="11.4" font-weight="bold" text-anchor="start" fill="#000" >NB</text>
<text transform="translate(927.70,924.54) scale(0.93,1)" font-size="11.4" font-weight="bold" text-anchor="start" fill="#000" >CTC</text>
<text transform="translate(907.58,933.16) scale(0.93,1)" font-size="11.4" font-weight="bold" text-anchor="start" fill="#000" >PCM</text>
<text transform="translate(994.85,939.70) scale(0.93,1)" font-size="11.4" font-weight="bold" text-anchor="start" fill="#000" >HBA</text>
<text transform="translate(915.15,946.23) scale(0.93,1)" font-size="11.4" font-weight="bold" text-anchor="start" fill="#000" >BPA</text>
<text transform="translate(942.85,951.98) scale(0.93,1)" font-size="11.4" font-weight="bold" text-anchor="start" fill="#000" >CBZ</text>
<text transform="translate(924.56,960.08) scale(0.93,1)" font-size="11.4" font-weight="bold" text-anchor="start" fill="#000" >NPX</text>
<text transform="translate(962.97,964.52) scale(0.93,1)" font-size="11.4" font-weight="bold" text-anchor="start" fill="#000" >CP</text>
<text transform="translate(977.87,967.92) scale(0.93,1)" font-size="11.4" font-weight="bold" text-anchor="start" fill="#000" >SN</text>
<text transform="translate(999.55,962.69) scale(0.93,1)" font-size="11.4" font-weight="bold" text-anchor="start" fill="#000" >SMT</text>
<line x1="910.71" y1="883.52" x2="933.71" y2="883.52" stroke="#f01414" stroke-width="1" />
<rect x="910.71" y="890.57" width="22.99" height="10.71" fill="#f9bbbb" stroke="none" stroke-width="1" />
<text transform="translate(936.84,886.13)" font-size="8.6" font-weight="bold" text-anchor="start" fill="#000" textLength="77.0" lengthAdjust="spacingAndGlyphs" >Linear fit of Cu-SAC</text>
<text transform="translate(936.84,899.20)" font-size="8.6" font-weight="bold" text-anchor="start" fill="#000" textLength="90.5" lengthAdjust="spacingAndGlyphs" >95% Confidence bands</text>
<text transform="translate(917.24,995.88) scale(0.97,1)" font-size="12.6" font-weight="bold" text-anchor="start" fill="#000" >R<tspan font-size="7.6" dy="-4.6">2</tspan><tspan dy="4.6">=0.763</tspan></text>
<text transform="translate(917.24,1012.86)" font-size="13" font-weight="bold" text-anchor="start" fill="#000" textLength="162.0" lengthAdjust="spacingAndGlyphs" >y=0.45(±0.07)x-0.82(±0.32)</text>
<rect x="902.10" y="873.60" width="212.90" height="152.30" fill="none" stroke="#000" stroke-width="1.3" />
<line x1="902.10" y1="1025.90" x2="902.10" y2="1029.10" stroke="#000" stroke-width="1.1" />
<text transform="translate(902.10,1040.10) scale(0.98,1)" font-size="11" font-weight="bold" text-anchor="middle" fill="#000" >3.5</text>
<line x1="937.75" y1="1025.90" x2="937.75" y2="1029.10" stroke="#000" stroke-width="1.1" />
<text transform="translate(937.75,1040.10) scale(0.98,1)" font-size="11" font-weight="bold" text-anchor="middle" fill="#000" >4.0</text>
<line x1="973.40" y1="1025.90" x2="973.40" y2="1029.10" stroke="#000" stroke-width="1.1" />
<text transform="translate(973.40,1040.10) scale(0.98,1)" font-size="11" font-weight="bold" text-anchor="middle" fill="#000" >4.5</text>
<line x1="1009.05" y1="1025.90" x2="1009.05" y2="1029.10" stroke="#000" stroke-width="1.1" />
<text transform="translate(1009.05,1040.10) scale(0.98,1)" font-size="11" font-weight="bold" text-anchor="middle" fill="#000" >5.0</text>
<line x1="1044.70" y1="1025.90" x2="1044.70" y2="1029.10" stroke="#000" stroke-width="1.1" />
<text transform="translate(1044.70,1040.10) scale(0.98,1)" font-size="11" font-weight="bold" text-anchor="middle" fill="#000" >5.5</text>
<line x1="1080.35" y1="1025.90" x2="1080.35" y2="1029.10" stroke="#000" stroke-width="1.1" />
<text transform="translate(1080.35,1040.10) scale(0.98,1)" font-size="11" font-weight="bold" text-anchor="middle" fill="#000" >6.0</text>
<line x1="1116.00" y1="1025.90" x2="1116.00" y2="1029.10" stroke="#000" stroke-width="1.1" />
<text transform="translate(1116.00,1040.10) scale(0.98,1)" font-size="11" font-weight="bold" text-anchor="middle" fill="#000" >6.5</text>
<line x1="919.93" y1="1025.90" x2="919.93" y2="1027.70" stroke="#000" stroke-width="0.9" />
<line x1="955.58" y1="1025.90" x2="955.58" y2="1027.70" stroke="#000" stroke-width="0.9" />
<line x1="991.23" y1="1025.90" x2="991.23" y2="1027.70" stroke="#000" stroke-width="0.9" />
<line x1="1026.88" y1="1025.90" x2="1026.88" y2="1027.70" stroke="#000" stroke-width="0.9" />
<line x1="1062.53" y1="1025.90" x2="1062.53" y2="1027.70" stroke="#000" stroke-width="0.9" />
<line x1="1098.17" y1="1025.90" x2="1098.17" y2="1027.70" stroke="#000" stroke-width="0.9" />
<line x1="898.90" y1="885.70" x2="902.10" y2="885.70" stroke="#000" stroke-width="1.1" />
<text transform="translate(898.20,889.60) scale(0.98,1)" font-size="11" font-weight="bold" text-anchor="end" fill="#000" >3</text>
<line x1="900.30" y1="897.40" x2="902.10" y2="897.40" stroke="#000" stroke-width="0.9" />
<line x1="898.90" y1="909.10" x2="902.10" y2="909.10" stroke="#000" stroke-width="1.1" />
<text transform="translate(898.20,913.00) scale(0.98,1)" font-size="11" font-weight="bold" text-anchor="end" fill="#000" >2</text>
<line x1="900.30" y1="920.80" x2="902.10" y2="920.80" stroke="#000" stroke-width="0.9" />
<line x1="898.90" y1="932.50" x2="902.10" y2="932.50" stroke="#000" stroke-width="1.1" />
<text transform="translate(898.20,936.40) scale(0.98,1)" font-size="11" font-weight="bold" text-anchor="end" fill="#000" >1</text>
<line x1="900.30" y1="944.20" x2="902.10" y2="944.20" stroke="#000" stroke-width="0.9" />
<line x1="898.90" y1="955.90" x2="902.10" y2="955.90" stroke="#000" stroke-width="1.1" />
<text transform="translate(898.20,959.80) scale(0.98,1)" font-size="11" font-weight="bold" text-anchor="end" fill="#000" >0</text>
<line x1="900.30" y1="967.60" x2="902.10" y2="967.60" stroke="#000" stroke-width="0.9" />
<line x1="898.90" y1="979.30" x2="902.10" y2="979.30" stroke="#000" stroke-width="1.1" />
<text transform="translate(898.20,983.20) scale(0.98,1)" font-size="11" font-weight="bold" text-anchor="end" fill="#000" >-1</text>
<line x1="900.30" y1="991.00" x2="902.10" y2="991.00" stroke="#000" stroke-width="0.9" />
<line x1="898.90" y1="1002.70" x2="902.10" y2="1002.70" stroke="#000" stroke-width="1.1" />
<text transform="translate(898.20,1006.60) scale(0.98,1)" font-size="11" font-weight="bold" text-anchor="end" fill="#000" >-2</text>
<line x1="900.30" y1="1014.40" x2="902.10" y2="1014.40" stroke="#000" stroke-width="0.9" />
<line x1="898.90" y1="1026.10" x2="902.10" y2="1026.10" stroke="#000" stroke-width="1.1" />
<text transform="translate(898.20,1030.00) scale(0.98,1)" font-size="11" font-weight="bold" text-anchor="end" fill="#000" >-3</text>
<text transform="translate(900.30,1056.00)" font-size="12.6" font-weight="bold" text-anchor="start" fill="#000" textLength="203.7" lengthAdjust="spacingAndGlyphs" >LUMO<tspan font-size="7.8" dy="3.2">(Cu-SAC/PMS)</tspan><tspan dy="-3.2">-HOMO</tspan><tspan font-size="7.8" dy="3.2">(Pollutants)</tspan><tspan dy="-3.2"> (eV)</tspan></text>
<text transform="translate(882.30,950.00) rotate(-90)" font-size="11.8" font-weight="bold" text-anchor="middle" fill="#000" textLength="137.0" lengthAdjust="spacingAndGlyphs" >Electrophilicity index (eV)</text>
<text transform="translate(882.00,877.00) scale(1.08,1)" font-size="24.5" font-weight="bold" text-anchor="start" fill="#000" >N</text>
</svg>
</body></html>
